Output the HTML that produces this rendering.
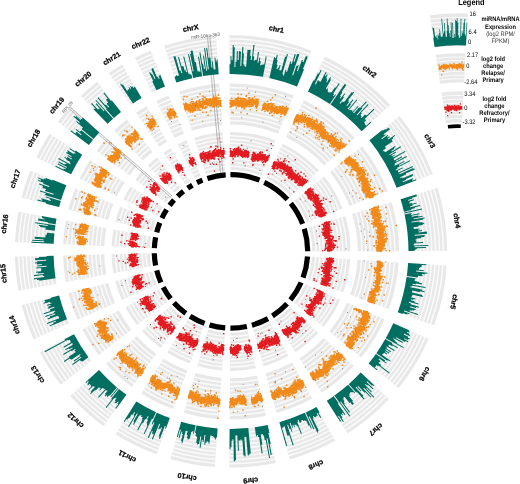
<!DOCTYPE html><html><head><meta charset="utf-8"><style>html,body{margin:0;padding:0;background:#fff;width:520px;height:484px;overflow:hidden}svg{display:block;font-family:"Liberation Sans",sans-serif;text-rendering:geometricPrecision}</style></head><body>
<svg width="520" height="484" viewBox="0 0 520 484">
<path fill="#e8e8e8" d="M230.07 131.9A119.5 119.5 0 0 1 275.46 140.48L261.25 175.94A81.3 81.3 0 0 0 230.37 170.1ZM229.69 83.41A168 168 0 0 1 293.5 95.46L278.17 133.7A126.8 126.8 0 0 0 230.01 124.6ZM229.32 35.21A216.2 216.2 0 0 1 311.43 50.72L297.04 86.64A177.5 177.5 0 0 0 229.62 73.91ZM282.84 143.73A119.5 119.5 0 0 1 318.95 170.5L290.84 196.36A81.3 81.3 0 0 0 266.27 178.15ZM303.88 100.03A168 168 0 0 1 354.65 137.67L324.32 165.56A126.8 126.8 0 0 0 286.01 137.15ZM324.79 56.6A216.2 216.2 0 0 1 390.12 105.04L361.64 131.23A177.5 177.5 0 0 0 308 91.47ZM324.21 176.62A119.5 119.5 0 0 1 342.57 208.6L306.91 222.28A81.3 81.3 0 0 0 294.41 200.52ZM362.04 146.27A168 168 0 0 1 387.85 191.23L349.39 205.98A126.8 126.8 0 0 0 329.9 172.05ZM399.64 116.11A216.2 216.2 0 0 1 432.86 173.96L396.72 187.83A177.5 177.5 0 0 0 369.45 140.32ZM345.21 216.23A119.5 119.5 0 0 1 350.5 251.21L312.3 251.27A81.3 81.3 0 0 0 308.7 227.47ZM391.56 201.95A168 168 0 0 1 399 251.13L357.8 251.2A126.8 126.8 0 0 0 352.18 214.08ZM437.62 187.76A216.2 216.2 0 0 1 447.2 251.06L408.5 251.12A177.5 177.5 0 0 0 400.64 199.15ZM350.24 259.28A119.5 119.5 0 0 1 343.27 292.33L307.38 279.25A81.3 81.3 0 0 0 312.12 256.76ZM398.63 262.47A168 168 0 0 1 388.84 308.94L350.13 294.83A126.8 126.8 0 0 0 357.52 259.76ZM446.73 265.65A216.2 216.2 0 0 1 434.12 325.45L397.76 312.2A177.5 177.5 0 0 0 408.11 263.1ZM340.25 299.81A119.5 119.5 0 0 1 323.62 326.91L294.01 302.77A81.3 81.3 0 0 0 305.33 284.34ZM384.6 319.46A168 168 0 0 1 361.21 357.56L329.28 331.52A126.8 126.8 0 0 0 346.93 302.77ZM428.66 338.99A216.2 216.2 0 0 1 398.57 388.02L368.57 363.56A177.5 177.5 0 0 0 393.28 323.31ZM318.31 332.99A119.5 119.5 0 0 1 295.52 351.99L274.89 319.83A81.3 81.3 0 0 0 290.4 306.91ZM353.75 366.1A168 168 0 0 1 321.7 392.81L299.46 358.13A126.8 126.8 0 0 0 323.65 337.97ZM388.97 399.01A216.2 216.2 0 0 1 347.72 433.38L326.83 400.81A177.5 177.5 0 0 0 360.69 372.59ZM288.58 356.11A119.5 119.5 0 0 1 263.56 366.38L253.15 329.62A81.3 81.3 0 0 0 270.17 322.64ZM311.95 398.61A168 168 0 0 1 276.78 413.04L265.55 373.4A126.8 126.8 0 0 0 292.1 362.51ZM335.18 440.85A216.2 216.2 0 0 1 289.92 459.42L279.37 422.18A177.5 177.5 0 0 0 316.53 406.94ZM255.73 368.31A119.5 119.5 0 0 1 230.07 370.9L230.37 332.7A81.3 81.3 0 0 0 247.83 330.94ZM265.77 415.76A168 168 0 0 1 229.7 419.39L230.02 378.2A126.8 126.8 0 0 0 257.24 375.45ZM275.74 462.92A216.2 216.2 0 0 1 229.32 467.59L229.62 428.89A177.5 177.5 0 0 0 267.73 425.06ZM222.01 370.56A119.5 119.5 0 0 1 197.48 366.1L208.19 329.44A81.3 81.3 0 0 0 224.88 332.47ZM218.36 418.92A168 168 0 0 1 183.87 412.65L195.43 373.11A126.8 126.8 0 0 0 221.46 377.84ZM214.74 466.99A216.2 216.2 0 0 1 170.35 458.92L181.21 421.77A177.5 177.5 0 0 0 217.65 428.4ZM189.81 363.58A119.5 119.5 0 0 1 167.23 352.46L187.61 320.15A81.3 81.3 0 0 0 202.98 327.72ZM173.1 409.11A168 168 0 0 1 141.34 393.48L163.33 358.63A126.8 126.8 0 0 0 187.3 370.43ZM156.48 454.35A216.2 216.2 0 0 1 115.62 434.24L136.27 401.51A177.5 177.5 0 0 0 169.82 418.02ZM160.55 347.93A119.5 119.5 0 0 1 142.12 331.28L170.53 305.74A81.3 81.3 0 0 0 183.07 317.07ZM131.96 387.1A168 168 0 0 1 106.04 363.7L136.69 336.16A126.8 126.8 0 0 0 156.25 353.82ZM103.54 426.04A216.2 216.2 0 0 1 70.19 395.91L98.98 370.05A177.5 177.5 0 0 0 126.36 394.78ZM136.93 325.1A119.5 119.5 0 0 1 125.33 307.2L159.11 289.37A81.3 81.3 0 0 0 167 301.54ZM98.75 355.01A168 168 0 0 1 82.44 329.85L118.88 310.61A126.8 126.8 0 0 0 131.18 329.6ZM60.81 384.73A216.2 216.2 0 0 1 39.82 352.36L74.04 334.29A177.5 177.5 0 0 0 91.27 360.87ZM121.81 299.95A119.5 119.5 0 0 1 115.25 281.09L152.25 271.6A81.3 81.3 0 0 0 156.71 284.43ZM77.49 319.65A168 168 0 0 1 68.27 293.14L108.18 282.91A126.8 126.8 0 0 0 115.13 302.91ZM33.44 339.23A216.2 216.2 0 0 1 21.58 305.12L59.07 295.5A177.5 177.5 0 0 0 68.81 323.51ZM113.51 273.21A119.5 119.5 0 0 1 111.54 254.29L149.72 253.37A81.3 81.3 0 0 0 151.07 266.24ZM65.82 282.07A168 168 0 0 1 63.05 255.47L104.24 254.47A126.8 126.8 0 0 0 106.33 274.55ZM18.43 290.86A216.2 216.2 0 0 1 14.86 256.64L53.55 255.7A177.5 177.5 0 0 0 56.48 283.8ZM111.61 246.23A119.5 119.5 0 0 1 113.53 229.48L151.08 236.49A81.3 81.3 0 0 0 149.78 247.88ZM63.16 244.12A168 168 0 0 1 65.85 220.59L106.35 228.14A126.8 126.8 0 0 0 104.32 245.91ZM15 242.04A216.2 216.2 0 0 1 18.47 211.74L56.51 218.84A177.5 177.5 0 0 0 53.67 243.71ZM115.27 221.6A119.5 119.5 0 0 1 120.12 206.84L155.56 221.09A81.3 81.3 0 0 0 152.27 231.13ZM68.31 209.51A168 168 0 0 1 75.11 188.76L113.34 204.12A126.8 126.8 0 0 0 108.2 219.78ZM21.63 197.49A216.2 216.2 0 0 1 30.39 170.79L66.3 185.22A177.5 177.5 0 0 0 59.11 207.14ZM123.38 199.46A119.5 119.5 0 0 1 130.73 186.39L162.78 207.17A81.3 81.3 0 0 0 157.78 216.07ZM79.7 178.38A168 168 0 0 1 90.03 160.01L124.6 182.42A126.8 126.8 0 0 0 116.8 196.29ZM36.29 157.43A216.2 216.2 0 0 1 49.59 133.79L82.06 154.84A177.5 177.5 0 0 0 71.14 174.25ZM135.34 179.77A119.5 119.5 0 0 1 142.3 171.33L170.65 196.92A81.3 81.3 0 0 0 165.92 202.67ZM96.52 150.7A168 168 0 0 1 106.3 138.83L136.88 166.43A126.8 126.8 0 0 0 129.5 175.4ZM57.94 121.81A216.2 216.2 0 0 1 70.52 106.53L99.24 132.46A177.5 177.5 0 0 0 88.92 145.01ZM147.9 165.52A119.5 119.5 0 0 1 156.95 157.6L180.62 187.59A81.3 81.3 0 0 0 174.47 192.97ZM114.18 130.67A168 168 0 0 1 126.9 119.54L152.43 151.88A126.8 126.8 0 0 0 142.83 160.28ZM80.66 96.03A216.2 216.2 0 0 1 97.04 81.71L121.02 112.08A177.5 177.5 0 0 0 107.57 123.84ZM163.45 152.82A119.5 119.5 0 0 1 170.82 148.16L190.06 181.16A81.3 81.3 0 0 0 185.05 184.33ZM136.04 112.81A168 168 0 0 1 146.4 106.26L167.14 141.85A126.8 126.8 0 0 0 159.33 146.8ZM108.79 73.05A216.2 216.2 0 0 1 122.12 64.62L141.61 98.05A177.5 177.5 0 0 0 130.67 104.98ZM177.92 144.33A119.5 119.5 0 0 1 186.58 140.46L200.78 175.92A81.3 81.3 0 0 0 194.89 178.56ZM156.38 100.88A168 168 0 0 1 168.56 95.44L183.87 133.68A126.8 126.8 0 0 0 174.68 137.79ZM134.98 57.69A216.2 216.2 0 0 1 150.64 50.69L165.03 86.62A177.5 177.5 0 0 0 152.16 92.37ZM194.17 137.72A119.5 119.5 0 0 1 222.7 132.19L225.36 170.3A81.3 81.3 0 0 0 205.94 174.06ZM179.23 91.58A168 168 0 0 1 219.34 83.81L222.2 124.91A126.8 126.8 0 0 0 191.92 130.77ZM164.37 45.72A216.2 216.2 0 0 1 215.99 35.72L218.68 74.33A177.5 177.5 0 0 0 176.3 82.54Z"/>
<path fill="none" stroke="#fbfbfb" stroke-width="1.5" d="M230.34 166.28A85.12 85.12 0 0 1 262.67 172.39M230.31 162.46A88.94 88.94 0 0 1 264.09 168.84M230.28 158.64A92.76 92.76 0 0 1 265.51 165.3M230.25 154.82A96.58 96.58 0 0 1 266.93 161.75M230.22 151A100.4 100.4 0 0 1 268.35 158.21M230.19 147.18A104.22 104.22 0 0 1 269.77 154.66M230.16 143.36A108.04 108.04 0 0 1 271.19 151.12M230.13 139.54A111.86 111.86 0 0 1 272.62 147.57M230.1 135.72A115.68 115.68 0 0 1 274.04 144.02M229.98 120.48A130.92 130.92 0 0 1 279.71 129.88M229.95 116.36A135.04 135.04 0 0 1 281.24 126.05M229.92 112.24A139.16 139.16 0 0 1 282.77 122.23M229.89 108.12A143.28 143.28 0 0 1 284.31 118.4M229.85 104A147.4 147.4 0 0 1 285.84 114.58M229.82 99.88A151.52 151.52 0 0 1 287.37 110.76M229.79 95.76A155.64 155.64 0 0 1 288.9 106.93M229.76 91.64A159.76 159.76 0 0 1 290.44 103.11M229.73 87.52A163.88 163.88 0 0 1 291.97 99.28M229.59 70.04A181.37 181.37 0 0 1 298.48 83.05M229.56 66.17A185.24 185.24 0 0 1 299.92 79.46M229.53 62.3A189.11 189.11 0 0 1 301.36 75.86M229.5 58.43A192.98 192.98 0 0 1 302.8 72.27M229.47 54.56A196.85 196.85 0 0 1 304.24 68.68M229.44 50.69A200.72 200.72 0 0 1 305.68 65.09M229.41 46.82A204.59 204.59 0 0 1 307.11 61.5M229.38 42.95A208.46 208.46 0 0 1 308.55 57.9M229.35 39.08A212.33 212.33 0 0 1 309.99 54.31M267.93 174.71A85.12 85.12 0 0 1 293.65 193.77M269.58 171.27A88.94 88.94 0 0 1 296.46 191.19M271.24 167.82A92.76 92.76 0 0 1 299.27 188.6M272.9 164.38A96.58 96.58 0 0 1 302.08 186.02M274.56 160.94A100.4 100.4 0 0 1 304.89 183.43M276.21 157.5A104.22 104.22 0 0 1 307.71 180.84M277.87 154.06A108.04 108.04 0 0 1 310.52 178.26M279.53 150.61A111.86 111.86 0 0 1 313.33 175.67M281.19 147.17A115.68 115.68 0 0 1 316.14 173.09M287.8 133.44A130.92 130.92 0 0 1 327.36 162.77M289.58 129.73A135.04 135.04 0 0 1 330.39 159.98M291.37 126.02A139.16 139.16 0 0 1 333.42 157.19M293.16 122.31A143.28 143.28 0 0 1 336.45 154.4M294.95 118.59A147.4 147.4 0 0 1 339.49 151.61M296.73 114.88A151.52 151.52 0 0 1 342.52 148.82M298.52 111.17A155.64 155.64 0 0 1 345.55 146.03M300.31 107.46A159.76 159.76 0 0 1 348.58 143.24M302.1 103.74A163.88 163.88 0 0 1 351.61 140.46M309.68 87.99A181.37 181.37 0 0 1 364.49 128.61M311.36 84.5A185.24 185.24 0 0 1 367.34 125.99M313.04 81.01A189.11 189.11 0 0 1 370.18 123.37M314.72 77.53A192.98 192.98 0 0 1 373.03 120.75M316.4 74.04A196.85 196.85 0 0 1 375.88 118.13M318.08 70.55A200.72 200.72 0 0 1 378.73 115.51M319.76 67.07A204.59 204.59 0 0 1 381.58 112.89M321.44 63.58A208.46 208.46 0 0 1 384.43 110.28M323.11 60.09A212.33 212.33 0 0 1 387.27 107.66M297.39 198.13A85.12 85.12 0 0 1 310.47 220.91M300.37 195.74A88.94 88.94 0 0 1 314.04 219.54M303.35 193.35A92.76 92.76 0 0 1 317.61 218.18M306.33 190.96A96.58 96.58 0 0 1 321.17 216.81M309.31 188.57A100.4 100.4 0 0 1 324.74 215.44M312.29 186.18A104.22 104.22 0 0 1 328.31 214.07M315.27 183.79A108.04 108.04 0 0 1 331.87 212.7M318.25 181.4A111.86 111.86 0 0 1 335.44 211.34M321.23 179.01A115.68 115.68 0 0 1 339.01 209.97M333.12 169.47A130.92 130.92 0 0 1 353.23 204.51M336.33 166.9A135.04 135.04 0 0 1 357.08 203.03M339.55 164.32A139.16 139.16 0 0 1 360.93 201.56M342.76 161.74A143.28 143.28 0 0 1 364.77 200.08M345.97 159.16A147.4 147.4 0 0 1 368.62 198.61M349.19 156.58A151.52 151.52 0 0 1 372.47 197.13M352.4 154A155.64 155.64 0 0 1 376.31 195.65M355.61 151.43A159.76 159.76 0 0 1 380.16 194.18M358.83 148.85A163.88 163.88 0 0 1 384.01 192.7M372.47 137.9A181.37 181.37 0 0 1 400.34 186.44M375.49 135.48A185.24 185.24 0 0 1 403.95 185.05M378.51 133.06A189.11 189.11 0 0 1 407.56 183.67M381.52 130.64A192.98 192.98 0 0 1 411.18 182.28M384.54 128.22A196.85 196.85 0 0 1 414.79 180.89M387.56 125.79A200.72 200.72 0 0 1 418.4 179.51M390.58 123.37A204.59 204.59 0 0 1 422.02 178.12M393.6 120.95A208.46 208.46 0 0 1 425.63 176.74M396.62 118.53A212.33 212.33 0 0 1 429.24 175.35M312.35 226.35A85.12 85.12 0 0 1 316.12 251.26M316 225.22A88.94 88.94 0 0 1 319.94 251.26M319.65 224.1A92.76 92.76 0 0 1 323.76 251.25M323.3 222.97A96.58 96.58 0 0 1 327.58 251.25M326.95 221.85A100.4 100.4 0 0 1 331.4 251.24M330.6 220.72A104.22 104.22 0 0 1 335.22 251.23M334.25 219.6A108.04 108.04 0 0 1 339.04 251.23M337.9 218.47A111.86 111.86 0 0 1 342.86 251.22M341.56 217.35A115.68 115.68 0 0 1 346.68 251.22M356.12 212.86A130.92 130.92 0 0 1 361.92 251.19M360.06 211.65A135.04 135.04 0 0 1 366.04 251.19M364 210.44A139.16 139.16 0 0 1 370.16 251.18M367.93 209.23A143.28 143.28 0 0 1 374.28 251.17M371.87 208.01A147.4 147.4 0 0 1 378.4 251.17M375.81 206.8A151.52 151.52 0 0 1 382.52 251.16M379.75 205.59A155.64 155.64 0 0 1 386.64 251.15M383.68 204.38A159.76 159.76 0 0 1 390.76 251.15M387.62 203.16A163.88 163.88 0 0 1 394.88 251.14M404.34 198.01A181.37 181.37 0 0 1 412.37 251.11M408.03 196.88A185.24 185.24 0 0 1 416.24 251.11M411.73 195.74A189.11 189.11 0 0 1 420.11 251.1M415.43 194.6A192.98 192.98 0 0 1 423.98 251.09M419.13 193.46A196.85 196.85 0 0 1 427.85 251.09M422.83 192.32A200.72 200.72 0 0 1 431.72 251.08M426.53 191.18A204.59 204.59 0 0 1 435.59 251.08M430.23 190.04A208.46 208.46 0 0 1 439.46 251.07M433.92 188.9A212.33 212.33 0 0 1 443.33 251.06M315.93 257.01A85.12 85.12 0 0 1 310.97 280.55M319.75 257.26A88.94 88.94 0 0 1 314.56 281.86M323.56 257.51A92.76 92.76 0 0 1 318.15 283.17M327.37 257.76A96.58 96.58 0 0 1 321.74 284.48M331.18 258.02A100.4 100.4 0 0 1 325.33 285.79M334.99 258.27A104.22 104.22 0 0 1 328.92 287.1M338.81 258.52A108.04 108.04 0 0 1 332.51 288.4M342.62 258.77A111.86 111.86 0 0 1 336.09 289.71M346.43 259.02A115.68 115.68 0 0 1 339.68 291.02M361.64 260.03A130.92 130.92 0 0 1 354 296.24M365.75 260.3A135.04 135.04 0 0 1 357.87 297.65M369.86 260.57A139.16 139.16 0 0 1 361.74 299.06M373.97 260.84A143.28 143.28 0 0 1 365.61 300.47M378.08 261.11A147.4 147.4 0 0 1 369.48 301.89M382.19 261.39A151.52 151.52 0 0 1 373.36 303.3M386.3 261.66A155.64 155.64 0 0 1 377.23 304.71M390.41 261.93A159.76 159.76 0 0 1 381.1 306.12M394.52 262.2A163.88 163.88 0 0 1 384.97 307.53M411.98 263.35A181.37 181.37 0 0 1 401.4 313.52M415.84 263.61A185.24 185.24 0 0 1 405.04 314.85M419.7 263.86A189.11 189.11 0 0 1 408.67 316.17M423.56 264.12A192.98 192.98 0 0 1 412.31 317.5M427.42 264.37A196.85 196.85 0 0 1 415.94 318.82M431.28 264.63A200.72 200.72 0 0 1 419.58 320.15M435.15 264.88A204.59 204.59 0 0 1 423.22 321.47M439.01 265.14A208.46 208.46 0 0 1 426.85 322.8M442.87 265.39A212.33 212.33 0 0 1 430.49 324.12M308.82 285.88A85.12 85.12 0 0 1 296.97 305.19M312.31 287.43A88.94 88.94 0 0 1 299.93 307.6M315.81 288.98A92.76 92.76 0 0 1 302.89 310.01M319.3 290.53A96.58 96.58 0 0 1 305.85 312.43M322.79 292.08A100.4 100.4 0 0 1 308.82 314.84M326.28 293.62A104.22 104.22 0 0 1 311.78 317.26M329.78 295.17A108.04 108.04 0 0 1 314.74 319.67M333.27 296.72A111.86 111.86 0 0 1 317.7 322.08M336.76 298.27A115.68 115.68 0 0 1 320.66 324.5M350.69 304.44A130.92 130.92 0 0 1 332.47 334.13M354.46 306.11A135.04 135.04 0 0 1 335.66 336.73M358.23 307.78A139.16 139.16 0 0 1 338.86 339.33M362 309.45A143.28 143.28 0 0 1 342.05 341.94M365.76 311.12A147.4 147.4 0 0 1 345.24 344.54M369.53 312.79A151.52 151.52 0 0 1 348.44 347.14M373.3 314.45A155.64 155.64 0 0 1 351.63 349.75M377.06 316.12A159.76 159.76 0 0 1 354.82 352.35M380.83 317.79A163.88 163.88 0 0 1 358.02 354.95M396.82 324.88A181.37 181.37 0 0 1 371.57 366.01M400.36 326.45A185.24 185.24 0 0 1 374.57 368.45M403.9 328.01A189.11 189.11 0 0 1 377.57 370.9M407.43 329.58A192.98 192.98 0 0 1 380.57 373.34M410.97 331.15A196.85 196.85 0 0 1 383.57 375.79M414.51 332.72A200.72 200.72 0 0 1 386.57 378.23M418.05 334.29A204.59 204.59 0 0 1 389.57 380.68M421.59 335.85A208.46 208.46 0 0 1 392.57 383.12M425.12 337.42A212.33 212.33 0 0 1 395.57 385.57M293.19 309.52A85.12 85.12 0 0 1 276.95 323.05M295.98 312.12A88.94 88.94 0 0 1 279.02 326.26M298.77 314.73A92.76 92.76 0 0 1 281.08 329.48M301.57 317.34A96.58 96.58 0 0 1 283.14 332.7M304.36 319.95A100.4 100.4 0 0 1 285.2 335.91M307.15 322.56A104.22 104.22 0 0 1 287.27 339.13M309.94 325.17A108.04 108.04 0 0 1 289.33 342.34M312.73 327.77A111.86 111.86 0 0 1 291.39 345.56M315.52 330.38A115.68 115.68 0 0 1 293.45 348.77M326.66 340.79A130.92 130.92 0 0 1 301.68 361.6M329.67 343.6A135.04 135.04 0 0 1 303.91 365.07M332.68 346.41A139.16 139.16 0 0 1 306.13 368.54M335.69 349.23A143.28 143.28 0 0 1 308.35 372M338.7 352.04A147.4 147.4 0 0 1 310.58 375.47M341.71 354.85A151.52 151.52 0 0 1 312.8 378.94M344.72 357.66A155.64 155.64 0 0 1 315.03 382.41M347.73 360.48A159.76 159.76 0 0 1 317.25 385.88M350.74 363.29A163.88 163.88 0 0 1 319.48 389.34M363.52 375.23A181.37 181.37 0 0 1 328.92 404.07M366.34 377.87A185.24 185.24 0 0 1 331.01 407.32M369.17 380.52A189.11 189.11 0 0 1 333.1 410.58M372 383.16A192.98 192.98 0 0 1 335.19 413.84M374.83 385.8A196.85 196.85 0 0 1 337.28 417.1M377.66 388.44A200.72 200.72 0 0 1 339.37 420.35M380.48 391.09A204.59 204.59 0 0 1 341.46 423.61M383.31 393.73A208.46 208.46 0 0 1 343.54 426.87M386.14 396.37A212.33 212.33 0 0 1 345.63 430.13M272.02 325.99A85.12 85.12 0 0 1 254.2 333.3M273.86 329.33A88.94 88.94 0 0 1 255.24 336.97M275.7 332.68A92.76 92.76 0 0 1 256.28 340.65M277.54 336.03A96.58 96.58 0 0 1 257.32 344.32M279.38 339.38A100.4 100.4 0 0 1 258.36 348M281.22 342.72A104.22 104.22 0 0 1 259.4 351.68M283.06 346.07A108.04 108.04 0 0 1 260.44 355.35M284.9 349.42A111.86 111.86 0 0 1 261.48 359.03M286.74 352.77A115.68 115.68 0 0 1 262.52 362.7M294.08 366.12A130.92 130.92 0 0 1 266.68 377.37M296.07 369.73A135.04 135.04 0 0 1 267.8 381.33M298.05 373.34A139.16 139.16 0 0 1 268.92 385.29M300.04 376.95A143.28 143.28 0 0 1 270.04 389.26M302.02 380.56A147.4 147.4 0 0 1 271.17 393.22M304.01 384.17A151.52 151.52 0 0 1 272.29 397.19M306 387.78A155.64 155.64 0 0 1 273.41 401.15M307.98 391.39A159.76 159.76 0 0 1 274.54 405.11M309.97 395A163.88 163.88 0 0 1 275.66 409.08M318.39 410.33A181.37 181.37 0 0 1 280.42 425.91M320.26 413.72A185.24 185.24 0 0 1 281.48 429.63M322.12 417.11A189.11 189.11 0 0 1 282.53 433.35M323.99 420.5A192.98 192.98 0 0 1 283.59 437.08M325.85 423.89A196.85 196.85 0 0 1 284.64 440.8M327.72 427.28A200.72 200.72 0 0 1 285.7 444.52M329.58 430.67A204.59 204.59 0 0 1 286.75 448.25M331.45 434.06A208.46 208.46 0 0 1 287.81 451.97M333.31 437.45A212.33 212.33 0 0 1 288.86 455.69M248.62 334.68A85.12 85.12 0 0 1 230.34 336.52M249.41 338.41A88.94 88.94 0 0 1 230.31 340.34M250.2 342.15A92.76 92.76 0 0 1 230.28 344.16M250.99 345.89A96.58 96.58 0 0 1 230.25 347.98M251.78 349.63A100.4 100.4 0 0 1 230.22 351.8M252.57 353.36A104.22 104.22 0 0 1 230.19 355.62M253.36 357.1A108.04 108.04 0 0 1 230.16 359.44M254.15 360.84A111.86 111.86 0 0 1 230.13 363.26M254.94 364.58A115.68 115.68 0 0 1 230.1 367.08M258.09 379.49A130.92 130.92 0 0 1 229.98 382.32M258.95 383.52A135.04 135.04 0 0 1 229.95 386.44M259.8 387.55A139.16 139.16 0 0 1 229.92 390.56M260.65 391.58A143.28 143.28 0 0 1 229.89 394.68M261.51 395.61A147.4 147.4 0 0 1 229.86 398.8M262.36 399.64A151.52 151.52 0 0 1 229.82 402.92M263.21 403.67A155.64 155.64 0 0 1 229.79 407.04M264.06 407.7A159.76 159.76 0 0 1 229.76 411.16M264.92 411.73A163.88 163.88 0 0 1 229.73 415.28M268.54 428.84A181.37 181.37 0 0 1 229.59 432.76M269.34 432.63A185.24 185.24 0 0 1 229.56 436.63M270.14 436.42A189.11 189.11 0 0 1 229.53 440.5M270.94 440.2A192.98 192.98 0 0 1 229.5 444.37M271.74 443.99A196.85 196.85 0 0 1 229.47 448.24M272.54 447.77A200.72 200.72 0 0 1 229.44 452.11M273.34 451.56A204.59 204.59 0 0 1 229.41 455.98M274.14 455.35A208.46 208.46 0 0 1 229.38 459.85M274.94 459.13A212.33 212.33 0 0 1 229.35 463.72M224.6 336.28A85.12 85.12 0 0 1 207.12 333.1M224.31 340.09A88.94 88.94 0 0 1 206.05 336.77M224.02 343.9A92.76 92.76 0 0 1 204.98 340.44M223.74 347.71A96.58 96.58 0 0 1 203.91 344.1M223.45 351.52A100.4 100.4 0 0 1 202.84 347.77M223.16 355.32A104.22 104.22 0 0 1 201.76 351.44M222.87 359.13A108.04 108.04 0 0 1 200.69 355.1M222.59 362.94A111.86 111.86 0 0 1 199.62 358.77M222.3 366.75A115.68 115.68 0 0 1 198.55 362.44M221.15 381.95A130.92 130.92 0 0 1 194.27 377.06M220.84 386.06A135.04 135.04 0 0 1 193.12 381.02M220.53 390.17A139.16 139.16 0 0 1 191.96 384.97M220.22 394.27A143.28 143.28 0 0 1 190.81 388.93M219.91 398.38A147.4 147.4 0 0 1 189.65 392.88M219.6 402.49A151.52 151.52 0 0 1 188.5 396.84M219.29 406.6A155.64 155.64 0 0 1 187.34 400.79M218.98 410.71A159.76 159.76 0 0 1 186.18 404.75M218.67 414.82A163.88 163.88 0 0 1 185.03 408.7M217.36 432.26A181.37 181.37 0 0 1 180.12 425.49M217.07 436.12A185.24 185.24 0 0 1 179.04 429.2M216.78 439.97A189.11 189.11 0 0 1 177.95 432.92M216.48 443.83A192.98 192.98 0 0 1 176.86 436.63M216.19 447.69A196.85 196.85 0 0 1 175.78 440.35M215.9 451.55A200.72 200.72 0 0 1 174.69 444.06M215.61 455.41A204.59 204.59 0 0 1 173.61 447.78M215.32 459.27A208.46 208.46 0 0 1 172.52 451.49M215.03 463.13A212.33 212.33 0 0 1 171.44 455.2M201.66 331.3A85.12 85.12 0 0 1 185.57 323.39M200.35 334.89A88.94 88.94 0 0 1 183.54 326.62M199.03 338.48A92.76 92.76 0 0 1 181.5 329.85M197.71 342.06A96.58 96.58 0 0 1 179.46 333.08M196.4 345.65A100.4 100.4 0 0 1 177.42 336.31M195.08 349.23A104.22 104.22 0 0 1 175.38 339.54M193.76 352.82A108.04 108.04 0 0 1 173.34 342.77M192.45 356.41A111.86 111.86 0 0 1 171.3 346M191.13 359.99A115.68 115.68 0 0 1 169.26 349.23M185.88 374.3A130.92 130.92 0 0 1 161.13 362.12M184.46 378.17A135.04 135.04 0 0 1 158.93 365.6M183.04 382.03A139.16 139.16 0 0 1 156.73 369.09M181.62 385.9A143.28 143.28 0 0 1 154.54 372.57M180.2 389.77A147.4 147.4 0 0 1 152.34 376.05M178.78 393.64A151.52 151.52 0 0 1 150.14 379.54M177.36 397.5A155.64 155.64 0 0 1 147.94 383.02M175.94 401.37A159.76 159.76 0 0 1 145.74 386.51M174.52 405.24A163.88 163.88 0 0 1 143.54 389.99M168.49 421.66A181.37 181.37 0 0 1 134.21 404.78M167.16 425.29A185.24 185.24 0 0 1 132.14 408.06M165.82 428.92A189.11 189.11 0 0 1 130.08 411.33M164.49 432.56A192.98 192.98 0 0 1 128.01 414.6M163.15 436.19A196.85 196.85 0 0 1 125.95 417.87M161.82 439.82A200.72 200.72 0 0 1 123.88 421.15M160.49 443.45A204.59 204.59 0 0 1 121.82 424.42M159.15 447.09A208.46 208.46 0 0 1 119.75 427.69M157.82 450.72A212.33 212.33 0 0 1 117.69 430.97M180.82 320.16A85.12 85.12 0 0 1 167.69 308.3M178.57 323.24A88.94 88.94 0 0 1 164.85 310.85M176.32 326.33A92.76 92.76 0 0 1 162.01 313.4M174.06 329.41A96.58 96.58 0 0 1 159.17 315.96M171.81 332.5A100.4 100.4 0 0 1 156.32 318.51M169.56 335.58A104.22 104.22 0 0 1 153.48 321.06M167.31 338.67A108.04 108.04 0 0 1 150.64 323.62M165.06 341.75A111.86 111.86 0 0 1 147.8 326.17M162.8 344.84A115.68 115.68 0 0 1 144.96 328.72M153.82 357.15A130.92 130.92 0 0 1 133.62 338.91M151.39 360.48A135.04 135.04 0 0 1 130.56 341.66M148.96 363.81A139.16 139.16 0 0 1 127.5 344.42M146.53 367.13A143.28 143.28 0 0 1 124.43 347.17M144.1 370.46A147.4 147.4 0 0 1 121.37 349.93M141.67 373.79A151.52 151.52 0 0 1 118.3 352.68M139.25 377.12A155.64 155.64 0 0 1 115.24 355.43M136.82 380.45A159.76 159.76 0 0 1 112.17 358.19M134.39 383.77A163.88 163.88 0 0 1 109.11 360.94M124.08 397.9A181.37 181.37 0 0 1 96.1 372.63M121.8 401.03A185.24 185.24 0 0 1 93.22 375.22M119.51 404.15A189.11 189.11 0 0 1 90.34 377.81M117.23 407.28A192.98 192.98 0 0 1 87.47 380.39M114.95 410.41A196.85 196.85 0 0 1 84.59 382.98M112.67 413.53A200.72 200.72 0 0 1 81.71 385.57M110.39 416.66A204.59 204.59 0 0 1 78.83 388.15M108.11 419.78A208.46 208.46 0 0 1 75.95 390.74M105.83 422.91A212.33 212.33 0 0 1 73.07 393.33M163.99 303.89A85.12 85.12 0 0 1 155.73 291.15M160.99 306.25A88.94 88.94 0 0 1 152.35 292.93M157.98 308.61A92.76 92.76 0 0 1 148.98 294.72M154.97 310.96A96.58 96.58 0 0 1 145.6 296.5M151.97 313.32A100.4 100.4 0 0 1 142.22 298.29M148.96 315.67A104.22 104.22 0 0 1 138.84 300.07M145.95 318.03A108.04 108.04 0 0 1 135.46 301.85M142.94 320.38A111.86 111.86 0 0 1 132.09 303.64M139.94 322.74A115.68 115.68 0 0 1 128.71 305.42M127.94 332.14A130.92 130.92 0 0 1 115.23 312.54M124.7 334.68A135.04 135.04 0 0 1 111.59 314.46M121.45 337.22A139.16 139.16 0 0 1 107.95 316.39M118.21 339.76A143.28 143.28 0 0 1 104.3 318.31M114.97 342.3A147.4 147.4 0 0 1 100.66 320.23M111.72 344.84A151.52 151.52 0 0 1 97.02 322.16M108.48 347.38A155.64 155.64 0 0 1 93.37 324.08M105.24 349.92A159.76 159.76 0 0 1 89.73 326.01M101.99 352.47A163.88 163.88 0 0 1 86.09 327.93M88.23 363.25A181.37 181.37 0 0 1 70.62 336.1M85.18 365.64A185.24 185.24 0 0 1 67.2 337.9M82.13 368.03A189.11 189.11 0 0 1 63.78 339.71M79.09 370.41A192.98 192.98 0 0 1 60.35 341.52M76.04 372.8A196.85 196.85 0 0 1 56.93 343.33M72.99 375.19A200.72 200.72 0 0 1 53.51 345.13M69.95 377.57A204.59 204.59 0 0 1 50.09 346.94M66.9 379.96A208.46 208.46 0 0 1 46.67 348.75M63.86 382.35A212.33 212.33 0 0 1 43.24 350.55M153.22 285.98A85.12 85.12 0 0 1 148.55 272.55M149.73 287.53A88.94 88.94 0 0 1 144.85 273.5M146.24 289.08A92.76 92.76 0 0 1 141.15 274.45M142.75 290.64A96.58 96.58 0 0 1 137.45 275.4M139.26 292.19A100.4 100.4 0 0 1 133.75 276.35M135.77 293.74A104.22 104.22 0 0 1 130.05 277.3M132.28 295.29A108.04 108.04 0 0 1 126.35 278.24M128.79 296.84A111.86 111.86 0 0 1 122.65 279.19M125.3 298.39A115.68 115.68 0 0 1 118.95 280.14M111.37 304.59A130.92 130.92 0 0 1 104.19 283.93M107.61 306.26A135.04 135.04 0 0 1 100.19 284.95M103.84 307.93A139.16 139.16 0 0 1 96.2 285.98M100.08 309.61A143.28 143.28 0 0 1 92.21 287M96.31 311.28A147.4 147.4 0 0 1 88.22 288.02M92.55 312.95A151.52 151.52 0 0 1 84.23 289.05M88.78 314.63A155.64 155.64 0 0 1 80.24 290.07M85.02 316.3A159.76 159.76 0 0 1 76.25 291.1M81.25 317.98A163.88 163.88 0 0 1 72.26 292.12M65.27 325.08A181.37 181.37 0 0 1 55.32 296.47M61.73 326.65A185.24 185.24 0 0 1 51.57 297.43M58.2 328.22A189.11 189.11 0 0 1 47.82 298.39M54.66 329.8A192.98 192.98 0 0 1 44.07 299.35M51.13 331.37A196.85 196.85 0 0 1 40.32 300.31M47.59 332.94A200.72 200.72 0 0 1 36.57 301.27M44.05 334.51A204.59 204.59 0 0 1 32.83 302.23M40.52 336.09A208.46 208.46 0 0 1 29.08 303.2M36.98 337.66A212.33 212.33 0 0 1 25.33 304.16M147.31 266.94A85.12 85.12 0 0 1 145.9 253.46M143.55 267.63A88.94 88.94 0 0 1 142.09 253.55M139.8 268.33A92.76 92.76 0 0 1 138.27 253.65M136.04 269.03A96.58 96.58 0 0 1 134.45 253.74M132.29 269.73A100.4 100.4 0 0 1 130.63 253.83M128.53 270.42A104.22 104.22 0 0 1 126.81 253.92M124.78 271.12A108.04 108.04 0 0 1 122.99 254.02M121.02 271.82A111.86 111.86 0 0 1 119.17 254.11M117.26 272.52A115.68 115.68 0 0 1 115.35 254.2M102.28 275.3A130.92 130.92 0 0 1 100.12 254.57M98.23 276.05A135.04 135.04 0 0 1 96 254.67M94.18 276.8A139.16 139.16 0 0 1 91.88 254.77M90.13 277.55A143.28 143.28 0 0 1 87.76 254.87M86.08 278.31A147.4 147.4 0 0 1 83.64 254.97M82.03 279.06A151.52 151.52 0 0 1 79.52 255.07M77.97 279.81A155.64 155.64 0 0 1 75.41 255.17M73.92 280.56A159.76 159.76 0 0 1 71.29 255.27M69.87 281.31A163.88 163.88 0 0 1 67.17 255.37M52.68 284.51A181.37 181.37 0 0 1 49.68 255.79M48.87 285.21A185.24 185.24 0 0 1 45.81 255.89M45.07 285.92A189.11 189.11 0 0 1 41.95 255.98M41.26 286.63A192.98 192.98 0 0 1 38.08 256.07M37.46 287.33A196.85 196.85 0 0 1 34.21 256.17M33.65 288.04A200.72 200.72 0 0 1 30.34 256.26M29.85 288.75A204.59 204.59 0 0 1 26.47 256.35M26.04 289.45A208.46 208.46 0 0 1 22.6 256.45M22.24 290.16A212.33 212.33 0 0 1 18.73 256.54M145.96 247.71A85.12 85.12 0 0 1 147.32 235.79M142.14 247.55A88.94 88.94 0 0 1 143.57 235.09M138.33 247.38A92.76 92.76 0 0 1 139.81 234.39M134.51 247.22A96.58 96.58 0 0 1 136.06 233.69M130.69 247.05A100.4 100.4 0 0 1 132.3 232.98M126.88 246.89A104.22 104.22 0 0 1 128.55 232.28M123.06 246.72A108.04 108.04 0 0 1 124.79 231.58M119.24 246.56A111.86 111.86 0 0 1 121.04 230.88M115.43 246.39A115.68 115.68 0 0 1 117.28 230.18M100.2 245.73A130.92 130.92 0 0 1 102.3 227.39M96.09 245.55A135.04 135.04 0 0 1 98.25 226.63M91.97 245.37A139.16 139.16 0 0 1 94.2 225.88M87.85 245.2A143.28 143.28 0 0 1 90.15 225.12M83.74 245.02A147.4 147.4 0 0 1 86.1 224.36M79.62 244.84A151.52 151.52 0 0 1 82.05 223.61M75.51 244.66A155.64 155.64 0 0 1 78 222.85M71.39 244.48A159.76 159.76 0 0 1 73.95 222.1M67.27 244.3A163.88 163.88 0 0 1 69.9 221.34M49.8 243.55A181.37 181.37 0 0 1 52.71 218.13M45.93 243.38A185.24 185.24 0 0 1 48.9 217.42M42.07 243.21A189.11 189.11 0 0 1 45.1 216.71M38.2 243.04A192.98 192.98 0 0 1 41.29 216M34.33 242.88A196.85 196.85 0 0 1 37.49 215.29M30.47 242.71A200.72 200.72 0 0 1 33.69 214.58M26.6 242.54A204.59 204.59 0 0 1 29.88 213.87M22.74 242.37A208.46 208.46 0 0 1 26.08 213.16M18.87 242.21A212.33 212.33 0 0 1 22.27 212.45M148.57 230.18A85.12 85.12 0 0 1 152.02 219.66M144.87 229.22A88.94 88.94 0 0 1 148.47 218.24M141.17 228.27A92.76 92.76 0 0 1 144.93 216.81M137.47 227.32A96.58 96.58 0 0 1 141.38 215.39M133.77 226.37A100.4 100.4 0 0 1 137.84 213.97M130.07 225.41A104.22 104.22 0 0 1 134.3 212.54M126.37 224.46A108.04 108.04 0 0 1 130.75 211.12M122.67 223.51A111.86 111.86 0 0 1 127.21 209.69M118.97 222.56A115.68 115.68 0 0 1 123.66 208.27M104.22 218.76A130.92 130.92 0 0 1 109.52 202.59M100.23 217.73A135.04 135.04 0 0 1 105.7 201.05M96.24 216.7A139.16 139.16 0 0 1 101.87 199.51M92.25 215.67A143.28 143.28 0 0 1 98.05 197.98M88.26 214.65A147.4 147.4 0 0 1 94.23 196.44M84.27 213.62A151.52 151.52 0 0 1 90.41 194.9M80.28 212.59A155.64 155.64 0 0 1 86.58 193.37M76.29 211.57A159.76 159.76 0 0 1 82.76 191.83M72.3 210.54A163.88 163.88 0 0 1 78.94 190.3M55.36 206.18A181.37 181.37 0 0 1 62.71 183.78M51.61 205.21A185.24 185.24 0 0 1 59.12 182.33M47.86 204.25A189.11 189.11 0 0 1 55.53 180.89M44.12 203.28A192.98 192.98 0 0 1 51.94 179.45M40.37 202.32A196.85 196.85 0 0 1 48.34 178M36.62 201.35A200.72 200.72 0 0 1 44.75 176.56M32.87 200.39A204.59 204.59 0 0 1 41.16 175.12M29.12 199.42A208.46 208.46 0 0 1 37.57 173.67M25.38 198.46A212.33 212.33 0 0 1 33.98 172.23M154.34 214.4A85.12 85.12 0 0 1 159.58 205.1M150.9 212.74A88.94 88.94 0 0 1 156.37 203.02M147.46 211.08A92.76 92.76 0 0 1 153.17 200.94M144.02 209.42A96.58 96.58 0 0 1 149.96 198.86M140.58 207.76A100.4 100.4 0 0 1 146.76 196.78M137.14 206.1A104.22 104.22 0 0 1 143.55 194.7M133.7 204.44A108.04 108.04 0 0 1 140.34 192.63M130.26 202.78A111.86 111.86 0 0 1 137.14 190.55M126.82 201.12A115.68 115.68 0 0 1 133.93 188.47M113.09 194.5A130.92 130.92 0 0 1 121.15 180.18M109.38 192.71A135.04 135.04 0 0 1 117.69 177.94M105.67 190.92A139.16 139.16 0 0 1 114.23 175.7M101.96 189.13A143.28 143.28 0 0 1 110.78 173.46M98.25 187.34A147.4 147.4 0 0 1 107.32 171.22M94.54 185.55A151.52 151.52 0 0 1 103.86 168.97M90.83 183.76A155.64 155.64 0 0 1 100.4 166.73M87.12 181.96A159.76 159.76 0 0 1 96.95 164.49M83.41 180.17A163.88 163.88 0 0 1 93.49 162.25M67.66 172.57A181.37 181.37 0 0 1 78.81 152.74M64.17 170.89A185.24 185.24 0 0 1 75.57 150.63M60.69 169.21A189.11 189.11 0 0 1 72.32 148.53M57.2 167.53A192.98 192.98 0 0 1 69.07 146.42M53.71 165.84A196.85 196.85 0 0 1 65.83 144.31M50.23 164.16A200.72 200.72 0 0 1 62.58 142.21M46.74 162.48A204.59 204.59 0 0 1 59.33 140.1M43.26 160.8A208.46 208.46 0 0 1 56.08 138M39.77 159.12A212.33 212.33 0 0 1 52.84 135.89M162.86 200.38A85.12 85.12 0 0 1 167.82 194.36M159.81 198.09A88.94 88.94 0 0 1 164.98 191.8M156.75 195.8A92.76 92.76 0 0 1 162.15 189.24M153.69 193.51A96.58 96.58 0 0 1 159.31 186.68M150.63 191.22A100.4 100.4 0 0 1 156.47 184.12M147.58 188.93A104.22 104.22 0 0 1 153.64 181.56M144.52 186.64A108.04 108.04 0 0 1 150.8 179M141.46 184.35A111.86 111.86 0 0 1 147.97 176.45M138.4 182.06A115.68 115.68 0 0 1 145.13 173.89M126.2 172.93A130.92 130.92 0 0 1 133.82 163.67M122.91 170.46A135.04 135.04 0 0 1 130.76 160.91M119.61 167.99A139.16 139.16 0 0 1 127.7 158.15M116.31 165.52A143.28 143.28 0 0 1 124.64 155.39M113.01 163.05A147.4 147.4 0 0 1 121.59 152.63M109.71 160.58A151.52 151.52 0 0 1 118.53 149.87M106.42 158.11A155.64 155.64 0 0 1 115.47 147.11M103.12 155.64A159.76 159.76 0 0 1 112.41 144.35M99.82 153.17A163.88 163.88 0 0 1 109.35 141.59M85.82 142.69A181.37 181.37 0 0 1 96.37 129.87M82.72 140.37A185.24 185.24 0 0 1 93.5 127.27M79.62 138.05A189.11 189.11 0 0 1 90.63 124.68M76.53 135.73A192.98 192.98 0 0 1 87.75 122.09M73.43 133.41A196.85 196.85 0 0 1 84.88 119.5M70.33 131.09A200.72 200.72 0 0 1 82.01 116.9M67.23 128.77A204.59 204.59 0 0 1 79.13 114.31M64.14 126.45A208.46 208.46 0 0 1 76.26 111.72M61.04 124.13A212.33 212.33 0 0 1 73.39 109.12M171.81 190.23A85.12 85.12 0 0 1 178.26 184.59M169.15 187.48A88.94 88.94 0 0 1 175.89 181.59M166.5 184.74A92.76 92.76 0 0 1 173.52 178.59M163.84 181.99A96.58 96.58 0 0 1 171.16 175.59M161.18 179.25A100.4 100.4 0 0 1 168.79 172.6M158.53 176.5A104.22 104.22 0 0 1 166.42 169.6M155.87 173.76A108.04 108.04 0 0 1 164.06 166.6M153.21 171.01A111.86 111.86 0 0 1 161.69 163.6M150.56 168.27A115.68 115.68 0 0 1 159.32 160.6M139.96 157.32A130.92 130.92 0 0 1 149.88 148.64M137.1 154.35A135.04 135.04 0 0 1 147.33 145.41M134.23 151.39A139.16 139.16 0 0 1 144.77 142.17M131.37 148.43A143.28 143.28 0 0 1 142.22 138.94M128.5 145.47A147.4 147.4 0 0 1 139.67 135.71M125.64 142.51A151.52 151.52 0 0 1 137.11 132.47M122.77 139.55A155.64 155.64 0 0 1 134.56 129.24M119.91 136.59A159.76 159.76 0 0 1 132.01 126M117.04 133.63A163.88 163.88 0 0 1 129.46 122.77M104.88 121.06A181.37 181.37 0 0 1 118.62 109.04M102.19 118.28A185.24 185.24 0 0 1 116.22 106.01M99.5 115.5A189.11 189.11 0 0 1 113.82 102.97M96.81 112.72A192.98 192.98 0 0 1 111.42 99.93M94.11 109.94A196.85 196.85 0 0 1 109.03 96.89M91.42 107.15A200.72 200.72 0 0 1 106.63 93.86M88.73 104.37A204.59 204.59 0 0 1 104.23 90.82M86.04 101.59A208.46 208.46 0 0 1 101.83 87.78M83.35 98.81A212.33 212.33 0 0 1 99.43 84.74M182.89 181.18A85.12 85.12 0 0 1 188.13 177.86M180.73 178.03A88.94 88.94 0 0 1 186.21 174.56M178.57 174.88A92.76 92.76 0 0 1 184.29 171.26M176.41 171.73A96.58 96.58 0 0 1 182.36 167.96M174.25 168.58A100.4 100.4 0 0 1 180.44 164.66M172.09 165.43A104.22 104.22 0 0 1 178.52 161.36M169.93 162.28A108.04 108.04 0 0 1 176.59 158.06M167.77 159.12A111.86 111.86 0 0 1 174.67 154.76M165.61 155.97A115.68 115.68 0 0 1 172.74 151.46M157 143.4A130.92 130.92 0 0 1 165.07 138.29M154.67 140A135.04 135.04 0 0 1 162.99 134.73M152.34 136.6A139.16 139.16 0 0 1 160.92 131.17M150.01 133.21A143.28 143.28 0 0 1 158.85 127.61M147.68 129.81A147.4 147.4 0 0 1 156.77 124.06M145.35 126.41A151.52 151.52 0 0 1 154.7 120.5M143.03 123.01A155.64 155.64 0 0 1 152.62 116.94M140.7 119.61A159.76 159.76 0 0 1 150.55 113.38M138.37 116.21A163.88 163.88 0 0 1 148.47 109.82M128.48 101.78A181.37 181.37 0 0 1 139.66 94.71M126.29 98.59A185.24 185.24 0 0 1 137.71 91.36M124.11 95.4A189.11 189.11 0 0 1 135.77 88.02M121.92 92.21A192.98 192.98 0 0 1 133.82 84.68M119.73 89.01A196.85 196.85 0 0 1 131.87 81.33M117.54 85.82A200.72 200.72 0 0 1 129.92 77.99M115.36 82.63A204.59 204.59 0 0 1 127.97 74.65M113.17 79.44A208.46 208.46 0 0 1 126.02 71.3M110.98 76.24A212.33 212.33 0 0 1 124.07 67.96M193.19 175.14A85.12 85.12 0 0 1 199.36 172.38M191.5 171.71A88.94 88.94 0 0 1 197.94 168.83M189.8 168.29A92.76 92.76 0 0 1 196.52 165.29M188.1 164.87A96.58 96.58 0 0 1 195.1 161.74M186.41 161.45A100.4 100.4 0 0 1 193.68 158.19M184.71 158.02A104.22 104.22 0 0 1 192.26 154.65M183.01 154.6A108.04 108.04 0 0 1 190.84 151.1M181.32 151.18A111.86 111.86 0 0 1 189.42 147.55M179.62 147.76A115.68 115.68 0 0 1 188 144.01M172.85 134.1A130.92 130.92 0 0 1 182.34 129.86M171.02 130.41A135.04 135.04 0 0 1 180.81 126.03M169.19 126.72A139.16 139.16 0 0 1 179.28 122.21M167.36 123.03A143.28 143.28 0 0 1 177.75 118.38M165.53 119.34A147.4 147.4 0 0 1 176.21 114.56M163.7 115.64A151.52 151.52 0 0 1 174.68 110.73M161.87 111.95A155.64 155.64 0 0 1 173.15 106.91M160.04 108.26A159.76 159.76 0 0 1 171.62 103.08M158.21 104.57A163.88 163.88 0 0 1 170.09 99.26M150.45 88.9A181.37 181.37 0 0 1 163.59 83.02M148.73 85.43A185.24 185.24 0 0 1 162.15 79.43M147.01 81.97A189.11 189.11 0 0 1 160.71 75.84M145.29 78.5A192.98 192.98 0 0 1 159.27 72.24M143.57 75.03A196.85 196.85 0 0 1 157.84 68.65M141.85 71.56A200.72 200.72 0 0 1 156.4 65.06M140.13 68.1A204.59 204.59 0 0 1 154.96 61.47M138.41 64.63A208.46 208.46 0 0 1 153.52 57.87M136.7 61.16A212.33 212.33 0 0 1 152.08 54.28M204.77 170.42A85.12 85.12 0 0 1 225.09 166.49M203.59 166.79A88.94 88.94 0 0 1 224.82 162.67M202.41 163.15A92.76 92.76 0 0 1 224.56 158.86M201.24 159.52A96.58 96.58 0 0 1 224.29 155.05M200.06 155.89A100.4 100.4 0 0 1 224.03 151.24M198.88 152.25A104.22 104.22 0 0 1 223.76 147.43M197.7 148.62A108.04 108.04 0 0 1 223.5 143.62M196.53 144.98A111.86 111.86 0 0 1 223.23 139.81M195.35 141.35A115.68 115.68 0 0 1 222.97 136M190.65 126.85A130.92 130.92 0 0 1 221.91 120.8M189.38 122.93A135.04 135.04 0 0 1 221.62 116.69M188.11 119.01A139.16 139.16 0 0 1 221.34 112.58M186.84 115.09A143.28 143.28 0 0 1 221.05 108.47M185.57 111.17A147.4 147.4 0 0 1 220.77 104.36M184.3 107.25A151.52 151.52 0 0 1 220.48 100.25M183.03 103.34A155.64 155.64 0 0 1 220.19 96.14M181.76 99.42A159.76 159.76 0 0 1 219.91 92.03M180.5 95.5A163.88 163.88 0 0 1 219.62 87.92M175.11 78.86A181.37 181.37 0 0 1 218.41 70.47M173.91 75.18A185.24 185.24 0 0 1 218.14 66.61M172.72 71.49A189.11 189.11 0 0 1 217.87 62.75M171.53 67.81A192.98 192.98 0 0 1 217.6 58.89M170.33 64.13A196.85 196.85 0 0 1 217.33 55.03M169.14 60.45A200.72 200.72 0 0 1 217.06 51.16M167.95 56.77A204.59 204.59 0 0 1 216.8 47.3M166.76 53.09A208.46 208.46 0 0 1 216.53 43.44M165.56 49.4A212.33 212.33 0 0 1 216.26 39.58"/>
<path fill="#000" d="M230.38 172.1A79.3 79.3 0 0 1 260.5 177.79L258.57 182.62A74.1 74.1 0 0 0 230.42 177.3ZM265.4 179.95A79.3 79.3 0 0 1 289.36 197.71L285.54 201.24A74.1 74.1 0 0 0 263.15 184.64ZM292.85 201.78A79.3 79.3 0 0 1 305.04 223L300.18 224.86A74.1 74.1 0 0 0 288.8 205.03ZM306.79 228.06A79.3 79.3 0 0 1 310.3 251.27L305.1 251.28A74.1 74.1 0 0 0 301.82 229.59ZM310.13 256.63A79.3 79.3 0 0 1 305.5 278.56L300.62 276.78A74.1 74.1 0 0 0 304.94 256.28ZM303.5 283.53A79.3 79.3 0 0 1 292.46 301.51L288.43 298.22A74.1 74.1 0 0 0 298.75 281.42ZM288.94 305.54A79.3 79.3 0 0 1 273.81 318.15L271.01 313.77A74.1 74.1 0 0 0 285.14 301.99ZM269.21 320.89A79.3 79.3 0 0 1 252.61 327.7L251.19 322.7A74.1 74.1 0 0 0 266.71 316.33ZM247.41 328.98A79.3 79.3 0 0 1 230.38 330.7L230.43 325.5A74.1 74.1 0 0 0 246.34 323.9ZM225.04 330.48A79.3 79.3 0 0 1 208.75 327.52L210.21 322.52A74.1 74.1 0 0 0 225.43 325.29ZM203.67 325.84A79.3 79.3 0 0 1 188.68 318.46L191.45 314.07A74.1 74.1 0 0 0 205.46 320.96ZM184.25 315.45A79.3 79.3 0 0 1 172.02 304.41L175.89 300.93A74.1 74.1 0 0 0 187.32 311.25ZM168.58 300.3A79.3 79.3 0 0 1 160.88 288.43L165.48 286A74.1 74.1 0 0 0 172.67 297.1ZM158.54 283.62A79.3 79.3 0 0 1 154.19 271.1L159.22 269.81A74.1 74.1 0 0 0 163.29 281.5ZM153.03 265.88A79.3 79.3 0 0 1 151.72 253.32L156.92 253.19A74.1 74.1 0 0 0 158.14 264.93ZM151.77 247.97A79.3 79.3 0 0 1 153.05 236.85L158.16 237.81A74.1 74.1 0 0 0 156.97 248.19ZM154.2 231.63A79.3 79.3 0 0 1 157.42 221.83L162.24 223.77A74.1 74.1 0 0 0 159.24 232.92ZM159.58 216.93A79.3 79.3 0 0 1 164.46 208.26L168.82 211.09A74.1 74.1 0 0 0 164.26 219.19ZM167.52 203.87A79.3 79.3 0 0 1 172.14 198.26L176 201.75A74.1 74.1 0 0 0 171.69 206.99ZM175.86 194.41A79.3 79.3 0 0 1 181.86 189.16L185.09 193.24A74.1 74.1 0 0 0 179.47 198.15ZM186.18 185.98A79.3 79.3 0 0 1 191.07 182.89L193.68 187.38A74.1 74.1 0 0 0 189.12 190.27ZM195.78 180.35A79.3 79.3 0 0 1 201.53 177.78L203.46 182.61A74.1 74.1 0 0 0 198.09 185.01ZM206.56 175.96A79.3 79.3 0 0 1 225.49 172.29L225.86 177.48A74.1 74.1 0 0 0 208.16 180.91Z"/>
<g opacity="0.99">
<text transform="translate(276.03 31.63) rotate(11.5)" text-anchor="middle" font-weight="bold" font-size="7.2" stroke="#000" stroke-width="0.25">chr1</text>
<text transform="translate(368.05 73.42) rotate(37.35)" text-anchor="middle" font-weight="bold" font-size="7.2" stroke="#000" stroke-width="0.25">chr2</text>
<text transform="translate(427.78 142.06) rotate(60.59)" text-anchor="middle" font-weight="bold" font-size="7.2" stroke="#000" stroke-width="0.25">chr3</text>
<text transform="translate(454.62 220.96) rotate(81.85)" text-anchor="middle" font-weight="bold" font-size="7.2" stroke="#000" stroke-width="0.25">chr4</text>
<text transform="translate(451.67 301.33) rotate(102.35)" text-anchor="middle" font-weight="bold" font-size="7.2" stroke="#000" stroke-width="0.25">chr5</text>
<text transform="translate(422.59 372.69) rotate(121.99)" text-anchor="middle" font-weight="bold" font-size="7.2" stroke="#000" stroke-width="0.25">chr6</text>
<text transform="translate(374.26 427.67) rotate(140.64)" text-anchor="middle" font-weight="bold" font-size="7.2" stroke="#000" stroke-width="0.25">chr7</text>
<text transform="translate(315.11 462.66) rotate(158.14)" text-anchor="middle" font-weight="bold" font-size="7.2" stroke="#000" stroke-width="0.25">chr8</text>
<text transform="translate(250.49 478.06) rotate(175.05)" text-anchor="middle" font-weight="bold" font-size="7.2" stroke="#000" stroke-width="0.25">chr9</text>
<text transform="translate(187.5 474.67) rotate(191.1)" text-anchor="middle" font-weight="bold" font-size="7.2" stroke="#000" stroke-width="0.25">chr10</text>
<text transform="translate(128.42 454.26) rotate(207.01)" text-anchor="middle" font-weight="bold" font-size="7.2" stroke="#000" stroke-width="0.25">chr11</text>
<text transform="translate(77.26 418.51) rotate(222.89)" text-anchor="middle" font-weight="bold" font-size="7.2" stroke="#000" stroke-width="0.25">chr12</text>
<text transform="translate(39.76 373.23) rotate(237.84)" text-anchor="middle" font-weight="bold" font-size="7.2" stroke="#000" stroke-width="0.25">chr13</text>
<text transform="translate(16.62 324.22) rotate(251.62)" text-anchor="middle" font-weight="bold" font-size="7.2" stroke="#000" stroke-width="0.25">chr14</text>
<text transform="translate(6.01 273.29) rotate(264.85)" text-anchor="middle" font-weight="bold" font-size="7.2" stroke="#000" stroke-width="0.25">chr15</text>
<text transform="translate(6.94 224.2) rotate(277.33)" text-anchor="middle" font-weight="bold" font-size="7.2" stroke="#000" stroke-width="0.25">chr16</text>
<text transform="translate(17.36 179.58) rotate(288.97)" text-anchor="middle" font-weight="bold" font-size="7.2" stroke="#000" stroke-width="0.25">chr17</text>
<text transform="translate(35.68 139.51) rotate(300.16)" text-anchor="middle" font-weight="bold" font-size="7.2" stroke="#000" stroke-width="0.25">chr18</text>
<text transform="translate(58.58 107.04) rotate(310.25)" text-anchor="middle" font-weight="bold" font-size="7.2" stroke="#000" stroke-width="0.25">chr19</text>
<text transform="translate(84.67 80.9) rotate(319.63)" text-anchor="middle" font-weight="bold" font-size="7.2" stroke="#000" stroke-width="0.25">chr20</text>
<text transform="translate(112.87 60.45) rotate(328.47)" text-anchor="middle" font-weight="bold" font-size="7.2" stroke="#000" stroke-width="0.25">chr21</text>
<text transform="translate(141.67 45.51) rotate(336.71)" text-anchor="middle" font-weight="bold" font-size="7.2" stroke="#000" stroke-width="0.25">chr22</text>
<text transform="translate(191.13 30.65) rotate(349.83)" text-anchor="middle" font-weight="bold" font-size="7.2" stroke="#000" stroke-width="0.25">chrX</text>
</g>
<path fill="none" stroke="#8a8a8a" stroke-width="0.6" d="M207.6 37.6L220.6 173.3M209.9 37.6L223 173.3"/>
<circle cx="218.7" cy="138.9" r="1.2" fill="none" stroke="#e88" stroke-width="0.5"/>
<path fill="none" stroke="#8a8a8a" stroke-width="0.6" d="M69.4 108.9L171 197.4M70.6 107.6L172.2 196.1"/>
<path fill="#006e60" d="M263 76.8A177.5 177.5 0 0 0 229.6 73.9L229.5 64.2 230.5 64.2L230.5 56.2 231.5 56.2L231.5 60.2 232.5 60.2L232.7 45 233.7 45L233.7 47.2 234.8 47.3L234.4 66.9 235.4 67L235.5 61.7 236.5 61.7L236.8 51.1 237.9 51.2L237.6 59.9 238.6 59.9L238.9 51.1 240 51.2L240 51.4 241 51.5L240.3 66.1 241.3 66.2L242.3 47.1 243.4 47.1L243 53.6 244 53.6L243.3 64.3 244.3 64.4L244.2 66.2 245.2 66.2L245.1 66.8 246.1 66.8L247.5 49.7 248.6 49.8L248.5 49.9 249.6 50L249.6 49.8 250.7 49.9L250.1 55.7 251.1 55.8L250.7 59.9 251.7 60L253.4 44.8 254.5 44.9L253.2 56.3 254.2 56.4L253.7 60.5 254.7 60.7L254.8 60 255.8 60.1L255.9 59.6 256.9 59.7L257.9 52 259 52.1L257.5 62.6 258.5 62.8L259.3 57.4 260.3 57.6L259.8 61 260.8 61.2L260.1 65.2 261.1 65.3L261.2 64.7 262.2 64.8L262.3 64.5 263.2 64.7L263.3 64.3 264.3 64.5L265.7 56.5 266.7 56.6ZM297 86.6A177.5 177.5 0 0 0 269.4 78.1L274.1 57.1 275.1 57.4L274.9 58.1 276 58.3L276.7 55 277.8 55.2L276.7 59.9 277.7 60.1L276.6 64.5 277.6 64.7L276.5 69 277.5 69.2L277.9 67.5 278.9 67.7L279.6 64.9 280.6 65.1L279.2 70.3 280.2 70.6L280.3 70.3 281.2 70.5L285 56.8 286.1 57.1L286.9 53.9 288 54.2L282.4 73.7 283.3 74L282.9 75.4 283.8 75.7L285.6 69.8 286.5 70.1L286 71.6 287 71.9L290.3 61.4 291.3 61.7L290.7 63.6 291.7 63.9L294.8 54.1 295.9 54.4L293.5 61.5 294.5 61.8L297.2 53.8 298.3 54.2L298.3 54 299.4 54.3L292.2 75.1 293.1 75.4L296.6 65.6 297.5 65.9L297.9 64.9 298.9 65.2L296.8 70.8 297.8 71.2L302 59.8 303 60.1L302.4 61.8 303.4 62.2L305.8 56 306.8 56.4L306.8 56.4 307.8 56.8L303 69 304 69.4ZM329.8 104A177.5 177.5 0 0 0 308 91.5L313.3 80.4 314.2 80.8L317.9 73.2 318.9 73.7L320.6 70.1 321.6 70.6L314.9 84 315.8 84.4L318 80.1 318.9 80.6L318.6 81 319.5 81.5L319.7 81.2 320.6 81.7L325.6 72.1 326.6 72.6L324.9 75.7 325.8 76.2L326.9 74.2 327.8 74.7L326.1 77.9 327 78.4L326.6 79.2 327.5 79.7L326.2 82 327 82.5L330.1 77.1 331 77.6L330.1 79.3 331 79.8L325.9 88.6 326.7 89.1L327.3 88.2 328.1 88.7L327.4 89.9 328.2 90.4L327.6 91.5 328.4 92L328.3 92.3 329.1 92.8L329.4 92.3 330.2 92.8L330.9 91.7 331.7 92.3L334.9 87.3 335.8 87.8L338.9 83 339.7 83.6L333.3 93.5 334.1 94.1L333.1 95.6 333.9 96.2L335.2 94.2 336 94.8ZM361.6 131.2A177.5 177.5 0 0 0 330.6 104.5L344.6 83.9 345.4 84.5L345.5 84.5 346.4 85.1L341.6 91.9 342.4 92.5L340.1 95.8 340.9 96.4L339.8 98 340.6 98.6L344.3 93.4 345.2 94L343.1 96.8 343.9 97.4L339.6 103.2 340.4 103.8L342.2 101.4 343 102L343.2 101.7 344 102.3L351.8 92 352.6 92.7L353.3 91.8 354.1 92.5L348.2 100 349 100.7L348.3 101.6 349.1 102.2L346.3 105.7 347.1 106.3L352.5 99.6 353.3 100.2L350.3 103.9 351.1 104.5L347.6 108.8 348.3 109.4L356.5 99.5 357.3 100.1L349.2 109.8 350 110.4L350.6 109.7 351.3 110.4L351.8 109.7 352.6 110.4L352 111.1 352.7 111.7L357.8 105.9 358.6 106.5L353.2 112.6 354 113.3L359.2 107.3 360 108L366.1 101.2 366.9 101.9L361.5 107.8 362.3 108.5L356.6 114.7 357.3 115.4L367.8 104.1 368.6 104.8L361 112.8 361.8 113.5L360.4 114.9 361.1 115.6L360.9 115.8 361.6 116.5L360.8 117.3 361.5 118L365 114.5 365.7 115.2L366.1 114.8 366.8 115.5L373.6 108.7 374.4 109.4L364.6 119.1 365.3 119.8L365.8 119.3 366.5 120L364.1 122.3 364.8 123L364.6 123.2 365.3 123.9L364.9 124.2 365.6 124.9L365.6 125 366.3 125.7L370.5 121.7 371.2 122.4ZM396.7 187.8A177.5 177.5 0 0 0 369.5 140.3L382.3 130 382.9 130.8L385.3 128.9 385.9 129.7L388.7 127.6 389.4 128.4L389.3 128.4 390 129.2L383.5 134.2 384.1 135L385.1 134.3 385.7 135.1L381.3 138.4 381.9 139.2L387.6 135 388.2 135.8L387 136.7 387.6 137.5L389.4 136.2 390 137L387.8 138.6 388.4 139.4L394.7 134.9 395.3 135.8L392.7 137.6 393.3 138.5L391.4 139.8 392 140.6L392.1 140.5 392.7 141.4L385 146.6 385.6 147.4L385.3 147.6 385.9 148.4L382.8 150.4 383.4 151.2L383.9 150.9 384.4 151.7L384.9 151.4 385.4 152.2L395 146 395.6 146.9L393.9 147.9 394.5 148.8L391.3 150.8 391.8 151.6L400.4 146.3 401 147.2L389.4 154.2 389.9 155.1L395.7 151.6 396.2 152.5L391.4 155.3 392 156.2L394.4 154.7 394.9 155.6L392.8 156.8 393.3 157.6L405 150.9 405.5 151.8L393.5 158.7 394 159.5L393.9 159.6 394.4 160.4L401.7 156.3 402.2 157.2L395.5 160.9 396 161.8L406.4 156.1 406.9 157L394.6 163.6 395.1 164.5L394.4 164.9 394.8 165.7L404.1 160.9 404.6 161.8L398.8 164.8 399.2 165.7L409.9 160.2 410.4 161.1L397.2 167.8 397.6 168.7L395.5 169.7 395.9 170.6L402.5 167.4 402.9 168.3L397.6 170.8 398 171.7L398.1 171.7 398.5 172.6L412.6 165.9 413.1 166.9L399.3 173.3 399.7 174.2L413.3 168 413.7 168.9L414.4 168.6 414.9 169.5L405.7 173.6 406.1 174.5L400 177.2 400.4 178.1L402.2 177.3 402.6 178.2L412.7 173.9 413.1 174.9L412.6 175.1 413 176L406 178.9 406.4 179.8L402.5 181.4 402.9 182.3L413 178.3 413.4 179.2L411.9 179.8 412.3 180.8L416 179.3 416.4 180.3ZM404 211.7A177.5 177.5 0 0 0 400.6 199.2L416.2 194.4 416.5 195.3L416.7 195.3 417 196.2L412.2 197.7 412.4 198.6L408 199.9 408.3 200.8L413.7 199.3 414 200.2L409.8 201.4 410 202.3L409.2 202.6 409.5 203.5L411.7 202.9 412 203.8L416.4 202.7 416.7 203.6L412.1 204.8 412.4 205.7L409.9 206.4 410.2 207.3L419.9 204.9 420.2 205.9L414.7 207.2 414.9 208.2L411.4 209 411.6 209.9ZM404.4 213.5A177.5 177.5 0 0 0 404.2 212.6L421.9 208.6 422.1 209.6ZM408.5 251.1A177.5 177.5 0 0 0 404.6 214.4L411.5 212.9 411.7 213.9L410.8 214 411 215L419.5 213.2 419.7 214.2L411.6 215.8 411.8 216.8L418.2 215.5 418.4 216.5L422.4 215.8 422.6 216.8L413.6 218.4 413.8 219.3L424.6 217.4 424.7 218.5L422.7 218.8 422.8 219.8L411.4 221.7 411.6 222.6L419.2 221.4 419.3 222.4L422.3 221.9 422.4 222.9L424.1 222.7 424.2 223.7L422.7 223.9 422.9 224.9L418.5 225.5 418.6 226.5L413.5 227.2 413.6 228.1L413.7 228.1 413.8 229.1L419.5 228.4 419.6 229.4L418.2 229.5 418.3 230.5L422 230.1 422.1 231.1L418.7 231.5 418.8 232.4L426.9 231.6 427 232.6L426.9 232.6 427 233.7L414.7 234.8 414.8 235.7L424.7 234.9 424.8 235.9L424.3 235.9 424.4 236.9L421 237.2 421.1 238.2L416.5 238.5 416.6 239.5L415.5 239.5 415.6 240.5L416.5 240.5 416.5 241.4L416.2 241.4 416.2 242.4L423 242.1 423 243.1L413.8 243.5 413.8 244.4L413.7 244.4 413.8 245.4L428.4 244.9 428.4 245.9L414.6 246.3 414.6 247.3L425.8 247 425.9 248L416.7 248.2 416.8 249.2L415.4 249.2 415.4 250.1L414.4 250.2 414.4 251.1ZM406.8 276.1A177.5 177.5 0 0 0 408.1 263.1L426.3 264.3 426.3 265.3L421.7 265 421.7 266L421.6 266 421.5 267L420.2 266.9 420.1 267.9L419.1 267.8 419 268.8L418.9 268.8 418.8 269.8L423.8 270.2 423.7 271.3L416.2 270.5 416.1 271.5L427.5 272.7 427.4 273.7L424.8 273.4 424.7 274.5L421.9 274.1 421.8 275.1L422.7 275.2 422.5 276.2L418.1 275.7 418 276.6L417.8 276.6 417.7 277.6ZM397.8 312.2A177.5 177.5 0 0 0 406.6 277L415.5 278.3 415.4 279.3L414.8 279.2 414.6 280.1L414.8 280.2 414.6 281.1L419.2 281.9 419 282.8L422 283.3 421.8 284.4L416 283.4 415.9 284.3L412.7 283.8 412.6 284.7L425.5 287.1 425.3 288.1L412.3 285.7 412.1 286.6L410.5 286.3 410.3 287.2L422.1 289.6 421.9 290.6L424.7 291.2 424.5 292.2L420.2 291.3 420 292.3L412.2 290.6 412 291.5L412.3 291.6 412.1 292.6L422.4 294.9 422.2 295.9L423 296.1 422.7 297.1L412.6 294.7 412.3 295.6L412.1 295.6 411.9 296.5L411.4 296.4 411.2 297.4L415.5 298.5 415.3 299.4L413.5 299 413.3 299.9L411 299.3 410.8 300.3L414.6 301.3 414.3 302.3L418.5 303.5 418.2 304.4L409 301.8 408.8 302.8L411 303.4 410.7 304.3L419 306.8 418.7 307.8L416.1 307 415.8 308L410.3 306.3 410 307.2L415.8 309 415.5 310L414.5 309.7 414.2 310.7L411.8 309.9 411.5 310.8L409.7 310.2 409.4 311.2L418.1 314.1 417.8 315.1L404.2 310.5 403.9 311.4L409.6 313.3 409.3 314.3L407.1 313.5 406.8 314.4L402.9 313 402.5 313.9ZM385.8 338.3A177.5 177.5 0 0 0 393.3 323.3L409.1 330.3 408.7 331.3L409.7 331.7 409.3 332.7L407.3 331.7 406.9 332.7L409.7 334 409.3 334.9L410 335.2 409.6 336.2L404 333.6 403.6 334.5L408.3 336.7 407.8 337.6L409.7 338.6 409.3 339.5L408.2 339 407.7 339.9L404.3 338.2 403.9 339.1L408.3 341.3 407.8 342.3L405.6 341.1 405.1 342L396 337.3 395.6 338.1L402.9 342 402.4 342.9L393.6 338.2 393.2 339.1L395 340.1 394.6 340.9L397.2 342.4 396.7 343.3L403.8 347.2 403.3 348.1ZM376.4 353.2A177.5 177.5 0 0 0 385.3 339.1L392.4 343.1 391.9 343.9L397.8 347.3 397.3 348.2L392.7 345.5 392.2 346.3L389 344.4 388.5 345.3L388.9 345.5 388.4 346.3L394.6 350.1 394.1 350.9L386.8 346.5 386.3 347.3L387 347.7 386.5 348.6L391.2 351.5 390.7 352.3L385.8 349.2 385.3 350.1L389.5 352.7 388.9 353.5L385.3 351.2 384.8 352L387.2 353.6 386.6 354.4L384.1 352.7 383.6 353.5L383.3 353.4 382.8 354.2L382.4 353.9 381.9 354.7L390.6 360.7 390.1 361.5L387.8 360 387.3 360.8ZM368.6 363.6A177.5 177.5 0 0 0 375.9 354L385.2 360.5 384.6 361.4L386.6 362.8 386.1 363.6L379.2 358.6 378.6 359.4L380.7 360.9 380.1 361.7L380 361.6 379.4 362.4L379.1 362.2 378.6 363L381.1 364.9 380.5 365.7L389.7 372.7 389.1 373.5L378.5 365.4 377.9 366.2L376.6 365.1 376 365.9L376.3 366.2 375.7 366.9L375.2 366.4 374.6 367.2L377.5 369.6 376.9 370.3ZM348.8 384.2A177.5 177.5 0 0 0 360.7 372.6L374.5 385.5 373.8 386.3L372.6 385.1 371.9 385.8L367.2 381.3 366.5 382L373.3 388.6 372.6 389.3L368 384.9 367.3 385.6L365.7 384 365 384.7L371.8 391.4 371.1 392.2L366.8 387.9 366.1 388.6L374.3 396.9 373.6 397.7L364 387.8 363.3 388.5L371.3 396.9 370.6 397.6L365.2 392 364.5 392.7L358.3 386.1 357.6 386.8L361.2 390.6 360.4 391.3L356.3 386.8 355.6 387.4L363.5 396.1 362.7 396.8L364.6 398.8 363.8 399.5L357 391.9 356.2 392.5ZM334.4 395.6A177.5 177.5 0 0 0 348.1 384.8L355 392.6 354.3 393.2L353 391.7 352.2 392.4L351.9 392 351.2 392.6L350.8 392.1 350 392.7L350.3 393.1 349.6 393.7L349.9 394.1 349.1 394.7L349.8 395.4 349 396L353 400.9 352.2 401.5L354 403.7 353.2 404.4L353.1 404.3 352.3 404.9L350.2 402.3 349.5 402.9L344.6 396.7 343.8 397.2L343.9 397.3 343.1 397.9L343.9 399 343.2 399.5L344.5 401.2 343.7 401.8L344.9 403.4 344.1 404L350 412 349.2 412.7L341 401.4 340.2 402L350.3 415.9 349.4 416.5ZM326.8 400.8A177.5 177.5 0 0 0 333.7 396.2L338.7 403.3 337.9 403.8L345.3 414.3 344.5 414.9L342.7 412.4 341.9 413L343 414.6 342.2 415.2L341.5 414.2 340.6 414.7L342.5 417.6 341.7 418.2L343.8 421.4 342.9 422L338.8 415.7 338 416.3L341.1 421.1 340.2 421.7ZM305.7 412.4A177.5 177.5 0 0 0 316.5 406.9L319.5 412.3 318.6 412.7L321.2 417.5 320.3 417.9L317.6 413 316.8 413.4L317.8 415.4 317 415.9L317 415.8 316.1 416.3L316.4 416.9 315.5 417.3L315.2 416.7 314.3 417.1L313.8 416.1 313 416.6L313.7 418.1 312.8 418.5L318.8 430.7 317.8 431.1L318.4 432.3 317.4 432.7L309.6 416.3 308.7 416.7L314.4 428.8 313.4 429.2ZM279.4 422.2A177.5 177.5 0 0 0 304.8 412.8L311.8 428.2 310.9 428.6L309.4 425.2 308.5 425.7L306.2 420.5 305.3 420.9L305 420.3 304.1 420.7L304.2 420.7 303.3 421.1L302.7 419.8 301.8 420.2L301.9 420.3 301 420.7L301.6 422.1 300.6 422.4L300.7 422.6 299.8 423L298.5 419.7 297.6 420L298.1 421.4 297.2 421.7L301.8 433.5 300.9 433.9L297.8 425.9 296.9 426.2L296.2 424.5 295.3 424.8L295.3 424.7 294.3 425L295 426.8 294.1 427.1L293.2 424.7 292.3 425L293.1 427.4 292.2 427.7L290.5 422.8 289.6 423.1L292.4 431.5 291.5 431.8L290.5 428.8 289.5 429.1L288.1 424.7 287.2 425L293.7 445.2 292.7 445.5L289.4 435.2 288.4 435.5L288.4 435.6 287.5 435.9L284.5 426.1 283.6 426.4L283.8 427.1 282.8 427.4L282.9 427.7 282 427.9L287.2 445.8 286.1 446.1ZM254.8 427.3A177.5 177.5 0 0 0 267.7 425.1L269.4 432.8 268.4 433L270.7 444 269.7 444.2L271.8 454.8 270.7 455.1L267.5 438.3 266.5 438.5L270.1 457.9 269.1 458.1L265.7 440 264.7 440.2L263.9 435.3 262.9 435.4L262.6 434 261.7 434.1L261.7 434.4 260.7 434.5L262.4 444.5 261.3 444.7L262.7 453.2 261.6 453.4L259.1 436.9 258.1 437L257.8 435 256.9 435.1L257 436.3 256.1 436.4ZM229.6 428.9A177.5 177.5 0 0 0 248.3 428.1L250.8 453.5 249.7 453.6L249.8 454.6 248.8 454.6L248.8 455.6 247.8 455.7L246.2 436.8 245.2 436.9L245.3 437.1 244.3 437.1L245.7 456.6 244.6 456.6L244.5 455.5 243.4 455.6L242.5 440.4 241.5 440.4L241.5 439.6 240.5 439.6L240.5 440.8 239.5 440.8L239.5 440.3 238.5 440.4L238.9 450.8 237.9 450.9L237.3 435.5 236.4 435.5L236.4 435.6 235.4 435.6L236 460.2 234.9 460.2L234.9 461.3 233.8 461.3L233.5 439.3 232.5 439.3L232.5 440.7 231.5 440.7L231.5 447.3 230.5 447.3L230.5 449.3 229.5 449.3ZM196.5 425.5A177.5 177.5 0 0 0 217.6 428.4L217 437.6 216 437.5L215.8 439.5 214.8 439.5L215 437.8 214 437.7L214.1 436.9 213.1 436.8L213.2 436.2 212.2 436.1L212.2 435.9 211.3 435.8L211.3 435.6 210.3 435.5L209.4 443.7 208.4 443.6L208.6 442.1 207.6 441.9L207.7 441.2 206.7 441.1L206.5 442.8 205.5 442.7L205.2 444.7 204.2 444.6L205.5 435 204.5 434.9L203.5 442 202.5 441.8L202.8 439.9 201.8 439.8L200.6 447.7 199.6 447.5L201.3 436.4 200.4 436.3L199.1 444.1 198.1 443.9L198 444.6 197 444.4L197.2 443 196.2 442.8L197.2 437.1 196.3 436.9L196.5 435.9 195.5 435.7L196 433.2 195 433ZM181.2 421.8A177.5 177.5 0 0 0 195.6 425.3L193.9 433.8 192.9 433.6L193.5 431.1 192.5 430.9L192.3 432 191.3 431.8L189.8 438.8 188.8 438.6L188.6 439.7 187.6 439.5L187.9 438.2 186.9 438L187.6 435.1 186.6 434.9L187.6 430.9 186.7 430.7L186.5 431.2 185.6 430.9L182.5 443 181.5 442.7L181.9 441.2 181 440.9L182.8 434.1 181.8 433.8L182.4 431.7 181.4 431.5L179.6 438 178.6 437.7L180.9 429.8 179.9 429.5L177.8 437.1 176.8 436.8ZM156.8 412.7A177.5 177.5 0 0 0 169.8 418L165.9 428.7 165 428.4L165.8 426.1 164.9 425.8L159.9 439 158.9 438.6L159.7 436.5 158.7 436.2L162 427.7 161.1 427.3L160.4 429 159.5 428.6L159.2 429.4 158.2 429L160.2 424.1 159.3 423.8L152.8 439.5 151.8 439.1L153.8 434.2 152.9 433.8L152.9 433.9 151.9 433.5L152.8 431.3 151.9 430.9L148.8 437.9 147.8 437.4L154.4 422.7 153.5 422.3L152.5 424.4 151.6 424ZM136.3 401.5A177.5 177.5 0 0 0 156 412.3L152.8 419.2 151.9 418.8L144.6 434.1 143.7 433.7L147.5 425.7 146.6 425.3L147.4 423.6 146.5 423.1L147.9 420.1 147.1 419.7L148.6 416.5 147.8 416.1L146 419.6 145.1 419.1L142.9 423.4 142 423L138.2 430.3 137.2 429.9L142.6 419.6 141.7 419.2L142.8 417.1 141.9 416.7L141.7 417.1 140.8 416.6L141.6 415.3 140.7 414.8L140.2 415.8 139.3 415.3L134 424.7 133.1 424.2L134.3 422 133.4 421.5L137.8 413.8 137 413.3L129 427 128.1 426.5L134.5 415.7 133.6 415.1L135.1 412.6 134.3 412.1L132.6 414.9 131.7 414.3L129.2 418.5 128.3 418L127.3 419.7 126.4 419.1L124.6 422 123.7 421.5ZM119 389.1A177.5 177.5 0 0 0 126.4 394.8L116.2 408.7 115.4 408.1L118.2 404.3 117.4 403.7L118.6 402.1 117.8 401.5L116.5 403.3 115.7 402.7L115.3 403.2 114.5 402.6L115.6 401.2 114.8 400.6L116.7 398.1 115.9 397.6L115.1 398.6 114.3 398L106.4 408 105.6 407.4L111.9 399.4 111.2 398.8ZM117.6 388A177.5 177.5 0 0 0 118.3 388.6L111.1 397.3 110.4 396.7ZM99 370A177.5 177.5 0 0 0 116.9 387.4L109.8 395.8 109 395.2L107.6 396.9 106.9 396.2L107.1 396 106.3 395.3L105.4 396.4 104.7 395.7L105.8 394.5 105 393.8L107.5 391 106.8 390.3L106.5 390.7 105.8 390.1L98.9 397.7 98.1 397L105.1 389.3 104.4 388.7L104.2 388.9 103.5 388.2L103.2 388.5 102.5 387.8L99.9 390.6 99.1 390L100.6 388.4 99.9 387.7L99.8 387.9 99 387.2L95.7 390.6 95 389.9L90.9 394.1 90.2 393.3L91.5 392 90.8 391.2L94.9 387.1 94.2 386.4L93.8 386.8 93.1 386.1L89 390.1 88.3 389.4L91.4 386.4 90.7 385.7L90.9 385.4 90.2 384.7L90.4 384.5 89.7 383.8L87.9 385.5 87.2 384.8L88.1 383.9 87.4 383.2L88.8 381.9 88.1 381.1L86.1 383 85.5 382.2ZM74 334.3A177.5 177.5 0 0 0 88.4 357.2L82.3 361.7 81.8 360.9L81.1 361.4 80.5 360.6L80.3 360.7 79.8 359.9L72.9 364.9 72.3 364.1L81.4 357.6 80.9 356.8L74.3 361.4 73.7 360.6L80.1 356.2 79.5 355.4L80.6 354.6 80 353.9L71.4 359.7 70.8 358.9L70.3 359.3 69.7 358.4L64.4 361.9 63.8 361.1L69.2 357.5 68.7 356.7L75.8 352 75.2 351.2L74.8 351.5 74.3 350.7L75.6 349.8 75.1 349L71.4 351.3 70.9 350.5L63.6 355 63.1 354.1L72.7 348.2 72.2 347.4L69.2 349.2 68.6 348.4L65.5 350.3 65 349.4L72.8 344.7 72.4 343.9L72.7 343.7 72.2 342.9L63.9 347.7 63.4 346.8L70.7 342.6 70.3 341.8L70.8 341.5 70.3 340.6L70.3 340.6 69.8 339.8L68.5 340.5 68 339.7L45 352.2 44.4 351.2L65 340.2 64.5 339.3ZM59.1 295.5A177.5 177.5 0 0 0 67 319.2L49.9 326.3 49.5 325.4L53.5 323.7 53.1 322.8L56.1 321.6 55.8 320.7L47.3 324 46.9 323.1L59.3 318.2 59 317.3L59.2 317.3 58.9 316.4L58 316.7 57.7 315.8L47.8 319.4 47.5 318.5L49.9 317.6 49.6 316.6L55.4 314.5 55.1 313.6L45.4 317 45.1 316.1L54.2 312.9 53.9 312L55.4 311.5 55 310.5L43.9 314.3 43.6 313.3L50.5 311 50.2 310.1L50.1 310.1 49.8 309.2L54.4 307.7 54.1 306.8L47.9 308.7 47.6 307.7L48.6 307.5 48.3 306.5L50.6 305.8 50.3 304.9L47.2 305.8 46.9 304.8L51.6 303.5 51.3 302.5L50.1 302.9 49.8 301.9L43.7 303.7 43.4 302.7L45.3 302.2 45 301.2L44.6 301.3 44.3 300.3L50.9 298.6 50.6 297.7ZM53.6 255.7A177.5 177.5 0 0 0 55.5 278.2L39.4 280.7 39.2 279.7L37 280 36.9 279L34.2 279.4 34 278.3L44.3 276.9 44.2 275.9L42.9 276.1 42.7 275.1L34.1 276.2 33.9 275.1L43.8 273.9 43.6 272.9L37.9 273.6 37.8 272.6L36 272.8 35.9 271.7L41.2 271.2 41.1 270.2L41.3 270.2 41.2 269.2L41.2 269.2 41.1 268.1L36.4 268.6 36.3 267.5L46.5 266.7 46.5 265.7L37.3 266.4 37.2 265.4L41.8 265.1 41.7 264L37.1 264.4 37 263.3L34.9 263.5 34.9 262.4L37.2 262.3 37.1 261.3L46.1 260.8 46.1 259.8L35.3 260.3 35.3 259.3L34.9 259.3 34.8 258.2L38.9 258.1 38.8 257.1L46.5 256.8 46.5 255.9ZM54.4 233.5A177.5 177.5 0 0 0 53.7 243.7L31.4 242.7 31.4 241.7L44.2 242.3 44.3 241.3L32.2 240.7 32.3 239.7L43.6 240.3 43.7 239.4L34.7 238.8 34.8 237.8L34.5 237.7 34.5 236.7L45.3 237.5 45.4 236.5L45.3 236.5 45.4 235.6L45.8 235.6 45.9 234.6L46.8 234.7 46.9 233.8L46.8 233.7 46.9 232.8ZM55.4 225.2A177.5 177.5 0 0 0 54.7 230.8L45.1 229.6 45.2 228.7L45.8 228.7 45.9 227.8L40 227 40.2 226L38.9 225.9 39 224.8L47.5 226 47.7 225.1L35.1 223.3 35.2 222.2ZM56.5 218.8A177.5 177.5 0 0 0 55.6 224.3L47.7 223.1 47.9 222.2L38.1 220.6 38.3 219.6L38 219.6 38.2 218.5L44.5 219.6 44.7 218.7L42.1 218.2 42.3 217.2L41.6 217.1 41.8 216.1ZM60.8 200.9A177.5 177.5 0 0 0 59.1 207.1L46 203.8 46.3 202.8L37.2 200.4 37.5 199.4L42.3 200.7 42.5 199.7L41 199.3 41.3 198.3L50.7 201 51 200L49.4 199.6 49.7 198.6L45.6 197.5 45.9 196.5ZM66.3 185.2A177.5 177.5 0 0 0 61.1 200L44.6 195.1 44.9 194.1L45.7 194.3 46 193.3L39.8 191.4 40.1 190.4L53.5 194.7 53.8 193.8L44.9 190.9 45.3 189.9L45.8 190.1 46.1 189.1L42.4 187.9 42.8 186.9L42.7 186.9 43.1 185.9L39.1 184.5 39.4 183.5L49 186.9 49.3 186L43.2 183.8 43.5 182.8L37.9 180.7 38.3 179.7L40.8 180.7 41.2 179.7L38.3 178.6 38.6 177.6L43.5 179.4 43.9 178.5L45.5 179.1 45.9 178.1L52.1 180.6 52.5 179.7ZM82.1 154.8A177.5 177.5 0 0 0 71.1 174.3L55.4 166.7 55.8 165.7L63.5 169.5 63.9 168.6L65.4 169.3 65.8 168.5L57.7 164.4 58.1 163.5L66.5 167.7 67 166.9L58.5 162.5 58.9 161.6L64.7 164.6 65.1 163.7L66.2 164.3 66.6 163.4L58.2 158.9 58.7 158L70.2 164.2 70.7 163.4L69.7 162.9 70.2 162L66.2 159.8 66.7 159L64.5 157.7 64.9 156.8L66.8 157.9 67.2 157L71.7 159.6 72.1 158.7L67.4 155.9 67.9 155.1L71.2 157 71.7 156.2L66.2 152.9 66.7 152.1L67.4 152.5 67.9 151.6L67.1 151.1 67.6 150.3L73.5 153.9 74 153.1L75.1 153.8 75.6 152.9L69.4 149 69.9 148.2L75 151.4 75.6 150.6ZM93 139.7A177.5 177.5 0 0 0 88.9 145L70.3 131.1 71 130.2L75.3 133.5 75.9 132.7L75.9 132.7 76.6 131.8L81 135.3 81.7 134.5L75.6 129.7 76.3 128.9L79.8 131.7 80.4 130.8L80.8 131.2 81.4 130.3ZM99.2 132.5A177.5 177.5 0 0 0 93.6 139L81.5 129 82.2 128.2L82.3 128.3 82.9 127.5L76.1 121.8 76.8 121L79.2 123.1 79.9 122.2L73.3 116.5 74 115.7L75.4 116.9 76.1 116L80.5 119.9 81.2 119.1L81.4 119.2 82.1 118.4L82.1 118.4 82.8 117.6ZM113.1 118.7A177.5 177.5 0 0 0 107.6 123.8L93.5 109.3 94.3 108.6L94.8 109.1 95.5 108.4L91.1 103.8 91.9 103L97.9 109.4 98.7 108.7L99.1 109.2 99.8 108.5L95.6 103.9 96.4 103.2L103.7 111.2 104.5 110.6L95.5 100.6 96.3 99.9ZM121 112.1A177.5 177.5 0 0 0 113.8 118.1L105.8 109 106.6 108.4L97.5 97.9 98.3 97.2L105.1 105.1 105.8 104.4L108.4 107.4 109.2 106.8L106.5 103.7 107.3 103L107.4 103.1 108.2 102.5L106 99.8 106.8 99.1L106.8 99.1 107.6 98.4L103.4 93.3 104.3 92.6L110.9 100.9 111.7 100.3ZM141.6 98.1A177.5 177.5 0 0 0 133 103.4L120.1 84.1 121 83.5L122.1 85.1 122.9 84.5L127.2 91.1 128 90.5L127.5 89.7 128.3 89.1L128.7 89.7 129.5 89.2L128.5 87.5 129.3 87L130.4 88.7 131.3 88.2L130.1 86.4 131 85.9L131.7 87 132.5 86.5L133.5 88 134.3 87.5L134 87 134.8 86.4ZM165 86.6A177.5 177.5 0 0 0 156.4 90.3L152.3 81.4 153.2 81L149.2 72.4 150.2 72L151.1 73.9 152 73.5L154.5 79.1 155.4 78.6L151.3 69.3 152.3 68.9L152 68.3 153 67.9L156.9 77.1 157.8 76.7L158.8 79.1 159.7 78.7L158.6 76.1 159.6 75.7L159.4 75.2 160.3 74.8ZM192.3 78.2A177.5 177.5 0 0 0 176.3 82.5L174.5 77 175.4 76.7L175.3 76.4 176.2 76.1L176 75.4 176.9 75.1L177.2 76.1 178.1 75.8L178.1 75.8 179 75.5L173.4 56.4 174.4 56.1L174.5 56.5 175.5 56.2L179.6 70.7 180.6 70.4L181.3 73.2 182.3 73L178 57.2 179 56.9L181.5 66.3 182.5 66.1L182.6 66.5 183.5 66.3L184.6 70.4 185.5 70.2L186.1 72.3 187 72L183.2 56.6 184.2 56.4L188.4 73.7 189.3 73.5L189.5 74.4 190.4 74.2L190.5 74.6 191.4 74.4ZM202.2 76.2A177.5 177.5 0 0 0 193.2 78L188 54.2 189 54L192.7 71.4 193.6 71.2L190.1 53.9 191.1 53.7L190.5 50.7 191.5 50.5L191.6 50.8 192.6 50.6L194.8 62.1 195.8 61.9L197.6 71.4 198.5 71.2L198.6 71.5 199.5 71.3L199.6 72 200.5 71.8L198 56.7 199 56.6ZM218.7 74.3A177.5 177.5 0 0 0 203.1 76.1L199.4 52.5 200.4 52.3L202.2 63.7 203.1 63.6L203.9 68.9 204.9 68.7L203 55.7 204 55.6L206.1 70.7 207 70.6L204.1 48.1 205.1 48L207.8 69.4 208.8 69.2L206.2 47.9 207.2 47.8L208.5 58.3 209.5 58.2L209.4 57.6 210.4 57.5L211.5 67.7 212.4 67.6L211.8 61.5 212.8 61.4L213.6 69.4 214.5 69.3L214.5 69.5 215.5 69.5L214.5 57.8 215.5 57.7L215.8 61.5 216.8 61.4L216.6 59.4 217.6 59.4Z"/>
<path fill="none" stroke="#f28a1a" stroke-width="1.45" stroke-linecap="square" d="M231.9 106.1h0M238 97.8h0M263.3 107.6h0M232.5 105.9h0M246.4 100.4h0M246.5 104.6h0M266.9 107.4h0M267.7 110.9h0M270.4 103.9h0M239.1 105.3h0M249.9 103.8h0M280.4 108.7h0M249 93.2h0M246.7 106.5h0M241 98.4h0M284.1 109.9h0M236.2 100.5h0M252.3 105.9h0M241.9 98.7h0M256.3 101.4h0M247.9 104.8h0M272.2 111.5h0M272.9 108.4h0M251.3 99.8h0M265.7 107.9h0M274.8 105.8h0M250.6 101h0M245.3 102.5h0M273 108.2h0M254 101.8h0M266.6 107.7h0M265.9 107.9h0M282.6 113.5h0M249.4 105h0M240.8 99.7h0M268.5 106.2h0M233.6 103.6h0M277.9 111.7h0M245.5 104.9h0M274.8 109.2h0M272.5 109.9h0M282.1 107.8h0M266.6 108.8h0M237.4 102.9h0M245.5 105.6h0M264.6 105.8h0M242.7 103.8h0M269.6 103.6h0M269.8 108.1h0M277.5 110.5h0M237.9 101.8h0M233.2 105.5h0M232.1 102.5h0M236.3 101.7h0M249.5 99.4h0M242.5 101.9h0M275.3 111.4h0M231.6 103.3h0M254.5 102.8h0M265.9 107.1h0M263 109h0M280.4 106.9h0M249 102.3h0M233.9 103.9h0M269 107.1h0M256.2 103.8h0M246.4 101.4h0M271.3 110.6h0M270.1 107.9h0M245 105.5h0M272.2 109.9h0M282.3 110.9h0M241 112.5h0M278.8 110.9h0M250.2 104.8h0M267.5 101.2h0M240 102h0M281.5 109.6h0M236 104.4h0M272.3 115.5h0M275.3 108.8h0M276.7 109.6h0M242.1 101.5h0M231.1 100.8h0M285.4 112.7h0M270.9 111.1h0M238 94h0M241.9 107.8h0M276.7 111.3h0M257.5 99.2h0M234 101.7h0M266.1 104.9h0M241.7 103.8h0M281.4 111h0M237.2 101.4h0M256 105.6h0M255.3 104.1h0M271.9 106h0M268.7 106.3h0M243.6 104.3h0M238 104.5h0M264.5 105.1h0M243.2 101.8h0M275 108.5h0M232 106h0M286 110.4h0M243.8 103h0M242.4 104.6h0M281 114.3h0M238.9 98.5h0M285.8 110.5h0M240.7 101.6h0M235.9 103.4h0M280.7 110.3h0M276.4 110.3h0M264.7 109.6h0M232.9 105.2h0M246.7 102.7h0M231.2 103.3h0M275.6 111.1h0M241.9 101.9h0M236.3 99.6h0M235.3 102.8h0M278.3 109.9h0M247.4 103.2h0M238.2 106.4h0M230.3 107.1h0M236.4 103.1h0M255.9 105.7h0M264.3 109.2h0M274 113.5h0M277.4 110.5h0M278 110.9h0M280.6 108.4h0M271.5 103.4h0M247.2 103.5h0M255.9 101.3h0M268.2 103.8h0M286.2 112.7h0M245.8 102.6h0M243.4 100.3h0M282 111.9h0M281.7 107.4h0M236 101.5h0M251.1 103.5h0M285.7 109.5h0M284.3 108.4h0M281.4 112.2h0M241.8 107.2h0M282.2 108.8h0M286.6 111.1h0M255.2 103.8h0M272 111.7h0M245.1 99.5h0M245 102h0M266.2 109.2h0M269.3 109h0M233.5 102.6h0M238.1 101.8h0M285.2 111.4h0M240.1 103.5h0M247.2 105.1h0M271.9 106.6h0M280.9 116.8h0M277.9 107.2h0M278.8 109.5h0M230.4 106.5h0M282.1 108.8h0M268.4 104.5h0M238.4 97.1h0M268.1 103.6h0M242.8 102h0M237.4 101.9h0M251.1 102.1h0M244.4 103.6h0M236.3 102.1h0M252.6 98.3h0M242.9 101.9h0M251.4 100.6h0M257.3 103.1h0M277.2 110.9h0M231.5 104.4h0M270.7 107.5h0M236.6 103.4h0M255.6 102.5h0M233.7 104.4h0M234 101.1h0M271.2 112.4h0M278.1 112h0M283.4 111.9h0M279 110.7h0M234.6 103.1h0M272.9 103.9h0M256.1 103.6h0M251.1 100.7h0M284.7 115h0M267.4 106.7h0M231.3 106.8h0M243.5 101.8h0M264.4 107.1h0M283.7 111.4h0M277.6 113.3h0M243.3 99.1h0M282.7 106.6h0M255.6 101.9h0M241 102.1h0M253 104.7h0M230.6 102.1h0M284 111h0M286.2 112.3h0M241.5 103.1h0M256.6 102.3h0M254.4 96.9h0M268.7 105.1h0M277.1 109.5h0M264.7 106.6h0M271.2 105.7h0M244.1 98.7h0M238 98.4h0M263.3 105.8h0M239.6 102.4h0M255.6 106.6h0M279.5 108.2h0M246.1 96.3h0M281.9 111h0M230.9 104h0M280 108.9h0M278.4 109.4h0M236.5 104.9h0M266.8 110h0M284.3 112.5h0M234.3 100.6h0M269.1 109h0M243.4 104.1h0M234.1 100.9h0M265 109.6h0M230.4 103h0M268.6 107.9h0M283.8 113.3h0M243 107.1h0M254.1 99.9h0M281.4 110h0M268.7 103.7h0M237.3 101.8h0M231.9 102h0M253.5 102.8h0M284 110.1h0M250.5 102.6h0M256.6 110.6h0M268.9 106.1h0M274 107.7h0M266.2 108.8h0M241.1 104.5h0M247.3 102.6h0M279.4 106.8h0M263.7 106.3h0M271.4 107.9h0M233.9 101.6h0M230.1 103.5h0M244.8 107.3h0M236.3 108h0M285.8 109.8h0M248.7 100.8h0M257.6 103.8h0M239.3 101.2h0M265.5 107.1h0M271.1 109.7h0M241.3 94.4h0M238.7 103h0M252.3 102.2h0M274.9 111.4h0M263.7 105.2h0M275.7 107h0M235.2 103.8h0M240.9 104.3h0M236.1 103.2h0M254.4 103.4h0M272.1 105h0M246.8 101.9h0M268.6 110.6h0M247.6 105.3h0M245.1 101.8h0M277.2 109.2h0M285 110.2h0M269.6 113.3h0M264.9 106h0M238.7 101.6h0M279.4 111.7h0M251.1 101.6h0M274.1 108.9h0M258 103.5h0M268.3 106.7h0M271.1 106.1h0M251 106.3h0M265.7 105.1h0M255.8 106.5h0M285.6 112.2h0M237.2 104.8h0M233.8 102.3h0M273.5 110.2h0M235.3 102.1h0M232.8 104h0M236.1 98.8h0M239.2 105.7h0M239.9 102.7h0M254.6 102.9h0M285.9 110h0M244.9 102.8h0M256.5 107.9h0M264.4 107h0M272.4 106.3h0M241.2 101.1h0M249.6 102.4h0M244.1 108.7h0M278.8 109.3h0M239.9 102h0M254 104.1h0M278.9 110.7h0M264.6 106.6h0M283.8 112.3h0M245.6 99.1h0M251.6 103.1h0M243.2 100.8h0M253.4 104.9h0M243.7 105.7h0M276.5 106.9h0M275.9 110.4h0M266.8 109.7h0M249.8 99.5h0M250.3 99.9h0M237.8 105.3h0M271.1 112.8h0M278.5 113h0M256.1 105h0M280.4 107.5h0M249.7 102.1h0M231.3 102.5h0M243.1 101.7h0M241.4 101.8h0M253.6 100.4h0M265 111.4h0M257.7 100.9h0M279 112.3h0M235.9 105.6h0M257.5 106h0M279.8 111.1h0M250.9 103.2h0M272.4 97.5h0M264.5 103.2h0M270.7 108.8h0M276.5 109.9h0M250.8 101.4h0M242.8 99h0M286 113.1h0M283.4 109.6h0M247.2 104h0M268.9 104.2h0M285.6 108.1h0M240.5 102h0M273.5 107.8h0M241.6 106.8h0M282.6 106.4h0M282.2 113.2h0M238.1 104.4h0M263.8 109.1h0M245.7 104.7h0M235.3 98.7h0M249.6 102.8h0M244.4 105.9h0M239.8 105.5h0M262.9 109h0M272.3 109.6h0M276.5 113.4h0M232.9 101.1h0M233.9 103.6h0M269.1 105.8h0M287.6 109.8h0M273.5 109.2h0M254 100.8h0M247.6 101.7h0M241.2 100.9h0M240.4 104.2h0M284.1 110.2h0M241.3 103.1h0M234.1 103.4h0M284.7 112.3h0M250.5 100.9h0M253.1 99.6h0M230.2 100.2h0M271 110h0M253.7 99.7h0M246.9 105.3h0M283.9 111.5h0M251.5 99.8h0M268 110h0M283.3 112.3h0M236.5 102.8h0M275.8 108.3h0M251.1 101.7h0M249.7 106.6h0M257.4 104.7h0M252.1 104.7h0M251.2 104.2h0M251.3 99.8h0M249.1 103.5h0M239.2 102.1h0M233.3 103.4h0M238.4 101.8h0M271.9 107.7h0M282.7 108h0M235 103.4h0M255.4 101.3h0M252.9 98.8h0M279.6 110.4h0M232 112.2h0M237.2 98.8h0M236.4 101.7h0M240.2 104.4h0M250.7 103.9h0M255 103.7h0M286.1 110h0M270.4 107.1h0M250.5 100.9h0M233.1 112.8h0M255.4 103.2h0M262 110.2h0M249.7 100.9h0M284.9 107.7h0M238 105.5h0M252.3 102h0M274.5 109.9h0M230.2 102.9h0M270.9 110.2h0M286.5 106.4h0M248.1 103.6h0M245.7 99.6h0M275.8 112.3h0M268.9 108.7h0M265.6 103.5h0M278.1 112h0M234.6 102.5h0M273.6 107h0M282.7 107.7h0M254.9 101.6h0M235.8 102.7h0M236.5 100.6h0M244.6 104.2h0M267.6 104.9h0M242.4 100.9h0M245.7 105.7h0M288.2 108.4h0M275.8 110h0M253 104.3h0M257.7 101.1h0M270.7 100h0M285.2 114.3h0M266.2 107.5h0M244.3 102.3h0M234.9 103h0M281.6 108.2h0M271.1 107.5h0M250 100.9h0M275.9 110.7h0M240.5 103.9h0M283.1 110.4h0M274.5 109.7h0M283.2 106.1h0M285.6 110.5h0M277.5 113.2h0M235.6 99.2h0M271.8 110.5h0M257.2 101h0M238.9 106.6h0M253.6 101.5h0M245.5 101.6h0M272.9 110.1h0M251.3 102.6h0M286.7 109.5h0M252.7 99.8h0M248.3 101h0M246.4 102.3h0M283.9 111.2h0M265.8 108.4h0M278.6 111.3h0M247.1 104.2h0M244.2 100.1h0M241.8 102.3h0M236.8 100.5h0M282 112.8h0M268.7 107.3h0M254.7 102.5h0M248 102.6h0M281.4 110.4h0M277.1 109h0M277.1 110.3h0M283.1 110.8h0M249.2 98.1h0M253.5 102.3h0M285.8 111.7h0M272.4 108.9h0M268.1 105.8h0M287.8 108.7h0M239.2 102h0M251 100.7h0M239 102.8h0M263.7 106h0M253.8 103.3h0M230.7 101.5h0M273.2 108.3h0M276.6 110.3h0M252.6 101h0M273.5 108.7h0M256.7 100h0M282.4 111.3h0M234.6 103.4h0M235 103.8h0M282.9 112h0M238.8 102.5h0M270.7 106.1h0M239.6 100.9h0M267.1 106.5h0M266.3 104.4h0M235.8 101.4h0M270.5 109.2h0M255.1 102.6h0M235.1 102.3h0M253.1 102.1h0M234.9 105.1h0M244.7 108.6h0M242.6 104.9h0M239 100.1h0M286.9 110.5h0M241.1 102.5h0M275.4 111.3h0M258.2 99.1h0M258.3 101.8h0M263.5 104.1h0M232.4 104.1h0M247.2 113.8h0M263.2 106.6h0M251 103.8h0M246.6 95.6h0M235.1 102.8h0M278.8 111.2h0M270.6 108.8h0M252.1 102.2h0M250.5 102.2h0M286.2 113.2h0M280.4 106.6h0M284.3 113.7h0M241 106h0M257.7 105h0M264 104.7h0M245.7 105h0M268 107h0M245.9 102.2h0M244 105.7h0M251.7 102.4h0M276.9 108.3h0M271.8 107.8h0M247.9 100.2h0M272.8 109.1h0M274 111h0M268.1 109.2h0M233.3 105.4h0M231.7 101h0M285 111.3h0M243.1 102.9h0M272.2 107.7h0M251.4 102.2h0M281.8 108.1h0M278.6 112.3h0M286 110.2h0M239 102.8h0M249.7 97.7h0M280.3 111.5h0M251.8 101.3h0M280.8 112.2h0M244.9 100.1h0M252.6 102.2h0M273.3 108.9h0M268.1 110.1h0M268.3 108h0M247.1 101.3h0M243.7 98.6h0M248.8 100.5h0M264.5 106.1h0M237 101.6h0M251.3 100.2h0M236.6 100.6h0M244 102.6h0M252.4 98.4h0M245.6 101.7h0M257.8 103.1h0M243.1 102.4h0M274.5 108.2h0M274.6 112.1h0M244.9 102.5h0M235.1 104.7h0M242.3 101.3h0M251.4 101.9h0M246.6 103.3h0M239.5 104.3h0M251.7 101h0M250.6 103.1h0M264.8 108.1h0M284.4 111.2h0M236.4 103.6h0M248.7 104.3h0M249 106.6h0M253.7 99.5h0M267.6 108.1h0M243.2 104.3h0M256.6 102.2h0M231.5 105.2h0M284.5 111.9h0M256.8 106.4h0M239.8 103.9h0M266.2 109.2h0M265.3 105.4h0M237.7 99.8h0M265.5 105.4h0M265.5 105.3h0M242.5 106h0M273.2 107.6h0M256.6 99.2h0M236 103h0M231.8 98.4h0M245.2 104.8h0M240.4 98.2h0M279.9 112.4h0M276.7 111.3h0M241.5 104.5h0M249.8 100.3h0M234 102.5h0M236.9 101.2h0M283 109h0M280.1 108.3h0M246.1 102.7h0M275.8 110.3h0M282.3 111.7h0M265.1 105.8h0M256.7 104.2h0M256.7 101.4h0M273.7 104h0M244.2 103.2h0M242.3 104.2h0M250.3 109.6h0M272.7 109.1h0M279.5 111.2h0M272 107.3h0M253.4 103.2h0M257.2 103.8h0M274.9 108.7h0M276.9 107.2h0M245.7 104.1h0M262.7 108h0M256 99h0M277 110.3h0M264.2 107.2h0M246.7 103.3h0M274 111.3h0M267.6 110.4h0M241 100.3h0M238.6 100.6h0M278.9 111.3h0M263.1 105.5h0M257 105.8h0M276.9 112h0M283.2 110.2h0M242.5 101.8h0M247.6 102.6h0M266.7 108.2h0M258.2 101.2h0M238.8 100.7h0M272.6 105.3h0M232.8 100.8h0M234.7 102.6h0M244.5 101.7h0M256.3 105.7h0M236.6 99.5h0M230.3 104h0M274.5 108.8h0M242.2 98.9h0M283.5 109.6h0M248.5 97.9h0M255.9 100.5h0M273.9 108.2h0M253.3 104.1h0M253.5 103.5h0M243.9 104.7h0M279.6 108.8h0M287 108.2h0M265.2 109.2h0M237.3 104.9h0M270.6 108h0M267.2 108.2h0M231.1 105.2h0M249.6 101.5h0M268.1 107.9h0M276.8 106.7h0M275.5 94.8h0M271.8 106.2h0M240.2 103.9h0M237 100.6h0M247.5 100.5h0M243.1 102.8h0M248.3 104.6h0M272 112h0M236.3 100h0M241.7 101.6h0M273.2 109.4h0M254.9 101.2h0M281.2 110.2h0M231.8 100.8h0M281.9 111.2h0M233.5 100.4h0M236.1 105.5h0M252.2 98.9h0M257.5 102.5h0M234.6 102.5h0M241.1 103.2h0M254.2 102.3h0M243.9 102.1h0M235.5 102.9h0M253.2 105.4h0M233.5 105.3h0M263.5 106.6h0M240.6 103.7h0M246 104h0M306.6 121.2h0M327 136h0M334.3 146h0M309 123.3h0M329.2 139.2h0M328.3 135.6h0M331.5 134.3h0M307.4 118.4h0M314.8 126.4h0M330.2 140.3h0M320 132.8h0M343.1 144.3h0M318.9 129.6h0M308.6 121.8h0M332.4 145.6h0M310.2 122.3h0M313.5 127.7h0M336.2 142.3h0M303.2 121.6h0M307.1 121.1h0M330.5 138h0M334 145.1h0M311.7 119.7h0M293.6 122.9h0M336.5 143.7h0M296.3 115.9h0M296.6 118.2h0M328.2 140h0M310.1 124.5h0M317.4 122.3h0M334.7 144.4h0M330.4 137.5h0M331.8 144.6h0M321.7 132.9h0M330.9 136.8h0M331.2 142.4h0M332.4 143.9h0M313.6 123.2h0M312.5 125.6h0M338.2 147.5h0M330.9 142.7h0M319.2 128.7h0M323.8 137.3h0M308.1 123.5h0M301.4 122.6h0M316.6 119.4h0M331.6 143.2h0M306.1 118.6h0M318.4 129h0M317.3 133.2h0M337.2 141.9h0M323.6 134.7h0M317.1 125h0M319.9 131.9h0M308.2 118.2h0M296.4 117h0M335 143.1h0M342.4 146.3h0M295.2 119.7h0M309.3 123h0M314.9 126.4h0M318.1 124.5h0M325.2 133.7h0M326.6 132h0M296 122.2h0M326.8 137.7h0M340.9 142h0M322.3 135.4h0M325.6 134.9h0M323.4 131h0M322 134.9h0M295.9 120.3h0M342 146.9h0M318.8 130.9h0M336 150.8h0M312.6 124.1h0M296.9 118.5h0M333.4 141.8h0M330.7 136.7h0M323.5 136.5h0M334.2 139.2h0M307.9 123.7h0M333.3 142.2h0M323.8 131.8h0M307.5 126.9h0M341.3 144.9h0M324.1 130.4h0M298.7 119.1h0M312.1 123.1h0M324.9 132.5h0M305 117h0M334.8 142h0M316 108.2h0M336.5 144.1h0M331.7 141.4h0M335.9 141.9h0M338.9 146h0M327.2 138.8h0M308.3 126.2h0M323.5 130.7h0M310.4 119.1h0M329.4 135.4h0M313 122h0M310.7 123h0M303.6 121.4h0M314.3 124.6h0M330.9 140.5h0M328.3 136.2h0M337 144.1h0M319.8 126.8h0M333.1 141.1h0M330.6 143.5h0M315.3 126.7h0M310.5 123.4h0M309.8 124.5h0M324.7 138h0M340.2 146.2h0M323.4 133.2h0M300.7 120h0M332.9 139.7h0M321 128.2h0M336 142.3h0M325 137.4h0M338.5 146.6h0M310 124.7h0M321.7 126h0M318.4 131.4h0M304.7 116.9h0M316.3 128.1h0M297.8 115.9h0M332.3 145.3h0M330.1 141.4h0M333.6 141.6h0M301.1 117.5h0M317 127.2h0M339.3 143.1h0M301.1 119.8h0M319.9 133.2h0M316.4 127.9h0M318.6 125.2h0M324.5 129.5h0M308.6 122.9h0M343.6 146.2h0M307.7 119.6h0M332.9 140.8h0M308.7 121.2h0M317.3 137.9h0M298.4 120h0M337 147.8h0M312.7 121.9h0M309.7 118.2h0M322 127.3h0M310.8 122.6h0M308.6 121h0M319.5 127.4h0M314.2 124.5h0M314.6 128.5h0M307.9 117.5h0M325.6 136.9h0M313.9 123.6h0M320.8 124.9h0M332.4 141.4h0M328.2 139.5h0M328.9 140.3h0M335.9 140.5h0M315.5 125.8h0M297.1 118h0M315.9 126.1h0M331.5 142.5h0M331.2 140.4h0M307.7 120.9h0M295.6 117.4h0M327.8 134.1h0M330.2 139.7h0M323.2 136.2h0M306.3 120.9h0M314.7 123.8h0M324.1 133.2h0M333.4 137.7h0M300.9 118.9h0M338.8 143.2h0M310.6 123.3h0M307.7 125h0M342.2 145.7h0M306.8 120.2h0M340.5 142.6h0M296.5 117.1h0M310.2 122.7h0M302.8 118.1h0M308.1 123.8h0M320.7 132.9h0M328.6 140.8h0M324.9 130.7h0M314.3 122.4h0M302.5 116h0M339.4 142.8h0M322.1 132h0M312.2 127.9h0M325.3 136.1h0M345 145.1h0M311.7 120.4h0M303.4 120.4h0M300.8 119.1h0M336.6 143.5h0M320.1 128.3h0M310.9 128.5h0M343.6 145.1h0M304.5 124.4h0M334.4 144.8h0M330.8 140.3h0M301 119.4h0M329.4 139.8h0M337.5 133h0M337.7 148.2h0M335.5 140.6h0M323.4 131.1h0M336.1 143.9h0M320.4 123.3h0M299.7 119.5h0M330.2 139.2h0M318.1 128h0M333.8 142.6h0M310.8 121.5h0M305 116.2h0M303.9 119.3h0M326.7 137.9h0M339.1 147.8h0M321.2 121.6h0M342.6 145.1h0M332.6 136.8h0M320.7 129.5h0M321.1 131h0M316.8 128h0M307.2 124.1h0M337.9 144.6h0M323.7 127.6h0M312.7 124.8h0M302.3 119.5h0M320.2 129.6h0M328.7 138.3h0M328.2 141.6h0M320.5 135.8h0M312.4 126.9h0M334.2 141.3h0M301.4 119h0M329.8 141.2h0M320.8 136.1h0M325.5 137.9h0M330.1 141.8h0M302 120.8h0M323.1 133h0M315 127.8h0M301.8 116.3h0M329 140.1h0M315.5 124.6h0M297.9 114.6h0M317.3 131.8h0M300 115.8h0M308.1 124.3h0M331.8 143.2h0M333.5 141.5h0M337.2 142.6h0M331 137.2h0M305.3 116.5h0M334.5 141.4h0M321.8 126.3h0M299.7 121.5h0M317.4 127.2h0M304.7 114.8h0M312.5 126.5h0M333.3 143h0M328.5 140.5h0M315 121.1h0M300.6 121.1h0M316.1 121h0M302 120.1h0M324.6 136.3h0M321 131.5h0M334.5 139.1h0M307.5 126.1h0M307.3 118.7h0M307 121.6h0M317.6 125.2h0M316.6 125.9h0M335.9 149h0M339.7 149.8h0M309.8 123.3h0M335.7 146.4h0M322.9 130.1h0M304.8 121.2h0M296.9 114.9h0M318.8 126.4h0M334.7 142.3h0M312.6 124.7h0M314.6 123.8h0M332 142.4h0M295.8 130.4h0M304.9 119.6h0M325 132.8h0M310.5 118.8h0M297.8 118.7h0M309.7 121.8h0M313.7 126.2h0M311.8 122.9h0M342.5 147.1h0M328 137.8h0M346 144.4h0M324.1 136.3h0M340.3 145.4h0M303.9 121.3h0M304.7 121.7h0M302.1 118.3h0M320.5 128.4h0M334.3 134.6h0M331.4 146.4h0M313.1 123h0M303.9 117.1h0M335.2 144.1h0M332.5 142.3h0M303.9 120.2h0M304.2 120.8h0M301.8 120.8h0M317.6 125.3h0M299.3 120.8h0M342 143h0M322 132h0M308 124.5h0M335.9 145.3h0M302 117.2h0M334 140.8h0M301.9 122.8h0M327.9 138.9h0M335.5 142.2h0M333.1 143.1h0M332.2 138.5h0M313.6 126h0M330.5 141.7h0M314.1 126.2h0M313.9 120.5h0M306.8 119.7h0M321.4 132.3h0M320.4 134.5h0M340 144.9h0M302.8 120.4h0M327 139.8h0M299 117.1h0M304.3 119.2h0M333.1 139.6h0M332.7 138.1h0M319.3 130.3h0M331.5 133.6h0M328.2 141.9h0M337.1 144.6h0M316.7 131.1h0M337.8 150.2h0M337.4 145.7h0M302.9 121.3h0M330.4 137.8h0M322.8 141.1h0M303.6 116.9h0M310.2 121.4h0M301.3 115.8h0M317.2 129.8h0M322.2 137.9h0M333.4 135.5h0M300.2 117.5h0M318.3 126.2h0M335.7 142.3h0M296.6 118.2h0M297.8 120h0M322.3 134h0M311.2 124.1h0M317.7 131.8h0M311.9 121.5h0M306.4 119.5h0M338.4 143.1h0M304.1 122.4h0M333 136.9h0M313.9 125.5h0M325.9 132.9h0M340.2 143.8h0M312.9 122h0M337.6 139.5h0M321.5 133.4h0M298.6 124.1h0M339.1 151.9h0M296.4 118.9h0M308.8 124.1h0M339.2 146.8h0M336.3 145.1h0M319.4 123.9h0M308.4 123.8h0M330.8 136.8h0M301.1 118.2h0M313.5 125.6h0M301.5 115.4h0M333.1 141.7h0M338.2 147.2h0M341.8 148h0M328.3 136.4h0M334.1 145.1h0M337.6 142.3h0M304.1 118.9h0M318.7 127.2h0M321.4 122.4h0M300.5 119.1h0M332.9 143h0M337 144.8h0M324.1 135.1h0M295.9 119h0M342.5 147.3h0M299.5 119h0M317.7 128.6h0M312 125.4h0M317.7 124.9h0M312.7 124.3h0M324.6 137.1h0M340.8 144h0M316 124.1h0M324.7 135.6h0M326.9 139.4h0M318.1 126.6h0M339.2 143.8h0M321.9 134.1h0M331.8 138.4h0M330 136.2h0M318.1 127.8h0M336.5 144h0M299.9 117h0M319.7 129.5h0M321.6 144.4h0M302.5 112.6h0M321.6 131.6h0M307.6 119.3h0M313.3 126.9h0M321.3 133.6h0M310.9 119h0M336.5 145.3h0M324.5 135.6h0M301.8 118.6h0M316.3 128.9h0M345.4 145.4h0M327.7 139.8h0M298 116.8h0M310.5 126.6h0M338.7 146.2h0M313.7 125.4h0M349.2 140.9h0M316 128.9h0M331.2 137.9h0M297.2 128.5h0M301.7 117h0M306.8 124.3h0M302.3 119.1h0M317.2 126.9h0M329.8 145.8h0M337.2 148.1h0M300 118.7h0M312.6 126.3h0M298.3 119.4h0M320.6 130.1h0M321.3 131.5h0M329.9 141h0M336.2 146h0M325.3 131.3h0M323.2 133.4h0M303.2 117.8h0M329.7 138.9h0M328.3 140.9h0M325.2 135.6h0M311.3 120.5h0M333.8 146.6h0M307.9 125.6h0M298.3 119.3h0M340.1 143.9h0M323.9 138.8h0M294.8 118.9h0M333.5 141.1h0M327.4 136.4h0M296.5 118h0M307.1 120.5h0M309.6 122.4h0M315.3 124h0M297.3 116.2h0M294.5 119.9h0M337 146.3h0M337.7 144.9h0M320 131.5h0M324.7 136.2h0M324.5 137.3h0M295.8 118.9h0M336.5 143.8h0M305.1 120h0M308 118.2h0M337.7 148.4h0M322.6 134.9h0M300.5 120.1h0M306.6 119h0M326.7 135.5h0M335.6 143.9h0M304.5 120.8h0M304.8 117.8h0M327.4 136.2h0M304.3 126.8h0M300.1 120.1h0M326.1 132.9h0M324.7 133.6h0M314.4 123.4h0M321.4 133.3h0M342.6 147.8h0M324.3 138.4h0M341.6 147.3h0M317.4 129h0M333 140.7h0M319.5 124.8h0M335.3 133.2h0M309.5 123h0M321.6 128.7h0M296.5 118.7h0M321.3 132.6h0M299.8 117.8h0M317.7 129.2h0M316.9 124.6h0M294.3 122.3h0M312.8 127h0M323.2 148.3h0M303.2 119h0M313.9 127.2h0M319 126.9h0M340 148.3h0M309.3 130.7h0M339 148.8h0M330.8 140h0M325.5 137.3h0M312.6 119.2h0M307.7 121.3h0M303.2 116.9h0M334.5 140.3h0M330.4 137.7h0M302.9 117.7h0M318.8 130.2h0M319.7 129.6h0M298.7 117.3h0M334 147.2h0M318.8 131.1h0M301.4 119.3h0M323.6 127.4h0M341.8 138.1h0M335.9 145.1h0M309.5 120.3h0M320.2 127.2h0M303.3 119.6h0M332.9 145.1h0M339.6 145.4h0M318.7 128.3h0M331.7 138.9h0M341 147.7h0M319.8 126.9h0M333.7 140.3h0M310.6 122.9h0M300.8 118.9h0M318.3 126.2h0M307 123.1h0M301.1 117.2h0M314.6 124.7h0M296.2 120.4h0M323.1 134.8h0M313.5 123.4h0M297.3 126.7h0M307.9 125.6h0M333.2 147.2h0M333.1 141.4h0M322.6 137.1h0M308.6 119.2h0M340.3 139.4h0M296.8 116.1h0M336 144.6h0M334.5 140h0M295.2 118.8h0M324.9 135.5h0M306.6 123.2h0M300.4 117.6h0M322.6 132.3h0M340.3 148.1h0M335.1 144.6h0M315 132.1h0M304.4 122.3h0M306.8 133.2h0M321.1 130.6h0M324.6 134.5h0M309.7 125.3h0M320 132.3h0M320.3 130.9h0M310.5 120.2h0M307.1 125.2h0M328.1 133.2h0M313.5 124.5h0M328.9 136.8h0M329.2 136.3h0M301.8 118h0M327 135.3h0M336.1 149h0M320.1 132.8h0M323.4 123.2h0M313.5 126.2h0M323.7 137.9h0M331.8 140.4h0M296.8 118.8h0M315.5 137.5h0M321.4 124.6h0M301.5 121.1h0M323 131.7h0M338 142.4h0M334.9 140.8h0M314 124.1h0M336.1 144.4h0M322.2 133.8h0M325.3 135.3h0M305.5 120.5h0M303.8 119.8h0M326.4 136.6h0M334.6 137.8h0M341.2 145h0M299.8 119.1h0M321 133.7h0M319.4 131.4h0M320.7 126.5h0M317.2 127.5h0M319.1 131h0M298.8 119.3h0M335.9 136.7h0M298.3 122.5h0M298.2 118h0M323.1 138.3h0M306.1 119.6h0M302.2 120.4h0M323.1 128.2h0M316.6 135.3h0M317 120.7h0M344.5 146.7h0M334.5 145.2h0M332.4 143.3h0M308.7 124.7h0M322 132.7h0M314.7 130.1h0M300.7 116.7h0M320.6 134.7h0M298.4 120.4h0M321.9 128.5h0M307.4 121.9h0M336.8 146.6h0M309.8 123.9h0M299.5 118.8h0M341 146.8h0M335.1 150.5h0M335.5 143.3h0M325.9 137.1h0M316.5 129h0M336.5 146.3h0M296.3 117h0M298.2 121.3h0M336.7 146.4h0M307.4 118.7h0M297.4 121.3h0M330.9 141.1h0M335.2 142h0M319.1 136.9h0M332.1 143.7h0M312 126.9h0M336 143.9h0M297.9 120h0M315.1 121h0M317.1 124.3h0M320.6 133.6h0M339.8 148.1h0M320.6 132.9h0M320.8 130.9h0M320.5 123.9h0M341 141h0M327.1 136h0M332.5 139.1h0M316.1 128.8h0M341.8 145.8h0M302.2 120.7h0M297.3 118.7h0M315.4 124.4h0M311.8 125.1h0M309.9 124.1h0M310 125.2h0M322 134h0M298.9 121.4h0M304.2 118.8h0M314 124.1h0M308.4 121.4h0M329.1 136.6h0M309.8 121.1h0M322.6 137.8h0M319.3 126.6h0M315.6 125h0M300.7 118.3h0M312.7 129.2h0M309.4 121.9h0M321.4 130.3h0M343.7 144.7h0M295.3 121h0M343.3 146.2h0M317 129.4h0M303.1 120.6h0M336 144.9h0M336.1 145.2h0M336.3 141.3h0M325.3 138h0M319.7 130.5h0M334.3 142.4h0M334.3 141.1h0M326.2 135.7h0M320.5 130.4h0M320.7 127.8h0M317 127.8h0M298.7 116.5h0M309.7 124.9h0M340.5 145.5h0M321.2 134.7h0M297.2 118.2h0M294.7 121.2h0M304.1 120.9h0M325.6 138.8h0M297.3 115.5h0M297.5 118.8h0M320 129.1h0M324.5 133h0M330.1 137h0M331.5 136.3h0M310.7 124.4h0M333 144.3h0M323.9 135.6h0M343.8 143.6h0M333 144h0M316.8 131.4h0M332.2 142.8h0M294.2 124.1h0M321.2 126.3h0M338.5 143.2h0M303.2 119.1h0M322 137.6h0M338.6 148.5h0M316.9 127h0M301 120.4h0M319.2 136.4h0M302 117h0M337.1 143.4h0M331.9 139.2h0M305 121.9h0M320.8 131.7h0M334.6 146h0M317.6 126.8h0M315.7 123.7h0M323.4 126.1h0M322.2 132.7h0M307.8 119.4h0M335.8 143.5h0M297.6 118.6h0M313 122h0M318.7 127.8h0M322.8 129.5h0M299.6 120.3h0M324.5 136.2h0M324.7 135.1h0M334.5 141.4h0M317 127.5h0M323.9 131.9h0M331.6 140.8h0M321.3 127.1h0M328.7 135.7h0M313.8 121.4h0M334.3 155.3h0M343.6 144.3h0M297.4 118h0M295.4 118.5h0M315.3 123.8h0M331.7 138.5h0M341.8 146.7h0M336.9 146h0M321.9 131.4h0M307.4 118.9h0M312.7 124.4h0M299.1 121.2h0M320.1 131.9h0M316.1 127.7h0M324.1 133.9h0M297 116.5h0M321.7 133.3h0M318.7 130.9h0M298.8 120.1h0M309.5 122.5h0M309.1 120.1h0M330 140.1h0M325.2 129.6h0M302 118.7h0M319.9 131.1h0M324.2 137.2h0M335 141.7h0M335 145h0M299.7 117.9h0M327.6 138.7h0M339.5 143.9h0M319.1 139.2h0M326.3 138.8h0M308.3 119.6h0M336.4 142.3h0M319.3 133.3h0M328.8 135.5h0M307.1 120.4h0M299.6 119.1h0M335.9 139h0M336.1 144.6h0M321.5 124.4h0M321.1 134h0M309.3 123.4h0M334.3 142.9h0M309 115.6h0M311.8 125.1h0M332.7 141.4h0M328.3 138.3h0M331.6 138.7h0M303.4 118.7h0M298.9 116.2h0M303.6 118.4h0M332.6 142.2h0M323.6 130.6h0M341.7 147.7h0M340.3 147.4h0M327.9 135.3h0M330.3 135.8h0M324.1 126.4h0M300.2 121.5h0M326.4 138.9h0M319.6 129.8h0M320.6 126.3h0M324.4 133.9h0M305.5 120.9h0M336 143.1h0M337.7 145.8h0M343.2 146.5h0M309.1 122.1h0M296.3 117.7h0M305.5 117.3h0M313.3 124.1h0M333.7 141.5h0M298.4 117.1h0M309.3 127h0M302.2 114.4h0M339.8 144.7h0M299.1 116.1h0M328.4 135.9h0M307.6 122.6h0M325.7 136.1h0M327.6 132.9h0M322 130.2h0M320.3 130.2h0M319.5 133.5h0M294.1 121.1h0M307 121.1h0M322.1 136.3h0M327.8 138.6h0M321.4 130.9h0M307.9 125h0M313.1 126.9h0M330.8 139.1h0M329.8 137.3h0M340.6 147.4h0M337.1 144.3h0M332.4 143.4h0M312 128h0M339.3 145.3h0M305.5 119.9h0M313.4 124.9h0M320.9 127.8h0M310.1 120.1h0M314.8 121.5h0M337.2 144.3h0M309.5 122.9h0M326 137.7h0M298.1 118.8h0M304.8 117.4h0M301.3 115.7h0M330.9 140.2h0M310 119.6h0M306.5 119.5h0M339.3 145.6h0M303.9 120.9h0M335.6 140h0M349 157.3h0M367.5 194h0M371.9 193.6h0M362.8 176.6h0M360.2 179.7h0M356.7 170.4h0M366.8 186.7h0M368.9 190.8h0M367.8 188h0M355.1 162.1h0M357.6 170.5h0M359.5 181.3h0M368.3 186.4h0M370.2 185.4h0M367.7 178.3h0M349.4 161.8h0M352.3 168.9h0M363.5 189.3h0M356.1 193.1h0M363.2 182.2h0M364.8 183.6h0M346.6 163.1h0M368.6 193.3h0M358.2 169.8h0M361.8 171.9h0M366.1 196.5h0M359.5 185.7h0M361.7 171.9h0M351.2 161.8h0M361.7 177.8h0M365.1 183.9h0M348.6 162.5h0M348.7 159.8h0M345.5 163.8h0M349.6 162.8h0M361.3 168.7h0M354.6 167.5h0M360.4 178.5h0M362.4 171.6h0M357.3 173.5h0M365.8 186.6h0M368.3 184.1h0M355.7 163h0M358.4 170.3h0M349.8 161.5h0M368.2 196.3h0M359.2 175h0M348.5 159.2h0M349.9 164.7h0M359.9 178.6h0M360.9 180.4h0M356.7 165.8h0M357.2 175.8h0M362.2 174.3h0M353.5 163.5h0M360.4 169.6h0M367.3 194.1h0M361.5 173.7h0M374.6 187.4h0M363.2 182.8h0M373.6 195.8h0M362.8 167.8h0M361.3 179.9h0M363.1 190.5h0M364.1 181.6h0M363.7 177.9h0M354.6 163.2h0M360.8 170.3h0M364.9 180.3h0M346 171.2h0M362.5 187.1h0M361.6 175.7h0M362.2 177.3h0M370.1 197.7h0M369.4 187.9h0M362.4 175.9h0M346.8 159.3h0M372.9 194.7h0M349.9 162.2h0M367.9 173.9h0M356.5 162.5h0M373.1 196.7h0M358.8 169.1h0M347.7 158.9h0M352 160.5h0M379.5 188.4h0M361.3 175.7h0M351.4 162h0M354.3 160.4h0M351.6 158.7h0M369.9 196.2h0M353.8 165.2h0M364.3 180h0M364.6 189.1h0M370 195.6h0M363.7 174.4h0M369.5 190.2h0M369 196.5h0M365.2 190.3h0M351.1 161.2h0M370.1 194.7h0M368.5 196.2h0M352.4 167h0M365.1 187.3h0M355.5 167.3h0M365.9 193.6h0M359.2 174.4h0M359.2 174.2h0M358.6 167.1h0M356.6 163.7h0M357.6 169.6h0M364.4 186.4h0M354.5 160.8h0M360.9 173.3h0M363.9 176.6h0M347.1 161.7h0M358.1 172.9h0M347.8 158.7h0M362.3 177.2h0M362.6 177.2h0M368.6 192.9h0M362.4 184.2h0M364.2 182.5h0M366 183.7h0M356.6 169.6h0M369.4 187.8h0M361.5 177.8h0M346.8 161.9h0M357.4 170.3h0M363.9 187.5h0M360.9 169.7h0M362.6 175h0M358.8 172.2h0M354.4 161.8h0M359.7 172.8h0M359 171.7h0M362.6 180.5h0M347.9 159.3h0M354.5 162.8h0M353 169.3h0M364.9 187.8h0M348.8 161.8h0M368.7 195.5h0M368.5 191.2h0M369.5 189.5h0M361 176.6h0M367 180.3h0M356.6 166.9h0M362.2 180.3h0M371.9 194.7h0M352.8 163.8h0M354.1 169.3h0M344.8 161.6h0M357.9 168.2h0M367.3 185.4h0M369.3 197.2h0M364.7 180.6h0M369.3 192.6h0M366.4 184.3h0M348.9 160.8h0M366.1 189.5h0M346.6 158.8h0M352.8 174.6h0M368.3 189.3h0M371.8 197.2h0M360.3 174.1h0M364.4 173.1h0M357.5 173.5h0M367.6 186.7h0M370.9 188.9h0M353.1 175.5h0M362.1 177.6h0M356.6 168.9h0M345.7 160.3h0M367.5 182.4h0M351.5 160.2h0M359.8 180.7h0M359.9 177.1h0M366.3 186.4h0M364.2 189.4h0M371.1 192.6h0M364.9 189.1h0M367 179.1h0M362.9 178.1h0M362.4 179.8h0M365.2 186.2h0M348.4 164h0M368 192.8h0M360.8 177.6h0M357.1 178.5h0M373.1 195.7h0M353.3 163.9h0M360.8 180.2h0M355.6 169.2h0M360.4 176.8h0M372.1 197.1h0M362.3 177.4h0M368.3 190.3h0M358.8 172.1h0M365.7 191.5h0M359.3 169.1h0M372.6 189.3h0M364.5 178h0M356.6 168.5h0M358.3 178.3h0M356.3 166h0M362.2 183.5h0M345.9 159.4h0M364.1 177.3h0M355 167.5h0M364.3 188h0M349.1 158.6h0M363.4 185.2h0M374.4 191.6h0M360.7 171.9h0M368.7 193.4h0M360.5 172.3h0M369.4 189.8h0M362.6 161.7h0M350.5 161.9h0M355 162.3h0M358.2 171.5h0M348.5 165.8h0M362.3 180.3h0M364 184h0M369.7 194.5h0M347.8 160.9h0M361.1 168.5h0M361.4 183.7h0M360.8 177.4h0M365.2 192h0M358.5 173.2h0M357 175.5h0M352.1 166.6h0M364.3 173.6h0M362.9 179.9h0M352.5 165h0M365.4 183.8h0M358.6 168.8h0M368.6 192.3h0M352.1 166.1h0M372.6 194.6h0M368.3 191h0M364.5 174.1h0M367.3 189.2h0M365.9 187h0M349.7 159.1h0M364 186.7h0M362.5 178.8h0M353.2 160.5h0M368 188.4h0M373 196h0M361.8 180.9h0M365.7 190.8h0M358.8 178.3h0M366.2 178.4h0M352.9 163.1h0M362.2 179.1h0M359.7 198.1h0M358.9 168.9h0M349.8 157.8h0M351.2 165.2h0M347 159.1h0M355.4 166.7h0M360.6 171.6h0M352.4 163.7h0M346 163.3h0M348.2 162.3h0M366.2 194.2h0M369.1 184.2h0M359.1 174.4h0M364 193.1h0M354.7 164.4h0M369.6 194.7h0M367 183.7h0M349.8 162.3h0M362 171.9h0M358.8 165.3h0M367.5 188.5h0M356.7 167.6h0M360.8 179.9h0M368.2 195.3h0M371 179.7h0M365.4 184.3h0M348.1 161.4h0M351.7 160.9h0M364.3 187.2h0M351.2 165.7h0M370 192.7h0M346.4 160.1h0M364 190.8h0M364.3 181.6h0M364.1 183.9h0M352 164.3h0M354.5 168.8h0M363.4 175.6h0M365.2 186.2h0M373.2 194.1h0M346.5 161.3h0M366.5 181.8h0M361.5 170.3h0M367.1 191.3h0M369.8 197.4h0M374.5 175.3h0M352.8 160.7h0M353.6 164.7h0M366.6 194.9h0M368 181.4h0M366.4 190.8h0M367 183.9h0M359.8 170.1h0M351.3 163.3h0M354.1 165.3h0M349.1 162.9h0M362 182.9h0M364.5 181h0M365.6 180.5h0M358.1 169.5h0M361.6 177.1h0M349.6 156.4h0M358.1 167.1h0M351.3 158.1h0M355.1 163.7h0M348.7 161.5h0M364 175.4h0M371.6 197.4h0M364.8 183.8h0M369.7 193.2h0M360.7 171.9h0M364.4 180h0M367.1 186.1h0M366.3 184.2h0M354.7 162.7h0M364 181.2h0M362.1 177.7h0M349.1 162.3h0M364.8 186h0M352.6 162.9h0M363.1 188.4h0M353.5 167.5h0M366 194.9h0M366.7 197.2h0M363.7 189.9h0M363.6 180h0M352.4 166.7h0M354.2 161.3h0M363.9 178.8h0M360.7 171.2h0M347.9 162.6h0M349.3 157.7h0M366.1 179.1h0M367.4 182.5h0M368.8 196.8h0M372.1 196.7h0M360.7 178.2h0M352.3 160h0M358.8 173h0M360 172.2h0M366.2 193.5h0M348.6 158.2h0M360 172.2h0M341.1 163.7h0M348.3 157.9h0M368.4 192.8h0M359.4 173.2h0M354.6 169.1h0M362.7 171.9h0M363.5 175.6h0M354.9 165.8h0M361.7 179.5h0M349.9 159.9h0M348.3 162.8h0M363.1 182.2h0M358.1 168.6h0M363.7 180.5h0M358.7 172.2h0M372.2 192.8h0M356.7 170.9h0M362.5 190.8h0M362.9 183.1h0M355.6 162.8h0M364.9 186.4h0M345.6 163.2h0M354.6 167.5h0M346.1 160.9h0M362.3 188.9h0M363.1 177.4h0M342 162.5h0M369.4 191.9h0M362.6 180.1h0M357.6 167.3h0M364.4 183.7h0M350.2 162h0M354.4 169h0M351.9 160.5h0M363.8 181.8h0M370.4 192.2h0M363.3 174.3h0M361.9 172.7h0M366.8 181h0M351.6 161.4h0M367.4 192h0M364.6 177.6h0M360.4 168.5h0M356.5 170.6h0M360.1 170h0M351.9 164.8h0M356.7 166.7h0M361.7 179.9h0M364.9 177.3h0M361.4 180.1h0M353.1 161.8h0M354.3 170.3h0M359.7 178.9h0M370.3 181.4h0M362 186.4h0M368.1 182.1h0M365.5 174.2h0M364.2 180h0M368.3 188.9h0M363.7 181h0M364.9 180.3h0M346.4 159.5h0M361.3 174.9h0M347.3 158.1h0M347.6 160.6h0M355.9 164.6h0M365 181.9h0M350.5 161.6h0M357 163.3h0M366.6 186.7h0M368.8 188.3h0M364.4 181.9h0M361.9 172.1h0M359.9 177.1h0M351.9 165.4h0M344.7 160.8h0M367.6 187.3h0M363.7 177h0M347.3 159.1h0M361.1 178h0M353.6 159.8h0M352.8 164.6h0M358.6 171.6h0M368.1 196.2h0M361.5 174.7h0M356.6 170.3h0M353.7 161.7h0M362.9 172.3h0M365.6 186.1h0M346 161.9h0M349.3 161.3h0M364.4 191.4h0M365.3 191.5h0M365.5 185.1h0M362.1 183.1h0M359.2 171.1h0M371.3 195.1h0M357.5 175.4h0M360.1 176.9h0M354.9 166.9h0M353.3 165.9h0M369.3 184.4h0M359.2 172.9h0M370.9 194.8h0M354.4 162h0M362.6 178.4h0M371.4 196.9h0M347.9 161.4h0M365.6 187.5h0M370.1 192.8h0M349.8 162.6h0M361.3 172.1h0M367.7 192.9h0M358.3 167.8h0M363.2 183.4h0M369.2 189.9h0M363.3 187.3h0M351.1 163.8h0M360.2 167.6h0M362.1 175.1h0M355 156.1h0M370.1 191.4h0M372.7 195.4h0M359.8 173.9h0M368.9 184.3h0M365.8 186.9h0M359.1 182h0M364.6 178.4h0M347.1 164.2h0M364.5 189.2h0M365.2 185.7h0M350.1 157.8h0M362.2 177.4h0M367.6 186h0M349.5 160.5h0M368.7 186.6h0M358.2 171.3h0M363.9 183h0M368.1 181.8h0M373.9 192.6h0M353.7 165.7h0M362.9 185.8h0M366.1 183.5h0M365.7 170.4h0M371.4 197.2h0M362.8 175.1h0M354.5 166.5h0M360.2 172.3h0M351.3 169.8h0M368 192.1h0M357.7 167.6h0M351.4 163.2h0M369.8 191.9h0M345.4 172.3h0M350.4 163.3h0M363.8 186.3h0M362.6 181.6h0M353.7 164h0M364.2 188.6h0M352.7 162.2h0M357.6 171.8h0M352.1 163.9h0M363.2 171.8h0M357.1 164.2h0M362.6 179.1h0M365.1 185.2h0M360.2 173h0M368.4 192.3h0M371.3 192.6h0M357.5 174.7h0M356.7 169.1h0M362.7 178.5h0M354.3 167.8h0M367.2 192.9h0M350.4 163.3h0M365 185.6h0M355.4 167.7h0M361.2 168.5h0M352 167.3h0M363.9 180.7h0M349.5 158.9h0M363.6 177.8h0M365.7 180.8h0M349.6 163.1h0M367.3 195.7h0M359.4 174.2h0M361.1 175.7h0M359 178.9h0M361 169.7h0M366.4 188.2h0M347.6 159.4h0M361.4 180h0M362.3 177.2h0M347.6 161.2h0M362 181.2h0M347.1 169.6h0M361.1 178.7h0M370 192.2h0M364 185.2h0M354.4 167.5h0M352.7 165.2h0M348.7 163.8h0M350.1 174.8h0M347.6 160.5h0M369.1 191.8h0M367.7 190.7h0M382.4 191h0M365.4 179.8h0M367.3 185.1h0M368.4 193.9h0M367.3 187.7h0M365.5 188.5h0M367.9 194.8h0M356.2 167.4h0M357.5 165.7h0M350.4 172.8h0M353.1 160.5h0M351.8 170.6h0M358.7 174.9h0M368.1 182.4h0M351.3 161.3h0M363.9 178.9h0M357.7 162.9h0M346.3 159.5h0M347.5 159.7h0M363.6 181.6h0M356.4 163.9h0M366 196.3h0M357.3 171.8h0M352.4 164h0M367.5 175.5h0M359.7 171.4h0M348.1 163.1h0M357.1 169.7h0M373.5 194.3h0M364.1 183h0M364.4 184.4h0M356.8 171.2h0M349.5 162.2h0M355.9 168.9h0M362.9 171.1h0M359.9 172h0M364.4 191.2h0M353 164.5h0M349.9 161.3h0M363.2 179.4h0M363.6 188.7h0M367.1 189h0M350 163h0M358.7 171.1h0M348.8 158.9h0M370 194.6h0M358.2 173.6h0M372.9 195.7h0M349.9 161h0M363.9 181.5h0M350 161.8h0M363.9 169.5h0M350.2 159.1h0M364.4 175h0M346.8 158.6h0M367.8 185.6h0M359.9 173.9h0M372.5 193.5h0M361.9 180.8h0M363 184.2h0M371.4 197.5h0M368.7 189.3h0M357.2 168.4h0M362.8 172h0M361.1 175.7h0M365.3 185.5h0M356.6 165.6h0M361.1 171.9h0M363.9 180.7h0M370.3 194.2h0M361.3 173.6h0M367.1 187.5h0M349.4 161.4h0M363 170.1h0M361.1 170.7h0M365.8 185h0M350.9 171.6h0M371.3 193.6h0M357.4 166h0M366.3 185.5h0M367.8 192.7h0M362.3 180.4h0M357.1 163.5h0M357.7 167.8h0M369.8 191.8h0M371.4 192.7h0M369.2 195.8h0M359.7 169.4h0M375.7 194.3h0M364.6 183.3h0M363.9 171.3h0M357.2 171.5h0M352.7 163.5h0M370.7 193.2h0M363.6 191.9h0M361.2 173.4h0M351.6 162.2h0M366.4 182.3h0M356.6 165h0M363.9 189.7h0M363.5 174.7h0M359 177h0M347.5 158.6h0M364.3 171.9h0M361.7 177.8h0M366.8 188h0M367.5 187.5h0M363.2 199.1h0M367.5 196.2h0M351.2 160.8h0M349.9 161.3h0M353.9 168.8h0M363.4 182.9h0M369.4 188.3h0M362.1 189.9h0M359.5 182.3h0M354.8 169h0M374.6 194.5h0M359.8 177.7h0M372.6 194.2h0M359.6 171.3h0M361.6 172.5h0M345.2 162.8h0M366.1 186.8h0M363.6 183.8h0M362.1 180.6h0M359.7 178.3h0M360.9 168.1h0M353.7 162.2h0M370 188h0M362 174.6h0M363.2 169.6h0M354.6 164.9h0M353.1 159.8h0M370.5 197.3h0M367 185.2h0M360.3 171.6h0M365.3 181.9h0M362.9 174.4h0M367.1 182.3h0M359.9 172.3h0M364.3 181.4h0M355.6 160h0M361.6 178.5h0M355.6 170.8h0M363.3 171.9h0M349.7 163h0M362.4 177.3h0M359.4 179h0M371.9 196.4h0M345.1 160.4h0M359.1 172.4h0M355.5 166.1h0M359.1 181.2h0M351.5 162.6h0M374.4 221.5h0M376.7 220.5h0M379.1 223.5h0M380.5 242.8h0M378.7 248.2h0M381.4 220.8h0M375.2 224.2h0M384.3 230.3h0M379.3 250.3h0M383.4 247h0M380.8 228.7h0M372.7 211h0M374.3 218.5h0M382.7 229.8h0M377.1 219.2h0M382.6 226.2h0M373.2 237h0M373.1 210.6h0M377.1 208.4h0M377.3 215.1h0M377.1 219.7h0M380.4 235.9h0M383.2 232.1h0M385.3 233.8h0M380.9 231.2h0M379.4 226.4h0M383.3 244.1h0M378.2 227.1h0M380.3 229.2h0M375 209.6h0M375.1 219.2h0M378.1 229h0M377.2 211h0M367.5 213h0M381.6 248.1h0M377.7 249.5h0M376.2 210.9h0M382.5 239.9h0M372.4 213.7h0M384.2 228.6h0M381.7 231.5h0M378.8 213.6h0M379.9 233.7h0M381.7 245.4h0M381.5 233h0M379.9 247.7h0M383.2 238.5h0M377.5 223.6h0M375.8 217.3h0M385.9 207.4h0M374.1 214.7h0M379.9 243.2h0M380.4 217.1h0M381.3 224.8h0M380 217.1h0M380.1 237.1h0M381.2 249h0M396.3 225.5h0M380.2 235.2h0M378.3 215.8h0M382.1 249.6h0M379.4 246.7h0M376.2 219.3h0M377.5 212.5h0M375.1 215.5h0M376.3 240.8h0M377.7 247h0M378.3 239.6h0M377.7 227.6h0M379.3 223.1h0M373 208.4h0M378.9 225.2h0M382.4 244h0M379.7 249.7h0M377.2 251h0M377.8 222.1h0M381.7 234h0M378.8 245.3h0M381.5 229.8h0M382.3 228.6h0M376.2 210.6h0M379.5 244.1h0M374.5 211h0M374.1 207.8h0M375.2 212.6h0M374.2 214h0M377.5 232.9h0M380.5 243.1h0M375 213.6h0M373.6 215.9h0M377.8 221.3h0M382 226.3h0M380.3 240.7h0M383.2 248.8h0M374.9 213.7h0M378 238.5h0M375 222.2h0M382.8 235.7h0M379.9 224.4h0M380.2 234.8h0M381 238h0M378.1 234.2h0M369.8 236h0M374.4 208.3h0M373 217.2h0M380.4 244.1h0M375.7 216.4h0M378.6 246.3h0M376.4 213.1h0M369.9 209.7h0M377.8 216.6h0M376.4 245.1h0M382.1 244.8h0M377.6 232.2h0M380.1 250h0M379.8 246.7h0M374.7 220.2h0M382.3 232h0M380.7 235.9h0M374.7 220.8h0M377.7 238h0M379.5 234.9h0M380 250.1h0M374.6 209.1h0M377.8 214.7h0M373.8 216.4h0M385.4 231.9h0M384.5 240h0M381.4 249.3h0M385.8 235.9h0M380.6 247.4h0M374.9 209.9h0M377.7 246.4h0M385.6 220.9h0M381 216.6h0M376.3 214.7h0M375.3 219.8h0M380 239.5h0M378.4 243.7h0M381.3 230.1h0M381.2 249.9h0M376.3 219.6h0M381.4 241.3h0M378.1 207.5h0M374.6 216.8h0M386.5 234.5h0M377.6 214.9h0M380.4 233.2h0M380.1 241.9h0M379 215h0M382.6 241.4h0M386.2 241.1h0M374.6 223.7h0M378.7 221.5h0M380.9 238.8h0M378.4 225.6h0M372.6 215.6h0M380.1 240.8h0M374.1 218h0M373.8 207.7h0M383.5 241.9h0M379 226.4h0M374.1 225.4h0M373.1 212.5h0M376.9 245.2h0M383 241.1h0M373.8 214.8h0M376.6 210.6h0M382.2 231.4h0M379.9 218.3h0M378.3 233.1h0M375.8 209.8h0M376.5 207.8h0M381.7 245.1h0M379.5 244.9h0M376.4 222.5h0M373.6 214.4h0M382 238.2h0M380.6 229.9h0M379.1 228.5h0M378.9 225.4h0M372.2 214.2h0M376.3 222.6h0M383.2 241.3h0M379.8 226.6h0M378.4 234.4h0M376.5 222.8h0M376.4 214.8h0M381.8 231.1h0M378.5 227h0M378.8 225.5h0M386.5 239.2h0M373.9 226.5h0M379.8 225.5h0M383.8 240.8h0M380.4 234.5h0M382.5 241h0M381.8 233.6h0M383.6 241.4h0M381.1 234.6h0M375.9 207.6h0M377.4 224.8h0M376.8 248.1h0M378.2 217.7h0M381.5 249.4h0M384.9 227.7h0M383.2 240.7h0M378.5 218.7h0M382.7 231.7h0M378.5 216.6h0M381.5 226.2h0M378.5 213.8h0M383.6 237h0M382.4 229.1h0M384.3 226.2h0M379.8 223.3h0M375.2 212.7h0M377.1 219h0M382.6 235h0M382.3 244.9h0M384.7 241.7h0M377.5 246.6h0M379.1 238.4h0M383.6 239.4h0M379.4 246h0M377.8 246.3h0M377.5 215.8h0M375.6 214.8h0M386.5 226h0M376.4 222.4h0M379.6 247h0M384.9 248.7h0M373.2 210.3h0M379.8 244.2h0M381.9 230.4h0M373.1 213.5h0M378.8 246.9h0M379.7 243.7h0M383 242.5h0M371.5 211.4h0M375.2 209.4h0M380.9 226.5h0M380.9 230.7h0M383.9 230.2h0M374.2 209.6h0M380.4 241.9h0M379.3 235.2h0M379.4 217.4h0M376.4 215.1h0M380.2 248h0M378.2 215.9h0M379.1 225.3h0M379.9 218.2h0M378.9 213.9h0M382 236.5h0M382.7 227.5h0M376.6 225h0M378 221.1h0M377.1 216.1h0M374.2 212h0M380.4 237.5h0M382.1 239.5h0M373 209.6h0M377.3 223.3h0M380.5 246.3h0M381.1 244.3h0M378.5 246.2h0M382.8 232.9h0M379.2 249.3h0M378.5 248h0M373.9 208.4h0M384.7 230.1h0M376.8 249.9h0M375.5 215.2h0M383.8 221.4h0M382.2 243.2h0M372.9 218.2h0M376.7 248.3h0M378.2 229.5h0M381.8 231.8h0M377.7 237.6h0M375.9 226.8h0M380.1 250.6h0M377.3 237h0M379 227.5h0M381.1 242.4h0M375.6 213.5h0M381.1 241.1h0M381.4 233.8h0M376.1 219.2h0M379 223.6h0M381.1 230.9h0M381.7 245h0M375.9 213.9h0M378.9 223.9h0M378.7 247.5h0M375.2 213.6h0M379.5 232.3h0M379.7 246.6h0M379.9 233.4h0M376.8 207.2h0M378.7 249.2h0M380.9 241.6h0M377.2 225.8h0M378.7 237.2h0M377.8 227.8h0M383.2 237h0M383 241.3h0M376.4 216.4h0M378.7 221.9h0M379.2 247.9h0M379.4 240.5h0M378.3 206.5h0M377.2 221.9h0M384.3 244.4h0M377.3 223.6h0M380.6 249h0M381.6 248.1h0M377.2 213.6h0M379.6 215.4h0M386.1 250.6h0M381.8 237.8h0M379.2 250.3h0M376.1 209.9h0M382.2 225.6h0M372.6 212h0M375.6 207h0M373.9 210.7h0M379.9 249.8h0M380 236.4h0M379.5 249.9h0M379.7 244h0M381.4 244.5h0M375.3 216.1h0M380.6 250.7h0M379.5 225.7h0M381.2 248.8h0M379.6 231.5h0M373.2 222.6h0M376.3 247.6h0M378.8 241.9h0M377 212.6h0M382.3 235.7h0M377.4 226.1h0M374.4 207.5h0M382.6 238.6h0M375.7 225.6h0M379.6 217.1h0M380.9 230.3h0M375 220.5h0M380.8 246.3h0M380.8 226.7h0M396.3 225.5h0M379.8 227.1h0M380.9 228.7h0M378.5 220.2h0M375.8 211.6h0M367 219.1h0M380.1 228.7h0M378.3 246.5h0M373.3 217.8h0M366.8 241.3h0M380.1 247.1h0M381.3 230.6h0M371.6 208.8h0M380.5 249.2h0M381.9 248.1h0M379.8 244.8h0M383 232.5h0M379.3 232.3h0M374.4 208.1h0M385 235.9h0M379.2 248.7h0M379.1 232.2h0M377.4 246.8h0M378.5 246.4h0M383.6 234.7h0M379.7 250.9h0M373.7 212.8h0M383.1 235.2h0M381 251.2h0M379.7 235h0M380.5 232.1h0M375.7 214h0M381.2 228.5h0M382.5 240.3h0M382.4 237h0M378.1 215.8h0M382.6 242h0M376.9 222.2h0M378.9 249.9h0M376.4 221.2h0M383.6 241.5h0M378.4 238.5h0M378.7 214.6h0M379.9 213.8h0M381.4 239.6h0M374.2 210.2h0M380.1 244.6h0M377.5 218.7h0M382.2 246.8h0M378.3 227.6h0M378.5 223.8h0M375.6 215.9h0M382.8 227.6h0M373.3 209.1h0M380.2 227.7h0M376.9 222.7h0M372.3 210.1h0M379.3 233.7h0M381.1 238.5h0M381.3 230h0M378.1 206.2h0M386 242.1h0M379.8 227.4h0M379.9 238h0M381.6 233.4h0M382.4 240.8h0M376.7 212.6h0M378.7 248h0M380.5 240.8h0M377.3 235.9h0M378.4 236.6h0M377.2 246.4h0M373.4 212.5h0M378.3 216.5h0M376.7 221.9h0M377.9 232.6h0M380.9 210.1h0M372.9 212.8h0M381.2 236.5h0M380.1 243.2h0M373.8 208.8h0M377.5 207.6h0M379.9 250.7h0M382.9 246.6h0M378.3 223.9h0M380 240.8h0M375.1 210.6h0M381.9 229.7h0M379.1 220h0M374.9 214.1h0M376.6 216.4h0M381.3 247.5h0M374.7 210.4h0M382.4 237.3h0M377.4 222.4h0M375.9 242.1h0M384.2 230.3h0M377.6 209.8h0M379.3 235.2h0M371.3 213.9h0M381.4 234.9h0M378.7 222.6h0M375.4 211.2h0M384.9 240h0M376.7 216.3h0M378.7 223.7h0M379.7 230.1h0M383.1 238.8h0M371.6 223.7h0M376.9 233.1h0M377.7 249.5h0M381.5 226.2h0M375.6 207.4h0M374.9 212.5h0M379.4 211.2h0M382.2 227.9h0M379.7 225.5h0M373 210.7h0M379 232h0M377.9 246.4h0M378.3 227h0M374.5 224.1h0M379.6 233.5h0M375.9 222.8h0M375.9 224.1h0M381.7 234.3h0M380 230.3h0M380.8 236.1h0M381.1 229.7h0M378.1 248h0M378.8 242.1h0M377.5 246.2h0M381.1 230.6h0M377.9 211.9h0M377.9 216.8h0M380.4 230.1h0M377.5 212.6h0M381.1 239.3h0M380.5 246.3h0M374.3 245.6h0M373.4 227h0M381.1 232.2h0M384 245.8h0M380 242.6h0M372.8 223.9h0M378.3 217.1h0M384.1 243.1h0M379.6 229h0M376.7 216.2h0M377.5 214.2h0M374.7 214.1h0M373.5 213.6h0M383.1 223.4h0M378.4 209.5h0M378.4 214.2h0M383.8 239.5h0M379.8 227.1h0M376.1 221.2h0M376.4 210.9h0M386.9 238.8h0M382 235.5h0M386.4 213.7h0M376.2 243.3h0M374.3 210.8h0M379.8 244.3h0M365.3 216.3h0M381.2 237.9h0M378.2 223.6h0M377.6 220.2h0M379.3 246.9h0M374.6 222.3h0M379 231.2h0M381.7 250.7h0M379.8 244.9h0M381.5 228.6h0M384.8 239h0M373.3 210.1h0M379.9 221.1h0M378.3 241.3h0M376.2 230.3h0M382.6 231.7h0M376.2 213.6h0M373 213.5h0M381.9 245.3h0M380.4 214.7h0M380.1 228.2h0M380.8 248.6h0M377.6 249h0M379.2 225.7h0M389.5 250.8h0M381.5 249.9h0M380.4 237.5h0M378 225.7h0M381.1 223.9h0M382.2 230.4h0M383 229.1h0M377.8 211.1h0M375.4 212.6h0M374.7 210.2h0M373.5 216.3h0M379.3 245.6h0M380.5 238.5h0M381.6 248.4h0M377.3 238h0M375.8 218.3h0M373.3 212.5h0M374.7 214.9h0M377 213.8h0M374.5 209.6h0M377.1 230.8h0M378 250.9h0M381 242.6h0M387.3 226.4h0M374 246h0M379.4 240.1h0M377.8 214.1h0M372.3 211.1h0M377.2 216.6h0M374.1 224h0M376.2 213.7h0M383.9 239.1h0M380.5 239.7h0M383.3 230.6h0M378 213.3h0M372.1 212.1h0M382.7 239.8h0M376.5 226.1h0M379.8 227.7h0M378.8 221h0M383.1 232.7h0M381.2 235.4h0M381.4 235h0M376.6 215.8h0M372 221.1h0M378.1 234.2h0M379.9 235.4h0M371.8 211.5h0M384.2 246h0M379.5 239.7h0M376.2 230.7h0M378.4 226.2h0M377.6 230.9h0M382.4 234h0M382.7 230h0M383 236.3h0M379.7 213.1h0M373.4 210h0M376.8 224.9h0M376.9 213h0M377.8 230h0M377.5 213.9h0M379.4 231.6h0M374.8 223.4h0M380.7 232.5h0M381.3 244.3h0M382.1 242.9h0M374.4 220.7h0M368.8 220.9h0M375.6 212.1h0M381.5 242h0M379.7 250.6h0M377.6 242.4h0M373.1 212.1h0M386.3 238h0M381.4 227h0M380.2 231.3h0M380.6 229.8h0M381.6 228.7h0M383.7 240h0M379.6 219.2h0M380.1 233.8h0M374.5 210.6h0M380.3 236.8h0M375 210.3h0M371.8 208.8h0M382 239.1h0M374.9 209.3h0M378.2 221.1h0M384.3 234.3h0M381.8 235.6h0M377.9 218.6h0M383.6 235.7h0M381 236.3h0M377.9 232.9h0M383.4 230.5h0M380 247.5h0M379.2 233.3h0M377.2 209.3h0M375.6 213.9h0M381.4 247.2h0M383.7 240.6h0M375.2 220h0M373.7 217.9h0M382.8 232.9h0M379.9 239h0M377.9 211.2h0M380.3 227.2h0M377.2 215.2h0M383.4 228.3h0M380.2 227.3h0M374.3 209.8h0M375.7 215.6h0M377.6 220.2h0M372.7 211h0M382.3 246.4h0M377.3 235.6h0M377.4 212.9h0M382.5 242h0M381.7 236.9h0M373.2 236.4h0M380 224.9h0M379.2 232.3h0M382.6 226.9h0M381.7 243.2h0M375.7 220.6h0M378.2 242.5h0M383.4 245.1h0M382.4 224.1h0M381.5 228h0M379 249.9h0M380.9 247.6h0M380.4 230h0M371.5 213h0M377.7 245.6h0M376.9 215.4h0M382.2 236.7h0M380.7 228.9h0M375.1 214.5h0M380.5 223h0M385.6 239.9h0M380.8 231.4h0M379.2 231.3h0M379.9 236.4h0M378.4 237.2h0M376.5 232.7h0M383.3 235.4h0M376.7 216h0M378 250.4h0M381 244.5h0M379.1 246.7h0M378.2 261.8h0M380.8 264.4h0M370.6 297.8h0M377.6 281.8h0M377.7 263.1h0M374.9 301.4h0M376.4 287.9h0M374.4 298.8h0M372 293h0M379 277.4h0M378.3 280.1h0M370.9 293h0M379.3 287.8h0M377.6 270.5h0M379.3 288.4h0M377.7 288.3h0M374.7 292.7h0M375.2 290.2h0M380 279h0M379.7 265.9h0M378.7 275.9h0M380.1 273.5h0M372.9 295h0M377.5 279.7h0M376.3 269.1h0M378.1 285.4h0M379.9 265.1h0M378.4 277.9h0M382 264.3h0M368 301h0M375.2 270h0M378.3 271h0M373.5 294.9h0M379.9 262.9h0M377.6 261.4h0M379.2 266.9h0M373.1 300.7h0M375.2 297.1h0M376.3 270.8h0M382.1 266.4h0M378.9 273.7h0M368.7 270h0M374.6 291.5h0M381.6 262.6h0M370.2 300.4h0M377.1 288.1h0M375.5 291.1h0M378.6 262.6h0M371.8 296.8h0M378.7 266.1h0M369.8 299.9h0M378 289h0M379.2 279.6h0M379.3 266.1h0M375.9 285.6h0M379.4 275.2h0M376.5 268h0M373.6 297.5h0M376.5 290.5h0M370.6 294.4h0M374.5 289.5h0M377.8 273.6h0M378.6 286.7h0M368.5 297.3h0M374 291.7h0M369.1 301.4h0M377.7 283.3h0M377 276.5h0M379.3 269.6h0M378.3 281.3h0M372.2 295.4h0M374.3 275.4h0M379.6 264.7h0M372.8 297.3h0M376.8 290.8h0M378.1 274.2h0M379.2 277.3h0M377.1 269.7h0M379.6 265.7h0M377.1 283.4h0M380.3 263.8h0M379.1 273.6h0M376.4 290.3h0M380.7 277.6h0M376.7 269.9h0M372.3 299.8h0M386.8 283.3h0M377.7 271.3h0M372.8 300.9h0M372.1 294.1h0M374 299.4h0M377.8 286.3h0M373.6 290.5h0M377 285.5h0M372.3 301.6h0M380.4 262h0M372.8 302.6h0M381.1 264.4h0M368.2 299.4h0M376.1 287.6h0M370.3 294.3h0M369.9 293.1h0M375.2 286.9h0M373.4 292.6h0M377.6 274.5h0M379.3 262.6h0M377.2 272.7h0M376 291.5h0M372 296.5h0M372.1 299.2h0M377 270.2h0M379.8 273.4h0M368.8 301.6h0M381.5 278h0M376.5 276.2h0M372.6 292.7h0M380.2 267.9h0M377.8 274.1h0M376.4 272.9h0M376.5 289.4h0M378.7 282.4h0M374.3 290.1h0M379.9 266.8h0M379 287.2h0M370.9 300.9h0M377.5 270.4h0M378.1 270.3h0M375.3 291.3h0M377.8 262.6h0M377.2 261.6h0M378.4 279.7h0M379.5 267.6h0M380.8 267.8h0M372.6 300.2h0M377.6 278.5h0M377.5 271.6h0M377.7 273.1h0M372.4 300.6h0M378.9 274.5h0M381.7 286.9h0M378.6 277h0M379.7 279.8h0M379.2 276.1h0M376.3 289.5h0M372.1 294.9h0M373.9 294h0M378.2 290.2h0M373.2 296h0M370.7 299.9h0M375.9 288.3h0M378.2 267h0M381.5 265h0M379.1 270h0M376.3 273.1h0M370.7 302h0M371.4 297.8h0M374.8 301.2h0M379.4 267.8h0M380 263.4h0M378.8 276.3h0M371.3 300.7h0M378.9 278.4h0M369.9 301.9h0M379.2 281.3h0M372.9 301.9h0M372.1 302.5h0M374.1 288.6h0M382.3 276.5h0M375.9 281.7h0M376.3 287.2h0M377.8 280.2h0M376.5 291.8h0M373.1 293h0M380.5 263.2h0M370.8 293.6h0M370.3 296.8h0M364.2 294.3h0M376.7 267.9h0M379 264.2h0M380.5 264.3h0M376.6 286.1h0M378.6 275.1h0M379.1 284.5h0M379.1 266.3h0M378 278.3h0M376.1 291.5h0M377.8 275.1h0M378.2 273.8h0M377.2 287.7h0M377.8 278.6h0M378.1 284.3h0M380.5 262.4h0M377 270.2h0M377.7 278.3h0M379 264.8h0M377.5 279.1h0M375.2 294.5h0M378.4 266h0M370.7 301.9h0M378.8 281.3h0M377.3 266.5h0M378.3 269.2h0M371.4 292.7h0M382.8 282.5h0M378 280.7h0M368.8 298h0M377.4 277.2h0M379.6 263.4h0M378.3 279.6h0M379.9 271.3h0M379.2 267.1h0M374.7 297.7h0M374.6 290.3h0M376.2 288.2h0M380.7 264.8h0M378.8 294.4h0M377.4 284.2h0M371 300.7h0M377.1 300.2h0M378.5 274h0M374.6 297.5h0M378.8 266.5h0M377.6 283.3h0M378.6 270.2h0M379.5 281.9h0M379.6 267.2h0M375.6 290.7h0M377.4 275h0M378.1 291.9h0M380 263h0M374.3 297.8h0M380.1 290.2h0M379.6 265h0M377.7 267.2h0M378.6 264.5h0M375.8 287.3h0M376.5 290.7h0M383.3 279.7h0M380.5 270.1h0M376.8 286.2h0M376.8 285.4h0M379.5 264.3h0M378.2 266.4h0M377.8 287.5h0M377.5 278h0M379.6 265.4h0M379.7 263h0M372.4 302.5h0M377.9 271.7h0M372.4 302.4h0M372.2 293.7h0M378.1 261.2h0M380.1 280.3h0M378.8 277.4h0M371.2 300.5h0M379.3 261.5h0M373.1 297.3h0M372.1 300.3h0M379.4 280.5h0M372.2 299.3h0M376.7 272.9h0M377.3 289h0M374.7 268.9h0M369.8 299.9h0M378.9 280.9h0M370.5 292.4h0M368.5 299.5h0M371.2 296.7h0M378.3 264.5h0M378.2 281.9h0M378.8 264.9h0M377.9 280.8h0M374.2 289.9h0M375.3 282.7h0M380.2 269h0M378.4 271.7h0M376.9 278.7h0M373.5 301.6h0M374.2 303.5h0M373.9 301.4h0M372.9 295.1h0M379.1 267.8h0M381.2 270.8h0M376.9 287.1h0M380.5 266h0M376.2 278h0M374.9 293.7h0M372.6 294.6h0M374.5 291.6h0M377.8 284.1h0M372.1 294.8h0M376.4 270.3h0M378.4 278.1h0M373.2 292.6h0M376.4 282.1h0M378.2 275.7h0M379.2 276.2h0M379.8 283.1h0M377.6 266.7h0M372.5 297.8h0M376.7 277.9h0M377.7 264.9h0M380.1 280.1h0M375.9 269.9h0M377.7 274.6h0M380.2 263.9h0M379.8 266.1h0M379.7 280.8h0M378.1 267.3h0M371.4 301.7h0M377.6 279.6h0M378 273h0M371.7 301.6h0M378.7 277.3h0M378.8 261.3h0M371.8 293.8h0M377.2 284h0M379.9 280.5h0M374.2 291.2h0M371.7 299h0M375.3 288.7h0M379.1 280.9h0M378.5 286.8h0M376.1 287.1h0M376.3 269.8h0M373.2 300h0M373.5 285.2h0M378.5 282.4h0M374.4 269.1h0M377.9 287.1h0M377.7 281.7h0M378 262.3h0M379.9 268.9h0M371.9 292.2h0M373.5 292.7h0M379.5 276.8h0M378 280.7h0M378.8 271.8h0M379.3 263.7h0M373.2 295.6h0M379.9 262.4h0M372.1 296.1h0M376.5 273.7h0M376.6 286.5h0M371.8 301.2h0M378.2 287.9h0M374.5 290.1h0M376.1 286h0M378.4 268.6h0M379 266h0M379.8 265.3h0M380.1 262h0M377.4 274.9h0M376.6 289.5h0M379.9 286.8h0M379.8 264.7h0M379.9 279.1h0M375.3 285.9h0M377.4 281h0M379.1 267.2h0M372.6 297.6h0M369.4 295h0M377.3 275h0M380.5 279.2h0M379.2 262.2h0M370 298.8h0M373.2 300.4h0M376.7 282h0M384.2 294.9h0M376.6 288.6h0M377.7 280.4h0M382.5 266h0M374.1 294.3h0M377.8 272.8h0M376.3 291.4h0M372.8 290.5h0M369.9 291.8h0M380.9 276.4h0M373.9 300h0M378.6 267.6h0M377.8 279.7h0M376.2 282.8h0M375.1 287h0M376.2 281.8h0M377.9 291h0M376.9 290.7h0M371.4 297.4h0M372.4 294.9h0M378.1 284.7h0M377.2 286.5h0M378.4 271.8h0M376.2 283.2h0M371.3 292.9h0M379.9 275.2h0M378.9 265h0M372.9 292.3h0M377.6 262.2h0M379.7 263h0M380.9 265.4h0M378.5 267h0M376.2 295.3h0M379.2 269.7h0M377.3 274h0M373.9 282.7h0M375.1 294.7h0M384.7 277h0M374.7 285.9h0M375.7 282.2h0M379.3 281.6h0M372.7 297h0M376 283.8h0M377.9 271.2h0M377 278h0M377.9 272h0M372 290.8h0M379.2 276.2h0M374.2 289.4h0M379.2 269.5h0M371.1 296.3h0M378.1 281h0M377.1 284h0M378 282.6h0M377.2 272.9h0M379.3 281h0M379.7 280.3h0M371.4 302.4h0M377.8 290h0M372 296h0M377.6 287.7h0M373.7 291.3h0M374.9 295.5h0M377.5 278.8h0M377 286h0M374.4 267.7h0M373.9 301.9h0M378.5 289h0M377.1 281h0M382.6 300.7h0M377 288.3h0M373.1 292.3h0M378 271.5h0M377.6 277.3h0M378.3 276.2h0M377.3 270.7h0M378.4 272.9h0M381.2 267.6h0M382.9 265.1h0M370.9 291.8h0M371.7 266.3h0M377.9 264.9h0M380.1 264.2h0M377.4 265.1h0M382.2 263.3h0M378.6 268.8h0M379.3 273.8h0M377.2 275.5h0M374.6 272.4h0M376.9 285.3h0M372.8 300.7h0M376.7 291.6h0M372.8 297h0M379.9 263.4h0M378.1 281.1h0M371.9 300.4h0M378.9 266.1h0M379.1 266.7h0M380.1 265.2h0M372.7 293.1h0M378.8 288.6h0M372.1 299.8h0M373.1 299.5h0M373 299.8h0M380.1 265.7h0M377.8 270.5h0M376.6 285.3h0M374.5 297.5h0M377.9 283.3h0M371.8 293.7h0M374 292.9h0M378.1 282.1h0M379.7 262.8h0M379.3 266.8h0M377.5 270.4h0M375.3 280.7h0M371.2 301.2h0M379.4 262.8h0M381.1 264.2h0M372.8 293.2h0M371.9 289h0M377.6 268.6h0M378.6 281.3h0M375.7 271.4h0M378.3 264.7h0M379.4 278.7h0M380.6 266.6h0M379.2 267.7h0M376.6 291.2h0M373.5 296.3h0M376.6 287.7h0M371.4 298.3h0M376.6 280.2h0M347.9 338.3h0M352.6 336.7h0M357.6 332.7h0M365.5 311.5h0M365.1 315.8h0M350.4 343h0M349.1 345.5h0M353.4 333.4h0M363.6 318.4h0M364.1 319.9h0M348.8 344h0M363.7 323.7h0M348.2 341.1h0M365 318.5h0M362.9 329.5h0M357.1 333.6h0M363.3 313.1h0M348.8 345.5h0M348.5 343.9h0M364.6 339.9h0M362.1 321.4h0M366.6 319.7h0M365.9 312.1h0M367.2 312.6h0M356.5 316.4h0M357.6 331.3h0M362 319.7h0M356.8 329.2h0M361.4 328.4h0M358.8 326.8h0M363.2 317.5h0M365.4 324.8h0M359 331.7h0M355.8 339.8h0M366.1 329.1h0M361.9 323.8h0M357 337.8h0M366.1 319.5h0M363.7 327.6h0M363.1 327.2h0M357.8 334.8h0M363.9 321h0M347.2 346.1h0M350.7 348.4h0M364.8 312.1h0M363.9 315.1h0M360.1 329.5h0M367.4 313.8h0M366.9 317.5h0M355.9 334.9h0M352.7 340.5h0M367 314h0M359.7 329.4h0M351.9 339.2h0M360.2 326.8h0M362.4 323.7h0M358.8 330.8h0M361.7 331.5h0M357.4 331.1h0M361.3 327.1h0M358.7 330.7h0M356.3 327.8h0M362.5 329h0M350.8 343.7h0M358.9 319.9h0M359.9 327.7h0M351.3 339.6h0M362.8 326.6h0M348.9 338.4h0M351 342.4h0M359.7 331.7h0M352.9 339h0M362.7 315.6h0M361.1 325.5h0M354.1 328.4h0M352.2 344.6h0M367.9 316.8h0M356 332.8h0M365.8 320.4h0M362.5 327h0M349.5 338.1h0M351.7 339.4h0M362.5 319.1h0M360.8 318.8h0M356 333.9h0M354.3 336.7h0M360.2 329.8h0M353.5 334.7h0M357.8 334.4h0M360.2 328.4h0M363.3 324.5h0M354.6 338.7h0M352.3 340.8h0M354.5 336.2h0M367.8 322.5h0M350.7 340h0M350 341.1h0M347 343h0M348.5 341.1h0M368.9 320.8h0M359.2 332.3h0M365.4 317.5h0M344 334.3h0M350.7 345.7h0M362.8 318.4h0M353.9 337.1h0M350.5 338.5h0M354.6 338.6h0M350 338h0M351.1 341.5h0M350.3 333.8h0M350.4 344.7h0M360.8 329.2h0M365.8 320.6h0M356.9 331.9h0M355.4 329h0M356.7 329.9h0M363.4 324.7h0M358.8 327.3h0M356.1 332.1h0M361.3 322.9h0M359.4 328.3h0M351.4 348.6h0M364.6 326h0M348.4 344.4h0M357.3 336.7h0M358.5 331.2h0M367.2 311.8h0M363.1 322.2h0M364.1 317.2h0M354.8 334.2h0M347.4 325.3h0M353.9 334.5h0M364.5 328.4h0M356.5 336.9h0M355.4 334.1h0M362.7 321.4h0M354.8 333.4h0M348.3 345.7h0M350.9 343.9h0M367 314.3h0M355.7 337h0M353.5 340.3h0M348.5 338.1h0M350.7 345.5h0M352 340.8h0M356.8 330.1h0M366.1 313.3h0M347.6 344.2h0M363.4 326.9h0M361.7 318.5h0M363.5 323.6h0M361.8 341.1h0M352.3 344h0M361.4 331.8h0M361.6 320.5h0M368.5 317.5h0M350.9 346.3h0M354 344.3h0M345 342.1h0M351.8 339.5h0M355.8 338.5h0M366.9 315.5h0M356.9 331.8h0M365.1 320.6h0M347.1 342.5h0M350.4 341.6h0M368.3 313.8h0M363.7 316.8h0M349.7 343.9h0M358.4 330.4h0M363.8 329.3h0M347.3 342.3h0M356.1 338.1h0M366.7 323.8h0M353.1 340.2h0M362.3 314.3h0M366.4 311.5h0M349.2 345.1h0M355.5 333.6h0M362 329.2h0M352.3 338.2h0M365.5 317.9h0M364.8 322.8h0M367 312.4h0M368.9 316.2h0M363.8 322.6h0M353.9 335h0M365.6 313h0M349.6 344.2h0M350 346.2h0M350.8 340.8h0M362.6 321.5h0M364.6 324.1h0M355.4 334.9h0M358.5 337h0M363.1 329.3h0M347.1 344.9h0M364.9 328.5h0M353 344.2h0M362.8 324.7h0M354.7 333.3h0M363.9 321.1h0M364 314.4h0M364.1 314.3h0M359.4 327.1h0M360.7 333.9h0M361.7 324.5h0M355.5 336.1h0M358.4 347.6h0M359.1 329.2h0M351.8 341.3h0M359.3 332.5h0M367.7 317.5h0M362.9 321.4h0M362.5 326.9h0M366.5 313h0M359.1 324.2h0M363.3 323.5h0M363.2 332.5h0M351.2 338.9h0M357.7 325.1h0M364.1 329.2h0M364.9 325.3h0M364.3 321.5h0M361.3 333.6h0M348.6 344.9h0M366.3 311.4h0M353.4 337.8h0M353.7 339.6h0M357.7 333h0M373.9 321.7h0M359.7 331.6h0M365.5 315.5h0M349.3 342.1h0M364.5 330h0M366.2 313.4h0M353.9 338.1h0M353.2 333.8h0M357.1 331.9h0M362.5 323.6h0M351.5 340.4h0M355.9 332.2h0M367.3 313.4h0M365.6 316.9h0M358.9 333.8h0M363.2 319.7h0M360.8 323.5h0M355.7 333.7h0M361.2 328h0M366.7 315.9h0M363.2 320.4h0M362.5 327h0M351.3 346.6h0M366.1 316.8h0M350.9 337.7h0M358.6 330.6h0M353.4 331.4h0M351.7 336.8h0M350.8 345.3h0M350.5 344.8h0M360.8 320.7h0M353.6 335.3h0M351.2 339.7h0M364.9 318.2h0M364.6 319.5h0M351.3 327.6h0M350.5 340.8h0M363.8 310.6h0M348.2 344.8h0M353.3 345h0M360.2 337.7h0M362.8 321.2h0M348.8 347h0M360.4 328.9h0M364.5 323.3h0M355.2 330.9h0M360.7 330.9h0M352.2 342h0M361.8 322.5h0M365.2 324.9h0M358 336.2h0M366.4 317.1h0M346.4 345.1h0M352 348.1h0M349.3 344.9h0M360.6 323.8h0M362.9 321.7h0M345.4 343h0M350.6 343.7h0M361.1 325.8h0M363.3 315.2h0M366.4 312.5h0M366.7 317.1h0M363 328h0M364.7 315.8h0M348.5 323.5h0M365.2 318.8h0M362.8 329.2h0M360.4 325.6h0M361.6 334.3h0M362 329.7h0M361.3 322.2h0M369.5 316.8h0M358.1 326.1h0M365.2 322.8h0M358.3 331.8h0M348.3 344.9h0M366.2 319h0M356.4 329.2h0M354 326h0M351.6 337.5h0M352.1 344.9h0M354.9 336.2h0M354.9 339.2h0M359.3 317.9h0M348.9 343.8h0M364 324.3h0M348 337.1h0M364.1 325.4h0M343.6 335.7h0M362.3 329.1h0M354.7 336.9h0M363.8 333.6h0M363.6 325.3h0M349 346.5h0M367.9 318h0M364.6 325.8h0M364.4 325h0M361.3 322.4h0M351.9 337.8h0M347.9 337.4h0M352.9 336.5h0M358.5 328h0M357.6 328h0M355.3 330.4h0M365.4 318.5h0M366.2 313.5h0M351.6 336.7h0M350.3 345.1h0M349.5 345.3h0M351.9 339.8h0M362.1 327h0M348.6 344.3h0M347.1 343.3h0M361.7 326.8h0M353.8 338.3h0M349.5 343.8h0M351.8 340.5h0M365.3 315.5h0M365.6 311.6h0M355.6 336h0M351.4 343.4h0M361.5 327.7h0M351.1 341.2h0M360.7 321.5h0M356.7 341.1h0M367.8 321.3h0M352.1 345.4h0M369.8 318.5h0M362.6 319.7h0M348 342.7h0M354.6 335.5h0M355.9 327.9h0M349.6 346.1h0M358.9 332.1h0M359.8 330.4h0M354.3 339h0M366.8 316.1h0M365.5 323.3h0M363 319.8h0M353.5 342.9h0M364.3 311.6h0M363.3 326.6h0M361.9 330.5h0M362.5 322.4h0M363.1 316.6h0M364.9 312.9h0M367.3 318.6h0M365.3 318.1h0M358.7 331.6h0M357.3 339.7h0M361.8 319.3h0M351.5 335.1h0M360.2 328.9h0M363.1 337.5h0M362.8 323.3h0M366.9 320.2h0M360.5 330.5h0M354.5 334.9h0M350.2 342.6h0M352.2 331.8h0M365.1 318.1h0M368.9 317.2h0M354.3 342.2h0M358.4 331.1h0M364 316.9h0M355.9 332.2h0M369.5 317.5h0M366.3 311.8h0M349 336.4h0M367.6 335.9h0M358.5 329h0M351.6 341.9h0M366.3 315.6h0M353.3 344.5h0M363.2 328.6h0M351.3 342.9h0M361.1 323h0M362.5 317.1h0M353.7 333.5h0M363.1 328.2h0M362.1 326.9h0M367.6 318.8h0M364.3 320.7h0M349.1 345.8h0M363.9 320.6h0M359.3 312.6h0M359.3 320.4h0M360.1 333.1h0M356.8 334.3h0M362.8 319.2h0M362.3 321.2h0M367.4 313.6h0M357.3 333.9h0M346.8 327.9h0M348.4 343.2h0M359.5 326.3h0M350.5 340.7h0M363.6 319.1h0M344.6 323.7h0M351.5 344.8h0M368.4 326.8h0M365.6 324.1h0M366.6 327.3h0M355.6 334.7h0M353.7 340.2h0M359.1 322.8h0M370.2 324.6h0M351.7 343.3h0M350.8 339h0M363.5 330.1h0M365.9 319.8h0M364.6 325.4h0M365 313.8h0M361.5 323.4h0M350.4 337.3h0M361.1 328.2h0M359.1 333.3h0M350.5 344.6h0M366.8 317h0M365 329.1h0M363.8 320.1h0M365.1 321.2h0M364.6 321.1h0M349.9 347.9h0M348.2 337.9h0M365.7 311.4h0M365.4 316.7h0M364.1 317.1h0M364.6 322.8h0M366.5 319.8h0M366.1 330.9h0M350.5 342h0M357.8 331.4h0M351.2 338.8h0M366.1 316.5h0M356.5 335.1h0M355.9 331.1h0M366.8 311.9h0M350.2 346.4h0M356.4 337.1h0M363.2 324.5h0M357.4 329.3h0M350.9 343.6h0M368.4 315h0M365.4 319.6h0M355 337.2h0M355.7 327.4h0M365 323.5h0M362.4 323.6h0M353.9 332.4h0M357.3 332.5h0M359.4 328.3h0M361.3 331.3h0M365.6 318.4h0M360.4 320.9h0M364.6 318.1h0M350.1 347.6h0M360.6 329.7h0M356.3 331.2h0M352.1 337.3h0M368.9 313.3h0M356 333.3h0M368.2 320.1h0M365.4 311.7h0M363.7 329.1h0M365.9 320.2h0M351.5 347.1h0M361.7 319.3h0M349.9 344.8h0M367.5 312.4h0M348.5 346.4h0M352.6 337.7h0M364.3 314.1h0M366.6 317.2h0M364.1 328.3h0M366.2 312.2h0M367.3 318.4h0M356.9 333.8h0M352.5 336.6h0M362.8 313.6h0M351.1 346.9h0M348.5 340.5h0M356.8 339.6h0M349.2 344.5h0M362.8 313.4h0M359.4 331.3h0M365.8 312.4h0M357.6 333.1h0M351.8 343h0M363.4 319.4h0M348.8 347.1h0M352.8 343.6h0M364.4 327.7h0M364.7 323.8h0M360.9 320.4h0M350 345.4h0M362.9 327.2h0M360.3 320.1h0M351 337.2h0M365.5 314h0M362.3 328.1h0M360.8 322.6h0M365.9 317.1h0M352.2 345.9h0M363.8 324.4h0M367.4 317.8h0M352.5 348.5h0M352.9 335.6h0M355 334h0M349.7 346.3h0M346.7 344.4h0M354.6 337.7h0M347.1 339.5h0M349.5 339.2h0M366 320.8h0M357.7 327.8h0M349.2 339.8h0M364.2 311.6h0M350.7 341.4h0M364.1 321.9h0M351.9 346.2h0M352 343.4h0M361.9 328.7h0M350.1 338.8h0M365.7 312.5h0M362.1 331.5h0M359.7 328.3h0M349.5 341.4h0M362.7 323.9h0M367.3 318.8h0M362.4 326.7h0M363.7 323.5h0M348.4 344.3h0M350.6 345.9h0M356.9 335.6h0M356.5 335.7h0M353.8 338h0M365.1 315.2h0M357.5 332.7h0M354.4 334.7h0M365.4 313.8h0M354.9 335.8h0M349.8 347.7h0M350.9 337.7h0M349.7 341.1h0M360.1 334.9h0M357.7 334.9h0M357.3 333.2h0M360.5 330.6h0M362.3 327.1h0M361.7 323.9h0M352.8 339.9h0M363.5 327.9h0M348.4 338.5h0M352.1 332.1h0M356.4 332.2h0M359.3 330.9h0M366.3 321.2h0M358.6 329.5h0M346.5 345.5h0M360.9 323.5h0M350.3 345.5h0M347.7 344.8h0M367.7 316.5h0M356.1 335.6h0M358.7 330.2h0M366 323h0M364.8 323.1h0M349 341.4h0M353.4 334.8h0M351.2 341h0M347.8 345.7h0M367.2 313.5h0M357.2 340.2h0M352.4 335.4h0M352.2 339.6h0M356.3 334.9h0M349.1 343.1h0M360.9 329.2h0M352 345.1h0M352.3 341.2h0M355.8 333.5h0M359.6 331.3h0M366.4 319.4h0M360.2 331.2h0M358.3 329h0M350 347.1h0M359.3 330.5h0M363.2 315.2h0M360.8 323.5h0M328.1 366.9h0M344.1 362.3h0M326.7 366h0M331.8 358.6h0M315.8 369.9h0M340.5 354.2h0M319.6 373.2h0M320.7 365h0M326.8 367.6h0M326.4 365.6h0M333.1 368.9h0M334.1 356.4h0M334.6 361.9h0M338.3 356.1h0M312.7 377.2h0M318.1 376.2h0M337.5 359.7h0M332 357.9h0M331.2 362.5h0M310.8 374.1h0M333.2 360h0M314.5 376.8h0M330.5 361.9h0M334.4 364.3h0M333.6 360.7h0M321.5 370.3h0M328 370.3h0M317 375.4h0M321.5 370.9h0M312.6 373.1h0M333.2 359.8h0M324.7 367.1h0M339.5 357.6h0M316.9 376.2h0M329.5 361h0M340 357.7h0M342.6 357.3h0M325.5 373.1h0M324.9 362.9h0M319.2 372.7h0M318.3 379.3h0M341.6 356.3h0M328.3 365.6h0M316.3 376.7h0M327.9 362.9h0M339.1 356.2h0M325 369.1h0M337 353.5h0M336.5 358.7h0M326.5 371.5h0M329.3 369.3h0M321.8 370.4h0M316.6 372.5h0M332.4 359.9h0M340.2 357.1h0M320.1 370.4h0M314.9 376.3h0M314 377.6h0M335.1 359h0M327.7 365.1h0M325.5 370.4h0M330.7 366.4h0M316.6 377.4h0M332 363.9h0M333.4 362.6h0M315.3 377.6h0M330.5 362.4h0M317.7 374h0M330.8 363.4h0M335.1 360h0M333 358.8h0M314.8 374.8h0M313.2 375.8h0M336.5 354h0M318.4 376.4h0M314.8 375.6h0M320 373.3h0M338.2 354.2h0M331.6 358.9h0M331.8 361.6h0M332.1 360h0M315.5 374.2h0M330.7 359.4h0M332 356.2h0M341.6 357.3h0M319 372.5h0M325 377.8h0M317.9 374.4h0M317.9 374h0M317.9 372.7h0M329.6 365.1h0M327.6 366.9h0M315.8 374.6h0M320 364.5h0M339 354.6h0M333.4 358.8h0M331.8 358.2h0M320.8 369.6h0M320.3 374.4h0M317.4 378.1h0M318.6 376.7h0M330.3 361.7h0M316.5 376.5h0M327.5 369h0M340.9 355.7h0M324.4 372.2h0M327.3 381.2h0M338.9 362.5h0M322.5 369.6h0M333.4 363.2h0M330.5 366.5h0M326.8 371.1h0M318.3 374.5h0M340.3 354.2h0M331 358.6h0M323.5 362.3h0M323.6 376.1h0M335.9 358.5h0M321.4 373.3h0M326.1 361.5h0M327 366.3h0M321.2 375.2h0M319.9 375.5h0M341.3 356.9h0M341 354.5h0M315.7 374.2h0M321.6 370.9h0M332.5 357.1h0M331.9 360.9h0M319.2 373.1h0M330.8 360.5h0M324.9 361.9h0M324.5 366.1h0M329.3 363.1h0M317.7 372h0M339.1 356.5h0M332.8 364.6h0M317.5 374h0M319.7 375.7h0M325.8 371.4h0M334.8 359.2h0M327.8 363.5h0M320.3 372h0M328.6 361.1h0M315.8 377.6h0M325.3 372h0M326.4 355.9h0M332.1 362.2h0M332 359.8h0M323.3 373.1h0M314.1 377.7h0M324.2 372.3h0M332.3 360.4h0M314 374.4h0M323.1 372.2h0M325.9 373.4h0M331.1 362.2h0M328 369.2h0M334 358.2h0M338.8 356.8h0M336.1 357.7h0M330.2 368.5h0M326.7 367.2h0M334.1 357h0M328.2 366.8h0M332.2 360.2h0M332.1 362.3h0M341.1 358.7h0M329.3 363.5h0M336 359h0M324.5 366.3h0M316.3 371.2h0M340.6 356.8h0M320.9 373.8h0M334.6 360.6h0M315 378.4h0M332.3 360.6h0M319.9 375.5h0M315.4 373.9h0M330.5 362h0M315.4 380.3h0M317 370.2h0M329.3 358h0M333.1 362.5h0M336.8 356.2h0M342.4 356.1h0M324.4 370.2h0M339.8 355.3h0M341.2 356.3h0M323.9 374h0M325.8 366h0M314.5 376.8h0M335.5 362h0M331.6 363.2h0M316.6 371.7h0M325.9 366.5h0M325.9 368.5h0M315 375.8h0M319.4 368.4h0M332 360h0M317.1 376.5h0M333.3 359.5h0M321.5 372.2h0M329.4 369.3h0M328.3 365.6h0M332.6 361h0M312 376.3h0M330.3 364.7h0M333 362h0M326.8 368.7h0M319.1 370.3h0M334.5 357.4h0M317.5 375.2h0M322.6 375.4h0M339 359h0M324.6 368.6h0M317.3 373.8h0M312.8 374h0M329.4 366.7h0M327.6 368.3h0M340.2 355.8h0M324.4 370.5h0M323.5 371.9h0M324.4 368.4h0M316.1 373.3h0M317.6 371.8h0M336.1 359.7h0M320.3 372.3h0M330.8 362h0M331.2 365.9h0M342.5 356.2h0M324 370.4h0M335 357.6h0M320 373.8h0M334.6 355.9h0M328.4 364.5h0M339.1 354.4h0M330.4 356.5h0M326 367.1h0M334.3 357.4h0M325.4 369.1h0M342.4 356.7h0M318.9 372.4h0M334.2 361.4h0M314.1 375.2h0M314 379.4h0M335.4 357.8h0M315.7 373.6h0M333.2 358.3h0M333.5 358.2h0M325.8 374.4h0M333 362.1h0M334.9 364.6h0M327.4 362h0M337.9 360.9h0M312.9 373.5h0M334.1 351.8h0M317.8 375.4h0M328.4 363.1h0M313.1 376.6h0M324.5 370.3h0M314.3 374.5h0M312.9 377.3h0M330 364.6h0M335.8 361.9h0M318.2 372.3h0M323.5 375.2h0M323.1 373h0M326.3 365.7h0M313.8 378.6h0M311.8 374.8h0M327.4 372h0M310.7 373.6h0M332.7 363h0M339.6 360.2h0M313.9 373.1h0M323.2 375.2h0M321.5 371.6h0M316.1 377.5h0M338.2 356.9h0M329.4 365.4h0M325 370.2h0M321.5 372.3h0M326.5 368.2h0M319.6 374.5h0M317.3 376h0M325.6 362.8h0M333 356h0M337.6 358h0M342.5 365.2h0M313.4 377.9h0M325.8 363.9h0M313.3 379h0M313.8 375.5h0M325.9 364.9h0M325 369h0M323.3 360h0M344.2 358.7h0M317.4 377.5h0M323.2 368.7h0M324.2 365.5h0M314.1 375.9h0M312.9 379h0M312.6 378.2h0M333.4 364h0M323.8 368.9h0M319.8 375.8h0M338 359.6h0M327.7 386.8h0M314.9 374.2h0M340.3 355.5h0M324.6 365.7h0M314.7 378h0M333.8 356.4h0M314.5 378.5h0M325.9 364.9h0M326 367.5h0M334.4 360.6h0M337.2 359.3h0M344.9 359.6h0M324.4 366.8h0M338.6 352.7h0M332.1 356.8h0M324.5 366.1h0M328 362.6h0M336.7 355.6h0M342.5 356.8h0M336.5 357.2h0M328.1 364.4h0M325.6 367.4h0M326.3 375.6h0M324.7 372h0M316.7 373.8h0M327.6 367.3h0M325.3 371.1h0M325.5 367h0M318 377h0M317.2 378.1h0M321.1 371h0M331 358.4h0M325 369.6h0M323.3 369.4h0M324.5 365.9h0M341.6 357.7h0M332.3 362.4h0M327 366.7h0M335.3 352.1h0M325.6 367.4h0M325.6 369.6h0M341.5 354.7h0M315.8 374.4h0M317.6 374h0M324.6 369.3h0M325.6 372h0M329.8 360.6h0M321.4 375.4h0M319.1 370.2h0M337.4 350.9h0M320.3 370.5h0M327.1 375.4h0M310.6 374.5h0M328.2 368.1h0M318.7 372.6h0M326.9 366.1h0M313.6 374.6h0M326.1 365.5h0M341.7 354.9h0M323.3 364h0M331.2 361.8h0M328.1 371.4h0M323.8 369.4h0M326.2 370.9h0M330.5 362.2h0M333.6 356h0M325.3 370.6h0M334.9 358.3h0M335.4 356.9h0M328.6 364.3h0M328.3 370h0M319.7 370.3h0M320 370.3h0M324.2 367.3h0M327.8 367.5h0M318.4 374.7h0M310.9 374.3h0M336.3 355.9h0M322.3 371.3h0M322.2 371.8h0M325.5 361.6h0M322.7 371.6h0M317.6 373.8h0M323.1 372.5h0M312.6 374.5h0M337.3 358.4h0M320.3 370.5h0M318 372.6h0M339.1 356.9h0M320.9 376.2h0M329.2 363.9h0M336.3 358.2h0M321.8 376.3h0M332.6 365.2h0M318.7 367.1h0M326.6 372.9h0M336.1 357.1h0M333.9 360.2h0M315.3 373.2h0M319 371.6h0M313.5 378.3h0M333.4 363.1h0M336.7 363.8h0M318.5 375.7h0M313.1 372.8h0M333.9 359.5h0M328.1 362.8h0M341.9 356h0M335.7 359.8h0M337.9 355h0M315.3 379.3h0M322.1 369.4h0M318.8 364.7h0M333.4 358.8h0M326 366.5h0M326.9 370.3h0M329.6 360.8h0M323.6 370.1h0M329.7 361.5h0M319.2 370.5h0M324.7 370.3h0M333.4 364.4h0M314.1 377.9h0M339.7 356.5h0M333.5 360.9h0M321.6 371.2h0M315 375.9h0M328.3 362.2h0M318.6 375.7h0M338.8 357.8h0M331.9 363.8h0M316.1 374.3h0M326.2 369.5h0M312.8 371.8h0M312.9 377.1h0M326.2 372.3h0M327 371.1h0M331.3 360.7h0M330.1 365.5h0M336.9 358.8h0M326.7 365.2h0M326.8 364.3h0M323.8 366.2h0M327.9 369.4h0M338.6 359.1h0M325.9 372.4h0M343.2 360.2h0M335.4 357.6h0M338.7 356.3h0M336.6 356.9h0M339.5 359.4h0M338.3 359.8h0M336.6 357.7h0M328.2 373.9h0M319.3 375.5h0M334.3 354.5h0M339.5 359.6h0M318.7 372.1h0M313.1 377.2h0M326 372h0M332.5 358.8h0M319.2 376.7h0M329.5 365.2h0M333.9 358.1h0M325.9 372h0M330.9 361.2h0M317.2 376.6h0M331.8 366.2h0M315.2 375.5h0M330.8 365.7h0M325.7 370.2h0M332.4 357.6h0M341.9 355.6h0M334.9 356.5h0M318.4 371.9h0M325.7 370.9h0M325.2 369h0M324.9 369.9h0M314.4 374.4h0M329.9 366.1h0M327.6 365.4h0M314.1 378.2h0M337.5 358.4h0M311.4 372.8h0M315.2 376.6h0M319.1 370h0M337.7 360.4h0M315.7 376.3h0M312.3 377.9h0M322.8 373.6h0M338.8 357.8h0M315.2 377.2h0M321.2 371.2h0M340 357.5h0M332.1 360.2h0M326.7 366.2h0M337.3 354.7h0M322.9 374.2h0M336.1 358.3h0M330.4 362.5h0M339.8 355.6h0M319.4 376.1h0M313 376.7h0M338.4 359.2h0M326 365.4h0M321.4 373.4h0M324.5 366.2h0M330.8 361.2h0M327 367h0M323 367.2h0M333.6 355.5h0M340.1 360.3h0M327 365h0M327.7 364.5h0M323.7 361.2h0M338.9 354.9h0M340.6 360.1h0M341.8 355.3h0M331.2 355.5h0M329.1 370.7h0M330.9 361.9h0M320.2 369.9h0M339.6 360h0M322 372.5h0M330.9 365.9h0M332.8 361.6h0M327.4 372.2h0M312.6 374.2h0M319.3 371.3h0M325.6 364.9h0M323.3 375h0M328.7 362.9h0M319.7 370.6h0M330.8 363.5h0M326.9 364.8h0M324 370.7h0M325.8 364.6h0M332.1 361.1h0M331.3 360.2h0M339.7 355.5h0M322.6 358.7h0M330.2 360.3h0M330.4 368.3h0M312.6 374.1h0M326.1 372.5h0M327.5 370.4h0M324.5 364.2h0M320.9 375.1h0M325.6 365.2h0M340.8 355.1h0M330.9 361.5h0M337.5 355.5h0M314.8 377h0M328.4 366h0M315.6 373.5h0M311.3 375.7h0M327.4 366.1h0M316.2 371.5h0M321.3 374.4h0M343.9 357.8h0M322.6 372.6h0M338.9 354.1h0M318.4 371.3h0M329.8 367.4h0M322 371.6h0M318.4 372.5h0M323.6 370.1h0M312 375.8h0M323.6 371.7h0M275.8 392.3h0M295.6 383.8h0M292.5 392h0M274.7 398h0M300.6 383.1h0M276 392.2h0M278.2 397h0M286.3 391.1h0M293 389h0M285.3 396.6h0M280.6 390.6h0M302.9 386.9h0M288.6 393.5h0M284.8 394h0M302.9 384.5h0M300.4 382.7h0M301.2 383.5h0M273.2 396.9h0M293.5 391.4h0M292.1 391h0M278.2 392.7h0M275.1 373.8h0M278.7 390.1h0M283.3 392.7h0M279.6 391.8h0M287.6 392.6h0M276.8 390.8h0M296.2 386.2h0M292 393.6h0M272.2 394h0M302.2 381.8h0M290.9 391.2h0M279.9 392.6h0M301.8 387.7h0M281.3 390.1h0M295.3 387.5h0M297.3 384.9h0M279.8 390.1h0M283.8 392.8h0M275.4 396h0M280.7 393.7h0M302.1 382.8h0M285.1 392.9h0M282.6 395.3h0M301.7 381.5h0M295.3 386.9h0M294.4 386.3h0M274.2 394.9h0M276.5 394.3h0M280.8 393.1h0M298.6 385.4h0M271 391h0M299.1 384.2h0M277.4 392.6h0M285.4 393.8h0M276.4 395.6h0M288.8 391.6h0M277.6 392.9h0M295.6 385.3h0M294 386.8h0M284.4 393.7h0M271.2 392.1h0M285.1 392.7h0M302.7 388h0M299.4 381.4h0M297.6 384.8h0M276.4 395.6h0M277.7 395.6h0M294.9 385.2h0M285.6 397.8h0M287.7 391.2h0M290.5 394.5h0M290.1 394.7h0M301.9 380.7h0M300.9 389.2h0M293 369.6h0M288.2 391h0M298.5 381h0M287.6 392.5h0M286 389.1h0M294.1 381.5h0M287.8 388.9h0M295.8 382.2h0M279.3 392.4h0M278 393.2h0M295.2 386.9h0M297.4 385.9h0M280.5 390.6h0M272 392.3h0M296.2 389h0M278.8 390.7h0M272.5 396.7h0M284.8 390.7h0M296.1 390.2h0M294 387h0M273.3 393h0M300.7 382.5h0M279.9 396.5h0M303.8 385h0M294.6 397.8h0M293.1 383.1h0M294.5 388.1h0M290.4 388.3h0M285.8 388.6h0M272.9 398.4h0M298.2 380h0M291.9 385.8h0M279.5 388.9h0M285.4 391.1h0M295.9 383.8h0M294.2 392.8h0M273.2 397.5h0M282.1 393.8h0M282.5 393.1h0M279.2 392.5h0M283.5 393.2h0M301 384.1h0M286.3 393.1h0M301.4 381.4h0M284 393.3h0M278.6 390.5h0M274.5 393.8h0M285.6 393.2h0M277 392.7h0M278.4 391.3h0M298.6 381.2h0M301.4 391.3h0M281.7 393.5h0M297.9 385h0M280.6 393.3h0M284.7 393h0M293.8 385.4h0M296.6 391.6h0M297.5 380.3h0M302 380.8h0M297.7 386.7h0M303.2 382.9h0M292.6 392.9h0M302.6 383.2h0M297.6 380.4h0M273.6 397h0M294.4 386.6h0M295.3 385h0M279.5 390h0M301.6 381.4h0M288.8 391.1h0M279.1 394.3h0M292.4 390.6h0M273.4 395.4h0M287.3 390.4h0M293.7 389.7h0M273.5 397.5h0M287.4 392.7h0M279.9 391.9h0M273.9 398.6h0M297.1 387.5h0M297.8 383.2h0M302.3 383.7h0M275.7 397.1h0M274.2 399.3h0M301.3 382.2h0M292.9 390.3h0M295.1 388h0M279.1 388.4h0M299.5 384.6h0M272.7 396.9h0M299 381.9h0M295 388.9h0M299.1 389.5h0M287.5 392.3h0M290.5 389.2h0M284.3 391.3h0M287.2 393.2h0M275.1 395.1h0M289.6 392.1h0M300.1 382.5h0M276.7 396.7h0M282.2 391h0M295.9 384h0M273.1 395.1h0M290.8 389.2h0M278.1 391.8h0M283.5 394.7h0M299.4 384.3h0M273.2 392.7h0M272.7 397.3h0M299.4 387.9h0M288.6 389.3h0M303.3 385.5h0M298.8 382.4h0M299.3 387.4h0M272.7 396.8h0M300.5 383.7h0M284.6 394h0M301 382.6h0M282.2 391.6h0M294.9 387.1h0M300 384.7h0M286.2 396h0M294.3 390.1h0M273.5 394.8h0M273.3 395.2h0M276.8 395.4h0M284 390.2h0M273.9 395h0M299 382.6h0M273.5 394.5h0M289.8 391.3h0M272.6 395h0M279.7 391.6h0M280.9 392.6h0M296.4 384.9h0M300.5 380.4h0M286.4 390.5h0M298 388.8h0M298.1 383.1h0M295.1 380h0M296.7 388.3h0M282.6 393.3h0M297.3 387.9h0M278 391.3h0M296.1 385.4h0M300.4 386.4h0M303.4 384.2h0M283.9 387.9h0M294 389.2h0M288.9 390.5h0M284.9 393.4h0M297.2 387.4h0M305.6 387.3h0M271.8 394.8h0M288.3 391.3h0M297.2 383.6h0M278.5 390.9h0M276.9 390.1h0M283.5 391.6h0M280.3 390.4h0M286.8 391.9h0M277.6 393.8h0M299.4 385.9h0M291 389.8h0M285.9 391.5h0M274.5 393.4h0M285.6 394.9h0M280.7 390.8h0M295.5 389.5h0M297 386.8h0M288.6 388.8h0M288 393.7h0M297.5 389.1h0M301.5 380.7h0M296.3 387.9h0M288.5 390.7h0M290 395h0M291.3 393.6h0M282 391.1h0M302.3 383.8h0M280 391.2h0M302.6 383.6h0M273.4 392.9h0M284.9 387.6h0M302.1 382.3h0M275.9 397.2h0M294.9 392h0M287.5 390.9h0M290.4 387.2h0M272.9 393h0M298 381h0M272.2 393.5h0M284.8 392.6h0M288.3 393.8h0M275.1 397.4h0M286.3 390.6h0M274.6 395.9h0M283.2 391.3h0M299.5 384.5h0M299 384.8h0M296.7 391.2h0M287.4 391.9h0M274.2 394.3h0M302.7 382.2h0M278.3 392.2h0M278.2 391.7h0M289.3 387.4h0M283.4 394.7h0M295.3 382.4h0M295.2 385.5h0M289.5 390.3h0M279.9 391.9h0M298.4 383.6h0M301.5 384.3h0M299.4 379.5h0M299.3 384.2h0M285.1 399h0M300.8 385.4h0M291.4 389.7h0M286.8 392.3h0M298.2 380.3h0M290.8 391.2h0M288.1 390.4h0M296.5 382.9h0M295 383.8h0M296.8 387.2h0M299.8 386.2h0M295.8 381.6h0M301 381.2h0M297.1 384.9h0M299.9 382h0M288.6 390.3h0M281.1 391.6h0M294.7 388.4h0M277.6 394.6h0M281.6 378.7h0M282 394.8h0M297.9 381.5h0M298.1 384.2h0M273.4 396.8h0M286.7 395.3h0M291.1 387.1h0M297.5 385.8h0M276 392.9h0M301.7 382.8h0M295.6 386.1h0M285 388.9h0M291.4 391h0M298.7 385.2h0M291.9 389.7h0M298.7 383.4h0M272.3 396.5h0M274.7 391h0M286.3 392.3h0M281.9 391.3h0M275.4 396.7h0M279.7 394.6h0M302.6 383.4h0M291.2 392.4h0M293.2 391.2h0M289.2 396.1h0M289.7 392.3h0M293 390.9h0M294.7 388.5h0M283.6 396.3h0M288.3 395.7h0M273.1 394.4h0M289.2 391.4h0M301.3 386.5h0M281.1 389.4h0M275.3 397.2h0M287.4 392.4h0M277.3 388.1h0M284.2 407.3h0M300.1 385.3h0M291.1 390.3h0M275.1 394.8h0M272.8 396.3h0M274.7 394.3h0M273.4 395.2h0M298.4 386.6h0M293.7 390.2h0M277.8 392h0M288.9 391.1h0M289 389.9h0M272.3 397.4h0M274.4 391.6h0M275.8 397h0M275.5 399.6h0M281.6 391.1h0M293.8 389.5h0M300 387.4h0M295.2 388h0M278.2 392.4h0M292.6 395.1h0M278.3 391.6h0M294.2 396.8h0M300.6 384.4h0M274.8 393.2h0M285.1 393.6h0M272.8 397.1h0M289.2 390.9h0M280.2 390.7h0M287.9 390.1h0M302.4 381.3h0M288.4 392h0M287.6 391.8h0M302.9 385.5h0M285.6 390.1h0M299.4 381.8h0M294.1 385h0M275.3 382.8h0M293.9 383.1h0M275.2 394h0M295.9 388.6h0M296.6 385h0M281.1 391.3h0M272.7 394.5h0M278.7 396.5h0M277.5 393.6h0M277.7 392.6h0M277.9 391h0M287.1 391.7h0M278.5 393.6h0M278.3 394.7h0M274.3 393.6h0M285.4 391.9h0M285.8 390.5h0M291.6 385.4h0M295.6 383.9h0M279.8 388.4h0M296.8 385.6h0M293.8 392.2h0M298.7 388.4h0M289.7 392.3h0M289.3 391.3h0M296.2 387.2h0M277.5 393.4h0M298.2 383.6h0M275.4 397.7h0M300 386.7h0M295.9 387.6h0M280 393.2h0M296.3 386.1h0M283.7 393.7h0M303.3 385.3h0M298.4 380.9h0M287.1 392.1h0M302.3 386.7h0M299.7 382.2h0M299.3 385.4h0M287.6 390.5h0M289.9 389.8h0M275.2 392.3h0M288.7 394.3h0M286.8 393.3h0M301.7 385.8h0M297.6 386.3h0M273.6 394.7h0M294.1 384.5h0M303.7 384.2h0M278.5 387h0M304.1 396.5h0M295.6 385.6h0M292.1 390.3h0M274 395.8h0M278.8 388.9h0M286.6 385.2h0M274.9 398.4h0M292.9 387.8h0M280.4 393.4h0M289.4 389.9h0M274.8 391.7h0M275.2 395.4h0M296.3 392.3h0M281.9 391.8h0M299.5 385.7h0M276.4 395.9h0M279.9 388.3h0M301.6 380.6h0M295.2 388.9h0M302 383.1h0M302.9 385.6h0M303.5 383.9h0M275.9 390.2h0M276.1 394.8h0M301.7 382.7h0M279.3 390.4h0M295.6 390.2h0M286.9 389.2h0M286.6 390.7h0M289.5 389.4h0M293.9 393.6h0M274 397.8h0M291.8 386.3h0M298.8 384.3h0M299.5 382.6h0M282.9 391.9h0M295.9 383.5h0M293.8 389h0M295.8 390.2h0M302.1 381.9h0M275.1 397.3h0M299.7 385.9h0M276 394.4h0M272.1 395.7h0M286.6 388.8h0M296.9 387.6h0M294.1 392.6h0M293.2 384.6h0M299.7 384.9h0M277.2 396.2h0M292.5 388.2h0M291.5 388.5h0M291.1 386.2h0M276.6 395.4h0M274.5 399.1h0M303.1 384.4h0M293.7 388.8h0M282.7 391.6h0M295.5 393.1h0M292.9 384.6h0M292.4 386h0M291.4 388.5h0M272.9 396.4h0M300.7 385h0M272.2 396.4h0M271.7 394.6h0M278.8 392.3h0M283.6 394h0M274.2 399.3h0M297.9 381.6h0M297.3 384.7h0M279.9 395.9h0M278 394.1h0M296.7 377.5h0M300.5 386.1h0M300.6 386.7h0M280.3 390.3h0M272.4 395h0M300.4 381.5h0M287.6 392.4h0M281 389h0M275 395.1h0M258.7 397.2h0M232.3 401.7h0M237.9 400h0M259.3 398.7h0M236.3 403.3h0M239.8 403h0M237.7 400.3h0M257.5 397.3h0M258.2 405.3h0M261.2 398.1h0M242.8 400.3h0M242.3 401.8h0M242.3 397.6h0M237.3 398.2h0M260.8 400.3h0M258.8 396.2h0M232.8 399.7h0M251.8 401.7h0M242.3 400h0M239.1 399.6h0M258.3 400h0M232.4 401.5h0M252.8 398.8h0M243.4 400.5h0M243.1 398.8h0M234.7 400.6h0M242.3 401.3h0M241.2 399.4h0M252.4 404h0M233.6 412.1h0M234.5 403.1h0M234.2 403.3h0M255.5 403.4h0M260.7 398.6h0M242.1 404h0M242.2 401.3h0M242.7 397.8h0M260.7 400h0M260 398.6h0M238.4 400.1h0M261.4 398.6h0M235.5 404h0M231.4 401.3h0M243.2 399.3h0M233 403.7h0M235.1 404.3h0M257.3 397.2h0M252 400.7h0M245.2 403.1h0M262.5 400.3h0M255 403.4h0M245.6 404.5h0M240.7 399.3h0M231.1 405h0M231.1 401h0M236.1 399.8h0M255.9 399.2h0M243 410h0M237 401.9h0M238.2 403.1h0M240.2 395.1h0M242.5 404.1h0M245.9 400h0M241.8 398.4h0M255.3 399h0M232.4 399.6h0M252.8 400.9h0M232.5 400.1h0M257.2 395.9h0M245.8 402.6h0M261.1 397.5h0M254.3 398.6h0M229.8 407.6h0M237.6 400h0M242.1 399.2h0M237.9 399h0M245.2 400h0M235.5 404.1h0M244.5 403.1h0M258.3 395.2h0M253.8 401.4h0M259.9 396.7h0M236.9 401.2h0M255.2 398h0M244.1 400.2h0M245.3 415.7h0M252 401h0M243.9 398.6h0M234.5 404.2h0M235.4 401.2h0M231.6 403.7h0M233.7 403.1h0M259.9 396.3h0M256.7 402.6h0M246 401.5h0M260.7 399.6h0M255.1 397.6h0M231.6 401.9h0M258.9 400.1h0M237.7 403.1h0M255 406.5h0M257.1 397.5h0M253.1 401.9h0M235.7 400.9h0M258.5 400.4h0M238.5 400.8h0M245.2 401.6h0M239.9 400h0M231.6 402.8h0M255.6 401h0M256.9 401.2h0M233.1 401.5h0M237.1 401.4h0M242.4 397.3h0M241.4 396.5h0M242.1 397.5h0M255 402.6h0M255.5 403.1h0M233.3 405.8h0M240.4 404h0M234.9 403.5h0M261.3 395.7h0M260.3 399.3h0M259.9 397h0M256.3 401.7h0M243.1 401.1h0M261.8 398.4h0M256.2 400.9h0M241.4 402.9h0M237.6 402.9h0M259.3 395.1h0M260.5 393.8h0M258.7 398.7h0M254.3 403.4h0M258.8 396.1h0M245.7 404.8h0M241 399.8h0M232.1 404.1h0M245.9 401.1h0M255.2 400.5h0M262 398.5h0M231 404.2h0M259.2 400.2h0M258.2 399.8h0M232.1 399.5h0M242 400.3h0M243 398.8h0M242.7 402.8h0M258.9 398.2h0M255.1 398.9h0M261.5 399.3h0M238.3 398.3h0M242.9 400.1h0M243.2 401.7h0M240.4 396.3h0M260.5 397.9h0M257.5 399.7h0M257.3 400.6h0M237.8 391h0M235.6 398.7h0M230.3 406.4h0M237.9 396h0M261.2 399.8h0M244.3 397.3h0M258.8 397.2h0M259 396.5h0M253.6 399.7h0M257.2 398.6h0M260.9 395.5h0M261.7 399.1h0M232.9 400.6h0M235 403.1h0M255.7 402.8h0M240.9 401.7h0M241.1 398.7h0M233.2 400.3h0M261.4 401.7h0M240.3 400.5h0M260.9 400.1h0M256 399.6h0M231.9 401.2h0M251.7 399.7h0M253.5 403.2h0M251.6 399.7h0M233.1 404.9h0M262.2 399.3h0M232.9 398.4h0M253.9 397.8h0M258.2 397.9h0M261.4 398.2h0M257.3 401.9h0M245.2 402.7h0M232.7 397.7h0M257.4 397.4h0M240.6 401.7h0M253.4 401.8h0M244.1 401h0M257.5 397.2h0M255.4 395.7h0M255.9 401.7h0M243.2 401.1h0M258.1 396.7h0M259.8 398.6h0M236.9 401.2h0M230.5 400h0M262.5 400.2h0M240.5 399.2h0M261.3 399.5h0M260.6 399.6h0M239.2 400.5h0M232.3 403h0M243.5 395h0M257.6 397h0M242.3 398.9h0M234.7 399.8h0M258.6 398.1h0M258.8 398.5h0M233.7 398.9h0M255.5 398.6h0M230 405.7h0M236.8 401h0M231.3 398.6h0M245.5 399.6h0M240.4 398.2h0M241.1 401.7h0M230.3 403.1h0M253.2 402h0M244.2 401.7h0M231.5 402.6h0M238.7 399.3h0M255 401.3h0M236.4 404.3h0M261.5 399.6h0M253.2 402.6h0M252.2 398.1h0M239.8 402h0M235.8 403.5h0M240.1 398.2h0M230.5 403h0M231.6 400.5h0M240.3 400.8h0M231.2 402.4h0M243.5 398.9h0M233.5 400.4h0M230.2 398.7h0M254.7 399h0M260.2 396.3h0M252.1 402.3h0M243 397.7h0M257.3 396.5h0M260.6 397.4h0M233 401.4h0M253.7 402.1h0M234.3 399.5h0M262 400.8h0M236.1 399.6h0M259.1 399.1h0M243 403.4h0M232.2 401.9h0M244.5 399.3h0M260.6 396.9h0M238 401h0M258.4 396.7h0M233.3 403.8h0M257.1 399.4h0M245.5 398.4h0M257 399h0M245.6 401.5h0M245.6 403.2h0M240 398.4h0M258.5 400.4h0M255.5 396.1h0M253.3 402.2h0M252.2 398.6h0M235.3 399.6h0M234.6 400h0M242.6 399.8h0M231.7 404.5h0M255.9 398.8h0M255.6 401.4h0M243.6 403.4h0M251.9 400.9h0M241.7 400.5h0M258.2 397.8h0M235.2 404.2h0M245.2 404.4h0M231.9 407.2h0M231.2 399.9h0M243.5 399.3h0M253.7 398.2h0M232 403.1h0M254.8 406.5h0M257.9 392.7h0M255.1 400.2h0M232.6 402.4h0M246.1 405.2h0M242.4 400.3h0M243 396.4h0M245.6 402.4h0M261.6 397.1h0M244.1 396.6h0M233.9 405.6h0M254.4 401.1h0M252.1 401.2h0M245.7 402.2h0M230.5 401.1h0M243.7 403.4h0M237 401.6h0M239.4 400.5h0M242.3 400.1h0M252.1 401.9h0M239.3 396.3h0M240.6 400.1h0M260.1 397.4h0M245.3 402.3h0M237.8 399.6h0M243.8 396.8h0M235.5 390.2h0M237 400.7h0M240 400.9h0M238 400.9h0M258.6 391.7h0M241.1 398.8h0M254.8 402.8h0M230.8 400.9h0M236.1 399.3h0M231.2 400.6h0M232.7 403.2h0M242.6 401.4h0M238.8 400.7h0M261.7 398.7h0M232.8 400.1h0M242.9 400.2h0M242.7 399.6h0M239.3 396.7h0M251.6 399.3h0M252.6 400.1h0M242.5 401.4h0M239.8 401.3h0M239.7 399.9h0M238.1 400.4h0M235.5 402.6h0M240.1 391.3h0M243 403.9h0M238.5 398.4h0M241.1 399.3h0M251.6 397.1h0M241.8 397.4h0M258.4 397.8h0M236.1 404.5h0M235.4 403.6h0M260.4 397.2h0M245.6 402.1h0M235 401.3h0M245.1 403.8h0M259 395.5h0M244.5 403.1h0M256.7 396.8h0M237.4 401.4h0M260.6 396.7h0M232.9 404.1h0M260.6 399.5h0M235 402.5h0M258.6 395.8h0M242.4 402.2h0M242.4 401.1h0M260.9 397.2h0M241.8 396.5h0M258.5 393.6h0M242.5 401.5h0M258.5 400h0M252.3 400.8h0M240.9 398.9h0M259.3 397.6h0M232 400.6h0M255.5 384.4h0M255.7 400.9h0M260.6 396.8h0M231.3 402.2h0M256.8 394.5h0M237.5 401.1h0M261.2 401.1h0M256.7 398.1h0M236.5 400.4h0M253.2 399.9h0M234.7 402.7h0M241.4 396.9h0M239.4 399.4h0M232.2 402.1h0M242.6 397h0M240.9 401.9h0M233.8 403h0M234.3 406.8h0M252.4 399.8h0M236.5 401.4h0M254.1 399.9h0M260.3 399.5h0M245.4 400h0M237.3 401.3h0M257.5 398.2h0M244.1 397.3h0M244.5 398.8h0M231.2 404.2h0M258.3 396.9h0M255.4 397.5h0M245.5 402h0M233.7 404.3h0M259 395h0M262 400.2h0M254.8 398.3h0M243.4 401.3h0M235.7 404.4h0M230.4 404.7h0M238.6 401.1h0M229.9 402h0M256.7 400h0M233.5 404.9h0M241.1 399.1h0M261.6 397.8h0M238.4 397.8h0M219.4 401.2h0M193.7 398.1h0M200.3 399.5h0M213.2 398.3h0M215.9 402h0M202.4 402.8h0M216.2 398.2h0M193.7 398.3h0M197.6 396.4h0M213.1 397.7h0M208.1 397.3h0M216.3 392.9h0M211.1 398.2h0M196.6 396.7h0M213.9 398.1h0M200.5 400.3h0M211.2 397.6h0M207 399.4h0M190.6 394h0M211.4 400.1h0M189.1 395.3h0M191.4 394.7h0M211.3 398.3h0M212.9 399.1h0M191.5 398.3h0M209.6 395.8h0M217.5 400h0M214.8 399.2h0M213.7 398.6h0M202.2 398h0M192 398h0M214.4 401h0M195.4 397.3h0M214 402.9h0M190.2 397.5h0M192.9 394h0M215 401.3h0M219.5 400.9h0M211.2 405.4h0M207.6 397.9h0M191.6 395.2h0M189.7 393.6h0M205.8 399.2h0M206.5 404.3h0M200.4 402h0M195.6 394.1h0M216.2 403.3h0M202.8 398.7h0M209.4 402.6h0M217.2 403.6h0M209.1 403.2h0M190.7 393.8h0M211 401h0M204.6 397.7h0M219.4 404.2h0M194.9 396.3h0M219.1 401.2h0M196.1 395.2h0M215.3 401h0M200.8 406.4h0M190.5 396.5h0M189.4 394.3h0M219.6 400.6h0M204.1 398.6h0M217.3 397h0M191.4 394.4h0M216.7 400.9h0M203.4 403.1h0M217.2 398.1h0M203.7 402.8h0M215 402.4h0M206.7 400.7h0M189.5 394h0M212.3 401.8h0M196.6 392.2h0M208.1 399.7h0M196.6 392.1h0M205.8 396.2h0M193.4 385.4h0M203 399.6h0M192.8 396.3h0M195.2 399.6h0M204.1 400.2h0M219.5 403.3h0M194.3 397.4h0M189.5 397.5h0M191.1 395.1h0M192.4 396.8h0M190.8 396.2h0M200.6 402h0M207.5 401.4h0M195.1 399.5h0M188.7 397.2h0M204.9 398.4h0M207.1 398.4h0M217.3 402.8h0M208.8 398.6h0M191.8 398.8h0M195.1 400.7h0M212.6 396.6h0M200.1 398.8h0M202 397.1h0M211.4 398.8h0M202.2 399.2h0M219 403.6h0M208 400.2h0M192.6 400.3h0M202.7 399.7h0M206.5 405.4h0M204.7 400.8h0M219.3 400.1h0M192.8 395.5h0M208.8 395.3h0M211.6 397.5h0M214.5 401.7h0M193 395.8h0M211.1 398.3h0M191.2 394.2h0M211.6 401h0M196.3 397.3h0M193.2 394.8h0M193.6 398.6h0M205.9 396h0M218.4 405.6h0M189.7 394.2h0M216.2 398.2h0M209.1 400.3h0M200.6 402.7h0M193.8 395.9h0M204 400.8h0M197.8 401.6h0M201.3 401.8h0M199 401h0M196.3 396.4h0M199.8 401.3h0M205.2 401.6h0M212 402.3h0M214.5 398.7h0M192.9 393.6h0M192.6 391.9h0M211.1 400.6h0M207.3 400.5h0M211.9 397.8h0M202.8 401.9h0M196.5 394.6h0M202.7 399.4h0M219.6 401.4h0M204.7 400.1h0M192.1 393.9h0M216.4 401h0M202.1 401h0M193 397.4h0M193.5 394.3h0M209.7 398.6h0M214.4 401.4h0M193.5 395.9h0M213.7 402.3h0M210.7 390.8h0M200 394.8h0M193 395.3h0M197.7 399.8h0M201.3 399.7h0M193.9 396.8h0M214.7 397.7h0M197.1 396.6h0M202.7 398.9h0M211.6 402.1h0M198.3 396.2h0M195.7 398.7h0M207.4 401.8h0M189.9 393.5h0M195.1 395.8h0M208.1 398h0M209.8 400h0M208.7 403.7h0M215 400.3h0M197.8 398.1h0M209.6 396.4h0M197.5 395.1h0M215.5 400.4h0M201.7 397.6h0M197 390.9h0M219 403.3h0M191.9 398.9h0M192.1 396.5h0M198.4 401.1h0M191.3 396.6h0M211.5 396.5h0M201 402.1h0M218.5 399h0M199.6 400.2h0M190.2 397.2h0M218.5 405.9h0M199.1 398.7h0M193.8 395.4h0M193.6 397.5h0M217 399.7h0M192.3 394.2h0M200.1 400.6h0M190.6 392.9h0M195.9 396.3h0M197.4 397h0M189.7 393.5h0M215.4 396h0M194.8 398.1h0M216 398.8h0M195.8 396.5h0M199.2 397.6h0M189.3 395.9h0M208 397.5h0M188.9 397.1h0M204.4 399.1h0M214.9 398.9h0M203.4 399.6h0M194 395.4h0M211.6 399.4h0M219.4 400.4h0M200.7 400.9h0M219.1 403.7h0M205.7 399.1h0M210.7 403.3h0M206.8 402.9h0M218.3 400.1h0M198.9 394.8h0M199.1 396.6h0M198.7 399.4h0M213.7 401.1h0M206.4 398h0M211.4 396.8h0M202.9 401h0M208.4 406.2h0M198.7 397h0M208.8 399.3h0M198 403.3h0M189.7 393h0M211.5 399.6h0M201.5 403.7h0M195.7 395.9h0M215.4 400.7h0M214 400.8h0M193 392.8h0M208 398.9h0M215.1 398.8h0M192 392.3h0M198.1 395h0M189.2 395.1h0M211.5 401.3h0M200.9 397.8h0M208.1 395.9h0M191.3 394.4h0M219.2 402.2h0M207.3 399.4h0M207.8 400.3h0M190.3 390.7h0M202.6 399.3h0M213.9 397.1h0M200.2 403.1h0M197.1 398.7h0M193.1 399h0M192.8 394.2h0M210.1 398.8h0M212.6 401.1h0M216 401.5h0M192.4 402.4h0M218 401.9h0M211.8 399.8h0M208.8 402h0M203 401.6h0M194.5 398.1h0M197.3 398.3h0M206.6 401.8h0M214.9 400.5h0M212.3 399.4h0M203 401.9h0M207.9 393.6h0M191.7 396.8h0M196 397.2h0M193.8 392.5h0M197.4 402.2h0M205.4 406.3h0M212.4 397.3h0M217.6 399.3h0M218.9 398.8h0M195.5 398h0M216.4 398.6h0M192.9 395.9h0M195.2 396.3h0M213.9 404.2h0M212.4 400.1h0M217.9 405.6h0M204.9 399.3h0M216.4 400.4h0M206.9 399.9h0M194.4 401.5h0M201.9 402h0M200.9 402.3h0M209.8 398.2h0M198.8 398.2h0M204.6 399.8h0M198.2 396.1h0M214.2 397h0M217.2 399.7h0M189 395.6h0M195.1 396.6h0M191.7 397.3h0M206.9 401h0M208.3 397.1h0M208 403.7h0M208.9 397.5h0M210.4 397.4h0M218.6 401.2h0M206.8 400.9h0M213.9 397.7h0M193.6 388.8h0M214.1 398.1h0M218.1 401.1h0M217.9 399h0M202.4 398.9h0M190.2 394.1h0M217.9 401.4h0M205.3 400.6h0M211 397.5h0M207.9 400.6h0M216.9 399.3h0M198.7 397.1h0M196.5 395.3h0M218.1 399.9h0M188.9 398.2h0M216.6 398.2h0M191.3 395.1h0M209.4 398h0M203.6 398h0M214.8 398.3h0M204.8 404.8h0M211.4 402.3h0M215.6 398.3h0M219.1 400h0M209.7 398.9h0M197.8 398.7h0M194 397.7h0M216.5 400.9h0M212.1 401.5h0M207 398h0M207.1 397.9h0M205.5 401.8h0M189.1 395.8h0M205.4 390.9h0M219 400.4h0M202.6 397.4h0M213.4 398.7h0M209.2 404.1h0M199.8 399h0M195.3 396.4h0M188.8 396.2h0M190.6 394.1h0M191.2 391.8h0M206.8 399.7h0M197.6 399.8h0M190.2 391.4h0M198.8 395.8h0M198.4 398.4h0M201.6 402.1h0M215.1 397.7h0M214.5 394.8h0M214.3 402.8h0M192.9 402.6h0M219.8 400.2h0M215.7 399.3h0M211.4 401h0M212.9 402.3h0M204.6 397.8h0M218.8 411.1h0M209.7 401.5h0M191.3 391.3h0M199.9 398.3h0M215.5 395.5h0M209.3 396h0M211.4 404.3h0M212.4 399.1h0M193.9 396.5h0M193.6 393.9h0M218.8 404.1h0M212.5 400.8h0M205.8 400.8h0M209.6 399.9h0M190.4 395.5h0M192.5 399.1h0M213 400.5h0M201.5 398.9h0M204.2 401.2h0M200 396.1h0M213.3 398.9h0M207.4 400.3h0M218 400.1h0M204.7 400.1h0M197 396.4h0M196.7 395.6h0M194.2 394.4h0M202.2 401.6h0M191.6 395.6h0M195 397.8h0M196 399.4h0M217.6 400.1h0M197.7 400.5h0M205.2 400.1h0M215.8 397.9h0M214.5 395.1h0M191.8 393.5h0M196.5 400.4h0M218.8 401.3h0M191.7 394.8h0M208.9 400.6h0M198.4 395.7h0M213.7 397.3h0M199.5 398.8h0M218 418.2h0M200.9 402.4h0M197.5 397.4h0M193.8 399.1h0M212.5 400.1h0M192.9 394h0M202.8 397.3h0M217.7 403.1h0M203.7 398.7h0M199.5 398.9h0M196.1 393.8h0M215.4 400.1h0M214.8 400.2h0M216.2 400.6h0M211.7 395.8h0M208.7 399.3h0M206 400.2h0M210.9 400.5h0M188.6 396.7h0M214.9 400.7h0M199.2 394.8h0M201.1 403.8h0M203.1 402.7h0M211.3 398.6h0M196.6 396.1h0M198.1 393.9h0M190.6 395h0M210.8 402.4h0M210 398.6h0M218.5 406.4h0M215.5 400.8h0M193.6 397.5h0M206.5 401h0M208.2 399.2h0M192.7 395.6h0M219.4 402h0M205 394.7h0M208.6 394.4h0M207.6 396.3h0M193 401.6h0M216.6 403.1h0M217.6 401.1h0M207.2 400.1h0M193 392.5h0M214.7 397.8h0M197.6 386.7h0M193.2 397.9h0M205.2 402.9h0M217.3 403.4h0M213.3 396.7h0M205.3 400.3h0M206.1 399.3h0M195.9 396.8h0M211.2 398.4h0M213.1 400.4h0M193.2 396.8h0M198.2 404h0M204.7 400.9h0M190.4 396.4h0M198.8 400.4h0M217.1 402.4h0M208.9 399.5h0M195.3 399.2h0M205.1 397.2h0M195 397.2h0M217.2 399.8h0M213.4 405.2h0M201.5 402.7h0M172.1 391h0M162.9 386.3h0M153.7 378.7h0M153.2 379.9h0M154.2 381.4h0M154.8 381.7h0M175.4 391h0M155.4 382.4h0M178.5 393.9h0M160.9 383.2h0M163.9 386.9h0M171.3 391.4h0M155.4 377.2h0M153.1 382.6h0M152.3 380.6h0M161.7 383.8h0M164.1 386.1h0M160 381.2h0M178.4 392.4h0M152.4 376.4h0M177.9 392.9h0M175.3 393.7h0M157.4 387.8h0M176.9 391.5h0M177.3 391.7h0M158.1 382.4h0M151.8 379.1h0M167.4 387.2h0M153.5 375.9h0M169.9 393h0M152.8 377.9h0M155.4 383.3h0M169.9 389.8h0M154.6 381.9h0M174.5 390.2h0M170.7 392.1h0M171.4 388.5h0M176.1 393.8h0M178.7 391.6h0M166.2 384.8h0M166.2 386.6h0M172.4 389.9h0M173.8 390.5h0M168.2 387.8h0M169.5 389h0M175.6 394.4h0M173 389.1h0M173.1 388.1h0M177.3 388h0M158.1 379.6h0M171.5 386.4h0M172.2 390h0M174.5 389.3h0M153.5 381.7h0M170.4 388.9h0M174.7 389.7h0M161.4 383.1h0M166.8 386.1h0M177.8 394.1h0M151.4 380.2h0M162.1 386.5h0M166.8 386.9h0M152.2 376.6h0M160.3 387.6h0M179.1 390.5h0M153.3 378.1h0M153.9 383.1h0M168.3 387.2h0M163 390.1h0M164.7 383.5h0M157.9 381.4h0M154.5 382.7h0M175.2 393.5h0M155.5 382.4h0M174.3 388.4h0M160.5 385.1h0M152.3 383.1h0M170.1 387.4h0M178.2 387.8h0M165.1 387.2h0M165.8 385.8h0M155.5 379.7h0M159.9 384.8h0M164.9 383.2h0M152.9 379.8h0M153.8 383.3h0M165.2 391.1h0M161.6 386h0M172.4 390h0M168 386.1h0M169.8 384.2h0M168.7 389.1h0M163.4 384.8h0M161.5 386.1h0M171.8 387h0M172.9 388.8h0M158.2 388.9h0M162.4 385.5h0M173.6 395.2h0M160.4 383.3h0M153 382.3h0M175.3 391.5h0M176.8 389.4h0M176.7 391.8h0M168.5 389.6h0M154 377.4h0M161.5 384.3h0M172.9 386.8h0M162.3 384.7h0M163 384.5h0M155.2 375.2h0M174.8 389.9h0M168 382.8h0M169.2 385.7h0M161.5 386.4h0M162.1 390.4h0M164.3 384.9h0M154.8 377.2h0M168.4 388.9h0M161.7 385.3h0M173.9 391.5h0M154.7 381.2h0M161.6 387.8h0M179.2 388.9h0M161.9 383.6h0M170.3 380.4h0M158.3 383.7h0M156.2 385.4h0M157.1 388.7h0M153.4 383.1h0M154.9 382.6h0M157.5 386.4h0M156.6 381.1h0M166.3 385.8h0M149.3 383.4h0M160.6 385.6h0M166.9 386.9h0M171.6 389.2h0M170.2 387.8h0M164.3 385.1h0M155.7 384.2h0M159.9 382.9h0M161 380.7h0M169.2 388.6h0M176 391.7h0M152.1 383.2h0M172.8 388.5h0M171.2 384.2h0M164.9 384.7h0M177.2 387.3h0M151.4 387.8h0M156.8 382.6h0M177 395.4h0M174.7 390.5h0M157.3 380h0M174.3 391.6h0M170.2 390.9h0M163.1 386.7h0M175.4 389.8h0M158.4 381.5h0M169.1 387.2h0M158.8 384.6h0M151.3 377.8h0M168.3 384.1h0M157.3 384.4h0M172 392.6h0M169.9 387.6h0M177.7 395h0M163.4 384.6h0M171.5 389h0M166.4 384.5h0M177.4 394.3h0M176.2 392.5h0M174.3 393.1h0M156.1 388.6h0M162.8 387.1h0M154.8 381.7h0M161.7 385h0M176.5 393.7h0M159.4 380.2h0M156 389.9h0M152.9 378.6h0M165.2 387.4h0M172.1 387.5h0M155.8 381.6h0M162.1 385.5h0M158.4 387.6h0M162.3 383.6h0M156.5 381h0M178 389.6h0M158.7 383.4h0M164.2 385.2h0M177.9 393.4h0M168.6 382.1h0M161.3 385.8h0M159.9 383.2h0M174.9 389.2h0M168.7 382.2h0M170.2 380.8h0M166.7 384.1h0M162.5 387.7h0M153.9 381.1h0M168.1 384.6h0M163.3 383.4h0M170.4 387.7h0M175.2 395.7h0M161.6 386.3h0M169.9 386.3h0M159.5 386.6h0M168.7 396.2h0M152.5 378.2h0M162.1 386.3h0M155.1 376.4h0M152.9 376.3h0M160.5 384h0M159.9 386.3h0M156.8 383.8h0M157 386h0M171.3 388.2h0M154.2 380.8h0M162.7 384.4h0M165.5 387h0M155.4 379.8h0M152.7 381.4h0M159.7 383.6h0M173.6 391.7h0M178.2 392.5h0M153.3 377.5h0M155.8 387.5h0M158.3 386.6h0M170.6 389h0M174.7 390.5h0M175.4 392.4h0M150.6 380h0M157.3 387.9h0M156.2 382h0M157.1 382.3h0M169.2 385.6h0M154.6 385.6h0M167.8 384h0M165.5 386.4h0M174 383h0M165.9 385.1h0M168.9 390h0M172 392.1h0M174.6 387.7h0M155.9 384h0M151.5 384.6h0M173.9 389.7h0M151.7 380.6h0M166.6 383.2h0M160.7 381.8h0M166.7 384h0M175.6 393.1h0M165.4 388.1h0M155 378.6h0M152.6 377h0M161.7 394.1h0M169.9 390.6h0M157.1 376.5h0M173 387.8h0M175.7 389.9h0M175 392.3h0M166.5 385h0M158.5 387.8h0M178.5 393.7h0M167.6 386.6h0M156.7 382.9h0M153.4 385.8h0M155.8 384.3h0M176.6 398.3h0M154.2 378.1h0M176.6 391.4h0M167.1 385.9h0M167.7 386h0M163.7 386h0M162.7 384.7h0M165.2 384h0M168.3 384.9h0M157.9 383.7h0M160.1 388.4h0M176.6 391.4h0M158.4 384.9h0M166.4 386.3h0M152.9 382.9h0M160.7 374.2h0M154.6 380.6h0M158 384.7h0M172.8 387.3h0M161.9 385.6h0M165 385.9h0M162.4 383.2h0M153.3 376.5h0M152.4 384.2h0M153.3 382.2h0M169.1 386.4h0M153.3 379.8h0M172.5 390h0M177.3 395.1h0M156.3 382.3h0M157.7 386.3h0M175.2 392.7h0M150.6 380.9h0M154.6 384.7h0M170.4 392.7h0M156.8 381.4h0M152.2 379.5h0M161.3 386h0M170.3 387.4h0M173.4 390.1h0M177.6 393.7h0M161.1 385.7h0M174.4 392.9h0M167.4 382.2h0M163.4 385.2h0M164.8 386.6h0M157.4 383.7h0M178.6 391.4h0M178.4 390.6h0M178.1 393.3h0M170.4 385.7h0M158.3 382h0M176.8 398.8h0M170.7 388.9h0M176.8 389.7h0M163.8 387.6h0M166.1 385.9h0M151.3 379.1h0M177.2 393.7h0M168.7 387h0M162.8 384h0M164 388.4h0M174.5 391.9h0M167.2 385.2h0M162.6 385.3h0M154.9 380.6h0M176.8 395.9h0M157.7 387.5h0M168.5 387.2h0M154.8 381.9h0M168.8 390h0M152.5 382.5h0M169.6 382.2h0M152.2 384h0M157.4 385h0M176.3 390.1h0M153.6 380.3h0M173.8 390.7h0M156.5 387.8h0M162 383.4h0M178.6 391.8h0M171.5 385.7h0M162 385.4h0M153 377.7h0M176.9 389.2h0M161.1 384.3h0M171.2 391h0M175.8 390.8h0M152.1 381.1h0M160 388.3h0M170.9 388.5h0M156.1 382.8h0M164.1 387h0M166.4 386.3h0M151.8 382.2h0M155.8 383.3h0M159.7 383.4h0M176.7 397.5h0M152.8 375.6h0M159 382.6h0M162.6 386.2h0M177.6 393.7h0M158 387h0M155.6 381.3h0M174.4 388.8h0M169.6 389h0M175.4 389.6h0M160 386.8h0M176.6 392h0M159.7 382.5h0M165.6 386h0M168.5 384.4h0M168.7 389.7h0M158.2 381.5h0M171.1 390.8h0M154.4 379h0M155.9 382.4h0M175.1 399.5h0M163 386.7h0M177.3 395.3h0M171.1 391.2h0M160.1 387.1h0M170.1 385.8h0M154.5 381.1h0M176.5 391.5h0M158.5 385.1h0M155.4 375.1h0M164.9 385.6h0M151.1 378.3h0M153.7 377.7h0M176.9 396.3h0M175.3 392.7h0M170.1 389h0M169.9 385.8h0M155.6 383.5h0M150.9 382h0M153.6 383.7h0M176.9 393.1h0M162.4 372.6h0M160.9 386.4h0M153.5 380.4h0M155.5 387.3h0M159.5 385.9h0M170.4 384.7h0M152.3 381.5h0M172.3 385.3h0M177.3 392.6h0M174.5 390.8h0M171.1 387.9h0M152.4 378h0M161 382.8h0M165.2 384.8h0M174.1 390.2h0M155 376.4h0M168.8 384.1h0M154.9 383.2h0M171.5 386.6h0M163 387h0M160.7 386.7h0M174.5 392.9h0M166.4 385.9h0M166.3 386.6h0M160.4 389.4h0M160.2 385.3h0M170.6 389.2h0M161.8 386.9h0M155.3 385.2h0M159.4 383.7h0M170.6 390.6h0M167.1 387.2h0M162 388.4h0M173 390.2h0M170.2 387h0M163.5 386.2h0M152.1 379h0M157.6 379.5h0M177.2 392.5h0M163.4 386.2h0M155.2 379.5h0M169.9 389.3h0M168.3 389.9h0M155 381.2h0M168.7 386.2h0M175.1 390.9h0M167.8 386.3h0M157.5 383.4h0M161.1 384.5h0M165.8 385h0M152.9 377.7h0M165.5 384.9h0M171.7 389.7h0M162.6 384.4h0M165.1 386.3h0M157.6 381.9h0M154.4 385.9h0M166.8 385.6h0M155.6 386h0M178 392.3h0M153.8 380.1h0M158.8 379.4h0M162.6 386.1h0M154.9 378.4h0M171.5 375.6h0M152.2 378.5h0M164.3 384.9h0M175.6 393.8h0M168.1 390.5h0M169.7 386h0M164.6 386.1h0M161.4 385.9h0M155.9 382.3h0M170.8 392.6h0M156.6 385.2h0M172 402.2h0M175.5 390.4h0M170.2 387.7h0M169 388.1h0M158.6 381.8h0M172.9 390.9h0M158.2 380.7h0M166.3 384.2h0M167.1 385.6h0M120.4 369.4h0M123.8 358.1h0M121.9 353.2h0M131.7 354.5h0M123.2 355.2h0M127 359.2h0M142.6 372.4h0M141.8 370.6h0M128.4 361.2h0M140.5 375.4h0M127.8 361h0M140.7 373.4h0M132.2 364h0M125.9 359.6h0M140.1 369.5h0M138.4 366.2h0M137 368.9h0M119.3 367.1h0M121 353.1h0M129.7 360.3h0M128.5 361.9h0M123.8 361.4h0M129.8 364.8h0M120.8 354.9h0M129.7 367.1h0M135 365.1h0M138.3 375.7h0M130.2 355.2h0M140.9 371.1h0M123.5 355.8h0M121.7 350.9h0M123.4 357.1h0M129.6 362h0M129.2 367.5h0M121.3 355.1h0M124.9 357.9h0M140 372.2h0M136.4 366.3h0M122.9 361.6h0M127.1 356.7h0M121.4 351.4h0M142.7 368.2h0M130.6 363.3h0M139.3 373.1h0M137.1 365.7h0M145.2 367.1h0M138.8 370.8h0M141.4 371.7h0M126.1 358.5h0M123.8 359.4h0M132 366.5h0M123.9 356.4h0M132.9 364.2h0M125.9 362.8h0M132.8 366.8h0M137.3 368.8h0M120 352.2h0M121.7 358.3h0M140.6 371.6h0M121.2 357.1h0M128 358.2h0M122.3 353.4h0M138.8 370.7h0M142 371.9h0M134.2 364.8h0M117.9 354.2h0M121.9 361.2h0M134.4 362.5h0M137.4 364.6h0M118.2 354h0M131.6 363.9h0M119.8 354.3h0M131.2 363.2h0M137 364.4h0M133.3 361.7h0M139.1 368.7h0M118.9 352.5h0M127.8 360.8h0M128.9 361.2h0M123.6 359.1h0M133.5 365.1h0M138.1 367h0M137.4 365.3h0M136.6 369.5h0M124.8 358.2h0M120.9 359h0M138 367.9h0M130.2 361.2h0M137.1 371.3h0M121.3 355.5h0M122.8 357.6h0M127.9 359.7h0M139.5 372.9h0M141.7 371.8h0M125.4 358.7h0M136.5 357.9h0M122.2 353.2h0M132.6 362.2h0M135 363.4h0M130.6 362.7h0M130.4 358.6h0M123.5 353.7h0M135.1 364h0M138 370.9h0M130.9 362h0M126.2 355.2h0M134.9 367h0M123.7 361.7h0M122.3 352.9h0M138.4 366.8h0M130.9 366.2h0M131.9 367.4h0M135.6 369.2h0M133.8 362.9h0M130.8 361.8h0M133.1 366h0M125.1 358.8h0M125.2 363.2h0M120.3 352.8h0M126.8 363.1h0M120.6 354.4h0M121.6 357.9h0M129.1 372.7h0M142.2 371.7h0M119.8 351.9h0M120.9 353.9h0M120.7 351.3h0M136.9 361.9h0M134.9 362.9h0M120.2 356.1h0M132.5 365.5h0M132.2 363.2h0M131.1 362.7h0M135.8 364.6h0M133.9 361.1h0M140 373.1h0M128.1 361.7h0M134 364.8h0M138.1 370.3h0M143.2 366.3h0M137.8 373.9h0M138.8 367.6h0M133.7 364.9h0M141.6 373.6h0M129.8 365.7h0M139.6 370.9h0M128.1 363.9h0M129.5 357h0M136.9 371.6h0M138.6 371.6h0M141.7 370.7h0M126.2 361.9h0M120.1 352.1h0M136.6 371.2h0M128.1 361.2h0M125.8 357.5h0M133.5 363.6h0M141.8 370.2h0M123 358.5h0M142.9 369.2h0M135.6 365.4h0M134.2 366.5h0M129.2 357.8h0M123.3 360.2h0M142.4 371.5h0M129 362.2h0M128.6 363.1h0M137.5 372.9h0M122.6 351.7h0M127.7 365.9h0M125.4 361.6h0M134 363.8h0M135.5 363.3h0M114 359h0M122.7 351.1h0M144 368.8h0M128.8 361.7h0M120.3 352h0M127.3 361.7h0M128.2 359h0M127.7 364.4h0M132 367.5h0M133.2 364.7h0M136.8 372.5h0M128.8 363.3h0M133.7 363.1h0M141.6 372.9h0M125.3 354.7h0M136.8 364.9h0M138.9 368.3h0M124.6 355.7h0M138.2 370.8h0M120.7 367.6h0M132.1 364.1h0M131.3 362.6h0M134.3 364.1h0M139.9 371.1h0M120 354.5h0M123.3 356.9h0M122.2 352.1h0M136 366.3h0M138.7 371.1h0M119 352.2h0M134.9 365.1h0M126.7 359.2h0M134.8 373.1h0M130.7 364.3h0M142 371.5h0M139.6 371.5h0M124.3 359.1h0M132.4 361.2h0M123.2 359.5h0M126.2 360.1h0M142.8 371h0M137.1 363.6h0M130.2 362.5h0M132 366.8h0M136.8 367.9h0M117.6 353.5h0M125.3 359.1h0M127.4 359.1h0M137.5 371.3h0M127.9 359.6h0M127.7 361.6h0M131.2 361.3h0M135.9 370.6h0M129.1 363.3h0M128.2 363.5h0M138.6 367.4h0M123.9 354.3h0M124.9 357h0M130.2 362.8h0M126.1 353.5h0M124.5 354.7h0M124.7 349.5h0M127.8 361.1h0M134.6 362.9h0M123.3 361h0M136 371h0M129.9 363.4h0M125.7 361h0M136.3 364.2h0M136.5 365h0M119 354.5h0M119.8 354.1h0M120.7 352.9h0M120.9 357h0M133.7 363.2h0M122.2 352.9h0M139.2 365.2h0M130.2 363.3h0M136.6 372.5h0M136 361.3h0M119.9 358h0M132.8 370h0M130.7 364.6h0M121.3 352.2h0M122.7 356.3h0M122.6 349.7h0M123.2 358h0M136.5 369.8h0M143.9 365.3h0M125 357h0M122.9 353.3h0M126.5 362.7h0M142.3 369.4h0M128.8 357.9h0M126.7 356.9h0M131 362.5h0M127.8 362.2h0M123 357.5h0M130.8 364.9h0M137.1 370h0M124.5 358.4h0M117.9 354.5h0M137.4 362.9h0M131.6 363.8h0M136.6 370.6h0M131 363.7h0M141.7 371.7h0M137 368.4h0M129.2 363.1h0M125.2 359.2h0M123.5 357.6h0M140.8 373.8h0M139.4 368.3h0M121.8 354.4h0M122.1 354h0M142 369.8h0M137.8 375.9h0M141.4 373.4h0M132 364.1h0M131.9 366h0M143 370.7h0M124.8 358.2h0M131.6 359.7h0M123.2 354.9h0M141.1 371.2h0M137.9 371.3h0M130.3 358.4h0M142.6 370.8h0M132.8 361.5h0M138.2 374.8h0M119.9 353.1h0M127.9 360.4h0M128.7 358.8h0M131.2 359.6h0M132.4 360.6h0M140.9 373.3h0M129.3 364.1h0M124.8 352.4h0M132.2 361.5h0M136.8 368.6h0M131.4 363.5h0M123 358.9h0M132.6 360.6h0M121 353.1h0M136.8 372.9h0M124.8 359.8h0M128.5 366.2h0M139.7 372.5h0M122.7 359.9h0M132.8 368.2h0M122.2 360.2h0M131.8 359.3h0M123.1 358.5h0M141.2 373.7h0M141.6 372.2h0M121.2 353.2h0M135.7 359.4h0M125.9 371.4h0M117.2 355.2h0M121.9 352h0M139 368.5h0M126.6 361.5h0M141.8 369.5h0M124.4 354.7h0M140.1 370.3h0M139 367.7h0M140.5 370.5h0M136.7 363.8h0M129.2 346h0M121.3 355.2h0M130.2 362.5h0M135.7 371.9h0M119.9 352.4h0M131.7 363.5h0M129.7 361.1h0M139.3 367.8h0M142.3 368.9h0M137.7 362.9h0M137 370.8h0M139.6 370.4h0M134.6 363.1h0M135.9 366.7h0M127.9 362.4h0M132.1 365.6h0M142.4 372.7h0M121 352.7h0M124.8 356.3h0M138.2 371.8h0M133.7 362.8h0M135.9 365.9h0M130.1 362h0M131.3 364.3h0M135.6 373h0M125.9 354.5h0M136.4 370.8h0M129.5 358.6h0M135.4 363.4h0M140 367.5h0M124.9 360.5h0M135.6 366.8h0M125.1 361.2h0M125.9 359.8h0M134.4 368.1h0M130.5 363.5h0M131 359.4h0M131.6 362.1h0M139.7 369.5h0M140.2 364.3h0M132.1 359h0M129.9 360.9h0M121.1 351.4h0M128.6 363.2h0M139.3 370.5h0M134.3 362.3h0M122.8 357.3h0M140.3 368.5h0M124.4 360.6h0M133.6 364.4h0M124 358.4h0M130.7 362.4h0M132.5 370.6h0M122.4 357.2h0M131.7 361.1h0M137.3 364.8h0M138 369.5h0M138.4 364.3h0M130.8 362.1h0M123.2 357.7h0M138.9 368.5h0M127.5 362.9h0M117.6 353.9h0M130.8 363h0M122.3 355h0M122.5 359.3h0M124.1 356.3h0M120 356.4h0M129.8 361h0M129.9 361.8h0M129.7 357.9h0M128.8 361.8h0M135.9 368.9h0M136 370.1h0M121.4 360.3h0M141.8 370.4h0M122.5 362.8h0M123.3 354.4h0M126.2 361.2h0M124.2 356.9h0M123.5 356h0M124.8 357.8h0M142.6 369.5h0M120.4 354.2h0M131.4 362.3h0M134.6 367.8h0M119.5 356.3h0M123.9 355.7h0M128.2 357.3h0M124.2 356.5h0M132.2 365.1h0M124.4 359.8h0M130.2 360.9h0M135.5 369.1h0M132.1 364.9h0M120.1 356.7h0M132.5 360h0M134.7 366.8h0M124.8 359.1h0M133.7 364.1h0M133.6 365.7h0M136.9 370.6h0M122.9 357.2h0M129.3 367.7h0M134.8 366.8h0M122.2 351.8h0M137.3 367.1h0M124.5 355.6h0M136.3 368.3h0M122.1 356.1h0M137.8 373.4h0M129 363.5h0M137.2 367.5h0M123.5 357.8h0M116.2 358h0M130.2 360.1h0M125.5 354.7h0M137.8 366.8h0M133.3 358.1h0M126.1 361.6h0M121.8 360.7h0M138.8 371.8h0M135.9 364h0M130.6 364.8h0M138.8 373.7h0M137.5 367.6h0M127.2 363.7h0M141.9 369.9h0M130.3 362.4h0M127.5 357h0M134.4 360.6h0M122.7 359.6h0M122.2 354.2h0M141.4 371.5h0M122.9 358.8h0M124 358.4h0M126 360.1h0M141.7 369.6h0M105.2 332.7h0M101.4 327.2h0M102.2 330.9h0M106.9 336.2h0M99.1 322.1h0M100.9 328.2h0M101.4 330.7h0M101.2 326.6h0M96.1 324h0M105.5 328.9h0M101.4 330.3h0M111.4 338.4h0M101.1 323.9h0M104.1 336.8h0M98.4 324.5h0M101.5 332.3h0M101.1 331.9h0M101 327.1h0M101.7 322.8h0M101.3 322.1h0M112.2 336.6h0M104.2 335.8h0M109.9 336.9h0M99.7 333.6h0M103.8 338.6h0M101.3 324.4h0M101.7 330h0M104.4 324.7h0M101.3 329.7h0M102.2 323.5h0M111.5 337.1h0M109.9 339.3h0M101 324.5h0M96 325.4h0M102 335.9h0M103.7 331.3h0M108.6 341.4h0M103.1 329.4h0M108.4 337.7h0M103.4 330.7h0M101.4 327.1h0M103.8 336.2h0M99.5 328h0M109.5 338.8h0M99.4 323.2h0M103.5 325.7h0M110.9 339.4h0M109.2 335.5h0M103 328.1h0M108.4 339.2h0M110.6 336.9h0M103.7 328.4h0M103.7 332.2h0M111.8 337.1h0M102.5 332.6h0M104.9 323.2h0M104.7 330.6h0M104.5 327h0M101.4 324.2h0M108.6 334.1h0M104.1 323.1h0M106.4 336.4h0M105.1 333.4h0M101.8 332.7h0M111.5 338.3h0M104.7 322.9h0M104.9 336.1h0M101 325.1h0M103.6 335.9h0M103.2 327.6h0M103.6 324.2h0M110.3 340.1h0M97.9 324.1h0M102.6 328.7h0M106.2 332.8h0M100.6 324.7h0M101.5 328.1h0M102.8 328.3h0M105.5 331.1h0M103.9 331.4h0M101.4 327.5h0M104.2 330.7h0M108.2 337.4h0M105.9 342h0M102 337.2h0M105.5 339h0M110.2 340.2h0M102.8 333.2h0M100.3 323.6h0M101.6 327.4h0M98.7 324.3h0M99.8 329.7h0M105 328.4h0M99.7 323.2h0M105.4 336.4h0M104.7 327.4h0M112.2 338.7h0M102.7 324.5h0M98.3 324.7h0M101.7 337.6h0M108.3 338h0M98.2 322h0M105.9 332.3h0M102.4 327.5h0M98.1 334.1h0M107.2 338.9h0M103.9 332.3h0M105.5 333.7h0M100.5 331.3h0M104.1 335.8h0M109.7 339.6h0M105.3 331h0M101 326.1h0M102.4 329.8h0M101.3 323.2h0M101.8 321.3h0M105.6 336.8h0M103.3 328h0M101 323.8h0M106.2 333.1h0M104.1 327.7h0M102.1 329.4h0M104 334.9h0M106 331.9h0M104.2 338.8h0M98 323.6h0M109.1 340.9h0M107.2 337.5h0M103.6 327.8h0M100.5 325.2h0M108.1 330.5h0M102.6 329.6h0M106.3 323h0M99.5 322.7h0M107.4 335.7h0M105 329.3h0M103.3 327.9h0M105.1 333.7h0M104.9 331.9h0M105 330.3h0M103.9 338h0M99.1 331.8h0M103.7 336.1h0M100.2 323h0M97.7 322.2h0M109.3 337h0M101.6 338.3h0M106.7 331.3h0M103.9 321.9h0M104.8 331.8h0M100 328.4h0M105.8 335.6h0M102.8 324h0M97.5 324.5h0M103.9 326.7h0M93.1 344.5h0M103.5 328.1h0M106.4 333.8h0M102.2 334.1h0M100.3 326.5h0M107.9 335.5h0M98.4 325.2h0M99.2 323.9h0M98.6 330.5h0M111.7 334h0M100.7 330h0M97.8 322.2h0M100.4 332.4h0M101.6 327.7h0M100.6 326.8h0M102 324.7h0M105 337.3h0M103.6 324h0M103.1 327.9h0M104.8 323.5h0M99.9 332.9h0M100.4 320.5h0M104 339.2h0M98.6 323.5h0M103.5 328.4h0M108.4 318.6h0M100.3 324.7h0M100.2 329.1h0M104.1 334.1h0M94.7 323.8h0M111.3 338.3h0M104.8 326.5h0M104.8 334h0M108.1 336.4h0M102.4 330.1h0M100.6 326.8h0M108.1 335.3h0M98.2 323.7h0M109.7 340.1h0M99.2 322.1h0M107.6 335.1h0M102.5 327.9h0M102.8 332.4h0M111.8 338.6h0M103 325.9h0M110 336.4h0M108.6 336.4h0M108.3 338.8h0M102 332.7h0M106.3 327.9h0M102.9 336.6h0M102.1 324.7h0M106.4 324h0M98.4 324.6h0M110.5 338.8h0M106.4 336.4h0M112.7 337.9h0M112.1 336.5h0M109 338h0M110.6 320.5h0M97.1 323.5h0M100.9 335.9h0M97.9 323.7h0M103.9 338.2h0M105.2 324.4h0M101 323.9h0M104.8 330.8h0M97.6 325.7h0M100.5 328.2h0M105 333.6h0M109.7 336.2h0M100.1 320.8h0M102.3 326.5h0M105 336.2h0M101.5 323.4h0M96.2 324.1h0M107.9 327.7h0M101.2 325.9h0M105.7 322.1h0M102.8 332.5h0M103.2 335.9h0M97.9 331h0M103.3 336.9h0M99.4 321.9h0M109.8 337.4h0M103.5 329.5h0M101 330h0M99.5 327.9h0M99 330.2h0M98.6 323.1h0M105.4 332.2h0M102.2 337.1h0M95.6 325.9h0M107 338.1h0M102.4 323h0M106.2 331h0M109.9 338.4h0M97.2 336.2h0M103.7 325.3h0M102.6 338.1h0M110.2 337.6h0M104 326h0M105.9 327.8h0M104.7 337.2h0M104.1 330.8h0M104.2 337.3h0M103.8 329h0M104.5 335.5h0M99.6 327.8h0M104.4 325.9h0M104.7 336.3h0M99.9 332.8h0M103.8 321.8h0M102.2 332h0M108.6 339.2h0M104.5 337.5h0M102 330.8h0M105 329.5h0M102.8 335.2h0M98.8 323.3h0M112.3 338.9h0M103.1 322.6h0M107.8 340.2h0M108.3 340.9h0M109.4 337.2h0M98.6 321.5h0M102 326.5h0M111.1 338.2h0M108.1 342h0M110.2 336.5h0M107.9 337.9h0M107 333.1h0M104.8 334.9h0M107.3 336.3h0M101.4 330h0M105.8 337.8h0M105.7 340.5h0M105.2 325.5h0M100.2 321.4h0M108.2 335.8h0M103.1 331.6h0M109.7 336.6h0M99.8 325.4h0M102.9 325.3h0M103.4 322.9h0M102.4 331.2h0M109.9 340.2h0M106.7 334.2h0M106.5 336.3h0M99.6 325.1h0M98.9 325.7h0M111.3 339h0M103.2 327.4h0M102.4 324.4h0M106.1 331.8h0M97.8 323.2h0M100 324.1h0M103.9 324.6h0M100.9 323.5h0M103.7 331.4h0M103.2 336.1h0M104.2 329.9h0M98.6 322.9h0M100.1 324.3h0M106.5 336.6h0M104.3 330.3h0M105.9 330.1h0M100.2 328h0M107.7 328.4h0M98 327.3h0M112.8 338.2h0M99.7 325.1h0M104.4 325.6h0M100 323h0M105 330h0M106.7 339.3h0M98.7 343.3h0M104.7 328.6h0M105 329.3h0M103.5 322.6h0M110.3 338h0M97.8 322.8h0M104.5 318.9h0M103.6 327.1h0M108.4 339.3h0M100.2 326.7h0M107.8 340.1h0M105.4 326.8h0M103.4 329.2h0M111.1 338.7h0M108.7 338.9h0M107.1 340.1h0M106.1 338.5h0M105.4 335.4h0M99.7 324.3h0M99.8 324.4h0M112.1 335h0M101.5 335.7h0M100.8 327.7h0M103.9 331.7h0M100.2 335.3h0M101.3 328h0M107.9 337.1h0M95.7 305.7h0M86.2 301.8h0M89.1 295.2h0M89.3 300.6h0M88.2 301h0M91.7 307.7h0M86.7 294.9h0M89.6 295h0M88.5 300.4h0M90.1 299h0M89.7 297h0M89.9 298.3h0M89.1 308.5h0M90 301.4h0M94.3 306.7h0M89.1 290.6h0M91.6 301.9h0M88.8 292.5h0M85 291.2h0M88.8 295.6h0M86.3 290.9h0M90.2 304.6h0M91.2 303.3h0M88.2 300h0M85.9 297.1h0M84.8 294.6h0M89.3 292.8h0M82.2 291h0M91.7 299.8h0M99.3 304h0M92.2 303.1h0M89.7 300.7h0M89.6 299.7h0M84.9 294.7h0M91 303.2h0M93.4 305h0M87.5 301.5h0M89.2 302.1h0M91.5 303.4h0M84.2 293.5h0M90.9 304.4h0M84.9 292.4h0M88.3 302.3h0M87 309.1h0M79.1 299.6h0M86.6 297.7h0M92.1 307.4h0M85.2 302h0M95.2 306.5h0M86.9 288.8h0M86.1 294.2h0M88.5 300.3h0M78.9 291.3h0M87.4 298.8h0M91.5 303.7h0M85.3 292.7h0M93.2 307.8h0M89.8 304.1h0M93.7 303.8h0M73.6 307.1h0M87.6 299.6h0M84 293h0M91 308.7h0M89.1 305.4h0M92.6 307.8h0M87.5 294.5h0M84.4 297h0M86.9 298.1h0M82.8 300.5h0M89.9 302.5h0M88.9 301.6h0M88.2 295.8h0M90.6 290.1h0M87.9 294.2h0M88.6 300.6h0M87 293.8h0M82.7 290.7h0M88.8 306.1h0M90.9 299.5h0M84.5 295.2h0M85.8 292.1h0M87.9 301.7h0M85.9 294.8h0M90 292.3h0M89.9 291.7h0M86.7 297.1h0M87.7 302.1h0M86.7 292.9h0M88.1 290.8h0M89.9 291.2h0M89.6 308.5h0M87.5 294.3h0M89.8 303.2h0M89.3 304.1h0M91.5 304.8h0M85.6 289.3h0M86.5 297.5h0M88.2 298.6h0M79.5 298.9h0M83.9 299h0M85.9 289.8h0M86.8 289.5h0M90.7 292.9h0M87.1 292.9h0M92.3 300.4h0M99.8 304h0M92 308.5h0M86.5 290.2h0M88.9 291.2h0M93.7 306.7h0M86.3 296.7h0M87.6 298.5h0M85.3 299.4h0M82.9 296.2h0M86.6 303.4h0M85.9 295.1h0M88.1 300.4h0M90 304.6h0M89.6 302.1h0M86.4 288.9h0M87.2 288.7h0M89.5 303.6h0M87.1 300.9h0M89.3 299.8h0M92 304.8h0M90.2 297.1h0M91 299.9h0M87.4 296.3h0M85.7 289.5h0M85.1 297.7h0M88.9 299.7h0M87.3 296.2h0M85.8 299.5h0M89.9 308.9h0M85.6 296.4h0M91.6 303h0M87.7 300.9h0M85.3 290.4h0M85 297.5h0M93.9 306.1h0M91.1 297.4h0M90.6 303.1h0M81.6 298.3h0M84.8 302.4h0M89.4 289.9h0M92.1 302h0M92.9 302.1h0M93 303.5h0M86.3 292.9h0M88.6 298.6h0M94.1 305.4h0M84.4 298h0M93.6 307.2h0M87.5 291h0M85.1 290.9h0M88.9 298.9h0M92.7 308.1h0M91.7 305.1h0M84.3 296.8h0M86.5 291.4h0M87.8 296.8h0M86.8 290h0M88.8 288.6h0M96.5 305.4h0M88.6 296.7h0M87 292.4h0M89.4 291.6h0M87.2 293.9h0M89.6 303.2h0M87.7 304.1h0M91.6 299.5h0M90.5 304h0M87.8 293.7h0M91.9 306.4h0M85.1 298.5h0M87.6 294.9h0M86.8 294.5h0M87.6 293.1h0M91.5 306.3h0M89.9 300.3h0M88.3 300.6h0M88.4 304h0M94.5 303.7h0M86.5 297.4h0M85 296.2h0M91.3 305.1h0M87.3 293.4h0M81.8 293h0M84.7 297.6h0M91.7 304h0M88.8 305.5h0M85.6 292.5h0M90.5 290h0M83.7 289.3h0M85.6 295.6h0M87.6 295.5h0M96.9 305.9h0M96.2 303.2h0M95.1 305.6h0M90.5 305.6h0M87.5 302.1h0M87.6 297.3h0M86.8 294.1h0M93.4 306.3h0M88.4 292.2h0M84.3 295.4h0M90.3 305.9h0M90.8 302h0M84.9 293.7h0M90.2 299.6h0M93.7 307.1h0M82.8 290h0M84.8 296.7h0M94 304.9h0M88.9 302.1h0M91.1 291.8h0M90.1 289.9h0M89 304.1h0M86.2 292.9h0M88.8 300.7h0M87.8 297.4h0M86.8 291.7h0M87.2 290.8h0M85.7 305.2h0M92.4 306.9h0M86.9 295.8h0M84.9 292.1h0M87.9 295.8h0M88.7 304.5h0M87.2 299.6h0M96.1 301.8h0M90.2 293.5h0M82.8 289.6h0M92.8 297.6h0M88.5 299h0M86 295.7h0M89.3 290.8h0M87.6 301.6h0M86.6 294.3h0M87.7 291.5h0M92.9 300.1h0M92.2 300.8h0M92.4 308.2h0M85.1 294.9h0M87 291.5h0M85.1 290h0M90 299.2h0M87.9 298h0M87.2 295.4h0M88.3 302.2h0M90.4 298.9h0M91.6 299.7h0M86.9 296.5h0M84 296.7h0M90.9 308.2h0M85.1 299h0M89 292h0M86.1 290.1h0M89.4 290.7h0M89.6 303.1h0M90.6 303.8h0M85.8 294.4h0M86 296.8h0M89.5 295.8h0M87.5 292.8h0M89.7 305h0M95.2 306.7h0M93 305.8h0M87.4 301.2h0M86.1 294.4h0M92 308.2h0M96 304.4h0M88.2 309.2h0M84.2 296.7h0M87.5 298h0M86.8 294.5h0M85.8 299.4h0M89 305.8h0M87.1 292.5h0M86.2 307.7h0M87.7 299.1h0M88.5 292h0M91.7 308.1h0M87.5 301.5h0M86 299.6h0M86.3 293.1h0M90.2 292.2h0M91.4 304.8h0M92.3 306.3h0M93.7 305h0M87.2 299.4h0M86.7 293.8h0M88.7 309.1h0M93.7 303.9h0M88.4 294.9h0M90.3 292h0M84 305.2h0M89.1 300.9h0M90.5 299h0M87.9 298h0M88.3 300.7h0M91.7 304.4h0M85 301.3h0M94.5 306.4h0M93.4 305.7h0M93.6 304.9h0M85.4 297.8h0M87.7 289.6h0M87.2 300.7h0M92 303h0M87.4 305.4h0M93 307.8h0M87.1 299.4h0M88.9 304.9h0M87.9 292.8h0M87.8 296.3h0M90.9 304h0M90.1 306.9h0M85.9 298.5h0M85.9 295.3h0M87.2 290.4h0M84.8 295.8h0M86.6 301.4h0M83.6 290.7h0M91.5 304.6h0M88.3 288.5h0M87 295.9h0M84.5 297.5h0M84.7 295.7h0M87.1 297.5h0M85.2 291.1h0M87.6 293.2h0M82 258.5h0M80.8 264.6h0M85.8 268h0M84.8 270h0M81.2 271.7h0M74.6 273.1h0M80.1 255.9h0M79.3 261.3h0M76.8 260.1h0M80.3 255.8h0M83.5 261h0M80.9 263.5h0M77.7 260.4h0M80.5 260.7h0M78.3 270h0M80.6 255.3h0M82.7 267.7h0M81 255.3h0M81.7 261.5h0M77.8 255.8h0M81.6 272.3h0M80.3 262.6h0M79.9 264.7h0M81.9 264.5h0M81.7 273.1h0M80.1 256.9h0M82.8 256.7h0M84.4 266.6h0M83.8 262.4h0M83 266.7h0M76.7 258.2h0M82.7 272.5h0M81.4 266.1h0M82.2 270.4h0M80.3 260.3h0M82.7 264.8h0M81.5 256.5h0M79.1 266.6h0M80.1 268.4h0M81.1 256.3h0M80 259.7h0M81.3 255.2h0M79.8 266.8h0M80.6 264.8h0M84.5 255.4h0M81.4 256.9h0M76.8 259.1h0M78.1 271.4h0M87.6 263.1h0M83.7 271.1h0M77.6 259.1h0M80.7 273.6h0M83.1 265.6h0M78.1 260.1h0M77.7 258.8h0M79.2 256.7h0M82.9 271.9h0M82.7 261.8h0M83.8 271.9h0M78.9 258.5h0M81.8 270.2h0M80.6 271.8h0M85.9 273.5h0M86.6 268.5h0M81.5 271.1h0M81.3 256.3h0M83.3 266.9h0M82.6 269.1h0M77.1 257.3h0M78.5 266.6h0M83.3 267.7h0M81.4 264.4h0M80.1 267.9h0M81.5 258.4h0M81.8 269.1h0M79.4 266h0M83.5 262.1h0M82.6 258.2h0M83.1 269.2h0M78.8 256.4h0M82.8 273.8h0M79.8 262.6h0M80.2 269.3h0M78.5 261.9h0M82.7 272.1h0M80.3 272.5h0M81 268.4h0M79.6 264h0M83.9 266h0M77.2 262.1h0M82.2 268.4h0M81 270.2h0M84.2 268.1h0M86.5 272.5h0M83.5 272.1h0M75.8 258.6h0M81.4 266.1h0M79.4 265.6h0M81.6 257.6h0M79.6 262.8h0M81 256.8h0M81.2 255.4h0M86.3 264.8h0M79.6 266.7h0M82.9 274.1h0M75.4 260.7h0M85.1 262.9h0M81 263.2h0M77.4 259.3h0M82.6 267.6h0M80.2 272.8h0M84.7 271.8h0M82.5 268.2h0M85.6 273.7h0M76 260.6h0M79.5 274.5h0M81.4 255.9h0M76.9 263.5h0M82.1 256.5h0M81.6 257.5h0M75.2 259.5h0M79.1 256.3h0M81.6 270h0M78.8 260.1h0M86.3 267h0M82.6 263h0M79.8 259.5h0M82.8 265.7h0M80.6 259.4h0M80 262.2h0M78 263.2h0M79.1 260.6h0M81.1 267.1h0M78.7 274.6h0M84.6 272.6h0M70.1 257.3h0M81.7 264.6h0M85.8 270h0M81.3 261.5h0M82.7 270.4h0M83.6 267.7h0M82.7 273.5h0M85.5 262.8h0M82.5 262.7h0M77.6 258.5h0M81.5 258.6h0M86.7 273.2h0M82.9 263.4h0M83.9 269.8h0M80.6 261.8h0M85.5 268.8h0M83.8 266.5h0M83.4 258.7h0M77.9 259.3h0M84.6 263.3h0M81.7 266.5h0M82.5 266.9h0M82.4 261.2h0M80.4 255.9h0M79.8 256.8h0M82.4 271.2h0M81.1 270.3h0M81.4 258h0M85.5 269.2h0M82.5 270h0M83.2 267.8h0M79.8 256.5h0M79 264.7h0M81.7 272.6h0M84.4 268.2h0M80 261.9h0M85.4 262.6h0M84.1 267.9h0M82.3 274.2h0M79 266.7h0M78.1 258.4h0M78.4 264.6h0M82.1 259.7h0M79.2 261.1h0M80.1 265h0M86.4 272.2h0M79.4 273.4h0M81 262.5h0M84.7 266.5h0M74.9 258h0M77 256.2h0M83.1 259.2h0M85.2 264.2h0M81.8 263.6h0M82 266.8h0M83.1 274.1h0M80.4 258.9h0M85.3 267h0M79.2 262.4h0M79.2 266.3h0M87.3 269.6h0M72.7 274.1h0M80.9 267.4h0M83.6 255.3h0M81.9 260.6h0M80 273h0M84.2 273.8h0M80.5 258.2h0M77.5 259.4h0M81 273.9h0M78.7 258.4h0M88 266h0M81.9 272.5h0M84 267.2h0M85.3 264.5h0M77.2 264.7h0M84.3 268.8h0M69.5 272.6h0M79.6 258h0M82.3 263.2h0M75.4 259.1h0M80.4 266.5h0M84.9 256.5h0M82.2 265.9h0M79.8 257.9h0M79.8 263.3h0M85.6 268.5h0M80.3 264.8h0M85 260.5h0M79.6 272.4h0M79.5 266.3h0M83.6 272.6h0M79.2 263.3h0M83 272h0M82.7 266.2h0M86.9 268.6h0M80 270.4h0M83.2 265.3h0M85.7 268.5h0M80.4 257.5h0M81.7 260.1h0M84.8 270.5h0M84.2 272.7h0M81.7 263.7h0M83.4 267.9h0M85.6 271.6h0M82.7 266.7h0M82.4 270.1h0M79.7 263.5h0M81.4 264h0M80.4 268.9h0M78.9 261.9h0M80.5 255.5h0M83.2 272.8h0M81.3 262.9h0M78.8 258.1h0M80.5 258.1h0M78.3 272.3h0M78 259.3h0M84 256.1h0M80.4 256.2h0M83.9 256h0M77.4 262h0M83.2 259.7h0M83.7 268.1h0M81.6 273.9h0M81.6 272.3h0M84.2 274.1h0M79 259.6h0M80.1 274.1h0M78.4 259.7h0M83.5 266.5h0M78.6 274.4h0M80 256.4h0M82.5 267h0M80.1 266.3h0M77.8 257h0M83.2 264.7h0M79.5 262h0M81.2 269.8h0M80.4 261.4h0M84.3 268.8h0M79.8 256.8h0M79.8 256.2h0M81.2 258.3h0M82 272.8h0M79.3 259.9h0M82.3 272.4h0M80.5 258.4h0M68.7 257.9h0M85.2 267.4h0M80.3 255.8h0M84.9 271.5h0M81.2 271.8h0M79.6 260.7h0M85.7 269.1h0M80.4 270.5h0M83.7 270.9h0M81.2 261.7h0M77.1 271.6h0M85.1 270.7h0M83.2 264.3h0M80.9 270.5h0M74.6 260.1h0M77.7 265.4h0M79.1 259.3h0M81.3 273.9h0M85.3 224.7h0M83.2 237h0M83.3 239.6h0M83 230.8h0M85.9 228.1h0M82.8 236.7h0M86.8 229.1h0M80.6 241h0M81.7 227.2h0M77.5 230.3h0M84.6 241.1h0M79.7 229.5h0M80.7 237.7h0M79.8 231.3h0M83.8 224.7h0M78.1 237.3h0M85.1 230.7h0M73.6 229h0M84.5 234.3h0M84.9 226.4h0M82.1 226.4h0M83.9 228.3h0M81 239.5h0M85.3 228.8h0M84.8 240.7h0M84.8 232.1h0M86 225.8h0M83.1 240.3h0M85.5 228.1h0M83.7 229.2h0M83.2 226.1h0M84.3 241h0M82.7 240.5h0M78.6 243.8h0M84.6 229.4h0M81.7 240.5h0M86.2 227.6h0M79.1 240.2h0M79 242.4h0M83.2 229.1h0M85.4 242.6h0M80.8 231.9h0M81.6 227.3h0M80.4 230.9h0M77.5 233h0M81.4 239.7h0M85.1 227.3h0M80 239.1h0M79.4 233h0M85.3 228.2h0M81.1 230.3h0M78.4 238.4h0M79.9 242.4h0M82.3 230.1h0M82.2 238.6h0M79.4 236.8h0M78.1 233.7h0M79.9 238.5h0M78.2 237.7h0M85.6 226.2h0M80.7 238.8h0M86.8 229.2h0M82.3 231.8h0M80.1 230.1h0M86.5 228.3h0M78.9 231.7h0M81.1 244.1h0M86.1 227h0M80.4 237.5h0M83.2 230.6h0M82.1 231.2h0M78.2 237.1h0M81.6 232.8h0M86 231.1h0M87.1 227.4h0M79.9 242.4h0M79.4 240.9h0M84.9 229.2h0M80.3 226.7h0M81.1 226.5h0M80.2 239.8h0M84.9 228.1h0M78.5 237h0M80.7 230.1h0M80.5 244.5h0M84.1 228.1h0M75.5 233.3h0M83.6 230.5h0M82.1 226.1h0M81.1 239h0M77.4 231.2h0M84.3 240.9h0M84.2 229h0M80 231.8h0M81.6 233.4h0M80 228.3h0M78.1 230.1h0M80.9 232.5h0M83.6 241.4h0M80.7 232.2h0M82.9 233.3h0M86.8 228.6h0M82.8 230.1h0M80.4 240h0M85.2 226.8h0M82.5 228.7h0M81.1 237.9h0M86.2 225.2h0M78.5 231.9h0M83.2 233h0M85.8 226h0M80.5 238.1h0M78.8 233.7h0M85.1 228.9h0M80.7 226.2h0M83.5 227.5h0M85.7 227.1h0M81 230.7h0M84.9 227.2h0M83.6 226h0M81.8 242h0M81.1 242.4h0M82 243.6h0M82 231.8h0M84.6 224.8h0M77.3 242h0M83.8 226.2h0M82.7 226h0M83.4 225.6h0M83.5 241.3h0M81.5 244.2h0M83.4 226.9h0M80.8 239.2h0M80.5 225.7h0M82.6 237.1h0M78.5 243.7h0M79.1 236.1h0M76.2 229.6h0M80.6 224.7h0M80.7 232h0M82.1 226.3h0M85.3 241.3h0M80.4 236.9h0M80.3 224.9h0M75.7 224.6h0M85.3 227.2h0M84.4 232h0M83.4 233.7h0M83.1 233.9h0M83.6 227.7h0M82.2 224.3h0M77.9 231.1h0M78.8 243.5h0M82.6 236.9h0M82.9 240.8h0M85.9 234.1h0M85.5 226.1h0M88.3 226.1h0M82.7 229.6h0M80 243.1h0M85.5 228.6h0M79.8 236.3h0M79.4 232.4h0M76.9 231.6h0M81.6 233.8h0M81.7 244h0M78.4 232h0M79.6 238.5h0M79.5 244.1h0M79.4 233.6h0M77.7 237.6h0M81.8 231.1h0M83.2 242.4h0M82.7 229.6h0M80.7 232.3h0M84.4 226.1h0M85 229.6h0M81 234h0M81.1 230.9h0M84 239.4h0M82.4 228.3h0M80.9 224.9h0M79.1 238.1h0M81.4 226.9h0M84.8 226.4h0M80.6 227.3h0M81.1 225.3h0M79.8 233.1h0M84.2 227.3h0M81.7 226h0M81.5 227.1h0M83.4 239.3h0M87.5 228.7h0M79.5 243.5h0M80.1 237h0M82.9 229.9h0M84.1 226.8h0M66.5 236.6h0M84.3 241.2h0M81.8 241.6h0M84.6 227.8h0M87.8 227.1h0M80.3 230.4h0M79.9 239.1h0M82.2 229.8h0M81.6 239.9h0M80.9 232.7h0M85.8 232.1h0M80.4 238.3h0M82 243.1h0M79.7 227h0M87 229h0M83.9 229h0M84.7 229.3h0M82.5 227.6h0M79.9 244.4h0M81.5 243.1h0M84.7 229.1h0M80.9 230.5h0M79.4 232.2h0M80.8 232.6h0M84.1 240.4h0M81.6 238.3h0M80.9 244.5h0M79.9 238.1h0M80.9 229.7h0M83.7 234.2h0M83.5 229.4h0M78.9 229.2h0M87.5 231.4h0M86.3 239.2h0M83 226.2h0M80.8 230.6h0M85.7 230.1h0M81.9 230.9h0M83.7 225.5h0M82.7 226.3h0M81.4 242.8h0M87.9 225.7h0M79 238.3h0M82.9 241.2h0M81.3 243.2h0M79.1 236.6h0M85.1 230.9h0M85.2 229.8h0M79.2 244.6h0M79.2 240.5h0M79 242.2h0M79.7 233.1h0M84.7 228.7h0M79.1 242.2h0M81.1 242.4h0M78.8 231.9h0M86.3 225.5h0M85.3 240.4h0M82.6 227.4h0M84.9 243.4h0M75.8 229.9h0M79.3 231.3h0M84.1 227.4h0M80.4 226.4h0M79.4 239h0M82.5 230.9h0M82.1 240.1h0M85.3 225.7h0M76.6 238.1h0M81.6 232.6h0M84.7 227.3h0M79.6 231.3h0M80.8 233.7h0M81.1 240.5h0M83.4 226.7h0M87.2 241.2h0M85.7 229.2h0M84.6 232.3h0M86.3 226.1h0M83.4 225.8h0M85.4 226.5h0M83.4 229.3h0M79.1 243.8h0M84.7 224.2h0M77.8 243.2h0M83.8 243.5h0M75.8 235.7h0M84.4 231.5h0M80.5 231.7h0M80.9 243h0M84.4 228.5h0M83.9 244.7h0M79.7 230.6h0M82.5 238.3h0M85.5 229.9h0M82.8 234.1h0M82.6 224.4h0M84.1 242.8h0M82.4 231.4h0M82.4 230.5h0M76.2 231.7h0M80.5 233.7h0M83.1 244.2h0M84.9 243.8h0M83.3 228h0M85 229.2h0M82 234h0M80.5 238.8h0M82.9 239.1h0M81.8 241.7h0M77.9 243.7h0M84.6 238.5h0M85.5 230.3h0M85.1 229.6h0M82 223.9h0M81.9 232.7h0M83.4 227.8h0M85.6 213.2h0M85.2 204.8h0M89.5 196.5h0M85.2 212.5h0M91.3 197.3h0M92.2 200.4h0M91.9 197.4h0M86.2 209.2h0M91.8 201.9h0M86.2 212.4h0M88.2 211.9h0M90.3 199.5h0M86.5 204.3h0M87.1 201.2h0M95 214.8h0M91.3 196.5h0M89.4 207.3h0M90.5 203.4h0M91.3 206.9h0M90.3 204.1h0M88.7 196.4h0M89.6 201.8h0M86.7 203.6h0M86.9 199.3h0M85.4 212.4h0M95.9 215.5h0M93.7 200.8h0M92.5 196.2h0M87.9 203.3h0M92.9 204.7h0M91.7 203h0M96.1 197.3h0M87 205.6h0M86.3 212.8h0M85.7 209.1h0M90.5 200.4h0M92.6 198.6h0M89.1 214.6h0M90.8 203.2h0M90.1 199.5h0M89.7 197.8h0M84.7 204.6h0M93.1 199.5h0M88.3 202.5h0M87.4 200.7h0M90.2 198.4h0M89.4 203.4h0M86.2 211.1h0M85.6 213.5h0M89 211.5h0M88.4 194.1h0M75.9 198.8h0M87.1 204.6h0M84.2 203.4h0M92.3 197.4h0M93 199.4h0M86 209.5h0M84.3 204.9h0M87.3 210.9h0M93 207.4h0M89.2 207.9h0M91.5 204.3h0M87 203.6h0M90.1 204.7h0M90.3 196.8h0M83.6 203.9h0M88.2 207.8h0M84.4 210.1h0M85.8 204.5h0M98.1 202.1h0M90.2 196.4h0M86 204.7h0M88.8 199.7h0M89 213.4h0M91.3 200.6h0M86.6 210.8h0M89.3 198.2h0M84.3 211.5h0M93.3 200.5h0M84 208.6h0M88.9 194.6h0M89.2 200.7h0M91.4 197.7h0M81.6 204.7h0M89.2 213.9h0M90.1 205.5h0M88.6 210.2h0M87.2 206.5h0M90.3 213h0M91.4 200.9h0M91.4 197.5h0M87.1 204.9h0M96.9 201.3h0M90.9 196.4h0M86.6 206.9h0M85.9 205.8h0M91.3 198.8h0M89.5 214.1h0M87.7 205h0M90.7 201.1h0M88.4 207.3h0M86.3 210.7h0M88.2 210.9h0M90.3 196.9h0M94.2 199.1h0M83.8 204h0M86.9 206h0M90.1 204.3h0M87.2 205.1h0M92.2 203.6h0M86.5 211.1h0M85.6 201.6h0M91.1 198.7h0M89 202.2h0M88.9 195.9h0M88.6 212.7h0M92 199.2h0M94.2 201.3h0M91.3 204.4h0M89.3 198.2h0M86.4 209.6h0M85.6 211.6h0M92.1 204.6h0M89.3 213.6h0M87.6 213h0M84.7 193.3h0M88.6 201.8h0M90.1 202.3h0M91.5 199.4h0M90 199.9h0M90.2 195.4h0M88.8 207.9h0M87.8 195.8h0M88.9 211.6h0M85 213.6h0M93.2 203.3h0M87.7 201.7h0M87.4 209.7h0M89.6 203.9h0M87.5 206h0M86.6 211.8h0M92.8 196.5h0M87 214h0M90.2 196.7h0M90.2 195.5h0M90.5 198.2h0M87.1 204.2h0M87.8 209.2h0M91.8 198.5h0M87.6 201.2h0M90.1 203.5h0M87.5 209.3h0M88.5 212.6h0M95.9 200.8h0M92.8 200.4h0M79.4 209.4h0M88.3 203.9h0M93 199h0M87.4 199.4h0M87.8 214.4h0M89.7 195.4h0M85.7 210.8h0M89.7 195.5h0M84.1 208.9h0M86 198.7h0M92.4 202.1h0M87.5 210.5h0M89 214.3h0M90 195.2h0M86.3 202.9h0M92.1 199h0M91.3 197.5h0M87.9 212.1h0M88.3 214.5h0M84 205.3h0M80.8 209.1h0M87.6 203.1h0M86.6 204.1h0M86.8 200.8h0M93.6 199.4h0M87.8 204.7h0M87.6 199.5h0M87.1 212.6h0M92.4 200h0M89.5 202.8h0M88.2 194.8h0M87 210.2h0M89.8 213.6h0M86.3 213.9h0M96.3 201.2h0M93.5 199.2h0M85.7 211h0M87.2 199.5h0M88.8 204.7h0M86 212.7h0M83.8 202.9h0M81.7 204.1h0M80.9 209.9h0M86.3 211.6h0M89.3 199.2h0M85 206.4h0M90.5 195.3h0M87.5 206.7h0M88.3 201.5h0M90.2 204.2h0M94.8 210.3h0M94.2 197.6h0M92.8 205.2h0M88.6 200.3h0M88.5 203.6h0M94.9 200.1h0M82 191.6h0M81.6 197.7h0M86.6 197.7h0M85.1 212.5h0M85.8 205.1h0M85.1 211.3h0M88.2 209.9h0M91.8 197.2h0M90.9 200h0M91.8 200h0M89.5 196h0M89.8 200.4h0M92.5 198.9h0M87.1 204.6h0M87.8 210.1h0M83.3 205.4h0M90.4 206h0M91.9 196.7h0M85.4 213.9h0M94.2 198.7h0M91.5 198.4h0M88.7 214.4h0M87.8 199.8h0M88.3 196.3h0M87.3 200.6h0M85.6 203.8h0M82.4 196.6h0M89.1 203.3h0M87.4 210.6h0M92.7 199.1h0M89.1 198h0M86.9 212h0M90.3 200.9h0M89.1 201.2h0M87.2 213.9h0M90.1 196.5h0M90.6 197.1h0M88.7 204.1h0M88.4 201.9h0M87.8 195.5h0M92.7 199.3h0M89 208.6h0M87.6 209.4h0M89.5 201.9h0M86.3 204.2h0M90.1 204.2h0M88.5 212.8h0M90.3 214h0M91 201.9h0M91.9 203.3h0M86.8 210.2h0M87.5 213.3h0M87.6 212.1h0M89.8 201.7h0M90.7 197.2h0M90.2 195h0M86.5 211.7h0M88.7 210.3h0M86.4 210.8h0M85 211.6h0M88 208.3h0M87.1 200.2h0M92.2 201.2h0M85.2 206.1h0M84.7 208.2h0M91.8 205.8h0M88 204.8h0M89.6 199.5h0M92.6 207.5h0M89.7 211.5h0M90.8 204h0M89.3 202.1h0M88.7 204.4h0M92.3 199.2h0M84.1 209.7h0M89.8 203h0M88 204.5h0M86.7 207.4h0M89.5 197.3h0M88.7 196.3h0M86.1 209.6h0M88.4 211h0M89 208.5h0M84.5 203h0M91 202.4h0M94 196.6h0M88.4 213.7h0M92.7 200.8h0M85.5 205.7h0M91.9 201.5h0M101.5 175.2h0M103.1 169.3h0M97.9 175.3h0M98 177.1h0M95.6 183.8h0M98.4 184.8h0M101.9 175.6h0M104.4 171.1h0M99.1 175.2h0M97 177.3h0M101.6 183.4h0M97 173.6h0M92.3 182.2h0M100.5 187.1h0M95.5 174.3h0M100.1 185.7h0M104.3 171.3h0M105.8 171h0M97.5 183.2h0M100.5 179.1h0M101.9 170.8h0M97.2 175h0M97.5 185.4h0M108.6 189.8h0M96.3 184.8h0M102.9 172.9h0M95.9 174.9h0M98.1 181.1h0M101.7 168.1h0M94.5 183.3h0M103.3 180.8h0M97.7 180.6h0M99.8 176.5h0M99.4 186.5h0M104.2 174h0M95.7 179.1h0M102.9 176.1h0M99 175.8h0M104.9 169.7h0M104.8 171.7h0M103.9 171.4h0M98.5 179h0M98.4 176.6h0M106.2 171.6h0M103.1 173.6h0M95.6 178.8h0M103.2 172.3h0M100.2 179h0M105.8 175.9h0M95.5 183.7h0M98.9 184.3h0M105.9 176.2h0M101.7 171.5h0M99.3 180.9h0M97.2 184.2h0M100 177.9h0M96.4 185.9h0M96.4 181.8h0M101 186.3h0M97 177.9h0M102.3 180.4h0M102.8 176.2h0M98.7 178.8h0M99.8 180.8h0M99.8 175.6h0M104.3 169.9h0M96.9 183.9h0M95 166.9h0M95 179.2h0M97.9 177.3h0M98.6 184.5h0M100.3 183.2h0M100.7 186.8h0M105.9 175.2h0M98.9 176.8h0M93.8 183.9h0M98 183.3h0M99.4 177.2h0M100.4 170.2h0M104.1 171.9h0M99.5 179.1h0M105.7 174.6h0M100.6 173.9h0M90.7 172.1h0M99.9 181.8h0M94.3 184.4h0M96.1 181h0M96.1 185.6h0M98 175.1h0M99.7 183.2h0M98.8 180.9h0M98.6 185.1h0M99 178.6h0M99.5 187.2h0M104.9 172.6h0M100 178.6h0M102.2 180.1h0M97.8 185.9h0M97.3 184.9h0M98.7 180h0M95.5 185.4h0M104.7 174.8h0M105.7 175.6h0M102.7 180.5h0M101.3 180.9h0M97.4 184.9h0M96.5 185.3h0M96.7 180h0M97.1 181.6h0M104.1 175.2h0M106 173.8h0M104.9 175.2h0M94.7 179.4h0M96.5 181h0M102.7 169h0M101.4 174h0M104.9 174h0M99 176.6h0M103.7 182h0M103.4 175.6h0M104.8 174.9h0M104.8 170.1h0M101.9 173.2h0M97.7 175.1h0M104.1 175h0M101.7 179.2h0M108.3 172.7h0M100.5 181.4h0M96.3 185.7h0M96.5 180.7h0M97.7 183.9h0M107 171.9h0M96.1 179.1h0M100.6 170h0M105.9 172.4h0M97.4 179.7h0M106 172.3h0M103.3 171.6h0M106.3 173h0M104.7 173.7h0M103.9 176.6h0M93.5 168.6h0M96.3 182.9h0M108.9 174.6h0M99.9 177.2h0M101.4 176.7h0M103.2 173.3h0M103.2 172.3h0M101.8 179.2h0M111.7 179.1h0M104.3 169.8h0M100.1 179.6h0M104.3 172.3h0M103.5 172.7h0M96.3 179h0M102.5 169.9h0M101.2 178.2h0M106.5 173.3h0M104.3 182.1h0M100.6 178.4h0M97.7 179.9h0M100.3 186.6h0M103.3 169.8h0M95.7 185.3h0M96.3 179.9h0M93.3 182.9h0M100.5 176.5h0M99 182.4h0M98.6 179.9h0M100.8 176.5h0M110.2 178.4h0M100.9 177h0M97 180.3h0M100.2 183.6h0M101.3 167.8h0M98.9 177.7h0M95.2 185.8h0M104.2 173.5h0M97.8 178.1h0M100.6 176.2h0M99.7 184.9h0M103.3 175h0M105.8 172.9h0M97.2 176.4h0M101.4 179.3h0M92.4 183.7h0M99.8 184.4h0M101.4 173.7h0M101.2 172.3h0M98.3 184.2h0M99 178.9h0M96.3 185.3h0M102.8 168.7h0M98.9 185.9h0M96.7 179.8h0M100.5 173.6h0M99.3 175.6h0M96.9 180h0M103.3 175.3h0M105.8 173.7h0M99.3 183h0M100.2 175.4h0M109 173.1h0M101 174h0M101.3 171.4h0M95.8 180h0M95.3 181.2h0M95.7 178.3h0M92.1 165.8h0M104.6 174.4h0M98.9 184.6h0M99.9 173.1h0M105 172.7h0M104.7 175.1h0M97 185.4h0M97.1 185.6h0M94.7 185h0M99.7 187h0M98.1 175h0M100.9 171.5h0M102.6 170.2h0M99.5 183.1h0M102 173.8h0M94.4 179.7h0M104.3 172.8h0M98.7 174.7h0M97.5 183.4h0M108.5 175.1h0M105.3 177.4h0M99 178.1h0M98.3 185.9h0M100.2 174.3h0M101.9 170.7h0M98.6 184.7h0M104.5 175.5h0M102.9 175.1h0M97.9 186.5h0M105.2 187.9h0M101.8 170.9h0M105.7 172.6h0M98.3 184.1h0M103.3 175.2h0M99.6 166.8h0M99.7 175.7h0M101.5 173.9h0M98.9 175.4h0M104.3 180.2h0M100.5 180.4h0M105 171.1h0M95.9 185.5h0M97.1 182.1h0M96 173.5h0M95.6 185.4h0M106.2 170.9h0M101.4 177.6h0M97.3 181.6h0M97.5 179.7h0M105.2 173.7h0M105.8 170.7h0M96.6 184.8h0M97.4 185.9h0M105.3 174.4h0M101 180.5h0M104.1 174.7h0M101 177.9h0M101.8 169.9h0M100.1 177.2h0M97.4 183.3h0M102.7 172.4h0M102.4 176.9h0M97.8 184.6h0M97.5 186.9h0M96.8 178.2h0M99.6 175.3h0M94.9 185.4h0M97.3 184.4h0M99.3 180h0M95.8 177h0M96 180.9h0M102.2 174.5h0M100.5 169.9h0M95.1 183.9h0M106.2 177h0M98.2 184.1h0M100.7 181.1h0M98.9 182.5h0M99.9 176.3h0M117.1 153.9h0M115.1 161.8h0M112 158.9h0M120.2 151.7h0M113.1 155.7h0M115.4 155.7h0M115.2 157.8h0M115.4 149.1h0M114.2 154.9h0M111.3 143.5h0M111.2 160.2h0M108.9 159.8h0M114.3 162.7h0M110.1 159.7h0M116.8 153.5h0M107.7 159h0M116.3 154.2h0M114.1 149.1h0M118.1 155.7h0M117.1 151.3h0M111.7 159.6h0M118.4 155h0M115.7 153.9h0M115.4 156.4h0M110.6 158.1h0M119.8 153.1h0M116.1 153.7h0M118.4 150.5h0M116.9 157.9h0M104.1 143.3h0M112.6 159.9h0M115.1 156.3h0M111.1 160.3h0M108.7 159.7h0M116.3 152.9h0M116.8 157.5h0M113.2 160.7h0M112.2 157.4h0M117.1 153.4h0M114.1 152.4h0M112.9 158.6h0M115.6 154.1h0M118.4 153.8h0M113.8 154.8h0M115.6 150.2h0M118.7 154.7h0M110.6 157.1h0M118 155.9h0M116.2 157.2h0M115.2 155.5h0M112 162.2h0M113.7 147.7h0M117.5 159.9h0M115.6 155.7h0M114.2 155.7h0M118.7 155.1h0M114 158.4h0M113.8 159.4h0M114.2 158.7h0M118.9 156h0M116.6 152.2h0M118 155.4h0M118.3 149.7h0M111 160.8h0M115 149.4h0M108.1 155.7h0M119.4 151.8h0M119.4 162.8h0M115.4 148.6h0M119.7 155.1h0M110.3 161h0M110.9 155.9h0M117.1 150.8h0M112.7 151.9h0M116.4 158.9h0M108.9 157.3h0M119 151.2h0M117.3 149.4h0M117.9 149.6h0M115.7 159.8h0M116.4 155.9h0M109.7 142.4h0M115.2 150h0M117.7 157.6h0M113.7 159.9h0M113.2 157.9h0M116.1 149.1h0M117.6 152.1h0M117.8 156.4h0M111.4 161h0M109.9 160.3h0M117.7 152h0M116 154.7h0M112.3 158.1h0M118 152h0M116 155.2h0M117.7 152.9h0M111.3 158.4h0M112.1 151.9h0M116.3 150.9h0M112.6 157.9h0M110 158.6h0M118.6 154.2h0M117 156.4h0M113 158.1h0M117.5 150.7h0M111.6 156.3h0M111.9 159.8h0M116 154.9h0M119.3 151.8h0M115.8 152.3h0M115.2 157.4h0M118.4 152.2h0M116.2 150.7h0M111.9 155.8h0M116.8 156.6h0M121.2 158h0M115.5 154.5h0M119.8 151h0M118.4 151h0M117.8 153.6h0M109.1 158.4h0M116.8 150.7h0M114.6 149.1h0M116.2 153h0M110.4 158.1h0M117.5 149.9h0M117 153.5h0M108.8 156.7h0M110.7 158.1h0M117.2 152.5h0M116.3 154.3h0M112.3 161.9h0M112.4 156.6h0M119.7 151.2h0M112.5 161.4h0M118.7 156h0M117.3 154.3h0M119 153.5h0M114.4 153.9h0M114.8 153.2h0M115.6 157.8h0M111.6 159.2h0M118.4 158.2h0M111.9 159.9h0M113.3 159.2h0M115.1 154.6h0M115.6 156.6h0M123.9 154.9h0M119.6 156.4h0M112.9 157.1h0M117.3 156.2h0M117.3 152.3h0M114.1 156.8h0M113.7 157.9h0M117.4 152.8h0M116.7 152.9h0M114.1 160.9h0M119.8 152.7h0M116.6 157.7h0M116.6 151.3h0M116.5 152.6h0M111.3 156.2h0M121.1 152.9h0M117.5 155.3h0M115.2 148.5h0M115 161.5h0M116.6 149.4h0M118.8 151h0M111.4 159.8h0M114.4 155.8h0M117.5 150h0M114 155h0M116.5 156.4h0M111.6 159.3h0M110.9 160.2h0M108.5 158.5h0M111 159.3h0M116.3 153.1h0M111.9 159.1h0M110 158.8h0M109.6 157.9h0M110.9 156.5h0M114.5 161h0M111.8 157.1h0M116.2 154.9h0M115.6 156.3h0M114.9 153.7h0M117.5 149.6h0M110.2 156.5h0M118.5 150.8h0M114.3 159.4h0M115.8 156.9h0M111.6 159.9h0M114.8 158.4h0M119.7 151.2h0M115.7 158.1h0M114.7 147.9h0M110.7 155.8h0M119.1 155.9h0M111.1 159.3h0M118.2 159.9h0M105.9 154.6h0M112.7 158.7h0M114.4 157.9h0M116.3 149.7h0M114.4 154h0M136.3 136.7h0M128.9 137.3h0M134.5 135.6h0M136.5 139.7h0M136.6 135.9h0M132.9 137.1h0M134.9 139.1h0M136.5 132.3h0M132.6 134.3h0M130.9 136.8h0M136.3 139.5h0M136.1 133h0M128.4 143.6h0M135.1 140.5h0M127.8 142h0M128.1 143.7h0M127.6 141.8h0M134.8 130h0M134 134.5h0M136.5 134.3h0M127.4 139.3h0M127.6 137.4h0M131.8 127.1h0M137.9 136.8h0M136 136.8h0M126 142.2h0M128.4 137.1h0M130.6 140h0M128.9 136.9h0M128.2 140h0M134.7 136.2h0M137.9 139.1h0M127.3 140.1h0M128.9 142.7h0M127.5 142.5h0M129.3 137.8h0M128.2 144.3h0M135.4 133.9h0M128.1 137.2h0M130.1 142.2h0M127.2 138.7h0M135.6 140.5h0M129.5 137.4h0M133.6 137.4h0M128.8 143.8h0M129 139.8h0M137.1 135.3h0M131.7 141.7h0M133.2 133.1h0M129.1 139.5h0M134.3 131.6h0M131 136.9h0M128.4 143.6h0M130.6 140h0M134.7 134.3h0M129.3 140.6h0M136.9 136.3h0M125.7 139h0M127.3 139.1h0M132.6 137.4h0M130.4 136.2h0M130.1 142.8h0M126.8 143.7h0M128.9 137.2h0M130.1 136.7h0M127.1 138.9h0M133.5 138.8h0M131.3 137.9h0M132.5 138.7h0M130.8 137.5h0M128.7 139h0M134.9 141.9h0M136.6 135.1h0M131.4 146.8h0M123.9 134.9h0M133 136.4h0M129.5 144.6h0M135.5 136.7h0M129.1 137.9h0M128.8 137.2h0M133.9 137.9h0M137.7 136.6h0M128.9 141.1h0M126.7 143.4h0M132.5 138.5h0M131.2 139.6h0M137.8 136.2h0M135.7 135h0M137.3 134.7h0M126.7 143h0M134.8 137.8h0M129.4 142.2h0M134.9 139.6h0M128.5 143.5h0M134.5 135.7h0M127 139.4h0M136 132.5h0M128.7 142.8h0M130.4 141.1h0M127.1 143.4h0M137.5 137.3h0M133.8 138.7h0M136.5 134.5h0M134.6 132.9h0M127.2 136.1h0M131.4 133.7h0M129.7 142h0M127.6 141.3h0M137 133.5h0M129.3 145h0M135.8 136.2h0M134.6 135.9h0M133.8 140.4h0M129.7 141h0M132.4 141.2h0M129.8 137.8h0M133.8 135.7h0M131.6 143.6h0M129 135.1h0M136 131.9h0M133.3 138.2h0M137.7 134h0M131.8 137.7h0M127.1 144h0M128.8 139.7h0M130.7 138.9h0M135.2 132.8h0M135.5 140.3h0M131.3 137.1h0M135.9 131.6h0M138 136.4h0M137.8 136.6h0M139.3 144.3h0M136.3 132.5h0M135.1 141h0M131.6 139.6h0M142.1 139h0M128.6 137.3h0M130.9 136.3h0M133.6 134.6h0M129.8 142.3h0M127.3 131.8h0M133.4 137h0M132.1 137.6h0M127.4 143.2h0M128.4 138.7h0M127.4 140.6h0M126.4 139.2h0M128.4 141.4h0M136.1 132.6h0M136.6 134.8h0M129 140.8h0M129.4 146h0M134.2 140.3h0M136.9 133.2h0M128.6 144.9h0M127.5 142.3h0M129.6 137.6h0M127 138.3h0M127.6 140.4h0M128 142.7h0M135.6 132.5h0M136.3 134.5h0M128.6 142.8h0M130.6 145.6h0M128.8 140.4h0M127.9 138.2h0M125.7 141.3h0M132.8 133.9h0M127.1 139.5h0M127.9 139.2h0M137.3 137.8h0M136.5 133.8h0M135.1 133h0M132.1 148.9h0M127.5 141.1h0M125.6 141.5h0M130.7 136h0M136.6 135.9h0M131.9 140.6h0M137.7 134.9h0M131.7 142.3h0M131.3 142h0M126.8 140.8h0M132.1 139.1h0M131.4 141.2h0M128.3 138.9h0M136.1 132.5h0M129.4 139.1h0M136.3 140.1h0M133.5 136.1h0M133.9 138.9h0M122.8 135.8h0M131.6 137.2h0M137 136.1h0M134.1 135.4h0M138.4 135h0M136.5 132.2h0M140.7 139h0M137.4 138.3h0M135 134.8h0M127.4 143.8h0M127.9 139.7h0M133.4 139.1h0M128.2 136.7h0M134 137.8h0M126.4 130.9h0M128.8 145h0M134.1 139h0M128.2 144.2h0M134.2 135.3h0M131.6 139.9h0M135.3 134.6h0M130 142.4h0M137.3 135.5h0M133.6 139.9h0M123.3 134.9h0M131.3 134h0M133.5 133.4h0M136.9 136.9h0M138.6 137.8h0M137.6 139.2h0M129.5 137.8h0M128.2 140.7h0M130.4 142.6h0M130.8 146.4h0M129.6 144.7h0M128.4 143h0M132.3 138.7h0M153.2 119.2h0M150.9 124h0M154.8 125.9h0M150.7 123.1h0M153.5 122.7h0M148.7 124.3h0M150.4 129.1h0M153.3 120.5h0M149.2 127.2h0M146.4 123.6h0M154 122h0M149.6 125.8h0M150 126.4h0M148.7 126.6h0M152.2 127.1h0M148.8 124.7h0M151.9 124.2h0M154.4 122.6h0M151.1 128.8h0M152.3 123.9h0M152.5 124.9h0M155 122.4h0M147.1 118.6h0M148.8 119.3h0M152.2 124.4h0M148.2 125.7h0M150.3 127.4h0M149.6 127.8h0M150.6 123.2h0M154.8 126.2h0M150.7 123.8h0M152.3 124.8h0M151.8 127.4h0M149.4 125.5h0M152.5 127.6h0M154 119.9h0M150.5 122h0M148.8 123.4h0M155 122.7h0M148 123.5h0M153 126.5h0M151.1 123.9h0M153.2 118.5h0M149.5 123.7h0M154.7 120.6h0M149.2 125.6h0M153.1 124.3h0M152.2 116.4h0M151.1 123.2h0M149.8 125.4h0M150.6 125.4h0M150.4 125.8h0M149.2 126h0M149.4 121.8h0M155 122.9h0M154.9 121.7h0M151 125.3h0M155 122.7h0M148.7 124.6h0M149 125.1h0M151 119.7h0M153 119.6h0M152 121.5h0M150.7 122.7h0M155.5 122.3h0M150.2 121.4h0M151.1 122.1h0M150.3 120.4h0M151.6 127.1h0M151.9 122.7h0M150 128h0M150.3 125.7h0M148.4 123.5h0M149.3 124.9h0M153.1 125.5h0M153 121.4h0M148.3 125.8h0M151.3 126.6h0M154.7 124.8h0M153.2 123.5h0M153.6 121.8h0M152.3 123.3h0M151 125.3h0M150.3 121.9h0M151.8 123.3h0M150 120.4h0M151.2 123.9h0M152.1 125.4h0M151.3 125.8h0M148.5 124.1h0M150.4 119.4h0M151.9 121.6h0M151.7 126.7h0M153.5 121.6h0M146.7 115.4h0M152.7 122.9h0M148 126.3h0M151.9 124.9h0M150.3 125h0M152.1 130.6h0M149.1 124h0M150.2 122.9h0M149 124.5h0M147.8 123.7h0M151.7 119h0M151.6 125.8h0M154 120.2h0M151.4 125.4h0M151.7 125.2h0M154.2 123.9h0M153.3 120.4h0M154.1 119.8h0M152.8 124.8h0M148.2 123.8h0M153.3 121.4h0M154.5 122.7h0M152.5 120.8h0M147.6 125.7h0M151 123.1h0M153 122h0M149 123h0M149.3 126.6h0M154.3 121.5h0M150.6 120.5h0M149.4 126.2h0M153.4 120.9h0M154.9 124h0M152.5 125h0M151.4 123.1h0M154.6 124.6h0M153.5 129.3h0M158.1 126.4h0M156 124.1h0M149.7 124.9h0M174.2 111.6h0M169 115.6h0M173.6 111.5h0M174.7 113.5h0M169.8 115.1h0M169.9 115h0M171.3 109.9h0M171.6 113h0M170.1 113.2h0M171.8 109.5h0M174 110.9h0M170.1 115.4h0M173.4 113.7h0M174 111.4h0M174.4 112.7h0M173.8 112.9h0M173.2 115h0M169.1 112.1h0M167.1 114h0M170.7 114.1h0M174.2 111.9h0M172.4 112.3h0M168.6 116.4h0M174.1 113.2h0M172.3 113.1h0M168.4 114.4h0M171 118h0M170.5 110.4h0M169.4 114.8h0M170.4 114.7h0M168 113.7h0M170.2 113.7h0M170.1 114.5h0M168.7 116.4h0M169.6 116h0M170.2 108.8h0M172.4 112.1h0M172.3 113h0M174.7 112.2h0M171.7 113.7h0M174.3 112.4h0M170.9 115.6h0M171.5 114.8h0M175.5 113.4h0M173.6 114.8h0M174.4 111.9h0M169.4 113.1h0M170.5 110.2h0M175.7 114.3h0M169.9 113h0M171.3 114.9h0M170.3 117.8h0M170.5 117.9h0M168.7 114.1h0M168.7 116.1h0M167.8 112.6h0M174.6 117.4h0M169 113.1h0M170.1 114h0M169.1 117.7h0M171.3 112.4h0M169.7 116h0M169.2 115.9h0M175.2 112.8h0M170.2 111.5h0M172.9 113.6h0M170.1 111.6h0M171.9 109.6h0M168.6 116.6h0M173.9 112.8h0M172.6 113.4h0M174.3 115.3h0M172.9 113.4h0M167.9 114.7h0M169.8 112.7h0M169.1 110.1h0M171.6 117.9h0M169.5 116.6h0M169 112.9h0M168.9 112.2h0M169.6 117.7h0M169.5 116.2h0M172 115.1h0M174.6 112.7h0M172.9 108.9h0M175.4 112.7h0M175.5 116.1h0M168.7 114.9h0M170.5 117.1h0M169.2 112.8h0M171.3 115h0M168.1 115.6h0M172 110.8h0M171.9 113.5h0M170 113.8h0M171.8 113h0M170.8 114.9h0M170.1 119.1h0M174 113.5h0M167.6 109.1h0M170 112.4h0M170.2 117.6h0M177 116.7h0M168.9 112h0M173.9 115.8h0M172.1 115.7h0M171.9 113.9h0M167.9 113.4h0M175.7 114.2h0M169.8 114.9h0M168.1 115.1h0M173.3 112.1h0M170.3 114.5h0M170.6 113h0M174.7 114.9h0M170.7 114.2h0M169.4 114.9h0M172.1 111.8h0M169.6 110.5h0M174 114.4h0M171.1 110.4h0M168 115.7h0M171.8 113.2h0M175.6 115.5h0M211.9 100.6h0M202.7 105.6h0M216.7 100.2h0M207.9 102.9h0M206.4 99.8h0M208.6 102.9h0M212.8 104.2h0M214.2 100.7h0M193.1 108.5h0M194.5 108.1h0M203.2 106.8h0M190.6 106.5h0M209.5 100.5h0M218.3 102.8h0M204 103.2h0M213.5 100.5h0M213.6 96.1h0M197.1 110h0M215.7 101.5h0M209.2 100.9h0M213.9 100.8h0M195 107.9h0M193.1 108.8h0M205.4 103.3h0M188.9 108h0M196.8 103.9h0M216.9 103.8h0M202.3 105.6h0M202.4 101.5h0M205 104.4h0M183.6 103.9h0M209.2 99.3h0M209.4 103.1h0M185.4 108.5h0M202.1 104.9h0M185.6 105.8h0M214.8 104.8h0M193.3 106.8h0M197.6 96.8h0M188.2 105.4h0M211.9 100.3h0M209.5 100.6h0M205.7 103.8h0M194.2 103.4h0M218.1 101.2h0M201.4 106.3h0M212.8 104.2h0M193.7 104.7h0M217.4 98h0M215.2 103h0M193 105.2h0M207 100.5h0M216.8 97.3h0M205.1 102.6h0M184.7 106.4h0M216.3 101.7h0M213.8 99.4h0M196.4 102h0M189.1 104.7h0M196.2 104.9h0M212.9 101.9h0M217.6 103.3h0M218.7 104.2h0M193.7 104.4h0M195 105.1h0M186 104.6h0M212.9 107h0M197.6 106.6h0M205.4 101.3h0M206.5 103.4h0M210.9 102h0M218.4 104.4h0M195.2 106.7h0M211.3 105.2h0M205.9 103.2h0M211.6 101.1h0M208.3 102.6h0M188.8 106.8h0M189.9 105.8h0M203.8 104.9h0M212.3 103.7h0M198 105.4h0M189.9 110.4h0M204.3 97.5h0M208.8 104.2h0M198.7 109h0M200.6 103.4h0M211.3 102.6h0M217.8 104.4h0M217.7 101.5h0M214.6 104h0M204.7 101.7h0M185.8 107.3h0M218.8 103.7h0M194.7 108.2h0M196 103.9h0M214.1 102.8h0M209.4 102.9h0M205 102.3h0M199.4 104.5h0M184.6 107.3h0M204.4 102.8h0M190.1 106.5h0M191.9 109.4h0M203.1 101.7h0M218.6 101.8h0M190.3 105.9h0M202.9 103.4h0M214.4 104.5h0M195.2 106.6h0M208.1 104h0M212.2 106.1h0M185.1 109.3h0M189.8 106.1h0M207.9 104.7h0M199.5 107.1h0M213.8 106.2h0M212.2 98.3h0M197.3 108.1h0M185.7 108.5h0M220 102h0M197.1 104.3h0M192.3 111h0M208.6 104.3h0M215.9 99.7h0M210.9 102.6h0M195.4 107.7h0M185.9 107.6h0M188.2 110.2h0M214.9 97.8h0M187 96.7h0M215.8 103.6h0M218.1 106.7h0M192.3 109.5h0M220.5 100.5h0M218.5 106.6h0M218.4 98.1h0M215.5 101.9h0M193.6 109.3h0M212.2 103.2h0M210.6 101.1h0M215.7 101.6h0M206.3 102.4h0M199.3 104.5h0M216.2 104.1h0M185.3 105.9h0M213.9 99.5h0M217.1 102.9h0M185.2 104h0M205.7 108h0M218.6 103.6h0M200.7 107.2h0M196.9 101.1h0M201 105.1h0M184.8 107.3h0M212.7 102h0M192 99.5h0M197.5 105.3h0M210.5 101.8h0M220.3 104.7h0M218.1 101.9h0M186 109.1h0M206 102.6h0M206.8 101h0M193.3 106.8h0M213.7 104.1h0M202.5 107.5h0M196 102.3h0M193.9 110.8h0M200.9 110.1h0M216 99h0M188.7 105.9h0M191 109.7h0M200.7 103.9h0M205.2 101.9h0M194.4 109.4h0M205.6 104.3h0M195.4 105.3h0M208.5 102.2h0M215.7 100.7h0M192.2 103.9h0M195.9 105.1h0M214.2 105.3h0M187.4 103.9h0M202.7 103.3h0M209.1 101.4h0M217.2 98.9h0M186.7 106.4h0M215 100.6h0M219.2 100.7h0M190.6 112.2h0M211 110.5h0M184.6 107.8h0M208.1 115.2h0M186.6 105.4h0M185.3 107.7h0M215.2 101.3h0M198.9 108.4h0M193.2 107.9h0M204.5 102.7h0M206.4 104.8h0M218.8 101.4h0M212.5 102.6h0M207.4 99.2h0M189.1 105.9h0M185.2 107.6h0M194 106.8h0M191.7 108.2h0M202.7 112.2h0M192.5 110.7h0M211.9 104.4h0M209.7 101.3h0M220.1 105.7h0M189.7 106.8h0M211.4 101.7h0M201.1 104.1h0M206.3 101.1h0M210.2 99.8h0M196.6 104.2h0M220.6 105.2h0M187.7 105.1h0M206.7 99h0M209.2 102.5h0M212.9 99.6h0M202.7 104.5h0M199.3 100.4h0M215.6 104.2h0M214.8 105.6h0M201.6 104.7h0M191.7 107.3h0M191.9 109.1h0M188.3 106.3h0M190.7 102.4h0M209.9 101.9h0M187.2 106.5h0M205.7 102.8h0M203.2 107.9h0M214.8 99.5h0M210.8 102.9h0M200.6 106.5h0M212.2 102.6h0M207.3 101.5h0M197.6 105.4h0M190.2 104.3h0M202.8 99.5h0M192.2 120.1h0M189.9 107.6h0M189.1 109.9h0M215.8 99.5h0M190.6 108.5h0M204.1 102h0M207.2 99.2h0M186.8 104.5h0M217.6 101.7h0M206.9 99.1h0M207.6 99.2h0M219.5 105h0M203.8 101.2h0M189.5 107.3h0M208 102.7h0M186.1 106.2h0M215.9 99.8h0M188.1 106.1h0M215.6 98.9h0M217.3 102.6h0M206.5 101.3h0M205 101.9h0M210 98.8h0M213.8 104.1h0M187 106.3h0M203.7 101.8h0M203.9 101.2h0M190.1 105.7h0M187.1 109.3h0M187.8 105.4h0M194.1 108.4h0M211.1 101.4h0M205.5 100.1h0M202.9 107h0M192.7 105h0M205.8 102h0M210.6 105.5h0M190.7 109.2h0M208.1 100.4h0M195.7 108.3h0M192.2 107.5h0M195.4 109.5h0M218.6 103.3h0M198.4 106.9h0M219.7 98.3h0M210.6 99.8h0M191.3 105.8h0M190.8 106.2h0M188 106.9h0M220.7 106.1h0M220.4 105h0M194.2 103.6h0M214 97.2h0M199.2 110.2h0M190 106h0M184.8 105.2h0M202.3 98.8h0M194.3 104.5h0M196.7 106.7h0M210.9 100.1h0M205.8 104.1h0M197.6 107.8h0M191.2 107.5h0M214.5 106.8h0M202.8 108.2h0M191.6 109.6h0M219.1 104h0M219.2 104.7h0M183.4 99.2h0M216.7 101h0M206.6 102.7h0M203 101.8h0M186.4 107.8h0M214 102.4h0M203 105.5h0M202.5 104.5h0M189.4 106.8h0M217.9 104.3h0M194.6 108.8h0M212.9 100.9h0M210 100.8h0M198.8 108.8h0M186.9 107.1h0M218.9 101.9h0M212.6 103.5h0M207.2 102h0M210.2 102.8h0M190.3 105h0M207.4 105.2h0M201.6 101.5h0M198.8 104.4h0M216.7 105.2h0M198 107.9h0M204.7 104.3h0M191.7 107.7h0M213 102.6h0M202.6 107h0M215.2 101.3h0M194.8 106.3h0M214.8 101.1h0M187.3 107.8h0M196.1 105.9h0M199.9 106h0M192.7 112.1h0M193.1 108.8h0M192.4 109.1h0M185 108.5h0M199.2 104.6h0M212.7 100.8h0M204.1 101.6h0M200.9 105.2h0M186.6 106.7h0M216 102.9h0M194.9 116.2h0M210.8 102.5h0M188 107.7h0M204.6 103.2h0M206.3 112.3h0M200 104.1h0M195.2 110.3h0M196.9 105.6h0M200.2 106.3h0M206.2 98.8h0M186.6 108.1h0M209.2 103.2h0M185.3 105.8h0M190.9 109.9h0M206.8 104.8h0M209.5 101.2h0M200 94h0M186.2 107.8h0M216.4 105.1h0M188.5 109.5h0M193.6 110.2h0M199.4 106h0M215.2 105h0M209.2 101.1h0M193.3 101.6h0M209.5 103.4h0M218.4 95.3h0M214.9 103.1h0M211.2 102.1h0M200.7 101.9h0M212.4 103.6h0M214.2 98.1h0M197.3 105.2h0M206.9 107h0M206.5 102.1h0M216.1 103.1h0M220.5 101h0M215.5 104.5h0M185.9 103.7h0M191.9 108.2h0M215.8 102.2h0M200.2 107h0M204.6 108.3h0M213 104.5h0M193.1 110.6h0M193.5 103.2h0M195.1 104.7h0M184.1 96.5h0M204 102.5h0M187.6 105.8h0M206.7 102h0M196.5 102.8h0M186 105.3h0M217.8 103.9h0M216.6 100.3h0M204.6 102.3h0M205.4 102.7h0M190.8 110.7h0M196.8 106.5h0M204.4 101.4h0M206.5 103.1h0M200.4 104.1h0M191.7 101.7h0M199.9 104.3h0M210.7 103.1h0M185.8 105.3h0M209.2 105.2h0M216.5 98.1h0M218 102.5h0M196.8 104.8h0M208.8 99.3h0M213.9 101.2h0M193.9 105.8h0M202.6 103.5h0M188.7 110.9h0M220.1 104.3h0M190.2 109.2h0M219.6 105.4h0M210 102.7h0M205.8 99.8h0M190.2 107.5h0M212.6 99.2h0M214.2 106.3h0M185.8 103h0M219.6 103h0M215.3 101.6h0M197.2 103.5h0M194.5 108.1h0M215 98.4h0M188.6 105.2h0M219.8 105.6h0M200.8 105.6h0M198.9 100.7h0M214.4 103.4h0M196.1 104.4h0M211.8 102.4h0M210.8 100.4h0M208.8 104.6h0M208.2 104.1h0M216 100.5h0M209 102.7h0M216 104.6h0M201.5 104.9h0M204.7 103.6h0M202.7 102.2h0M201.6 106.7h0M190.8 108.6h0M197.3 107.2h0M192.7 108.3h0M200.3 110.1h0M207.7 100.3h0M185.7 110.1h0M217.1 101.1h0M184.3 104.6h0M195.7 104.3h0M210.3 101.1h0M195.5 105.5h0M211 104.4h0M220.6 102.3h0M188.2 107.9h0M218 102.8h0M190 108.4h0M210.4 101.4h0M214.5 104.3h0M191.7 108.5h0M220.8 105.4h0M212.9 102.1h0M213.2 102.9h0M213.2 104.6h0M188.9 108.9h0M217.4 100.8h0M189.3 107.2h0M193.3 108.9h0M204.8 103.6h0M213.8 97.9h0M203 96.3h0M197.7 107.1h0M199.3 105.8h0M194.2 108h0M220.3 104.3h0M195.1 107h0M185.6 110.7h0M206.8 101.5h0M220.9 106.2h0M204.4 104.6h0M203.1 99h0M213.2 102.7h0M199.1 105.3h0M187.6 105.4h0M196.6 106.7h0M211.1 100.2h0M218.4 100.2h0M215.2 101.4h0M211.5 102.1h0M199.2 102.2h0M208.9 101.4h0M188.5 105.9h0M187.9 107.2h0M200.5 101.5h0M216.4 104.6h0M205.5 106.8h0M213.2 102.7h0M220.6 103.5h0M210.6 105.7h0M191.7 110.2h0M194.2 110.5h0M191.1 106.2h0M203.4 101h0M195.1 104.7h0M195.9 106.9h0M211.4 101.5h0M192.2 106.4h0M197.9 107.4h0M192.6 111.4h0M191.2 107h0M206.4 104.1h0M216.7 98h0M209.9 103.6h0M198 104.4h0M194.1 106h0M214.4 98.7h0M212.8 101.2h0M195.6 102.8h0M218.8 101.6h0M215.1 101.8h0M199.8 104.2h0M205.1 97.2h0M193.6 105.6h0M218.8 100.9h0M199.6 103.4h0M206.1 104.5h0M210.1 101.9h0M197.9 106.1h0M220.1 101h0M213.4 99.1h0M211.7 102.1h0M194.2 109.5h0M202.6 105.1h0M209.8 105.6h0M210.1 105.9h0M215.7 103.7h0M188.1 106.5h0M200.6 101.5h0M198.8 103.3h0M204.2 102.9h0M202.5 104.3h0M211 102.1h0M359.4 310.8h0M361.5 312.5h0M364.6 312.7h0M358.4 310.8h0M358.2 309.9h0M364.6 313.9h0M358.1 309.6h0M360.9 311.8h0M358 309.9h0M357.8 309.4h0M359.2 310h0M361.4 312.7h0M354.8 308.9h0M361.2 311.4h0M360.3 311.7h0M361.2 310.8h0M361 310.7h0M358.9 310.6h0M356.4 309.4h0M360.1 310.3h0M360.9 310.7h0M357.7 309.5h0M361.1 311.6h0M354 309.3h0M359 309.8h0M363.7 313.3h0M358.9 311h0M356.6 310.6h0M361 311.1h0M364.8 314h0M364.6 313.4h0M364.5 313.6h0M356 308.6h0M358.7 311.1h0M358.7 310.2h0M354.4 308.8h0M359.4 311.6h0M363.5 312.1h0M355.8 309.1h0M360.8 311.3h0"/><path fill="none" stroke="#8a6a50" stroke-width="1" stroke-linecap="round" d="M262.9 122.2h0M275.1 110.9h0M241.9 117.8h0M269.4 113.6h0M255.5 92.3h0M247.2 88.2h0M285.7 96.4h0M279.9 121.3h0M327.7 147.8h0M290.8 132h0M328.6 140.6h0M323.1 150h0M303.3 134.6h0M338.6 140.6h0M306.4 115.7h0M296.4 120.6h0M312.3 117.6h0M332.5 135.9h0M296.8 137.4h0M380 189.4h0M341.9 176.4h0M352.9 196.2h0M352.8 190.6h0M349.4 193.1h0M358.6 154.6h0M357.7 179.5h0M377.3 193.8h0M358 163.4h0M360 224h0M361.1 231.1h0M386.8 218.2h0M367.9 250h0M368.9 216.3h0M364.2 229.2h0M366.3 243.4h0M369.2 232.1h0M364.4 237.1h0M385.8 262h0M388.2 283.1h0M361.9 298h0M379.8 269.7h0M364.2 261h0M370.9 263.6h0M365.4 277.4h0M347.5 312.5h0M356.9 319.9h0M348 335.7h0M337.8 332.7h0M350.5 316.8h0M341 331.2h0M355.5 330.7h0M352.3 336.7h0M321.5 352.2h0M316.9 371.9h0M305.2 367.1h0M313.9 379.4h0M315.4 355.2h0M337 353.7h0M338.9 358.5h0M342.7 368.7h0M275.5 381.4h0M285.4 371.8h0M274.9 382h0M277.7 394.9h0M278.9 397.8h0M300.3 390.7h0M276.5 389.3h0M243.1 384.3h0M262.4 406.7h0M253.9 405.1h0M237.8 411.4h0M257.1 384.2h0M198.5 392h0M210.9 404.2h0M210.5 393.1h0M198.9 381.4h0M195.7 392.6h0M195.5 384.3h0M167.2 378h0M174.9 392.7h0M152.5 381.7h0M169.6 378.7h0M177.2 376.3h0M155.4 383.5h0M125 376.6h0M127.6 346.7h0M138.5 369h0M127.7 378.5h0M121 363.5h0M135 364.9h0M106.3 336h0M106.7 340.6h0M116.7 333.3h0M104.8 335.1h0M117.9 320h0M99.1 304.2h0M98 294.9h0M100 266h0M79.3 262.5h0M88.7 268.5h0M68.2 271.3h0M76.3 232.3h0M80.7 226.2h0M67.9 228.4h0M68.9 224.7h0M93.9 205.6h0M84.7 212.6h0M82.3 192.4h0M97.2 208.9h0M114.3 192.3h0M105.1 189h0M102.9 178.3h0M93.8 170.5h0M125 158.2h0M117.6 157.9h0M119.6 157.4h0M135.6 138h0M135.5 131h0M124.8 130.8h0M151.5 126.9h0M148.8 119.1h0M180 124.5h0M171.4 121.5h0M192.2 103.6h0M202.8 121.3h0M220.6 120.5h0M200 99.6h0M195.4 105.5h0M216.2 106h0M209.3 91.6h0"/>
<path fill="none" stroke="#e31a1f" stroke-width="1.4" stroke-linecap="square" d="M244.3 153.1h0M239.7 154.3h0M238.6 154h0M232.7 152.6h0M256.2 154.9h0M262.2 152.3h0M245.7 152.9h0M238.8 147.8h0M255.1 157.8h0M264.8 158.7h0M236.2 152.8h0M238.7 151.4h0M255.4 156.3h0M257.1 158.8h0M245 154.1h0M241.8 154h0M253.8 157.6h0M245.1 156.9h0M244.1 154.1h0M234.9 149.2h0M265.2 155.1h0M243.8 162.9h0M263.7 155.2h0M264.1 159.2h0M243.7 152.6h0M257.5 158.5h0M254.9 158.3h0M243.4 154.7h0M242.9 153.3h0M265.9 160.6h0M243.6 154.4h0M233.5 155.7h0M241.6 145.3h0M251.9 158.8h0M259 159.5h0M244.6 151.8h0M254.4 159.5h0M252.7 157.5h0M262.2 158.3h0M243.6 156.4h0M266.5 161h0M232.1 156.1h0M245.9 154.3h0M258.9 159.1h0M246.6 155.8h0M235.7 154h0M232.9 151.6h0M262.1 158.5h0M239.4 150.4h0M234.2 153h0M258.5 157.4h0M240.4 153.1h0M264.4 157.5h0M261.6 159.5h0M247.3 151.7h0M247.8 152.8h0M252.2 159.9h0M230.8 155.1h0M238.2 152.9h0M241.5 156.2h0M252 159.1h0M259 156.2h0M232.9 155.9h0M259 157.4h0M237.6 150.8h0M258.1 154.3h0M231 154.3h0M238.9 150.4h0M252.7 158.4h0M262.7 162.6h0M262.1 156.2h0M235.8 153.1h0M265.6 159.6h0M255.1 158.6h0M239.8 152.1h0M256.7 159.4h0M237.9 147.9h0M241.9 152.4h0M264.1 158.8h0M246.4 150.8h0M253.4 152.4h0M257.1 155.7h0M232.8 153.3h0M243.6 156h0M246.1 156.7h0M252.1 156.2h0M238.1 149h0M266.6 161.1h0M244.8 154.5h0M245.1 155h0M247.8 153.7h0M245.5 151.8h0M240.7 151.8h0M244.9 151.1h0M260 157.2h0M231.6 155h0M255.1 160.7h0M246.1 155.7h0M245.4 154.4h0M265.2 157.1h0M238.1 148.7h0M237.4 151.1h0M242.5 154.9h0M235 156.8h0M245 156h0M230.3 156.2h0M241.1 152.8h0M247.9 157.2h0M264.4 158.8h0M259.9 154h0M230.5 151.6h0M262.2 158.6h0M262.4 157.6h0M261.9 154.1h0M238.1 154.4h0M265.4 162.3h0M245 156.8h0M262.8 159.6h0M234 154.2h0M234.9 152h0M237.7 151h0M254.6 154.1h0M261.3 159.5h0M267.4 157h0M242.5 152.7h0M260.2 154.8h0M261.7 158.4h0M242.4 152.9h0M264.8 158.4h0M254 152.5h0M261.2 154.5h0M264.7 158.3h0M253.7 158.8h0M231.2 153.4h0M257 155.2h0M235.6 153.3h0M255.5 154.3h0M239.1 153.3h0M262.2 154.2h0M259 155.5h0M236.8 152.8h0M263.7 155.5h0M236.7 150.4h0M244.6 152.4h0M241.1 150.7h0M246.5 154.6h0M247.9 153.9h0M268.6 157h0M260.3 155.5h0M262.5 158h0M253 157h0M238.5 148.1h0M243.4 152h0M262 158.4h0M266.2 158.4h0M252.3 160.4h0M243.9 154.9h0M268 159h0M236.5 154.6h0M269.3 155.2h0M239.5 151.1h0M267.8 156.3h0M242.2 152h0M265.3 161.3h0M238.2 152.9h0M261 155.3h0M238.6 151.3h0M233.9 152.3h0M247.8 157.4h0M254.6 158.1h0M260.2 158.6h0M253.1 164.6h0M260.2 156.1h0M237.6 150.1h0M241.2 152h0M242.3 152.9h0M245.9 152.8h0M258.4 155.6h0M240.2 152.6h0M242.3 154.3h0M265.1 154.8h0M252.5 161.1h0M254.7 157.3h0M234.2 156.1h0M266.3 161.1h0M263 157.5h0M248.4 154h0M258.4 157h0M248.3 156.4h0M268.3 156h0M238.8 152.4h0M254.7 153.3h0M254.6 155.9h0M266 159.7h0M236.2 151.1h0M267.5 160.2h0M231.2 155.2h0M233.5 152.4h0M241.8 153.8h0M253.4 156.7h0M259.3 155.9h0M260.7 156.1h0M264.1 156h0M263.9 158.6h0M267.5 159.5h0M246.9 155h0M252.6 159.1h0M262.3 159.2h0M247.9 153.7h0M249.1 152.6h0M257.6 154.9h0M237.9 156.2h0M255.3 155.9h0M251.9 157.7h0M262.4 158.2h0M259.6 156.5h0M266.6 161.1h0M232.6 154.6h0M243.1 155.3h0M238.1 151.3h0M256.1 157.7h0M246.6 154.9h0M265 160.2h0M234.6 154.8h0M248.2 151.5h0M265.5 157.6h0M263.9 157.4h0M245.4 155.3h0M266.7 157.1h0M241 154.6h0M263.5 154.9h0M243.9 153.8h0M245 156.3h0M240.4 149.9h0M233.9 152.5h0M255.4 155.7h0M255.1 157h0M240.7 154h0M238.6 149.6h0M263.8 164.7h0M236.7 148.5h0M233.2 151.5h0M263.2 158.4h0M262.7 157.2h0M231.9 152.4h0M254.6 154.7h0M253.8 154.9h0M234.8 148.7h0M233.2 159h0M248 152h0M260.9 154.4h0M234.2 151.1h0M257.9 157.3h0M240 153.5h0M252.4 156.5h0M263.7 156.6h0M258.3 157.9h0M233.3 152.8h0M236.6 151.9h0M237 149.2h0M253.2 152.7h0M259.6 158.7h0M231.4 155.1h0M259.9 156.7h0M239.7 151.6h0M255.1 155.8h0M264.6 161.1h0M234.9 151.6h0M261.5 157.5h0M244.6 155.5h0M234.7 152.3h0M232.7 162.8h0M265 157.9h0M232.3 156.7h0M238 155.1h0M239.2 151.4h0M257.1 159.9h0M257.5 155.9h0M248.1 152.7h0M262.3 156h0M231.7 153.7h0M261.5 156.4h0M236.4 150.3h0M239.6 151.5h0M245.1 152.1h0M243.3 155.6h0M230.5 152.7h0M245.1 154.5h0M264.3 158.8h0M236.9 153.7h0M259.8 155.7h0M245.9 155.5h0M254.8 156.2h0M231.2 152.6h0M266.1 157.6h0M241.9 153.1h0M244.9 154.7h0M240.9 153.3h0M264 157.8h0M245.7 152.1h0M232.9 155.1h0M232.9 152.6h0M240.4 148.9h0M248.2 155.5h0M260.2 157h0M238.8 151.9h0M243.5 153.6h0M261 157.7h0M257.6 153.9h0M259.3 155.5h0M258.5 155.4h0M248.4 153h0M255.1 158.6h0M236.5 151h0M255.2 155.7h0M259.1 157.7h0M242.4 151.1h0M261.9 159h0M248 151.5h0M266.5 156.7h0M253.5 157.4h0M231 154.9h0M261.5 159.5h0M246.8 156.1h0M271.2 143.8h0M241.3 151.7h0M242 156.2h0M262.1 158.4h0M238.7 154.7h0M262.9 155.9h0M242.7 154.7h0M233 153.1h0M263.5 156.6h0M260.4 156.4h0M246.9 151.7h0M264.9 160.1h0M264.2 157.6h0M254.9 158h0M257.6 155.6h0M247.6 151.6h0M235.5 154.7h0M259.3 157.1h0M236.4 153h0M230.3 148.7h0M252.1 156.7h0M255.3 155.2h0M241.4 153.2h0M244.3 153.8h0M266 158h0M257.5 160.7h0M230.8 151.2h0M254.2 157.2h0M234.7 154.4h0M263.4 159.7h0M254.8 154.9h0M252.3 154.6h0M239.8 154.3h0M248.6 154.7h0M263.2 156.2h0M254.9 156.1h0M246.9 154.2h0M231.4 151.5h0M262.4 156.8h0M238.8 147.1h0M266.1 159.3h0M258.5 160.6h0M244 154h0M253.7 161.1h0M264.6 157.9h0M232.3 153.3h0M258 160.1h0M239.6 153.9h0M259.6 157.2h0M256.3 158.2h0M237.2 151.8h0M256.3 158.7h0M255.2 154.3h0M260.4 152.8h0M240.6 151.3h0M260.2 155.4h0M245.4 153.1h0M231.4 155.1h0M235.3 151.5h0M255.5 159.9h0M244.7 155.3h0M241.7 151.7h0M257.3 158h0M242.7 152.3h0M257.6 156.9h0M260.1 155.5h0M255.5 158h0M231.6 155.9h0M260.6 151.9h0M266.5 156.7h0M236 149.7h0M260.5 156h0M241.2 152.7h0M241.5 153.9h0M245.7 153.8h0M241.2 154h0M230.5 155h0M230.9 155.1h0M252.2 160.1h0M253.3 156.2h0M260 159.9h0M255.6 154.8h0M235.2 155.2h0M241.5 155.5h0M267.8 158.1h0M242 153.1h0M241.9 153.5h0M248.5 152.8h0M244.8 152.8h0M233 152.8h0M253.3 155.6h0M231.8 154.5h0M262 160.7h0M264.9 160h0M239.2 149.9h0M265 157.9h0M234.2 151h0M247.3 151.9h0M236.8 151.8h0M256.6 156h0M264.2 158.9h0M258.4 157.2h0M259.7 158.8h0M245 153.4h0M247.1 155.1h0M265.2 158.4h0M262.8 157.2h0M261.7 159h0M263.3 158.3h0M240.8 154.9h0M243.6 149.4h0M246.5 156h0M247 153h0M253.5 161.2h0M241.2 154.7h0M267 150.3h0M245.3 154.7h0M251.4 159.2h0M257.9 155.5h0M235.6 150.2h0M259.5 154.8h0M262.2 157.6h0M237.8 149.9h0M243.6 155.8h0M254.2 157.5h0M237 149.9h0M239.3 150.3h0M239.1 150.7h0M234.9 152.5h0M233.8 152.3h0M242.8 157.2h0M237.5 149.2h0M259.7 152.7h0M245.6 150.5h0M262 157.1h0M264.6 158.2h0M253.8 159.1h0M262.2 154.8h0M265.4 160.6h0M231.2 152.2h0M246.6 154.6h0M262.8 154.7h0M233.8 153.5h0M262.4 159.7h0M261.4 155.9h0M231.5 153.9h0M262 156.6h0M230.9 154.6h0M240 154.6h0M244.5 154.4h0M232 152.5h0M267.3 158.7h0M260.8 154.7h0M253.5 154h0M264.8 159.1h0M231.9 155.5h0M235.3 153.6h0M261.6 156h0M263.4 157.2h0M240.5 152.1h0M255.3 157.6h0M263.5 161.8h0M235.3 150.7h0M232.3 152h0M248 152.4h0M255.3 157.7h0M258.6 156.1h0M242.7 155.2h0M244.1 155h0M242.9 154.2h0M252.7 165.3h0M247.4 155.2h0M261 156h0M230.6 150.6h0M255.1 156.9h0M266.7 159.3h0M262.8 158.8h0M260.8 158.1h0M256.5 156.4h0M261.6 154.3h0M233.1 151.9h0M261.5 154.4h0M265.1 156.1h0M233.4 149.7h0M244.3 154.2h0M236.4 153.7h0M230.3 151.7h0M255.2 159.8h0M263.9 159.8h0M230.8 155.3h0M253.4 156.3h0M242.7 154.3h0M263.8 156.7h0M240.7 155.4h0M243.8 152.2h0M255.3 155.1h0M255.9 154.9h0M245.2 152.9h0M233.7 153h0M266.4 160.1h0M246.1 153.3h0M234.7 156.1h0M246.7 151.8h0M232.3 152.1h0M240.7 151.9h0M242.8 152.9h0M265.5 157.6h0M242.8 152.6h0M235 153.9h0M265.2 161.2h0M238.1 149.6h0M244.6 155.8h0M247 153.5h0M254.6 157.3h0M231.1 153.4h0M236 151h0M264.4 157.2h0M233.8 153.8h0M231.2 155.1h0M246.9 155.9h0M259.6 156.2h0M296.7 178.4h0M280.2 168h0M278.3 161.1h0M290.8 174.9h0M299.3 175.5h0M305.7 181.9h0M297.3 181.4h0M274.6 167.2h0M299.7 176.1h0M284.1 170.6h0M288.1 168.6h0M294.4 176.3h0M274.5 161.6h0M304.8 181h0M293.6 178.1h0M283.9 165.1h0M282.3 165.4h0M273.2 165.4h0M300.4 178.6h0M274.3 166h0M292 179.5h0M282.6 164.3h0M276.4 164.3h0M296.1 175.5h0M282.2 164.1h0M299.4 178h0M277.7 168.1h0M301.4 182.2h0M280.5 162.6h0M293.3 175.3h0M291.5 179.8h0M295.2 175.9h0M291.3 179.7h0M284.9 165.5h0M280 164.3h0M273.7 165.1h0M279.9 166.2h0M295.1 178h0M293.5 178.1h0M274.8 171.1h0M301.3 179.2h0M289.8 174.1h0M287 171.8h0M305.8 181h0M292.4 171.1h0M288.1 170.2h0M298.9 182.5h0M291.2 172.2h0M277.7 163.5h0M291.5 172.9h0M295 182.4h0M289.8 170.3h0M300.9 180.3h0M295.1 178.2h0M277.8 165.7h0M282.4 173h0M301.6 183.2h0M290 169h0M287.6 165.1h0M302.1 181.9h0M281.5 166.1h0M303 181.9h0M292.8 175.6h0M301.6 182.3h0M280.7 166.5h0M295.3 177.9h0M291.9 178h0M293.7 178.4h0M291.8 172.1h0M288.6 173.4h0M288.3 177.3h0M304.8 181.6h0M288 171h0M302.1 177.3h0M298.2 176.9h0M274.4 164.5h0M288.7 167.6h0M290.3 176.7h0M287.5 169.5h0M287.9 171.1h0M277.4 163.7h0M293.1 176.1h0M277.6 165.1h0M295.2 180.9h0M302.4 181.2h0M303.7 182.2h0M301 181.4h0M289.2 173.1h0M286.9 169.1h0M273 165.8h0M291.4 177h0M283 163.4h0M279.3 162.4h0M303.4 181.2h0M287.5 169.5h0M301.4 183.6h0M272.1 166.4h0M287.1 173.6h0M297.8 177.9h0M287.7 166.5h0M301.2 180.5h0M287.9 168.8h0M282.8 166.9h0M273.5 166.1h0M295.5 176.8h0M288.4 167.4h0M289.5 174.6h0M289.1 170.8h0M291.5 170.3h0M294.7 177.9h0M284 167.3h0M274 166.8h0M284.2 167.5h0M280.8 167.3h0M297.2 178.3h0M284.3 168.6h0M277.6 163.7h0M291 172.8h0M283.5 168.9h0M283.6 168.7h0M290.3 173.6h0M281.8 168.9h0M305.8 179.6h0M281.5 166.7h0M286.7 174.2h0M279.8 162.1h0M281.5 167.4h0M276 163.7h0M285.3 164h0M280 170.5h0M295.9 181.3h0M281.5 165.9h0M276.6 162.9h0M291.7 177.8h0M297.9 184.9h0M286.8 168.9h0M281.4 164.2h0M287.8 166.6h0M293.1 174.9h0M295.9 178h0M281.1 163.9h0M280.4 165.6h0M303.9 182.1h0M296.3 180.9h0M289.7 167.2h0M301.3 182.3h0M304.1 183h0M274.1 164.7h0M301 172.2h0M281.5 168.1h0M283.7 169.4h0M302 183h0M294 175.4h0M287.8 170.7h0M297.8 179.5h0M294.3 177.8h0M282.6 174.1h0M287.3 170.4h0M302.8 181.3h0M293 176.2h0M281 164.4h0M298.4 173.3h0M294.1 175.9h0M292.1 169.4h0M288.4 172.8h0M288.9 176.6h0M305.5 182.2h0M283.3 161.5h0M295.3 177.2h0M304.4 182h0M282.1 162.9h0M278.3 164.9h0M274.9 168.7h0M277.4 168.1h0M276.2 164.1h0M275.6 164.6h0M293 177.2h0M283.5 168.1h0M287.7 168.5h0M300.8 181.5h0M299.9 178h0M300.5 180.1h0M301.2 181.7h0M299.5 179.7h0M283.2 164.9h0M305.4 182.4h0M284.2 166.7h0M296.1 181.6h0M292.9 174.4h0M301.7 184.4h0M284.3 166.5h0M279.7 165.7h0M273.6 167.4h0M300.5 184.6h0M285 158.7h0M274 166.3h0M276.5 165.1h0M301.5 182.8h0M290.3 177.6h0M289.7 171.1h0M287.8 172.3h0M293.1 175.6h0M288.8 172.5h0M294.3 176.9h0M295.5 178.1h0M302.9 183.3h0M296.1 177.6h0M288 167.7h0M275.9 163.4h0M285.5 165.8h0M295.6 179.7h0M287.7 171.9h0M296.4 182.6h0M278.2 164.5h0M290.3 171h0M280.6 163.5h0M288.9 174.5h0M298.1 182.4h0M285.7 167.5h0M292.6 173.4h0M279.3 167h0M291.6 173.4h0M305.6 176.1h0M299.1 185.3h0M301.8 184h0M277.5 168.2h0M293.3 177.1h0M298.2 176.7h0M286.3 166.2h0M301.8 183.2h0M274.6 164h0M275.8 162.6h0M293.6 178.3h0M281.9 162.9h0M281.3 171.3h0M282.4 164.7h0M273.5 163.9h0M291.6 175.6h0M299.7 181.2h0M301.6 182.8h0M274.3 164.5h0M294.3 175.8h0M274.4 166.1h0M291.2 170.8h0M293.9 172.7h0M304.7 181.1h0M288.3 171.8h0M294.4 176.9h0M303.9 183.8h0M299.8 178.4h0M278.2 165.2h0M285.4 166.4h0M304.1 181.3h0M292.2 174.3h0M276.8 165h0M279.1 165.7h0M281.9 164.8h0M280.5 168.6h0M288.1 168.7h0M286.8 170.1h0M290.9 172.4h0M299.1 182.6h0M284.4 166.7h0M297.8 180.1h0M291.1 177.9h0M296.4 175.4h0M280.3 164.1h0M284.9 180.3h0M286 171.4h0M290.5 177.6h0M293.2 175.4h0M281.2 163.6h0M277.9 163.7h0M279.1 164.5h0M293.4 176.4h0M289.6 168.5h0M276.8 162.2h0M304.5 182.9h0M297.1 180.9h0M290 172.2h0M276.6 168.5h0M293.4 178h0M281.8 168.7h0M277.6 168.8h0M286.5 175.3h0M274.6 163.8h0M280.1 165.8h0M277.5 164.7h0M278.2 165.4h0M282.7 166.1h0M282.2 165h0M297.1 178.5h0M297 179h0M277.8 166.3h0M297.6 178.7h0M298 182.3h0M274.3 166.4h0M273.9 167.8h0M273.8 162.6h0M302.6 184.9h0M295.8 175.1h0M280.4 167.4h0M282.4 166.4h0M274.6 165.5h0M272.3 168.4h0M289.2 170.1h0M283.8 172.3h0M304.7 183.3h0M273 167.7h0M295.3 176.2h0M292.7 173.1h0M287.7 168.9h0M298.5 179.8h0M285.2 168.7h0M286.9 170.8h0M284.6 167.7h0M281 166.1h0M290.2 174.9h0M304.8 179.3h0M302.9 183.4h0M301 180.5h0M289.5 176.3h0M288.5 171.2h0M278.7 166.4h0M287.6 166.8h0M289.2 173h0M290.6 172.9h0M300.1 184.2h0M298.4 183.3h0M302.4 181.8h0M285 170.6h0M295.7 170.8h0M289.2 177.7h0M279.7 165.1h0M294.6 178.2h0M284.6 167.7h0M280.5 163.2h0M287.4 174.4h0M293.8 191.9h0M296.7 178.3h0M280.7 167.3h0M292.5 175h0M284.8 168.8h0M279.4 164.9h0M275.2 162.6h0M286.4 167.9h0M299.9 177.5h0M300.1 179h0M283.3 168.6h0M297.7 181.5h0M303.1 181.9h0M292.7 174.9h0M295.5 174.5h0M299.5 176.3h0M296.1 181.1h0M298.4 177.6h0M304.1 181.4h0M289.3 168.9h0M291.5 173.2h0M295.5 181.5h0M296.3 178.3h0M294.9 179.5h0M293.1 175.7h0M277.9 159.5h0M286.9 171.8h0M290.2 167.2h0M299.3 178.8h0M295.3 159.7h0M279.1 165.5h0M295 177h0M297.8 179.7h0M279 167.6h0M296.4 177.1h0M300.9 184.3h0M285.4 168.3h0M292 175.7h0M284 164.1h0M296 178.1h0M299.4 175.4h0M296.2 179.8h0M296.9 180.3h0M282.8 169.1h0M287.8 170.1h0M293.4 176.7h0M288.2 174.7h0M293.4 175.3h0M290 173h0M277.6 166.6h0M290.7 175.4h0M297.3 175.5h0M282.3 167.2h0M281 164.7h0M283.1 167.5h0M290.7 168.6h0M306.2 182.2h0M304 183.6h0M284.8 168.6h0M288.3 169.1h0M294.8 176.9h0M296.6 177.3h0M282 164.5h0M283 165.2h0M297.5 181.5h0M292.4 179.5h0M296.6 175h0M292.2 177.9h0M297 175.3h0M275.4 163h0M281.5 165.7h0M295.1 178.8h0M290.4 172.4h0M284.2 164.9h0M284.7 170.3h0M305.9 181.5h0M299.9 183.7h0M280 164.3h0M292.1 175.8h0M295.4 179.4h0M284.5 161.9h0M275.9 166.3h0M294.2 173.9h0M278.7 164.2h0M303.6 179.8h0M292.1 172.1h0M302 182.1h0M292.4 170.9h0M285.7 168.6h0M284.4 169h0M302.8 180.8h0M300.6 182.2h0M278 163.5h0M281.3 164h0M299.9 183.6h0M287.8 167.7h0M304.9 183.1h0M294.2 174h0M297.8 177.2h0M277.2 163h0M284 168.9h0M296.7 179.6h0M298 179.3h0M285.6 168.9h0M279.5 163.9h0M275.4 162.2h0M302.3 185.7h0M301.7 181.5h0M295.5 175.7h0M296.3 179.5h0M290.4 167.8h0M295.9 181.9h0M299.9 184.8h0M301.9 182.5h0M288.8 161.8h0M284.7 165.9h0M304.4 183.6h0M302.8 183.9h0M290.4 176.7h0M282.7 165.6h0M301.4 179.2h0M294.2 179.2h0M280.2 166.4h0M290.7 171.8h0M302.3 178.5h0M274.8 164.6h0M281.3 162.6h0M278.9 163.3h0M281.8 164.6h0M286.2 167.8h0M284.2 160.4h0M291.5 178h0M291.3 167.5h0M290.4 170.1h0M306.3 181.7h0M304.7 181.8h0M273.1 165.5h0M295.1 173.9h0M281.3 162.3h0M274.5 163.2h0M290 172.4h0M277 165.3h0M273.6 163.4h0M300.5 181.1h0M288 170.6h0M304.2 181.6h0M303.5 179.3h0M280.1 164.7h0M287.9 171.2h0M273.5 164.6h0M276.8 163.7h0M288.2 168.5h0M290.8 175.8h0M298.8 178.9h0M286.5 170.2h0M300.2 185.3h0M288.9 178.5h0M290.9 172.3h0M288.7 168h0M275.9 166.9h0M281.9 163.9h0M275.5 163.2h0M274.4 163.5h0M302.9 183.8h0M279.4 166h0M273.6 169h0M299.4 179.8h0M299.5 182.3h0M288.5 171.5h0M281.3 171.4h0M291.9 175.8h0M299.3 175.9h0M278.8 164.7h0M301.6 182.7h0M289.5 174h0M285.7 169.8h0M287.7 168.8h0M293.7 177.3h0M280 165h0M279.9 162.8h0M293.3 172.1h0M302 182.4h0M291.6 177.3h0M268.4 174.2h0M295.7 178.1h0M298.3 179.3h0M290.4 170.9h0M283.1 167h0M296.3 179.6h0M296 182.7h0M305.6 182.4h0M293.3 177.3h0M290.5 171.4h0M297.8 174.2h0M295.7 175.3h0M286.6 170h0M277.8 167.7h0M301.7 185.4h0M279.8 170.5h0M276 165.9h0M283.1 165.7h0M285.4 173.4h0M284.4 164.5h0M292.7 175.6h0M304 173.9h0M282.3 166.5h0M274.9 164.8h0M285.2 165h0M282.2 165.1h0M291.3 178h0M302.9 179.2h0M305.2 182.8h0M302.2 185.4h0M283.6 168.8h0M296.5 179.2h0M299.6 182h0M283.8 167h0M281.4 165.4h0M289.1 167.3h0M296.8 176.3h0M293 174.3h0M293.1 176h0M299.2 180.1h0M274.1 163h0M307.6 180.7h0M290.1 175.9h0M276.3 164.8h0M301.5 181.8h0M288.3 172.6h0M289.6 170.2h0M292.9 175.2h0M292.5 176.2h0M300.4 176.2h0M296.4 180.1h0M284.7 167.9h0M297.3 178.2h0M284.7 170.7h0M284.3 165.9h0M303.3 184.3h0M289 175.7h0M287.7 171.6h0M290.5 175.9h0M292.5 174.5h0M302.3 185.8h0M295.5 176.1h0M290.8 171.6h0M321.6 210.1h0M321.6 211.6h0M316.9 203.4h0M323.1 214.2h0M321.1 206.9h0M309 192.8h0M311.1 191.1h0M309.4 194.2h0M319 210.2h0M316.8 205.3h0M310.7 193.6h0M317.7 212.1h0M313.4 205.2h0M317.7 208.8h0M319.9 213.2h0M323 214.4h0M310 190.6h0M321.4 206.5h0M324.4 213.7h0M321.6 214.4h0M308.3 189.7h0M319.3 208.4h0M317.6 204.2h0M305.3 192.5h0M320.6 201h0M321.7 213.5h0M324.4 212.2h0M316.1 200.2h0M310.6 195.9h0M310.4 189.4h0M323.1 215h0M309 189.2h0M316.9 202.5h0M315.7 200.9h0M315.9 195.1h0M309.6 194h0M324.6 210.1h0M309 193.2h0M309.5 194.4h0M322.8 212.6h0M312.4 198.9h0M318.5 206.1h0M309.1 190.3h0M309.3 192.7h0M315.2 200.3h0M325.2 213.3h0M317.4 213.8h0M308.1 193.5h0M318.8 210.2h0M313.9 197.6h0M323.6 213.6h0M315.8 203.2h0M318.5 215h0M317 197.4h0M326.1 212.5h0M320.5 210.6h0M317.2 206.7h0M319.3 206.7h0M321.1 214.2h0M309.7 192.2h0M310.2 190.7h0M322.2 203.8h0M308.9 190.9h0M313.7 195.7h0M313.5 193.1h0M314.4 195.7h0M318.1 211.7h0M322.9 211.6h0M310.3 193.2h0M322.8 210.8h0M319.1 209.7h0M314.8 199h0M317.1 199.5h0M317.7 201.7h0M316.4 204.5h0M319.9 216.5h0M320.4 204.1h0M310.9 194.7h0M316 196.8h0M308.4 196.3h0M309.1 189.5h0M312.4 194.6h0M310.6 189.1h0M317.5 201.7h0M320.9 211.6h0M319.9 205h0M323 212.9h0M319.1 203.3h0M322.5 216.3h0M318.4 206.8h0M320.3 207.9h0M310.6 194.7h0M313.6 196.3h0M319.7 206.2h0M321.6 211.3h0M316.3 194.6h0M318.6 200h0M307.7 193.7h0M311.9 199.1h0M318.2 205.8h0M322.8 216h0M306 191.8h0M319.1 207.5h0M322.8 213.3h0M316.1 201.9h0M315.7 204.8h0M320.9 215h0M319.5 210.5h0M323 214.9h0M318.2 204.1h0M319.4 207.6h0M313.2 195.8h0M314.1 200.2h0M308.4 192.5h0M318.5 206.2h0M320.1 211.5h0M316.9 199.4h0M321.3 215.2h0M310.6 195.2h0M315.4 197.3h0M315.7 202.5h0M318.6 200.5h0M323.3 215.3h0M316.9 206.7h0M316.6 206.5h0M319.7 204.6h0M325.1 215h0M320.5 213.5h0M310.9 195.2h0M308.6 190.5h0M320 204.4h0M317 211.8h0M309.5 195h0M324.6 212.6h0M320.4 208.2h0M318.9 214.9h0M324.4 214.2h0M319 214.1h0M322.9 214.9h0M307 191.4h0M315.8 197.4h0M312.8 201h0M318.5 200h0M310 197.7h0M315.5 194.3h0M318.6 215.7h0M315.8 211h0M323.3 213.4h0M314.5 200h0M322.9 215h0M319.8 211.1h0M321.6 215h0M316.8 205h0M319.5 205.2h0M308.5 190.7h0M330.2 201.7h0M317.8 202.4h0M320.2 210.7h0M309.6 188.9h0M314.3 197.8h0M321.5 208h0M316.6 202h0M311 196.3h0M322.3 214h0M320.4 207.3h0M318.5 200.6h0M317 209.5h0M314.2 197.4h0M318.2 208h0M317.5 212.4h0M309.6 196.9h0M319.4 211.9h0M324.7 215.3h0M320.5 215.9h0M325.2 212.1h0M318.2 212.9h0M322.6 215.9h0M316.8 203.1h0M320.2 209.8h0M316 212.8h0M312.2 190.1h0M317.7 209.3h0M317.2 208.8h0M307.3 192.4h0M310.5 194.9h0M312.5 215.1h0M319.5 214.6h0M316.4 205.4h0M309.5 196h0M319.3 209.1h0M322 204.2h0M306.3 191.6h0M322.7 215.4h0M320.4 203.5h0M314.9 198.6h0M321.1 215.7h0M316.1 200.6h0M317.1 202.6h0M315.9 213.7h0M314.5 199.8h0M311.8 199.8h0M307.8 190h0M319.7 205.1h0M318.9 204.7h0M325.6 212.8h0M314.7 200.1h0M320.7 209.9h0M309.9 196.7h0M311.7 195.7h0M312.8 193.4h0M315.6 198.5h0M320.4 208.5h0M316.1 207.5h0M317.7 199.6h0M318 197.5h0M316.7 207.3h0M314.2 195.4h0M333.6 211.5h0M310.2 191.1h0M322.6 214.7h0M309.4 196.3h0M317.2 207.2h0M313.4 197.5h0M316.3 196.7h0M309.7 197h0M317.5 205.5h0M320.5 209.2h0M318.2 209.6h0M316.8 208.2h0M320.2 212.4h0M313.6 196.6h0M309.7 195h0M319.9 215.5h0M317.2 202.4h0M316.9 199.9h0M316.1 214h0M313.7 197.8h0M308.3 193.5h0M310.3 191.1h0M322.7 213h0M310 197.6h0M322.8 215.8h0M318.1 211.1h0M322.3 215.7h0M321.3 215.8h0M317.1 208.4h0M319 198.4h0M315.2 211.2h0M322.8 215.7h0M321.6 215.8h0M306.1 192.1h0M311.9 195.4h0M311 200.1h0M320.5 205.5h0M322.8 212.6h0M318.6 209h0M316.9 205.8h0M313.8 204.6h0M315.1 197.3h0M319.9 212.7h0M316.7 205.5h0M318.1 210.7h0M321.9 209.6h0M321.2 200.4h0M316.5 200.3h0M310.4 197.6h0M319.7 203.1h0M308.1 194.9h0M311.3 197.6h0M326 213.2h0M315.5 200.9h0M309.6 191h0M322.8 212.1h0M311.2 192.3h0M312.6 198.8h0M311.7 198.9h0M310.2 195.3h0M320.3 213.9h0M315.3 199h0M319.1 206.3h0M318.7 210h0M319.2 207.1h0M320.4 205.5h0M320.2 213.2h0M320.5 209.5h0M311.9 191.7h0M319.9 210.8h0M316.8 204.6h0M310.8 196.7h0M313.5 194.5h0M315.3 206.6h0M313.1 197.2h0M315 203.3h0M313.9 205h0M323.6 198h0M308.5 190.3h0M318.5 205.5h0M318 207h0M317.8 202h0M319.8 209.6h0M317.4 205.6h0M315.1 201.9h0M309.7 190h0M313 189.3h0M306.3 193.8h0M317.5 205h0M307 193.1h0M305.3 193.3h0M310.2 193.9h0M318 199.4h0M310 192.7h0M315.1 197.7h0M316 203.5h0M319.6 205.1h0M313.3 196.2h0M312.9 191.7h0M310.7 198.2h0M308.9 196.5h0M314.1 202.7h0M308.7 194.9h0M322.4 213.1h0M310.5 192.9h0M315 197.3h0M310.3 192.6h0M319.5 212h0M309.2 190h0M316.6 206.9h0M319.3 210.8h0M308 189.7h0M314.9 206.6h0M318.2 195.3h0M309.5 190.1h0M308.3 195h0M310.6 189.5h0M320.5 207.5h0M308.8 190.9h0M321.2 216.8h0M322.2 211.3h0M320.4 205.1h0M318.7 204.9h0M307.8 190.1h0M320.7 209.9h0M314.8 196.5h0M322.7 215.6h0M313.8 198.9h0M321 204.4h0M309.1 194.7h0M308.3 191.1h0M316 207.3h0M320.7 205.3h0M326 199.3h0M318.7 202.7h0M310.9 190.4h0M308.9 190.3h0M322.3 214.1h0M305.8 191.7h0M309.1 190h0M318.3 212.5h0M313.7 201h0M318.8 205.8h0M321.2 207.4h0M311.5 195.5h0M320.1 201.4h0M308.6 192.9h0M307.4 192.3h0M307.6 192.5h0M314.5 202.8h0M323.7 214.2h0M310.2 195.6h0M319.2 212.2h0M310.7 199.6h0M310.5 192.3h0M312.8 193.1h0M321.8 212.1h0M319.8 209h0M315 199h0M311.3 192.7h0M324.3 215.5h0M318.5 200.6h0M320.5 212.8h0M317.3 203.7h0M307.9 192.2h0M320.5 206.1h0M307.4 195.2h0M309.4 196.4h0M308.2 197.7h0M318.3 200.6h0M306.3 192.8h0M313.8 197.3h0M321.2 214.5h0M317.1 208.7h0M308.1 190.2h0M320 212h0M322.2 211.4h0M318.1 198.4h0M310.3 191.6h0M311.2 198.2h0M317.2 198.7h0M308.9 191.4h0M314.4 196.5h0M319.8 211.4h0M317.2 209h0M318.4 203.5h0M309.6 190.9h0M308.4 193.9h0M318 210.2h0M315.9 198.3h0M315.6 213.1h0M323.2 200.3h0M315.7 199.7h0M318.7 204.7h0M313.9 201.6h0M323.7 208.5h0M317.6 196.8h0M314.1 200.4h0M310.4 188.2h0M320.1 215.3h0M317.1 199.1h0M318 201h0M312.2 196h0M320.2 206.3h0M308.9 198.2h0M322.1 212.6h0M317.3 202h0M324.6 213.6h0M317.7 211.5h0M313.3 194.3h0M320 201.3h0M320 206.4h0M320.8 211.2h0M310.4 194.5h0M316.3 211.3h0M308.7 189.1h0M308.3 189.8h0M315 199.9h0M317.2 207.8h0M317.5 195.7h0M318.8 205.1h0M308.6 190.9h0M316.7 198.5h0M321 213.5h0M322.9 209.4h0M321.5 215.8h0M316.4 195.7h0M321.2 203.7h0M321.3 216.3h0M314.9 196.3h0M317.6 196.2h0M309.2 190.6h0M322.6 212.4h0M319.4 202.3h0M315.1 212.4h0M316.6 215.2h0M310.1 193.7h0M310.5 198.4h0M320.2 216.4h0M322.3 211.9h0M321.1 205.2h0M317.5 212.3h0M315.4 199.5h0M316.1 199.4h0M319.4 212.1h0M308.1 195.5h0M318.5 205.5h0M317.7 207.1h0M320.9 207.5h0M308.2 197.4h0M322.4 207.5h0M316 199.3h0M317 204.8h0M318 206h0M322.3 212.4h0M309.2 198.8h0M315.2 195.8h0M318.2 207.1h0M308.1 196.7h0M322.8 213.1h0M327.8 237.3h0M329.3 225.1h0M331.9 245.2h0M329.5 243.9h0M328.7 233h0M327.8 225.5h0M326.7 226.3h0M329 245.7h0M328.5 237h0M328.8 247.3h0M328.4 236.2h0M327 224.3h0M327.4 232.7h0M327.8 250.8h0M328.2 232.2h0M328.5 240.7h0M328.9 238.4h0M326.1 226.8h0M330.3 235.8h0M330.6 244.5h0M327.8 227.4h0M328.9 234.8h0M329.2 239.5h0M329.6 243.2h0M328.9 243.4h0M331.2 242.4h0M328.1 234.3h0M326.9 226.8h0M325.7 237.1h0M330.4 242.9h0M330.1 245.8h0M326.9 226.6h0M328 251h0M328.4 234.8h0M324.9 231.2h0M329.4 251h0M328.4 248.1h0M328.6 233.1h0M332.7 238.3h0M329.8 242.9h0M324.9 226.1h0M325 231.3h0M330.1 236.9h0M325.9 236.5h0M319.4 236.1h0M322.6 250.9h0M330.9 250.2h0M326.3 226.6h0M326.7 236.8h0M328.8 236.4h0M328.4 247.4h0M332.2 245.2h0M326.9 234.2h0M329.9 242h0M333.8 240.6h0M327.1 233.8h0M333.5 244.7h0M326.8 241.7h0M328.4 230.5h0M330.1 236.7h0M330.3 230.4h0M328 222.5h0M326.4 223.3h0M330 247.1h0M326 235.1h0M329.9 250.9h0M326 223.3h0M328.9 238.4h0M328.2 240.6h0M327.3 248.9h0M329.1 243.3h0M333.7 246.2h0M329.3 242h0M330.2 244.6h0M322.8 233.1h0M326.5 228.8h0M327.1 233.1h0M329.1 240.2h0M328.7 223.7h0M324.2 233h0M324.4 226.9h0M329.2 232h0M330.3 248.9h0M327.4 226.1h0M328.8 235.7h0M325.6 227.7h0M327.3 223.8h0M330.4 243.2h0M331.4 244.8h0M325.8 246.4h0M327.8 226.3h0M327.7 233.3h0M325.6 225.4h0M328.5 229.6h0M332 249.8h0M327 229.4h0M324.8 234.8h0M323.7 228.9h0M324.9 233.5h0M331.5 239.2h0M329.9 240.3h0M327.8 239.9h0M328.6 231.4h0M327.7 235.2h0M327.8 230.2h0M327.8 249.1h0M329.8 227h0M328 243.1h0M331.2 239.9h0M327 234.2h0M330.2 236.7h0M329.9 241.5h0M328.5 236.4h0M329.7 240.3h0M326.7 223.5h0M329.5 238h0M325.8 234.6h0M327.3 227.4h0M328.6 238.7h0M329.2 250h0M328.2 245.2h0M326.2 225.5h0M327 232h0M325.9 234.1h0M327 224.9h0M339.1 236.6h0M327.4 236h0M337.6 247.1h0M328.1 246.1h0M331.9 245.1h0M330.2 247.2h0M330.1 235.2h0M327.9 237.4h0M330.5 241.9h0M328.4 246.5h0M327.9 225.6h0M325 236.2h0M326.2 233.2h0M327.6 247.6h0M325.9 222.5h0M322.1 224.4h0M325.6 235.1h0M327.7 249.6h0M326.1 230.6h0M322.6 229.8h0M323.6 232.5h0M329.4 235.6h0M332.5 245.5h0M330.6 235.5h0M323.5 224.9h0M324.6 234.1h0M331.9 240.4h0M331.1 242.9h0M329.9 238.6h0M326.7 241.3h0M329.3 248.5h0M333 247.7h0M326.4 232.8h0M325.1 232.9h0M331.3 246.3h0M328.6 250.3h0M325.5 232.9h0M335.4 245.3h0M328.2 228.1h0M324 224.5h0M327.2 225h0M334.1 224.2h0M326.8 224.8h0M329.7 244.4h0M327 234.8h0M329.5 247h0M324.8 250.2h0M325.2 233.2h0M327.7 223.9h0M326.9 230.7h0M325.6 229.7h0M329.5 246.3h0M329.4 233.4h0M325.2 230.7h0M326 225.2h0M329.3 237.4h0M327.7 249.2h0M329 225.6h0M328.9 247.2h0M325.8 244.2h0M326.9 231.6h0M330.9 243.8h0M330 247.4h0M332.4 245.6h0M328.4 237.9h0M323.8 228.5h0M330.1 241.5h0M328.8 241.6h0M323.8 233.8h0M332.2 246.4h0M326.2 248.2h0M327.7 234.4h0M326.6 232h0M329 231.4h0M327.8 238.3h0M325.9 238.4h0M331 248.9h0M328.2 249.5h0M327.9 249.1h0M327.5 223.5h0M326 225h0M330.7 242.7h0M329.9 240.5h0M327.3 233.5h0M324.9 232.8h0M326.4 228.8h0M327.6 236.3h0M325.8 228.2h0M333.1 245.5h0M325 232.1h0M328.2 230.7h0M326.9 234.4h0M331.3 242.7h0M328.9 236.6h0M327.2 234.7h0M330.1 248.1h0M329 240.7h0M326.5 231.9h0M327.7 230.6h0M325.9 229.5h0M325.6 231.7h0M324.3 223.1h0M329.1 243.2h0M327.6 230.7h0M325.5 247.9h0M328.1 249h0M326.2 231.3h0M323.7 226.3h0M326.9 236.7h0M328 236.9h0M325.7 231.8h0M326.1 243.5h0M327.5 223.2h0M332.3 241.9h0M328.6 247.5h0M328.3 239.4h0M326.5 232.6h0M332.4 245.5h0M327.8 229.8h0M328 248.2h0M324.6 234.6h0M328 230.8h0M330 221.9h0M329.4 238.5h0M331.3 223.9h0M330.8 245.1h0M327 236.4h0M326.8 225.8h0M327.4 243.1h0M327.7 224.1h0M328.8 240.4h0M333.3 248.8h0M330.5 247.5h0M331.9 240.4h0M329.8 229.9h0M328.3 233.5h0M329 238.4h0M325 235.4h0M327.6 250.5h0M328.4 233.5h0M327.4 235.8h0M324.3 231.4h0M328.6 239.6h0M334.4 247.5h0M319.5 226.3h0M325.3 222.4h0M326.7 240.8h0M326.4 240.6h0M330.8 244.5h0M326.9 230.5h0M326 230.4h0M327.1 230h0M324.6 236h0M330 229.8h0M331.5 250.6h0M327.9 230.1h0M327.2 224.1h0M322 232.1h0M336.1 240.7h0M334.8 240.8h0M325 231.2h0M327 227.7h0M328.6 227.6h0M328.1 235.1h0M328.4 225.9h0M330.2 249.5h0M327.7 223.1h0M325.2 228.5h0M324.9 233.5h0M326.6 222.1h0M332.3 236.6h0M328.7 248.6h0M326.3 238.1h0M328.6 238.8h0M328.2 250.8h0M327 226.9h0M323.6 234.1h0M325.2 237.9h0M326.8 227.2h0M334.3 245.5h0M329 247.2h0M325.4 226.5h0M327.7 235.4h0M327.2 230.8h0M322.2 228.9h0M325.5 234.1h0M325.1 232.5h0M328.2 232.3h0M330.8 246.2h0M329.7 227.7h0M330.1 247.9h0M328.4 238.8h0M329.6 249.1h0M329.7 246.3h0M329.8 248.9h0M327.5 248.7h0M331.4 242.2h0M323 234.6h0M326.3 230.5h0M324.1 228.3h0M325.9 230.6h0M326.3 229.3h0M325.5 238.2h0M327.8 247.4h0M329.1 222.8h0M330.5 246.8h0M329.5 228h0M331 232.2h0M324 228.4h0M328.4 230.6h0M325.4 225.2h0M328.6 237.5h0M327.7 237h0M324.7 226.5h0M331.5 236.3h0M326.4 225.2h0M328.7 243.3h0M327.8 240.8h0M328.4 238.2h0M327.1 241.2h0M332 245.6h0M326.4 237.8h0M324.3 228.8h0M327.9 224.9h0M326.7 228.8h0M327.7 243h0M327.7 240.2h0M327 231.5h0M331.5 247.8h0M329.3 224.8h0M333.9 244.3h0M323.8 229.2h0M326.9 234.1h0M328.3 237.7h0M329.9 239.2h0M329.6 244.2h0M326.6 234.5h0M328.8 250.8h0M328.5 251.1h0M329.1 221.6h0M326.9 234.5h0M326.1 223.1h0M330.2 245.1h0M331.7 244.3h0M328 222.8h0M327.9 244.1h0M324.8 231.2h0M327.6 226h0M323.2 235.4h0M327.3 248.7h0M323.7 224.8h0M333.4 244.1h0M332.3 236.2h0M328.8 240.2h0M326.5 230.1h0M326.8 224h0M333.3 236.9h0M330.5 247.4h0M324.7 222.9h0M326.6 222.6h0M328.8 243h0M327.2 236.4h0M328.6 248.1h0M329.6 236.3h0M327.5 248.8h0M327.1 234.5h0M327.7 231.7h0M329.5 227h0M327.3 230.9h0M328.7 231.3h0M327.9 224.8h0M328.3 227.9h0M327.1 230.2h0M329.9 228.4h0M335.8 241.4h0M330.9 243h0M329.7 250.8h0M326.6 231.6h0M330.9 243.8h0M331.5 247.3h0M325.8 223h0M324.1 228.4h0M328.9 237.7h0M333.4 237.4h0M327.9 227.7h0M327 228.2h0M332.4 239.3h0M327.5 230.8h0M331.7 230.4h0M330.2 238.6h0M331.5 244.3h0M325.7 233.2h0M329.4 224.8h0M324.6 232.2h0M329.1 221.8h0M331.9 241.9h0M326.9 241.3h0M326.8 233.2h0M325.7 245h0M325.1 238.5h0M327.6 231.3h0M330.5 236.7h0M327.4 235.1h0M327.2 237.1h0M329.3 237.4h0M328.4 235h0M325.7 228.5h0M329.6 246h0M325.9 230.8h0M323.7 229.9h0M330.7 240.5h0M339 238.9h0M329.6 242.5h0M328.2 233.4h0M327.2 233.5h0M325.4 249.2h0M325.2 223.2h0M328.3 228.9h0M327.7 235.1h0M327.3 229h0M326.6 222h0M327.9 232.9h0M327 236.9h0M326.9 234.5h0M328.8 241.8h0M327.8 223.7h0M330.4 245.3h0M327.1 222.7h0M329.3 246.7h0M333.2 243.3h0M331.5 247h0M329.9 271.5h0M325.6 269.3h0M327.3 269.2h0M333.2 260.1h0M322.6 279.7h0M324.7 282h0M329.6 260.1h0M326.4 284.9h0M329.5 258.7h0M328.4 276.4h0M336.2 281.4h0M329 261h0M324.3 281.8h0M327.5 282.8h0M325.4 279.8h0M329.8 266.4h0M324.5 283.6h0M327 270.9h0M324.5 282.8h0M322.1 278.3h0M324.4 276h0M325.5 272.8h0M326.6 269.3h0M325 281.6h0M327.2 284.7h0M326.5 264.5h0M326.5 269.4h0M325.4 283.6h0M329.1 268.2h0M328 276.1h0M325 265.2h0M330.8 278.8h0M325 281.7h0M321.6 282.9h0M329.5 275.3h0M323 284.5h0M326.2 265.2h0M322.8 267.8h0M328.3 277.9h0M328.2 268.3h0M322.8 271.3h0M332.4 260.3h0M330.1 275.4h0M330.4 277.8h0M330.5 259.9h0M326.8 280.6h0M331.6 261.6h0M331.2 270.9h0M327.8 282.1h0M328.5 266.2h0M330.1 261.3h0M328.9 285.7h0M324.7 280h0M328.8 271.3h0M325.2 281.3h0M328.2 260.5h0M330.1 278h0M324.7 281.2h0M329.9 262.2h0M329.2 277.2h0M324.3 276.5h0M323.5 282.3h0M329.3 273h0M326.1 266.1h0M326.6 270.2h0M327.7 265.8h0M321.8 281.3h0M327.1 277.5h0M332.1 266.6h0M326.6 279.7h0M326.5 263.5h0M325.5 266h0M324.3 271.1h0M330.5 263.6h0M335.5 267.8h0M328.3 264.2h0M331.4 260.7h0M325 271.6h0M325.8 269.7h0M326.4 279.9h0M330 260.7h0M324 280.8h0M324 268.5h0M325.6 281h0M328.4 278.4h0M328.6 280h0M325.8 270.9h0M327.3 266.2h0M329.2 271h0M326.9 280.5h0M330.6 260.1h0M330 268.2h0M326.3 273.8h0M321.3 284.2h0M314.2 278.7h0M328.6 281.2h0M321.6 284.3h0M326.8 271.7h0M329.9 269h0M329 277.5h0M328.5 262.7h0M329.6 258.5h0M325.5 282.5h0M326.8 263.8h0M325.6 273.3h0M327.6 262.3h0M327.8 266.2h0M330.2 264.7h0M323.7 283.9h0M326.4 283.7h0M329.4 269.6h0M325.4 282.5h0M329.1 264.8h0M325 279.3h0M330.5 262.7h0M318.2 272.6h0M327.8 258.6h0M326.6 273.3h0M327 266.9h0M323.9 284.7h0M330.8 261.6h0M316.2 281.1h0M325.3 271.3h0M327.9 271.5h0M325.4 279.7h0M324.8 282.3h0M327.4 271.8h0M325.4 282.8h0M322.4 283.2h0M323.5 268.8h0M329.4 265.2h0M327.8 273.8h0M326.4 272.4h0M328.2 261.8h0M324.6 282.1h0M322.4 279.9h0M330.9 261.7h0M328.9 271.6h0M325.9 280h0M327.5 279.3h0M326.3 277.7h0M323.7 283h0M327.2 268.6h0M323.9 273.1h0M327.9 258.6h0M331.7 269.4h0M326.1 263.1h0M327.4 265.4h0M327.6 259.8h0M325 280.3h0M331.1 261.7h0M329.9 263.9h0M321.7 268.4h0M327.2 277.9h0M323.8 282.7h0M325.1 278h0M327.6 265.7h0M327.8 270.1h0M328.7 268.8h0M328 277.7h0M327.4 269.7h0M328.1 275.4h0M327.8 270.5h0M327.7 282.1h0M327.8 269.8h0M324.8 263.2h0M326.2 285.8h0M327.1 266.5h0M325.6 268.7h0M326.2 285.9h0M323.5 283.6h0M329.1 270.1h0M327.3 270.3h0M325.6 279.1h0M323.9 272.1h0M324.7 282.4h0M325.5 280.3h0M326.1 282.1h0M328.7 264.5h0M328.2 265.7h0M325 267.5h0M329.3 264.7h0M326.7 264.2h0M326.6 279h0M327.4 278.5h0M326.6 270.5h0M324.9 275.6h0M330 260.3h0M323.6 281.5h0M329.3 274.4h0M321.4 283.2h0M327.4 264.7h0M327.6 266.1h0M330.9 264.8h0M327.1 278.6h0M325.7 281h0M326.2 263.7h0M327.4 270.5h0M330.3 265.3h0M331 261.6h0M328.5 267.1h0M326.3 267.5h0M332.2 259.4h0M326.5 263.1h0M327.7 269.4h0M328.9 270.6h0M330.5 259.9h0M326.4 278.7h0M328.4 271.1h0M325.1 281.7h0M327.7 263h0M325.1 267.6h0M333.2 258.4h0M330.2 283.9h0M325.8 274.7h0M332.7 261.7h0M324.5 285.1h0M326.1 266h0M328.1 261.8h0M327.1 281.2h0M325.5 273.6h0M326.1 281.8h0M335.9 267.8h0M324.6 267.5h0M325.8 276.3h0M329.1 258.6h0M332.1 260.8h0M327.8 274.9h0M327.1 266.4h0M328.7 270.7h0M336.4 273.2h0M326.8 279.8h0M319.2 269h0M328.9 276.8h0M323.3 283.1h0M329 263.1h0M331.3 260.1h0M328 269h0M322.2 282.9h0M331.8 259.2h0M332.7 276.3h0M344.7 279.8h0M323.6 284.3h0M330.7 262.3h0M329.4 257.9h0M326.5 281.3h0M322 280.9h0M324.7 279.5h0M321.2 282.9h0M325.3 276.5h0M322.4 281.2h0M331.2 267.8h0M329.8 269.3h0M322.8 282.4h0M328.5 268.1h0M323.3 279.3h0M314.1 280.4h0M326.7 278.1h0M326.6 274.5h0M333.6 261.3h0M331.3 261.1h0M325.5 272.5h0M327.9 284.5h0M328.6 269h0M327.5 272.7h0M332.8 262.8h0M323.8 282h0M327.1 278.9h0M328.4 275.6h0M329.8 263.4h0M327.8 260.6h0M329 260.6h0M326.4 277h0M331.4 275.5h0M325.2 273.2h0M331.3 262h0M328.3 276h0M330.6 259.9h0M327.9 269.5h0M323 283.7h0M326.8 277h0M326.2 264.6h0M326.8 272.8h0M326.4 280h0M326.7 268.2h0M327.9 259.3h0M326.7 270.6h0M325.7 283.9h0M325.7 273.3h0M331 258.6h0M328 272.5h0M330 280.6h0M330.9 262.2h0M327 283.5h0M334.1 267.7h0M327 273.7h0M331 275.4h0M323.2 278.1h0M326.3 275.9h0M332.9 288h0M322.6 263.6h0M327.5 273.8h0M328.3 268.7h0M326.6 279.3h0M329 267h0M326.7 278.8h0M325.1 277.8h0M324.1 285.1h0M328.3 269.3h0M323.8 284.4h0M327.3 263.4h0M328.3 275.1h0M324 265.3h0M325.3 265.2h0M328.8 268h0M328.8 277.4h0M325.8 265.2h0M331.4 264.9h0M329.8 261.9h0M329.8 279.5h0M321.4 267.1h0M326 270.8h0M328.7 270.4h0M324.4 283.9h0M326.8 282.2h0M324.2 283.9h0M328.2 267h0M330.5 259.7h0M326.9 277.9h0M328.1 266.4h0M321.9 283.9h0M327.2 282.2h0M324.1 279.6h0M326.9 280.1h0M327.9 262.3h0M329.3 275.3h0M326.5 263.4h0M329.8 262.5h0M328.3 265h0M325.6 266.1h0M330.1 260h0M325 279h0M324.4 265.2h0M324.7 269.8h0M326.2 283.6h0M326.3 282.2h0M325.6 278.4h0M326.8 258.5h0M325.3 270.5h0M328.5 274.3h0M326.3 269.9h0M323.9 276.3h0M326.3 274.2h0M329.8 285.8h0M324.1 269.6h0M327.5 263.8h0M325.8 273.1h0M330.1 263.7h0M325.9 283.2h0M326.7 274.3h0M331.3 258.1h0M329.9 266.9h0M326.1 265.4h0M327.2 260h0M328.7 283.6h0M324.6 270h0M326 264.4h0M329.4 264.4h0M323.9 285h0M327.6 279.1h0M325.4 284.9h0M327.4 268.3h0M327.6 280.9h0M330.6 264.1h0M322.8 270.5h0M329.4 260.9h0M326.1 266.2h0M324.6 279.9h0M326 272.8h0M326.7 265.6h0M331.3 260.6h0M328.6 274.2h0M324.3 283.6h0M324.6 282h0M325.6 273h0M326.1 276.7h0M326.8 266.3h0M322.9 284.3h0M324.5 276.5h0M330.3 260h0M326.3 265.9h0M326.7 272.4h0M327.1 278.7h0M330.8 266h0M326 261.9h0M321.4 274.6h0M324 281.7h0M323.8 284.8h0M325.2 275h0M325.9 285.2h0M327.7 275.6h0M326.2 274.8h0M326.7 281h0M327.3 274.3h0M324.6 273.3h0M330.5 278.4h0M330.9 278.3h0M326.2 274.1h0M328.3 275.1h0M329.3 278.7h0M325.4 281.7h0M327.1 270.4h0M332.2 262.5h0M327.9 283.1h0M325.6 277.9h0M322.1 271.1h0M330.6 258.2h0M324.6 280.1h0M332 259h0M326.8 259.4h0M327.3 271.5h0M323 284.3h0M322.9 278.1h0M325.1 267.2h0M322 283.7h0M327.1 277.9h0M328.7 268h0M326 266.8h0M327.3 258.9h0M326.4 270h0M318.1 290.6h0M320 292.7h0M322 296.9h0M308.9 308.4h0M307.3 310.3h0M314.6 298.9h0M318.9 295h0M309.8 312.5h0M321.7 297.1h0M309.4 304.9h0M318.8 299.4h0M320 292.1h0M315.4 303.1h0M312.7 308.1h0M310.1 310h0M312.8 304.1h0M307.9 307.1h0M313.4 298.8h0M322.9 294.3h0M317 301h0M318.9 299.8h0M317.1 299.5h0M311.3 308.1h0M315.9 306.9h0M317.1 301.9h0M317.8 295.8h0M318.1 296.3h0M311.6 299.9h0M323.8 296.5h0M310.4 312.4h0M318.1 290.8h0M309.9 305.6h0M320 294.8h0M316.1 303h0M319.1 290.4h0M322.6 295.5h0M309.9 298h0M319.6 300.6h0M310.5 308.5h0M312.8 315.3h0M308.2 313.4h0M311 306.6h0M312.3 301.8h0M312.5 304h0M311.3 301.7h0M318.6 298.9h0M317.8 296.2h0M316.2 298.3h0M313 302.5h0M317.2 298.7h0M323.5 304.7h0M307.9 312.9h0M317.6 290.7h0M312.3 313.2h0M318.1 300.1h0M313.3 304.1h0M309.2 312.1h0M312.3 302.6h0M321.4 300.2h0M309.8 300.2h0M309.4 312.5h0M315.2 299.3h0M322 296.4h0M309.9 314.3h0M316 300.8h0M318.8 291.1h0M316.2 302.9h0M316.4 302.1h0M312.6 306.4h0M310.3 312.1h0M309.8 308.3h0M318.8 296.8h0M319.6 295.2h0M312.2 307.4h0M321.8 298.5h0M322.6 293.2h0M310.2 309.7h0M317.3 299h0M309.7 306.2h0M312.7 303.8h0M309.3 306.9h0M310 313.1h0M314.1 302.5h0M312.5 308.4h0M318.2 303.7h0M317.5 294.6h0M321 293.1h0M312.3 306.1h0M319.7 291h0M320.2 292.7h0M313 304.2h0M319.2 297.5h0M319.3 295h0M319.3 291.4h0M309.8 311.6h0M322.1 294.7h0M312.9 305.5h0M312 309.9h0M316.9 293h0M321.4 297.8h0M308.5 307.4h0M316.8 302.8h0M310.5 308.2h0M318 299.3h0M314.3 288.4h0M310.4 307.7h0M313.5 306.5h0M305.7 311.3h0M314.8 301.7h0M308.1 306.1h0M313 303.8h0M308.2 310.6h0M322.1 295h0M311.7 309.4h0M320.8 291.8h0M312.4 305.3h0M310.2 310.5h0M311.8 305.4h0M319.6 295.3h0M309.7 314.6h0M320.8 303.9h0M318.2 299.5h0M317.2 295.4h0M321.4 298.9h0M318.7 296.5h0M315.6 303.5h0M316.9 295.2h0M313.6 304.1h0M318.5 299h0M304.6 310.4h0M311.7 308.4h0M321.2 294.8h0M319.8 308.1h0M316.7 297h0M318.9 302.7h0M313.1 305.4h0M314.5 302.4h0M317.8 291.6h0M310.3 309.6h0M310.7 311.9h0M310.9 308.2h0M317.3 301.8h0M320 297.6h0M332.8 300.1h0M313.1 305h0M316.2 302.8h0M308.9 307h0M314.5 307.6h0M308.8 306.8h0M318.4 298.9h0M318.1 295.4h0M317.2 302.8h0M315 302.3h0M316.1 294.5h0M312 305.6h0M307 312.5h0M316.8 295.7h0M319.8 298.7h0M321.1 300.9h0M309.3 306.2h0M317.4 295.2h0M316.8 296h0M312.2 313.2h0M306.6 304.8h0M310.5 304.6h0M321.5 299.1h0M312.7 304h0M314.3 301.3h0M319.6 293.9h0M312.5 306.3h0M320.8 294.6h0M314.9 298.1h0M310.6 312.6h0M321.9 294h0M312.1 303.8h0M317.1 289.6h0M317.1 298.2h0M312.3 313.1h0M312.4 309.5h0M317.8 299.2h0M312.6 309h0M320.4 297h0M311.1 306.8h0M321.6 295.1h0M321.4 291.9h0M306.8 306.7h0M322.1 293.4h0M313.9 316.9h0M308.1 306.9h0M307.7 312.8h0M318.5 296.6h0M317 297.3h0M315.2 302.5h0M311.9 305.9h0M310.1 311.3h0M315.6 302.9h0M321.9 296.2h0M308.2 312.5h0M321.8 294h0M308.6 313.5h0M312.8 303.1h0M316.6 301.9h0M311.6 300.6h0M310.9 304h0M310.1 308.7h0M311.1 306h0M316.6 296.6h0M312.6 304.5h0M314.7 296.6h0M311.9 303.7h0M313.3 306h0M319.3 295.9h0M321.4 293.5h0M316 301.6h0M318.1 291.1h0M315.7 296.7h0M317.3 299.6h0M316.3 298h0M320.8 297.1h0M308.6 309.7h0M315.3 300.4h0M318.6 293.1h0M308.9 314.2h0M308.8 304.8h0M319.1 298.8h0M311 300.2h0M312.1 311.3h0M311.6 301h0M308.8 307.1h0M320.8 293.8h0M320.7 291.4h0M314.6 302.7h0M322.8 294.6h0M319.6 300.8h0M322.4 298h0M309.6 305.1h0M311 314.6h0M314.7 297.9h0M322.9 292.2h0M319.3 294.7h0M313.1 303.2h0M318.4 299.2h0M308.3 309.8h0M309.3 311.8h0M308.8 305.9h0M320.5 300.6h0M319.5 292.8h0M311.4 307h0M312.2 313.9h0M314.5 301.4h0M317.1 298.6h0M311 310.8h0M318.1 298.2h0M310.1 305.1h0M309.5 309.7h0M313.8 310.2h0M321.7 295.5h0M306.1 306.3h0M319.1 296.1h0M318.7 296.1h0M319.4 292.1h0M309.3 305.6h0M307.5 312.6h0M318.1 296.8h0M309.1 311.4h0M311.7 306.1h0M321.6 298.6h0M310.7 311.5h0M320.7 297.5h0M319.6 296.4h0M318.2 303h0M310.9 309.5h0M310.9 313.1h0M317.3 296.6h0M321.7 298.6h0M314.2 300.9h0M313.6 304h0M310.4 309.1h0M312.9 315.1h0M307.9 309.4h0M316.1 297.3h0M310 307.2h0M318.6 295.2h0M311.5 305.7h0M320.7 299.8h0M330.3 303.4h0M311.4 314h0M308.4 311.9h0M308.3 313h0M317.6 299.2h0M321 298.6h0M317 300.4h0M306.7 296h0M309.7 310h0M319 295.3h0M315.2 305.2h0M319.8 294.2h0M312.6 307.5h0M320.1 296h0M320.3 300.9h0M312.7 313h0M324.5 293.9h0M314 303.9h0M321 302.9h0M315 298.2h0M319.8 299h0M314.6 308.3h0M320.2 294.7h0M311.5 305.8h0M319 295.6h0M323 294.1h0M311.8 310.5h0M318.3 304.1h0M315.1 300.6h0M320.5 297.2h0M321.1 292.1h0M308.2 313.3h0M319.6 296.9h0M319.8 303.1h0M318.9 300.5h0M322.3 296.4h0M311.5 309.4h0M308.6 310.3h0M313.6 301.2h0M314.1 299.3h0M313.7 300.3h0M320.3 295.5h0M311.4 306.3h0M313.4 301.3h0M311.4 307.1h0M319 295.5h0M319.3 295.2h0M318.1 301.7h0M317.3 301.6h0M310.9 315.4h0M311.7 305.6h0M318.7 301.1h0M312.2 305.9h0M315.6 302h0M320.7 297.5h0M317.4 303h0M308.8 306.8h0M310 305h0M307.6 312.8h0M311.4 308.1h0M312.3 303.1h0M308.2 313.3h0M306.4 311.7h0M309.3 310.5h0M309.4 314.7h0M321.9 294.9h0M317.6 303.4h0M319.3 295.6h0M320.3 291.2h0M315 302.6h0M311.4 299.8h0M310.4 309.5h0M309.8 310.3h0M307.3 313.5h0M319.6 295.1h0M307.3 312.1h0M314.2 304.4h0M320.8 294.3h0M310.7 314.3h0M319.7 291.9h0M312 306.1h0M311.5 303.5h0M318.2 294.7h0M320.3 293.8h0M312.4 302.9h0M312.8 309.5h0M313.2 304h0M301.9 304.1h0M307.9 307.4h0M325 303.1h0M309.2 310.2h0M311.6 313.8h0M318.1 302.2h0M314.8 304.6h0M311.2 310.7h0M316.2 301.5h0M310.7 305.9h0M310.8 310.8h0M320.2 292.9h0M317.6 298.4h0M308.9 307.3h0M309.9 312.1h0M311.5 308h0M322 296.9h0M320.6 293.3h0M315.6 301.7h0M310.9 304.5h0M320.1 292.9h0M314.7 300.6h0M310.7 305.4h0M313.1 302.4h0M318.7 299.3h0M317 298.1h0M319.9 294.3h0M314.5 305h0M322.8 292.6h0M312.2 309.3h0M315.8 299.5h0M319.4 290.6h0M318.9 290.7h0M314.5 301.1h0M319.7 292.3h0M295.5 327.7h0M297.6 325.5h0M288.1 331.6h0M301.8 318.1h0M292.1 328.4h0M298 318.6h0M298.6 321.2h0M295.2 327.1h0M283.5 331.1h0M287.7 334.2h0M298.5 322.2h0M295.7 330.8h0M296.9 326.3h0M294.1 325.2h0M305.1 341.5h0M292.3 329.3h0M301.6 326.6h0M292.2 337.9h0M291.5 324.2h0M302.4 319.5h0M293 329h0M291.1 332.1h0M303 319.4h0M297.6 323.2h0M298 318.3h0M286 333.1h0M298.9 320.3h0M297.5 323.3h0M294.8 324.8h0M289.5 329.1h0M287.9 331.8h0M300 322h0M285.9 332.3h0M286.7 332.8h0M285.2 333.7h0M297.9 324.9h0M294.1 324.7h0M299 319.9h0M294.4 325.8h0M294.3 328.4h0M295.8 327h0M292.7 329.7h0M303.9 320.6h0M285.4 333.6h0M298.4 326.8h0M300.3 324.2h0M301.7 317.5h0M286.6 331.7h0M296.5 321.4h0M296.4 322.5h0M287.2 333.2h0M303.8 321.1h0M297.1 324.5h0M292.1 330.8h0M297.2 329.1h0M294.6 330.1h0M300.4 318.4h0M287.5 329.4h0M294.7 329.1h0M295 332.2h0M291.2 330.1h0M286.1 332.5h0M289.5 332.4h0M295.5 325h0M298.6 321h0M303 319.1h0M292.4 327.1h0M299.9 319.9h0M293.3 326.7h0M293.3 322.5h0M295.9 325.2h0M294.6 326.4h0M284.8 331.8h0M285.4 332.4h0M296.5 321.4h0M297.5 327.4h0M293.3 327.7h0M288.9 331.6h0M284.2 333.7h0M299.3 320.5h0M298.6 324.7h0M289.3 327.5h0M283.5 332.4h0M296.2 322.4h0M293.4 328h0M297 327.5h0M294.9 324h0M287.5 329.5h0M295.7 325h0M284.8 333h0M296.5 326.3h0M301.6 321.5h0M291.9 331.3h0M298.8 322.6h0M296.2 327.1h0M300.2 321.5h0M290 327h0M298.2 323.2h0M284.1 333.8h0M298.6 323.6h0M289.4 328.5h0M288.4 329.4h0M286.3 334.3h0M296.4 327.1h0M287.3 331.5h0M298.6 320h0M292.5 325.5h0M295.4 327.2h0M285.8 333.6h0M283.5 331h0M296.9 324.1h0M294.4 331.1h0M287.2 333.3h0M300.5 320.6h0M291.3 330.6h0M299.3 325.7h0M283.9 331h0M293.3 328.1h0M289.8 334.1h0M284.5 333.2h0M305 321.7h0M287.4 327.5h0M284.7 333.2h0M287.6 330.6h0M298.7 322.9h0M296.3 323.9h0M285.9 335.4h0M287.9 336h0M299.9 322.4h0M295.5 330.6h0M295.7 321.8h0M298.9 323.4h0M304.5 320.3h0M298.7 327.6h0M286.9 330.7h0M294.1 325.4h0M297.2 319.9h0M299.2 320.6h0M302.4 320.7h0M287 331.1h0M297.6 317.3h0M297.4 323.5h0M287.8 333h0M293.7 328.9h0M295.8 330.5h0M291.1 331h0M292 328.9h0M291.5 328.7h0M284.9 329.5h0M296.9 324.6h0M299.2 326.7h0M297.5 324.4h0M294.5 324.5h0M295.3 332h0M287.2 331.5h0M298.4 323h0M287.3 329.7h0M284.4 331.9h0M303.5 321.3h0M296.5 327.6h0M303.5 320.1h0M284 330.6h0M296.2 328.8h0M283 331.9h0M289 328.7h0M292.5 328.2h0M283.6 332.5h0M296.6 328.4h0M294.3 328.6h0M299 330.2h0M293 329.5h0M303 319h0M294.7 326.2h0M304.6 322.3h0M288.2 335h0M296.9 328h0M295.1 328.9h0M284.1 331.7h0M294.7 326.2h0M295.6 331.7h0M300 324.6h0M295.3 329.4h0M282.2 330.5h0M297.1 323.4h0M297.9 328.2h0M303.3 319.3h0M296.1 322.3h0M302.5 321.5h0M287.8 331.5h0M287.2 332.3h0M298.8 320.2h0M301.6 318.5h0M297.7 324.9h0M289.2 332.7h0M298.9 326.1h0M290.7 329.7h0M294.5 328.7h0M300.9 320.7h0M296.1 321.6h0M293.6 329.9h0M289 332.7h0M297.8 321.3h0M292 330.6h0M289.4 329.7h0M287.6 332h0M293.9 329.6h0M299.6 317.9h0M294.1 329.8h0M297.6 324.4h0M285.4 332.4h0M295 324.2h0M286.4 331.4h0M295.3 323h0M294.1 312.8h0M297.3 329.4h0M301.3 322.2h0M290.1 333.5h0M293 331h0M299.8 321.5h0M289.6 329.1h0M295.1 324.6h0M285.9 329h0M297 323.5h0M300 324.8h0M298.6 321.1h0M297.2 318.2h0M294.6 327.1h0M294.4 328.5h0M287.5 329.9h0M298 320h0M285.8 333.1h0M285 331.2h0M294.5 327.8h0M296.3 321.7h0M302.8 321.9h0M295.2 331.1h0M285.9 333.3h0M294.4 325h0M293.7 329.6h0M296 328.6h0M297.8 325.3h0M284.1 329.9h0M297.8 322.3h0M298.9 319.9h0M288.5 329.1h0M300.3 319.6h0M287.4 331.8h0M293.5 328.4h0M286.2 331.7h0M295.3 323.7h0M284.7 334.2h0M294 323.1h0M288.4 329.3h0M300.4 318.4h0M298.3 321.8h0M287.1 329.9h0M293.1 329.6h0M288.3 327.7h0M283.6 330.8h0M289.3 327.7h0M298.2 324.6h0M294.2 331.4h0M295.2 325.4h0M292.7 331.4h0M300.8 318.8h0M288.1 329.5h0M292.5 323.4h0M284.1 332.3h0M296 332.3h0M296.1 321.9h0M294.9 325.6h0M284.9 334.1h0M284.3 331.5h0M293 329.1h0M291.5 328.8h0M301 318.2h0M296.4 331.7h0M291.5 330.9h0M298 323.9h0M287.8 327.6h0M298 332.5h0M300.8 323.4h0M291.4 331h0M279.3 324.2h0M301.9 317.8h0M300.1 318.5h0M291.8 330.9h0M300 320.6h0M298.7 326h0M282.6 329.6h0M294.1 325.8h0M284.9 334.3h0M290.7 332.3h0M294.9 329.7h0M294.9 328.3h0M287.5 331.5h0M286.9 329.8h0M300.7 319.3h0M297.6 322.6h0M303.2 320.6h0M288.1 337.2h0M296.3 325.9h0M298.1 323.4h0M297 325.5h0M284.4 329.9h0M298.1 323.1h0M296.2 320.9h0M289.5 329.4h0M296.2 333.1h0M287.6 331.9h0M298.8 318.6h0M300.2 320.7h0M289.4 330.4h0M294.7 329.7h0M302.6 320.6h0M287.4 328.7h0M300 319.1h0M284.9 334.4h0M298.8 327h0M287.6 331.4h0M293.9 329.3h0M301.9 320.2h0M300.1 325.8h0M287.5 335.7h0M283.9 333.7h0M293.8 324.5h0M301.2 321.4h0M287.7 331.7h0M295.8 328.8h0M294.6 328.4h0M298 324.2h0M286.9 330.3h0M296.5 327.7h0M285.5 330.3h0M305.8 330.9h0M296.5 318.5h0M291.2 334.6h0M284.4 332.9h0M286.5 326.3h0M287.5 332.6h0M295.5 322.2h0M290 333.4h0M290.9 329h0M300.1 318.9h0M293.3 329.1h0M290 331.3h0M295.8 326.2h0M289.5 328.1h0M298.2 321.7h0M299.3 323.2h0M300.7 319.4h0M298.9 322.1h0M299.2 318.2h0M299.9 321.5h0M297 324.2h0M302.8 321.3h0M290.3 330.1h0M289.3 334.1h0M292.6 329.9h0M285.1 329.6h0M303.7 322.9h0M291.2 328.7h0M298.2 323.3h0M289.9 328.7h0M296.7 321.9h0M286.2 330.7h0M286.2 333.2h0M299.5 322h0M299.2 323.1h0M292.6 323.2h0M288.4 330.1h0M296.7 326.6h0M290.3 330.2h0M294.8 324h0M297.3 316.9h0M293.7 326.1h0M287.2 330.8h0M296.4 328h0M290.2 330.3h0M299.7 320.3h0M286.1 332.2h0M295.4 325.6h0M297.7 325.2h0M277.6 340.3h0M278.9 343.8h0M265.1 342.3h0M278.2 339.1h0M266.6 340.6h0M278.7 342h0M260.2 346.1h0M260.1 342.7h0M262.3 344.1h0M263.1 342.1h0M262 340.7h0M272.5 339.2h0M265.7 342.3h0M260.8 344.4h0M272.7 342.8h0M275.6 334.8h0M264.3 347.4h0M272.9 339.6h0M263.1 341.8h0M276.6 340.8h0M264.6 340.7h0M277.5 343.6h0M268.3 343.4h0M275.3 343.1h0M275 342h0M265.2 339.2h0M260.4 345.8h0M271.4 341.8h0M258.7 348h0M276.8 339.3h0M268.4 344.7h0M264.4 343.7h0M276.1 339h0M262.6 345h0M276.6 342.7h0M266.7 341.2h0M257.6 344.3h0M265.9 339.4h0M267.2 341.4h0M275.4 340.5h0M276.3 343.2h0M268.1 338.6h0M260.1 344.7h0M274 340.2h0M276 337.7h0M264.5 344.6h0M262.8 339.4h0M264.6 348.5h0M261.9 346.9h0M273.9 340.4h0M271.4 336.8h0M263.7 344.8h0M265.6 346.6h0M271.7 341.8h0M263.2 344.8h0M275.7 340.2h0M261.2 345.6h0M258.5 348.2h0M260 346.9h0M269 330.2h0M263.6 344.7h0M265.5 335.5h0M270.2 345h0M272 337.8h0M259.3 347h0M260.5 346.3h0M268.6 342.7h0M269 341.6h0M267.7 342.7h0M258.8 346.9h0M276.2 338.7h0M269.3 340.7h0M271.6 345.1h0M264 342.4h0M271.9 338.8h0M270.6 342.1h0M277.3 340.6h0M264.9 343.8h0M258.2 345.2h0M272.4 339.6h0M278.4 338.1h0M275.8 341.3h0M266.6 344.1h0M266 342.2h0M277.8 338.8h0M266.6 349.3h0M260.2 342.5h0M267.3 342.7h0M265.7 341h0M266.6 342.6h0M268.5 341.8h0M275.4 343.6h0M263.3 345.1h0M265.1 346.4h0M269.9 338.5h0M263.5 344.4h0M278.1 340.8h0M276 341.9h0M269.1 341.7h0M263.1 341.1h0M262.2 342.7h0M279.1 340.3h0M275.1 338.2h0M272.6 339.5h0M261.6 341.2h0M261.6 342.7h0M264 345.3h0M271.9 338.6h0M259 345.5h0M265 346.7h0M276.9 342.2h0M272 341.9h0M265.3 346h0M269.7 341h0M272.4 339.6h0M276.3 341.2h0M259.5 346.9h0M269.6 340.9h0M271.3 343.9h0M276.3 343.5h0M263.2 338.7h0M275.3 332.8h0M269.8 340.3h0M274.4 342.3h0M277 340.7h0M261.5 342.5h0M258.1 345.7h0M259.2 347.4h0M264.1 343.9h0M269.6 341.7h0M276.4 339.1h0M260.1 345.3h0M274.4 337.2h0M274.5 340.4h0M275 336.2h0M266.8 342.4h0M266.8 340.4h0M271.4 340.8h0M272.2 338.6h0M267.1 347.3h0M272.7 341.2h0M260.9 343h0M266 342.6h0M276 341.5h0M271 342.3h0M277.8 336.8h0M276.6 342.6h0M260.2 345.6h0M275.8 340.8h0M277.5 342.6h0M273.1 340.6h0M266.1 340.4h0M274.5 344.4h0M260.7 348h0M260.6 344.2h0M268.6 338.7h0M259.7 350.7h0M261.8 348.2h0M271.4 340h0M274.5 341.5h0M276.4 342.5h0M269.6 340.9h0M272.7 343.6h0M264.4 348.8h0M274.1 339.2h0M269.7 345.7h0M264.2 346.1h0M265.8 337.5h0M274.5 342.4h0M269.7 343.9h0M270 341.4h0M266.6 340.9h0M264.9 343.1h0M265.4 342h0M277.3 340.6h0M276.7 338.9h0M274.7 339.3h0M268.3 342.4h0M271.2 342.1h0M264.6 343.6h0M275.5 341.6h0M269 341.7h0M276.1 343.4h0M272.9 345h0M262 347.4h0M273.3 339.6h0M272 343.3h0M269.1 342.8h0M260.7 346.4h0M263.8 344.8h0M277.9 341.2h0M273.7 339.3h0M277.6 342.3h0M271.6 342h0M277.3 340.4h0M261.7 344.8h0M274.5 337.7h0M261 342.6h0M259.9 346.1h0M270.2 342.3h0M258.4 345.8h0M260.8 346.4h0M268.3 349.6h0M277.5 337.7h0M273.8 338.5h0M277.5 337.9h0M265.1 344.7h0M276.4 334.7h0M276.1 335.1h0M265.6 339.3h0M276.6 345.2h0M260.5 346.7h0M273.9 343.3h0M265.2 341h0M275.4 338.2h0M262.3 346.3h0M274.8 342.1h0M268.6 342.1h0M275.4 336.1h0M274.5 342.4h0M266.8 339.3h0M278.4 339.2h0M275.3 335.8h0M266.1 346.6h0M269.6 338.8h0M278.2 343.5h0M266.8 337.7h0M260.2 347.9h0M260 344.4h0M268.7 341.8h0M264.9 345h0M270 339.7h0M271.6 342.5h0M276.6 339.8h0M274.4 339.9h0M260.4 345.2h0M271.1 340.5h0M269.6 341h0M276.5 335.3h0M270.7 341.8h0M258.5 344.6h0M271 345h0M277.6 354.6h0M266 339.9h0M267 340.9h0M265.8 345.1h0M272.6 338.6h0M258.4 346.7h0M276.3 333.8h0M267.9 340.4h0M277.2 335.5h0M276.3 337.7h0M263.3 345.9h0M261 345.3h0M264.5 341.8h0M264.9 344.6h0M275.2 340.3h0M271.8 341.5h0M276.8 338.9h0M261.3 345.4h0M274.5 342.2h0M275.7 338.6h0M266.5 339.5h0M263.9 342.9h0M260.3 344.5h0M263.9 345.2h0M276.2 340.9h0M264.5 342.8h0M265.5 344.6h0M266.2 344.2h0M266.9 341.8h0M260.8 345.8h0M275.4 341.6h0M266.1 343h0M274.4 339.6h0M260.2 345.4h0M261.2 344.9h0M267.8 346.5h0M274.3 340.3h0M260.6 344.9h0M270.1 338.7h0M272.7 338.8h0M264.7 346.2h0M275.3 341.4h0M269.2 344.5h0M258.2 336.1h0M262.8 344.8h0M262.4 346.3h0M276.8 338.2h0M279.1 341.2h0M260.5 345.8h0M277.9 337.5h0M265.6 344.2h0M275.5 338.1h0M265.5 343.3h0M262.3 346.6h0M278.2 337.6h0M277.2 343h0M266.6 342.7h0M259.7 343.8h0M263.6 348.7h0M263.1 344.2h0M271.8 339.1h0M276.5 339.4h0M258.9 346.3h0M264.1 343.9h0M268.3 339.1h0M276 339.1h0M268.9 336.8h0M276.4 336.5h0M272.4 338.1h0M265.9 340.2h0M271 342.6h0M268.3 342.9h0M274 342.1h0M276 342.8h0M267.7 341h0M260.1 347.6h0M277.3 337.5h0M277.3 339.8h0M275.4 341.2h0M276.4 342h0M264.8 343.5h0M260.4 348.1h0M260.5 343.5h0M267.5 337.5h0M264.1 346.7h0M264.5 346.3h0M274.5 336.1h0M262.2 346.1h0M269.5 341.5h0M279.7 345.1h0M259 346.2h0M270.3 341.2h0M271.1 339.8h0M279.6 341.1h0M258.4 346.9h0M260.7 344.3h0M264.7 348h0M275 341.5h0M265.5 344.5h0M270.4 344.3h0M239.8 349.8h0M249 349.6h0M235.2 346.5h0M251.1 348.7h0M238.6 348.3h0M235.3 350h0M245.6 347.1h0M250 348h0M235 352h0M232.8 350.1h0M238.9 349.6h0M237.4 349.5h0M237 352.7h0M232.7 348.5h0M247.2 350.7h0M233.3 348.9h0M237.3 357.5h0M237.2 349.1h0M234.1 347.9h0M246.4 346.9h0M245.3 350.6h0M245.4 348.5h0M233.5 351h0M244.9 348.7h0M232.9 354.9h0M235.4 351.2h0M244.6 349.8h0M251.3 348.7h0M230.7 346.9h0M246 347.9h0M239.5 346h0M232.5 349.5h0M244.8 349.1h0M247.6 345.9h0M248.1 349.7h0M237.5 352h0M238.9 349.6h0M230.6 349.9h0M248.2 350.1h0M234.9 349.8h0M232.1 352.6h0M233.2 348.4h0M248.7 350.1h0M236 348.5h0M234.7 349.2h0M251 350.9h0M234.5 350.5h0M246.5 348.9h0M235.3 349.4h0M246 344.7h0M246.2 350.6h0M247.4 348.5h0M231.4 353.4h0M234.5 350h0M249.8 349h0M240.7 348.4h0M251 348.7h0M238.2 344.7h0M251.1 348.9h0M251.1 347.3h0M236.4 349.9h0M234.9 355h0M250.2 347.9h0M249.9 349.2h0M235.8 347.6h0M248.1 356.2h0M240.3 348.5h0M236.9 345.2h0M245 348.6h0M247.7 347.9h0M234.6 348.8h0M230.3 347.7h0M249.6 341.1h0M248.7 350.4h0M238.9 347.4h0M239.7 350h0M230.4 349.2h0M230.4 349.8h0M235.4 351.5h0M233.4 347.8h0M239.7 347.6h0M234.9 349.6h0M234.7 348.4h0M234.9 348.8h0M236.6 346.9h0M230.8 347h0M230.7 351.3h0M233.1 354.6h0M236 353.1h0M235 353.8h0M233 349.8h0M234 348.1h0M244.5 348.4h0M248.3 350h0M231.6 351.5h0M250.3 348.8h0M233.5 347.6h0M233.2 352.2h0M240.7 349.2h0M238.8 348h0M231.4 351.9h0M249.7 346.3h0M247.4 347.8h0M249.4 349.8h0M232.2 351.3h0M246.6 348.8h0M244.9 346.7h0M249.4 348.8h0M246.8 348.5h0M250.2 347.5h0M233.2 350h0M237.7 345.5h0M247 352.7h0M238.8 348.8h0M240 349.5h0M245.7 350.5h0M232.9 349.6h0M239.9 346.4h0M248.1 352.2h0M247.5 348.7h0M236.7 351.1h0M240.3 348.3h0M239.9 346.4h0M247.6 349.2h0M245.4 350.3h0M246.5 351.6h0M247.3 353.7h0M230.6 348.9h0M231.4 348.8h0M234.6 353.5h0M240.3 346h0M232.9 354.4h0M250.6 349.7h0M232.6 353.1h0M238.5 346.3h0M245.5 346.1h0M247.3 348.6h0M230.9 349h0M245.7 347.4h0M236.7 347.9h0M235.9 348.9h0M234.1 347.9h0M235.1 351.8h0M235.8 350.1h0M246.2 346.5h0M231.4 351.3h0M249.1 340.2h0M236.6 350.6h0M237.6 353.6h0M237.9 352.4h0M232.1 350.9h0M251.8 352h0M233.5 349.4h0M245.6 349.5h0M231.3 347.5h0M251.2 349.4h0M232.5 350.2h0M230.8 352.7h0M238 348h0M234.2 349.6h0M231.2 349.7h0M250.3 354.4h0M236.9 353.3h0M232.3 349.5h0M233.3 349.4h0M231.3 352.2h0M251 351.8h0M246.7 348h0M235.2 346.4h0M237.8 346.6h0M238.8 350.6h0M236.9 350.3h0M239.7 348.7h0M248.5 349.7h0M249.4 352.4h0M248.8 346.4h0M240.6 348.8h0M236.2 351.3h0M235 346.7h0M250.3 350.3h0M251.2 347.3h0M245.8 351.4h0M235.5 348.8h0M250.8 348.8h0M234.5 349.7h0M249.2 352.9h0M231.6 353.4h0M236.7 353h0M231 349.7h0M249.3 349.2h0M234.5 350.3h0M238.8 349h0M232.7 349.6h0M248.7 347.7h0M250.7 348.6h0M234.6 351.9h0M236.7 349.7h0M245.7 347.6h0M238.4 352.2h0M245 349.7h0M237.3 351.1h0M235.5 347.9h0M235.2 350.8h0M249 349.7h0M236.4 350.4h0M244.7 347.5h0M233.6 348.5h0M233.4 345.3h0M247.9 348.1h0M247.7 350h0M234.9 347.2h0M246.3 352.2h0M244.7 348.2h0M240.5 347.6h0M235 349.4h0M234.5 350.9h0M248.5 345h0M235.6 350.8h0M251.2 351.7h0M239 346.2h0M235.8 348.6h0M232.7 349.1h0M250.1 346.8h0M231.5 344.7h0M237.5 349.5h0M236.3 350.2h0M237.5 348h0M247.7 348.2h0M234.2 354.7h0M237.1 352.9h0M250.5 348.4h0M249.8 349.6h0M238.1 345.4h0M232.3 353.1h0M235.2 350.6h0M238.6 347.9h0M236.4 350.6h0M235.1 348.9h0M231 348.3h0M236.1 349.1h0M250.3 347.5h0M233.8 353.9h0M236.9 346.7h0M235.2 347.4h0M230.6 351.4h0M237.6 348.7h0M249.9 346.1h0M238.9 346h0M238 350h0M249.6 345.6h0M236.6 347.4h0M236.6 355.5h0M237.5 351.8h0M232.3 352.9h0M249.1 350.7h0M232.6 349.4h0M234.8 350.8h0M230.3 349.3h0M238.2 346.8h0M248.9 350.5h0M250.3 348.6h0M231.5 350.3h0M246.6 348.2h0M240 346h0M246.3 347.8h0M246.2 348h0M240.1 345.8h0M238.7 349.4h0M249.3 349.9h0M240.1 349.8h0M234.3 348.4h0M237.9 351.6h0M244.5 349.3h0M249.9 348.9h0M235.3 354.4h0M244.6 346.6h0M246.8 351.1h0M231.4 350.9h0M240 348h0M237.1 348.1h0M246.8 351.1h0M204.9 348h0M210.9 348.4h0M222.2 346.6h0M211.8 346.3h0M207.2 348.9h0M204.9 346.1h0M222 348h0M220 352.2h0M210.4 344.6h0M205 348h0M210.7 345.9h0M209.5 344h0M216.8 347.5h0M214.4 349.9h0M221.6 351.9h0M215.5 347.7h0M212.8 351.7h0M223 346.7h0M205.9 349h0M214.7 346h0M223.5 349.2h0M217.2 352.9h0M215.7 349.1h0M205 344.8h0M212 349.3h0M218.3 349.3h0M205.7 347.9h0M212.6 348.8h0M221.2 349.6h0M223 346.4h0M223 348.3h0M221.2 350.9h0M209.9 344h0M214.7 347.5h0M208.3 344.8h0M203.7 350h0M215.6 350.2h0M223.6 347.8h0M218.6 349.5h0M206.7 348h0M223.5 349h0M217.8 352.7h0M205.5 346.3h0M219.4 351.1h0M211.1 343h0M210.9 345.8h0M214 348.7h0M223.3 349.5h0M210.7 346.5h0M216.4 349.8h0M207.4 348.7h0M221 349.9h0M221.7 347.7h0M212.2 348.6h0M221.6 344.4h0M218.7 351.7h0M220.9 349h0M223.6 348h0M207.9 348h0M213.5 348h0M218.5 350h0M219.7 348.5h0M203.8 351h0M211.6 349.1h0M206.6 346.6h0M211.1 348.9h0M207.3 345.8h0M205 347.2h0M209.8 345.6h0M210.4 349.9h0M209.8 347.1h0M213.5 350.4h0M221.9 348.9h0M221.9 348.1h0M214.9 346.2h0M222.3 353.8h0M218.9 346.7h0M210.3 350.6h0M218.7 349.8h0M211.9 348h0M220.6 349.7h0M221.5 351.2h0M223.1 349.4h0M221.1 346.6h0M216.1 348.1h0M214.3 346.6h0M221.3 345.8h0M218.3 350h0M223.8 345.4h0M218.3 349.6h0M204.4 346.4h0M213 347.8h0M217.8 351.2h0M213.4 347.7h0M222.6 347.1h0M223.4 349.2h0M207.6 343.3h0M221.3 347h0M206.4 347.8h0M218.3 349.5h0M216.1 350.2h0M209.7 345.1h0M207.6 346.6h0M216.3 351h0M214.1 349h0M203.8 347h0M215.7 346.8h0M204.8 348h0M215.5 353.8h0M214.5 348.5h0M221.5 346h0M215.8 345.4h0M206.1 349.1h0M203.3 349.1h0M213.4 346.5h0M205.7 349.9h0M205.4 347.1h0M222.4 351h0M218.6 348.6h0M212.2 348.8h0M220.4 353.2h0M207.6 347.5h0M212.7 348.9h0M219.9 347.5h0M214.5 345.9h0M219.5 347.1h0M215.3 348.2h0M207.1 341.9h0M218.8 351.7h0M215.3 347.5h0M216.4 349h0M209.7 345.3h0M216 349.2h0M212.4 350.1h0M214.7 352.3h0M213.9 347.1h0M212.7 349.6h0M222.3 346.8h0M207.4 345h0M214.9 346.8h0M217.9 349h0M220.9 349.2h0M209.7 348.8h0M204.4 344.4h0M219.8 348.7h0M213.3 348.8h0M206.9 348.3h0M216.4 352.8h0M223.5 350h0M214.6 351.1h0M206.6 352h0M219.1 350.9h0M222.7 348.2h0M211.7 343.6h0M217 355h0M222.9 347.9h0M205.4 348.3h0M214.8 349h0M214.1 349.4h0M218.3 349.8h0M215.1 348.7h0M214.6 349.5h0M211.8 346.4h0M207.5 348.3h0M211.9 348.6h0M223 344.9h0M212.6 344.8h0M222.2 350.2h0M222.9 344.6h0M223.1 348.4h0M221.3 349h0M218.1 352h0M222.6 352.4h0M215.8 351.4h0M212.1 346.9h0M220.1 349h0M205.4 343.9h0M209 346.5h0M221.5 345.6h0M210.5 347.9h0M213.8 348.2h0M217 349.7h0M206.5 344.3h0M214.7 347.4h0M213.4 349.5h0M204.2 344.1h0M211.3 346.1h0M211.4 348.6h0M207.8 345.5h0M207.6 346.7h0M209.1 346.9h0M204.5 348h0M215 350.8h0M209.4 344.1h0M205 347.1h0M212.4 346.2h0M207.6 345.4h0M222.7 348.3h0M203.4 350.3h0M214.4 349h0M212 349.4h0M215.2 347.9h0M215.4 349.6h0M203.9 346.2h0M203.4 346.4h0M223 347.7h0M209 347.8h0M212 350.6h0M215.5 350.6h0M215.9 347.9h0M203.5 346.8h0M209 348.3h0M221.9 350.3h0M204.9 347h0M207.1 347.7h0M212.3 348.8h0M210.4 342.1h0M210.9 345.3h0M211.5 347.2h0M204.3 349.7h0M207.3 345.3h0M223 354.5h0M213.8 353h0M215.7 349.6h0M223 350.6h0M223.2 350.2h0M222.7 348.5h0M222.1 348.5h0M204.8 353.9h0M214.6 345.6h0M210.9 347.7h0M211.9 351.2h0M214.2 345.7h0M218.2 349.4h0M219.6 350.7h0M218 350.6h0M214.3 348.8h0M218.1 349.2h0M213.6 348.6h0M221.4 347.7h0M206.9 345.8h0M220.1 350.9h0M206.9 345.7h0M207 345.4h0M217.9 353h0M214.6 350.5h0M216.1 350.3h0M210.4 346.3h0M223.2 349.7h0M205.8 348.3h0M222.9 345.6h0M213.8 350.2h0M220.2 348.2h0M211.8 347h0M219.1 343.1h0M208.5 349.5h0M215.6 347.6h0M210.7 347.7h0M222 351.2h0M216.1 345.8h0M220 349h0M219.1 353h0M211.3 345.2h0M211 348.9h0M216.2 352.2h0M218.6 352.7h0M223.7 333.6h0M223.2 347.8h0M216.6 350.2h0M206.4 347.7h0M218.2 352.1h0M218.8 350.8h0M212.7 347.8h0M215.6 351.3h0M219.1 348.6h0M220.1 350.7h0M207.1 343.2h0M213.7 347.7h0M213.8 349.5h0M206.2 345.8h0M211.2 342.9h0M210.2 346h0M213.8 348.3h0M221.6 347.5h0M213.4 353.1h0M212.9 347.7h0M216.5 350h0M204.3 346.2h0M210.4 347.2h0M206.8 345h0M215.8 349.3h0M209.2 346.4h0M213.4 348.3h0M213.3 349.1h0M219.9 351.3h0M221.5 349.8h0M203.2 346.9h0M219.5 351h0M219.6 349.5h0M211.4 347.8h0M213.1 347.3h0M219 348.6h0M219.5 349.2h0M209.8 345.7h0M212.2 345.8h0M203.9 344.6h0M222.2 349.9h0M206.6 348.4h0M218.6 349.6h0M216.9 351.4h0M214.3 349.1h0M203.7 345.8h0M202 351.6h0M211.9 347.5h0M213.7 344.4h0M213.2 349.7h0M220 349.9h0M204.5 345.8h0M219.3 347.1h0M188.1 344.3h0M193.2 344h0M191.5 344.3h0M193.4 343.1h0M179.2 336.2h0M197.2 338.7h0M181.7 340.2h0M188 340h0M179.2 336.3h0M194.1 343.7h0M181.2 338.3h0M177 337.2h0M197 343.1h0M196.7 340.5h0M189.8 344.4h0M190.9 343.6h0M187.9 337.8h0M189 344.9h0M190.5 340.5h0M185.7 335.8h0M179.1 335.8h0M185.7 337.8h0M186.5 334.8h0M179.2 339.8h0M190.4 336.9h0M194.1 325.2h0M191.6 345.3h0M187.7 337h0M192.9 339h0M186.6 340h0M184 337h0M183.7 337.6h0M184.1 348.7h0M190.4 341.5h0M191.8 343.4h0M195.2 343.8h0M191.6 336.9h0M192.7 345.6h0M194.6 341.1h0M186.1 335.5h0M186.5 333.4h0M193 341.2h0M185.6 337.6h0M193.2 344.4h0M195.7 341.6h0M195.1 341.3h0M182.7 339.5h0M189.6 338h0M190.6 339.3h0M191.3 342.7h0M180.8 337.9h0M194.2 342h0M189.1 339.5h0M191.2 343.4h0M179.6 333.5h0M190.6 337.2h0M188.1 341.2h0M192.3 345.9h0M186.3 342h0M194.9 343.7h0M182.5 339.6h0M179.6 338.1h0M190.1 341.2h0M184.4 338.7h0M184.5 336.1h0M190.6 338.7h0M191.7 345.6h0M190.7 340.7h0M190.4 330.7h0M196.2 343.1h0M188.4 341.1h0M194.6 342.1h0M184.8 340.6h0M178.2 337.5h0M189.8 342h0M179.5 334.2h0M180.9 336.6h0M190.5 346.8h0M194 345.5h0M186.8 342.6h0M191.9 342.3h0M191.9 339h0M184.1 338.3h0M190.3 343.3h0M193.9 340.5h0M182.7 337.8h0M180.4 336.4h0M184.4 338h0M191.9 342.2h0M185.2 334.5h0M193.6 344.7h0M181.4 336.1h0M186.1 340h0M194.2 327.7h0M188.5 336.3h0M180.4 339h0M181.1 336.9h0M179.4 336.4h0M196.3 344.8h0M190.2 338.2h0M183.9 337.8h0M190.8 345.3h0M195.3 345.6h0M186.3 343.9h0M189.1 339.2h0M179.4 336.2h0M183.6 336.8h0M182.5 337.4h0M187 335.9h0M180.8 334h0M183.2 340.2h0M192.2 341.3h0M188.6 340h0M193.3 344.2h0M191.2 344.3h0M197.9 340.1h0M186.9 333.4h0M191.8 338.4h0M195.9 344.9h0M179.1 336.8h0M193.3 345h0M184.6 329.9h0M179.6 337.1h0M185 338.3h0M182.1 338.2h0M186.5 339.7h0M195.5 345.3h0M187.5 340.3h0M181 336.7h0M183.5 338.5h0M191.2 343.7h0M194.9 349.3h0M192 345.7h0M190.6 342.5h0M183.7 344.2h0M191.8 335.1h0M190.4 341.6h0M195 346h0M188.7 338.3h0M186.3 335.1h0M188.7 339.8h0M189.7 338h0M197.1 343.7h0M190.5 342.3h0M183.2 337.7h0M190.1 341.7h0M189.2 339.7h0M187.7 340h0M184.9 341.4h0M189.3 347.4h0M186 337.2h0M180.3 333.8h0M181 340.3h0M196 340.4h0M186.3 338.3h0M180.3 338h0M179.7 338.4h0M188.1 339.2h0M184.3 337.9h0M181.6 336.7h0M189.5 335.9h0M186.3 339.6h0M191.2 342.1h0M180.5 339.2h0M195.6 343.7h0M187.7 338.7h0M195.3 342.6h0M196.1 342.6h0M193.2 341.6h0M195.1 344.9h0M194.2 344h0M191.6 343.9h0M188.1 338.2h0M191.4 345.5h0M189.8 338.2h0M194.1 342.9h0M181.6 335.9h0M188.3 339h0M180 334.2h0M178.2 337.7h0M176.9 337.5h0M181.4 334h0M181.3 338h0M179.8 335.5h0M192.7 343.4h0M191.5 339.8h0M192.2 345.3h0M193.2 340.5h0M190.2 336.8h0M192.8 345.6h0M187.6 340.4h0M187 340.2h0M192 343.3h0M190.4 337.7h0M183.8 338.2h0M186 336.6h0M194.9 341.4h0M191.9 339.9h0M193.6 342.3h0M196.4 345.5h0M196.8 343.2h0M190.2 343.8h0M181.8 334h0M197.8 341.6h0M187.3 339.3h0M190.4 340.7h0M189.1 339.5h0M191.8 345.8h0M188.9 333.2h0M187.9 337.5h0M194 342h0M189.4 341.5h0M190.7 339h0M193.2 345.1h0M177.9 336.6h0M186.7 336.4h0M194.9 340.7h0M185.1 335.5h0M185.9 335.9h0M188.9 341.3h0M182.6 335.5h0M179.7 336h0M196.6 344.2h0M189.1 338.6h0M195.3 342h0M180.2 337.3h0M194.6 344.6h0M196.8 343.8h0M195.2 345.6h0M191.1 343.4h0M185.4 340.7h0M180.3 335.4h0M185.6 338h0M192.7 347.6h0M190.9 344.9h0M193.2 345.9h0M185 336.6h0M181 336.9h0M186.2 338.3h0M182.2 340.7h0M180.4 336.8h0M186.6 341.8h0M191.1 342.3h0M183.4 328h0M196.3 343.4h0M190.9 343.8h0M184.3 336.2h0M194.3 346.2h0M195.1 345.8h0M189.6 353.1h0M194 342h0M181.5 340.4h0M180.5 335.8h0M180.8 336.7h0M191.3 343.9h0M184.9 338.8h0M194.3 344.1h0M183.6 334.5h0M194.4 343.5h0M185.9 338.8h0M197.3 343h0M184.8 337.2h0M186.7 336.6h0M181.8 336.2h0M186.6 337.4h0M191.1 344.7h0M187.7 334.4h0M188 340.4h0M179.1 339.5h0M180.4 337.8h0M190.9 344.6h0M188.6 340.8h0M196.1 341.3h0M185.6 339.2h0M189.5 338.9h0M179.5 334.9h0M191.9 339.8h0M190.8 343.7h0M187.5 341.1h0M193.7 342.3h0M192.8 342.7h0M186 332.8h0M196.2 344.2h0M196.9 343.8h0M189.8 342.7h0M193.5 347.2h0M180.4 334.8h0M193.9 345.3h0M189.5 342.8h0M187 337.1h0M187.6 341.3h0M181.8 339.8h0M184.2 340.5h0M193.3 346h0M178.9 335.2h0M188.2 338.8h0M180.1 340.4h0M183.6 336.4h0M177.5 337.9h0M189.6 337.2h0M192.2 343.4h0M181.9 334.1h0M195.9 344.6h0M194.7 343h0M188.5 339.5h0M195.2 340.7h0M180.7 337.9h0M193.3 349.9h0M189.2 334.2h0M191.4 345.4h0M193.8 343h0M189.1 342.3h0M192.6 341.9h0M187.6 338.2h0M190.8 344h0M196.8 342.1h0M182.9 340.8h0M188.4 338.8h0M181.1 335.2h0M181 334.7h0M170.9 333.5h0M164.2 323.3h0M162.5 319.4h0M161.5 321.3h0M165.2 328.2h0M168.1 324.1h0M160.8 317.9h0M167.5 330.2h0M157.9 319.7h0M161.4 317.3h0M167.6 322.2h0M159.8 321.9h0M163.9 320.4h0M173.7 327h0M167.7 331.8h0M168.1 325.1h0M170 325.7h0M169 325h0M169.7 327.5h0M169.1 325.3h0M159.6 320.7h0M161.5 319.7h0M164.2 325.1h0M159.2 324.2h0M163.1 318.1h0M167.4 332h0M173.6 329.5h0M159.1 318.9h0M156.8 319.4h0M172.4 331h0M167.4 330.9h0M162.7 327.1h0M163.3 321.4h0M164.2 324.4h0M164.8 322.8h0M162.8 324.4h0M159.4 323.5h0M177.9 316h0M161.7 318.4h0M164.8 326.6h0M156.5 318.7h0M160.3 318.1h0M161.3 321.6h0M161.9 325.8h0M167.8 328.2h0M163.3 327.3h0M161.1 319.9h0M170.6 329.5h0M163.5 325.8h0M165.6 322.3h0M173.9 326.9h0M165.2 325h0M173.9 326h0M165 326.9h0M160.3 327.1h0M162.5 327.4h0M169.6 325h0M160.5 319h0M170.5 327.3h0M169.5 328.8h0M172.1 330.7h0M161.9 322.6h0M164.1 325.5h0M166.8 325.9h0M171.1 326.9h0M169 328.7h0M161.1 322.4h0M170.5 326.5h0M160 323.8h0M158.6 318.8h0M163.5 325.3h0M161 337.8h0M170.3 328h0M163.4 321.4h0M173.7 329.3h0M160.3 317.8h0M159 316.2h0M162.8 324.8h0M160.2 322.9h0M163.4 323.5h0M160.4 324.3h0M169.9 324.2h0M158.6 319h0M164.6 325.4h0M165.1 326.2h0M170 325.4h0M171 329.3h0M172.4 329.5h0M164 322.3h0M171.2 329.5h0M165.6 326.7h0M170.8 328.8h0M171.4 330.2h0M166.5 325h0M164 322.3h0M161.5 323.5h0M161.8 320.4h0M171.6 326.6h0M168.7 318.2h0M157.6 317.8h0M167.2 326.3h0M168.1 326.9h0M165.9 322h0M163.4 325.2h0M163.8 324.2h0M171.5 331.3h0M163.7 327.6h0M172.1 329.6h0M159.8 319.4h0M157.7 319.2h0M160.7 320.1h0M171.2 330.7h0M169.7 327h0M158 319.1h0M163.9 321.5h0M168.4 330.9h0M169.9 325.1h0M171.7 332.3h0M170.9 329.8h0M170.6 328.7h0M171.5 331.4h0M167.6 326.9h0M159.1 316.3h0M162.1 323.5h0M172.4 328.1h0M162.4 319.9h0M165.9 327.2h0M173.1 330.5h0M163.2 321.1h0M159.3 317.2h0M172.3 331.8h0M163.6 323.1h0M174.6 327.4h0M168 330.5h0M157.4 319.6h0M161.4 324h0M163.8 324.3h0M156.6 318.7h0M168.1 324.4h0M158.6 324.1h0M158.6 322.2h0M166.4 326.2h0M163.8 326.2h0M157.9 319h0M159.7 317.6h0M172.3 324.3h0M164 325.2h0M167.6 329.5h0M165.8 325.6h0M170.7 322h0M162.1 321h0M162.3 321.7h0M159.2 323.9h0M168.3 334.1h0M172.3 328.9h0M173.1 329.6h0M170.2 333.1h0M159.5 316.6h0M160 322.1h0M158.6 316.7h0M159.6 320.2h0M165.4 323.2h0M173.9 328.3h0M156.1 327.6h0M169.2 324.7h0M164.2 324.6h0M162.3 317.2h0M172.7 329.8h0M161.6 322.4h0M158.3 322.1h0M155.4 321.1h0M163.2 317.7h0M161.9 322.8h0M164 322.7h0M159.3 322.7h0M164.6 325.6h0M161.4 317.2h0M160.3 324.1h0M166.1 327h0M169 330.1h0M164.7 326.7h0M162.2 323.8h0M156.7 318.8h0M165.5 328.8h0M165.3 326.5h0M159.8 317.7h0M164.9 325.3h0M160.8 323.7h0M166 327.6h0M158.4 323.7h0M162.2 319.2h0M160.1 317.4h0M167 317.7h0M170 328.4h0M160.5 325.6h0M172.4 329.8h0M164.7 324h0M163.5 321.6h0M164.4 325.4h0M163.8 330h0M172.6 329.3h0M160.6 322h0M172.8 329.6h0M162.6 321h0M161.1 320.6h0M162.8 322.5h0M163.5 321.2h0M161.5 322.3h0M160.6 316.9h0M164.4 327.8h0M157.3 319.4h0M171.3 327h0M167.1 327.8h0M160.2 324.6h0M159.6 315.9h0M172.3 330h0M171.1 316.8h0M168.6 325.9h0M158.9 316.4h0M167.6 326.7h0M161.8 323.1h0M171 328.4h0M180.3 317.2h0M161.6 318.7h0M162.5 321.5h0M165.6 318.9h0M161.5 318h0M166.1 326.5h0M169.4 324.1h0M168.8 330.4h0M161 322.9h0M171.4 328.3h0M169.6 330.2h0M160.6 317.3h0M174.6 328.2h0M155.4 320.2h0M161.7 322.1h0M154.2 328h0M159.8 316.4h0M158.7 317.4h0M166.8 327.1h0M169.3 325.6h0M161.2 317.2h0M165.4 319.7h0M166.9 324.3h0M165.5 324.7h0M163.3 321.6h0M160.3 319.4h0M165.8 326.7h0M168.7 324.3h0M170.2 330.1h0M168 331.4h0M160.7 322.3h0M171.4 329.5h0M160.2 321.6h0M166.8 322.4h0M160.2 315.5h0M159.8 324.2h0M160.4 328.8h0M164.8 321.9h0M165 325.5h0M164.6 319h0M158.7 318.6h0M160 321.2h0M160.2 318.7h0M158.3 317.6h0M158.7 316.9h0M171.2 323.7h0M173.7 328h0M159.4 318.1h0M163.7 325.5h0M158.9 317.5h0M160.3 316.6h0M161.2 324.7h0M168.4 330.2h0M162.2 316.9h0M170.8 333.8h0M168.7 325.3h0M160.4 321.3h0M164.8 326.6h0M160.4 325.6h0M158.7 317.3h0M158.5 320.1h0M168 325.7h0M169.1 329.2h0M167.7 326.7h0M172.5 331.6h0M156.4 327.3h0M158.8 318.3h0M163.1 327.1h0M164.1 325.6h0M160.3 325.2h0M163.8 328.6h0M166.2 326.6h0M164.7 317.3h0M172.5 329.8h0M167 324.5h0M164.9 324.2h0M161.6 323.8h0M162.9 324.4h0M164.2 327.2h0M170.9 322.7h0M166.6 326.7h0M161.2 321.1h0M160.7 320.9h0M165.8 324.5h0M166.5 325.8h0M173 328.8h0M161.8 318.2h0M164.7 327.9h0M163.5 325.1h0M163.5 320.4h0M156.2 319.6h0M161.5 320h0M162.8 324.4h0M140.3 299.4h0M147.4 303.9h0M146.3 306.1h0M145.4 302.7h0M146.2 301.6h0M150 308.2h0M145.8 301.3h0M149.8 310.3h0M150.9 301.1h0M146.5 301.8h0M148.4 304.3h0M146.8 305.6h0M145 312.1h0M145 302.2h0M146.8 302.6h0M147.9 303.9h0M148.1 304.5h0M144.1 298.6h0M145.8 304.2h0M149.4 302.4h0M145 302.8h0M152.8 309.2h0M144.8 300.2h0M148.1 305.4h0M148.6 303.6h0M153.5 303.6h0M147.4 302.7h0M147.7 305.4h0M147.9 298h0M146.5 307.6h0M142.2 298.8h0M148.7 307.1h0M150.2 305.4h0M148.6 308.3h0M150.5 306.1h0M152.7 308.3h0M144.3 303.3h0M143.4 302.1h0M146 299.2h0M151.2 307.7h0M147.6 298.8h0M146.4 305h0M149.5 302.1h0M151 304.1h0M149.5 309.4h0M144.5 299.4h0M145 299.7h0M147.6 306.2h0M143.2 302.6h0M149.4 304.9h0M145.9 302.1h0M149.8 307.7h0M154.1 306.7h0M143.1 301.8h0M142.3 303.6h0M151.2 306.3h0M151.6 305.1h0M141.6 303.1h0M149 303.8h0M147.5 305h0M145.9 301.3h0M151.7 309.6h0M147.4 303.9h0M145.8 301.9h0M144 298.4h0M147.3 300.3h0M149.8 307h0M145.2 302.6h0M147.2 304.6h0M153.1 307.2h0M149.4 303.7h0M147.4 305.8h0M152.7 305.5h0M144.2 300.5h0M147.4 309h0M150.4 306.8h0M146.6 296.9h0M143.3 304.1h0M145.7 298.5h0M142.4 304h0M145.7 299.8h0M145.5 301.8h0M141.2 301.6h0M146.6 298.3h0M148.9 301.7h0M146.5 305.1h0M149.4 311h0M151.6 308.7h0M148.9 302.1h0M147.5 303.7h0M151 308.7h0M145.2 304h0M150.6 310.4h0M148.7 306.7h0M149.2 304.6h0M149.8 308.2h0M149.8 306.3h0M152 304.9h0M151 306h0M144.1 298.3h0M155.1 306.3h0M151.1 309.2h0M149.8 304.2h0M151.1 305.3h0M149.2 304h0M151.6 308.3h0M149.6 304h0M148.9 304.2h0M150.1 306.4h0M145.3 301.8h0M144 301.1h0M148.3 300.4h0M154.4 305.1h0M149.3 310.7h0M145.5 299.7h0M150.8 308.2h0M152.5 308.4h0M150.7 308.7h0M145 300.5h0M144.4 300.8h0M143.9 301.6h0M149.6 307.9h0M147.3 305h0M148.5 305.7h0M145.3 302.4h0M149.1 307.4h0M145.4 301.6h0M145.7 299.1h0M143.7 303.3h0M143.3 300.2h0M147.6 308.1h0M149.4 302.4h0M146.7 303.7h0M148.4 301.3h0M148.5 299.6h0M143.7 303.2h0M146.8 302.5h0M161.8 298.4h0M145.5 298.6h0M145.5 303h0M151.9 300.9h0M149.5 305.6h0M148.7 310h0M148.5 297.4h0M148.6 308.2h0M144.2 299.6h0M143.2 309.1h0M146.9 299.2h0M142.5 301.4h0M145.5 303.3h0M140.5 300h0M147.3 303h0M148.6 303.5h0M145.6 296.5h0M147.6 303.1h0M150.2 308.8h0M143.6 304.3h0M146.1 304.7h0M151.2 310.2h0M145.4 301.9h0M144.1 297.6h0M152.5 309.1h0M145.8 302.1h0M141 305.4h0M150 309.4h0M145.6 298.7h0M149.8 310.4h0M150.7 305.5h0M148.1 307.3h0M152.8 306.1h0M150.3 302.3h0M146.9 297.2h0M146 308.3h0M151.1 306.5h0M150.5 305.4h0M149.6 304.3h0M150.4 308.5h0M146 299.2h0M145.7 300.4h0M152 305.9h0M153.3 295.9h0M154.3 307.6h0M146.8 304.1h0M147.6 297.3h0M145.7 303.6h0M148.6 305h0M149.2 304h0M144.7 304.1h0M150.8 309.2h0M151.2 309.3h0M150.5 299h0M149 304.8h0M142.5 308.6h0M146.2 304.4h0M151.2 306.7h0M151.1 310.2h0M151.4 307.1h0M142.2 302.5h0M146.9 303.1h0M150.1 297h0M142.6 301.6h0M149.7 306.4h0M148.7 307.1h0M147.7 305.1h0M146.2 304.2h0M140.3 303.8h0M145.5 297.1h0M144.8 298.2h0M147.7 304.3h0M149.7 308.6h0M145.4 298.5h0M148.7 306.7h0M147.6 304.6h0M144.8 304.9h0M152.2 304h0M145 304h0M153.4 306.2h0M150.1 306.7h0M149.3 305.6h0M147.7 296.4h0M144.9 300.8h0M145.3 302.7h0M147.8 296.5h0M145.4 300.2h0M148.4 304.7h0M147.5 302.6h0M161.3 298.7h0M149.7 309.2h0M152.2 309.1h0M154.2 292.9h0M139.6 279.7h0M136.5 276.1h0M141.3 285h0M135.3 277.8h0M140.3 279.4h0M139.2 288.8h0M140.8 285h0M134.8 276.4h0M136.5 279.7h0M139.7 287.7h0M136.5 281.4h0M141.1 286.8h0M138.2 284.7h0M137 278h0M138.7 279.1h0M137 287.6h0M137.4 276.2h0M136.2 282.1h0M145.5 284.3h0M136.2 283.5h0M137 283.3h0M137.5 278.7h0M135.5 278.5h0M139.2 279.1h0M137 278.4h0M136.5 281.9h0M139 289h0M136 277.1h0M138.5 285.9h0M140.8 280.4h0M140.8 288.1h0M138.3 275.9h0M132.3 281.7h0M139.6 284.3h0M142.1 274.7h0M140.2 284.3h0M142.2 282.7h0M140 285.4h0M132.7 286.7h0M139.7 285.7h0M138.4 281.5h0M136.9 284.4h0M141.2 285.5h0M138.6 275.8h0M135.5 281.6h0M137.3 275.8h0M133.2 284.7h0M138.5 282.7h0M136 276.7h0M141.1 285.3h0M139.9 287.1h0M135.8 278.1h0M137.7 284.4h0M135.6 280.1h0M135.9 281.8h0M149.2 282.9h0M134.4 279.6h0M136.8 283.7h0M136 276h0M136.6 279.9h0M139.8 288h0M135.7 285.3h0M133.6 278.9h0M134.3 281.4h0M137.7 278h0M136.6 282.2h0M138.1 282h0M135.1 282.8h0M132.4 282.7h0M140.5 287.6h0M139.5 284.1h0M139.3 285.6h0M136.2 282.6h0M134 282.7h0M133.1 279.8h0M136.4 277.1h0M134.8 280.1h0M135.7 280.4h0M135.9 281.9h0M140.9 285.1h0M137.2 282.8h0M138 283.1h0M137 280.4h0M139.3 282.5h0M140.3 287.2h0M137.7 283.6h0M141.8 277.3h0M133.2 283.8h0M140.2 288.5h0M139.1 282.8h0M139.3 282.6h0M138.7 275.8h0M134 279.6h0M136.3 286.5h0M136.6 279.4h0M136.8 283.3h0M142.4 286.3h0M137.8 285.1h0M135.5 278.9h0M140.8 283.2h0M138.3 275.2h0M139.1 275h0M141.4 284.3h0M134.4 283.9h0M136.5 289.4h0M137.5 278h0M139.3 282.9h0M135.4 277.4h0M140.8 278.7h0M134.8 283.6h0M134 282.5h0M134.6 283h0M137.9 283.3h0M135.4 281.6h0M141.8 286.9h0M137 287.1h0M137.7 280.9h0M139.5 287.2h0M137 279.3h0M140.2 282.3h0M137.8 283.9h0M137.3 287.9h0M138.6 285.1h0M136.9 279h0M141.7 287h0M132.9 279.6h0M137.4 275.8h0M138.7 278.6h0M135.8 279.5h0M138.7 285.7h0M138.7 288.2h0M133.8 282.2h0M134.8 281.1h0M135.2 280.8h0M137.3 288.5h0M135 282.3h0M140.9 288.4h0M136.5 275.9h0M137.4 279.3h0M136.4 279.6h0M146.7 283.6h0M136.2 282.3h0M141.5 279h0M137.5 287.3h0M135.2 278.3h0M138.1 288h0M139.9 275.2h0M135.7 282.8h0M135.5 277.1h0M134.8 277.9h0M137.9 285.1h0M137.9 281h0M142.1 281.7h0M139.2 281.1h0M137.1 279.3h0M140.1 285.8h0M137.8 275.7h0M141.8 286.2h0M137.4 280.7h0M135.2 280.7h0M137.2 288.6h0M138.8 282.8h0M131 292.2h0M136.7 283h0M138.7 276.3h0M136.1 282.7h0M137.3 276.6h0M136.4 277.2h0M137.8 284.5h0M136.5 277h0M138.8 287.2h0M137.2 286.9h0M141.9 287.1h0M139.9 278.6h0M135 277.7h0M138.6 287.1h0M136.4 281.5h0M133 280.5h0M137.5 276.7h0M136.6 283.4h0M137 276.6h0M133.1 279.8h0M138.3 281.5h0M141.1 287.4h0M138.6 279.3h0M137.8 280.9h0M133.9 278.6h0M141.4 286h0M138.4 277.4h0M139 284.4h0M138.8 279.6h0M136.4 281.3h0M134.3 276.7h0M138.5 282.2h0M136.1 276.5h0M142.7 282.9h0M135.8 278.2h0M133.6 280.2h0M134.3 278.2h0M138.5 282.2h0M136.8 283.4h0M139.7 285.1h0M143.7 281.8h0M135.4 280.4h0M135 277.9h0M139.4 278.2h0M137 284.5h0M138.4 286.8h0M143.2 286.6h0M138.9 285.9h0M135.9 282.9h0M135.1 278.6h0M136.4 277.4h0M133.6 280.1h0M131.1 256.9h0M135.6 265.2h0M131.6 255.9h0M127.7 262.5h0M132.7 259.7h0M133.5 266.2h0M134.4 254.9h0M132.4 258.7h0M133.7 261.3h0M131.4 261.2h0M132.5 258.7h0M128.8 257.6h0M132.4 260.1h0M133.4 263.1h0M132 256.4h0M132.9 255h0M137.8 260.9h0M131.2 254.5h0M132.6 261.6h0M134.8 263h0M133.2 259.8h0M133.6 258.5h0M134.8 254h0M130.1 257.6h0M127.4 259.1h0M131.9 255.6h0M132.2 258.9h0M129.2 257.6h0M132.6 258.3h0M131.5 264.7h0M132.4 262.3h0M134 258.1h0M134.6 265.6h0M136.9 262h0M133.3 262h0M131.9 259.2h0M135.5 256h0M134.1 260.4h0M135.3 261.1h0M133.8 260.7h0M119 260.9h0M134.1 263.5h0M133.5 266.3h0M137 265h0M137.4 257.7h0M133 263.8h0M134.2 258.9h0M131.1 260.4h0M130.3 257.9h0M130.8 260h0M135.7 263h0M131.5 265.4h0M133.6 264.7h0M138.5 264.6h0M133.8 259.9h0M134.9 265.8h0M130.8 263.8h0M131.3 256.3h0M134.9 264.7h0M132.8 262.2h0M134.9 259.4h0M132 257.4h0M132.3 257.1h0M133.9 257.5h0M129.8 258.7h0M129.7 259.8h0M131.2 261.5h0M132.8 261.1h0M134.1 257.4h0M134.5 260.8h0M137 253.9h0M130.9 264.6h0M132.2 260.3h0M133.3 264.2h0M130.6 257.1h0M135.9 255.8h0M134.2 264.7h0M125.5 263h0M132.6 254.8h0M129.9 259.7h0M129.6 260.3h0M132 261h0M132.9 265.5h0M133.6 262.3h0M128.9 260.9h0M131.4 264.1h0M130.1 258.5h0M135.5 261.4h0M132.3 257.4h0M130.8 255.1h0M131.7 265.3h0M131 257.8h0M132.3 264.9h0M131.3 254.7h0M132.6 255.1h0M131.2 255.6h0M137.4 259.5h0M136.2 264.5h0M132.5 263.3h0M132.5 265.2h0M136 255.5h0M132.8 266.6h0M134.6 258.1h0M133.1 265.9h0M136.7 262h0M132.5 257.6h0M135.5 262.6h0M132.9 257.1h0M133.9 260.8h0M132.1 264.4h0M134 260h0M132.6 265.3h0M135 265.4h0M135.9 257.8h0M133.4 264.1h0M131.7 261.7h0M133 257.3h0M129.9 256.6h0M131.2 259.9h0M134.7 265.1h0M123.3 261.4h0M132.1 266.5h0M132.8 261.1h0M131.6 257.7h0M135.9 265.4h0M134.4 261.2h0M134.8 263.5h0M132.4 264.9h0M133.5 255.3h0M129.2 255h0M132.5 265.4h0M130.3 255h0M131.5 260.2h0M132.6 265.3h0M132.3 260.1h0M134.2 255.1h0M135.4 258.1h0M131.3 258.4h0M132.5 255.7h0M134.6 255.2h0M132 259.7h0M131.4 260.7h0M131 260h0M134.8 256.2h0M136.4 259.9h0M132.5 263.1h0M131.3 259.9h0M134.4 265.7h0M134.5 261.5h0M129.9 265.5h0M133.3 265.8h0M132.8 261.8h0M132.8 260.8h0M133.8 261.6h0M135.2 263h0M132.7 257h0M135.2 255h0M131.9 259.6h0M129.9 258.9h0M133.7 264.5h0M130.5 256.3h0M130 256.3h0M132.8 257.5h0M134 262.1h0M131.8 254.2h0M134.1 263.1h0M133.2 262.1h0M129.2 259.4h0M133.3 264.3h0M133.9 254.8h0M133.9 265h0M137.5 262.3h0M131.4 258.6h0M134.4 258h0M130.9 259.2h0M132 258.2h0M130.8 264.5h0M130.4 265.1h0M133.1 260h0M135.3 264.9h0M136.7 261h0M131.2 257.2h0M132.5 256.5h0M133.4 262.4h0M132.1 254.5h0M129.5 256.9h0M131.4 260.8h0M133.7 257.6h0M135.1 234h0M134.9 234.8h0M121 242.1h0M137.5 235.5h0M132.9 238.2h0M135.2 235.1h0M134.1 246.2h0M133.2 242.5h0M135.4 239.3h0M137.1 235.7h0M135.5 235.2h0M134.1 234.4h0M134.3 246.1h0M134.9 238.7h0M133.9 234.1h0M134.8 242.5h0M137.7 246.3h0M134.2 244.6h0M129.9 241.6h0M132.3 239.2h0M133 236.3h0M133 245.9h0M133.6 233.9h0M131.9 233.4h0M132.9 244.2h0M133.5 242.1h0M136.3 237.3h0M132.8 239.5h0M132.9 247.1h0M131.5 244.8h0M131.1 244.7h0M132.9 238.8h0M131.9 244.4h0M132.2 242.1h0M134.4 237h0M134.9 246.1h0M132.3 233.9h0M132.9 242.4h0M131.1 236.9h0M134.1 235.8h0M132.2 246.3h0M134.2 233.6h0M131.2 242.1h0M135.5 235.6h0M133 246.7h0M134.2 236.5h0M136.7 244h0M135.6 237.7h0M132.1 242.2h0M135 238.4h0M132.2 244.7h0M135.4 245.1h0M135 236.3h0M133.5 238.1h0M132.1 233.1h0M137.7 235.9h0M135.1 243.2h0M135 234.3h0M132.1 245h0M134.4 236.6h0M133 246.4h0M135.4 238.5h0M133.4 233.8h0M130.6 244.2h0M134.2 243h0M134.8 238.7h0M136 238.8h0M132.9 245.5h0M137.5 238.9h0M136.4 245.1h0M134.8 237.4h0M132.4 235.5h0M133.8 238.4h0M136.4 234.9h0M134.4 243.5h0M132.9 234h0M133.5 242.4h0M132 241.8h0M136 238.3h0M132.6 241.4h0M135.5 234.9h0M133.9 246.2h0M135.8 239.5h0M135.7 246.6h0M132.9 242.3h0M122 235.3h0M137 234.2h0M131.8 236.5h0M131.9 239.4h0M132.1 237.9h0M134.3 245.6h0M132.1 243h0M131.4 244h0M129.1 241.3h0M131.4 244.4h0M135.2 237.6h0M134.1 234.1h0M128.3 243.7h0M133.5 237.7h0M135.7 236.1h0M135.5 237.4h0M135.8 239h0M137 245.9h0M132.4 243.7h0M137.3 234.4h0M136.8 236.7h0M130.6 242.8h0M132.9 237.8h0M134 238.1h0M124.7 243.6h0M134.1 234.4h0M135.6 235.9h0M131.3 239.5h0M130.6 238.9h0M134.1 246h0M129.8 243.2h0M131.9 235.7h0M135.4 240.3h0M134.7 246.2h0M133.3 238.3h0M138.1 238.6h0M133.5 239.2h0M133 233.7h0M131.6 244.9h0M132.1 236.5h0M135.8 238.5h0M133.4 233.6h0M130.8 245.8h0M133.3 236.2h0M132.3 242.9h0M132.3 235.1h0M132.4 237.2h0M134.3 242.9h0M136.3 243.6h0M133.7 243.7h0M130.7 241.4h0M134.5 236h0M136.4 237.5h0M133.6 236.3h0M132.8 238.1h0M134.1 236.2h0M131.8 246.8h0M133.2 237.9h0M138.7 236.4h0M130.2 241.2h0M134.2 243.7h0M131.8 241.6h0M136.6 236.3h0M135.7 238.8h0M131.4 233.5h0M133.6 234.8h0M133.8 238.1h0M134.8 238.8h0M133.3 243h0M132.6 245.2h0M132.6 245.7h0M133.7 243.9h0M126.9 240.8h0M139.1 246.7h0M135.7 235.6h0M131.8 244.9h0M132.8 246.3h0M137.2 239.1h0M136.6 238.1h0M131.9 244.6h0M134.2 236.9h0M132.2 234.1h0M135.9 236.6h0M131.8 243.3h0M134.6 245.3h0M136.1 234h0M134 245.2h0M132.7 241.7h0M133.5 233.7h0M129.5 245.3h0M134.4 234.1h0M131.6 233.5h0M131.6 233.1h0M135 238h0M136 246.8h0M130.2 241.3h0M134.1 238.3h0M134.4 236.1h0M132.5 242.9h0M132.8 237.1h0M134.1 244.8h0M130.9 245.4h0M132.9 238.7h0M132.9 244h0M131.2 236.9h0M130.7 244.6h0M136.7 238.8h0M131.9 242.4h0M130.6 239.2h0M133.6 234.9h0M136.2 235.8h0M133.6 239.3h0M144.6 247.4h0M134.9 235.4h0M130.1 244.7h0M140.1 215.5h0M138.1 227.2h0M139.8 223h0M137.3 214.6h0M139.1 218.7h0M133.6 219.8h0M139.6 218.1h0M136.9 223.7h0M137.8 222.8h0M139.3 217.4h0M135.8 221.2h0M138.3 223.5h0M136.4 225.6h0M134.9 223.9h0M135.8 224.4h0M138.8 222h0M132.7 221.8h0M140.3 226.4h0M134.1 222h0M146.2 221.3h0M138.7 225h0M139.1 214.7h0M134.5 220.4h0M129.3 220.3h0M140.5 216.3h0M140 217.4h0M136 225.7h0M139.9 220.3h0M140.7 217.6h0M135 224.8h0M136.9 217.5h0M140 215.3h0M136.7 220.7h0M137.3 215.6h0M135.7 226.5h0M137.8 221h0M136 225.3h0M141 218.4h0M138.9 214.6h0M137.3 225.1h0M140.9 217.2h0M136.9 214.1h0M140.9 215.5h0M138.2 221.9h0M140 222.1h0M136 222.7h0M137.4 217.9h0M134.5 221.6h0M135.3 218.6h0M136.1 220.3h0M134.8 222.1h0M141.8 216.1h0M137.3 227.1h0M135 221.5h0M138 220.5h0M137 215.2h0M135.8 223.2h0M134.5 218.8h0M136.7 224.7h0M138.5 222h0M142.8 218.9h0M139.4 225.1h0M140.7 220.6h0M136.4 222.8h0M131.6 212.2h0M134.5 215h0M138.6 218.7h0M147.5 223h0M137 225.9h0M135.8 214.4h0M143 218.5h0M140.5 217.9h0M139.3 225.8h0M138.7 225.8h0M138.8 216.5h0M137.4 214.2h0M137.1 225.9h0M132.7 221.3h0M137.7 214.3h0M138.3 219h0M137.4 222.4h0M141.5 216.4h0M135.9 220h0M136.2 219.7h0M137.7 218.1h0M134.5 225.9h0M135.1 221.2h0M134.8 225.9h0M137.1 220.9h0M140.6 215.8h0M138.3 217.1h0M134.5 222.8h0M135.6 218.5h0M135.5 223.9h0M138.3 217.6h0M148.4 228.3h0M127.7 217.3h0M138.1 225.5h0M136.7 223.7h0M136.4 220h0M138.9 221.3h0M137.2 223.6h0M136.1 220.8h0M141.8 216.5h0M137.1 215.9h0M135.2 224.2h0M141.1 218.6h0M133.2 222.7h0M134 224.9h0M136.9 216.1h0M134.3 222.8h0M136.8 224.6h0M138.5 218.9h0M135 220.5h0M140.2 226.1h0M133.7 221h0M137.8 220.8h0M135.1 222.2h0M136.5 221.4h0M140.5 215.7h0M138.6 215.1h0M133.9 221.9h0M133.7 223.7h0M139.6 218h0M135.3 223.8h0M138.4 215.9h0M134.7 217.7h0M136 219.3h0M139.7 217.3h0M138.8 218.7h0M138.6 221.2h0M137 221.6h0M134.9 221.8h0M139.3 214.8h0M138.9 226h0M140.5 216.2h0M135.4 225.1h0M137.6 218.4h0M136.4 219.5h0M140.7 217.7h0M138 220.6h0M136.6 221.9h0M139.3 214.8h0M138.1 219.2h0M139.2 222.8h0M138.1 223.1h0M133.9 225.9h0M131.3 218.1h0M142.3 219.7h0M137.7 221.4h0M137.2 219.4h0M135.5 224h0M138.6 216.2h0M135.8 218.9h0M138.8 225.2h0M140.2 216.6h0M138.9 217.5h0M140.9 217h0M138.9 217.3h0M138.8 221.6h0M135.2 219.6h0M130.6 225h0M139.4 220.9h0M134.8 218.6h0M140.1 227h0M135.8 219h0M136.2 222.2h0M136.4 220.6h0M135.7 226.7h0M137.5 219.4h0M143.4 219.6h0M138.9 221.6h0M134.4 224.5h0M142.4 216h0M140 215h0M133.8 222.1h0M140 226.6h0M137.3 224.8h0M141.9 218.8h0M138.6 216.1h0M138.6 224.8h0M135.9 221.5h0M140.2 221.5h0M136.9 219.7h0M134.1 221.5h0M136.5 223.9h0M134.5 221.6h0M134.1 222.9h0M139.4 221.1h0M136.6 215h0M133.5 225.9h0M136 223.7h0M139.1 219.9h0M138.7 215.9h0M139.4 215.5h0M136.4 219.1h0M136.3 224.8h0M143.5 208.9h0M145.9 204.6h0M146.2 198.9h0M145.3 204.6h0M141 204.4h0M144.6 203.4h0M143.3 208.2h0M146.1 205.9h0M144.8 199h0M143.2 208.2h0M139.9 206.6h0M146.4 206.6h0M146.9 207.7h0M141.1 207h0M148.2 198.9h0M146.8 205.4h0M146.5 200.6h0M143.6 204.9h0M141.8 201.1h0M143.1 204h0M145 209.8h0M143.8 208h0M142.6 200.1h0M140.7 205.9h0M145.9 199.4h0M143.2 206.9h0M143.2 207.3h0M144.6 199.6h0M143.4 206.6h0M150.3 200.2h0M141.1 207.6h0M145.5 203.1h0M147.9 198.1h0M147.6 207.7h0M148.3 198.6h0M146.4 198.7h0M149.2 199.2h0M147.5 199.8h0M146.4 199.8h0M142.4 208h0M148.9 199.7h0M150.6 201.1h0M142.8 206.7h0M145.8 202.8h0M149.7 198.9h0M143.5 203.8h0M147.7 205.2h0M144 206h0M146.1 205.9h0M144.3 206.4h0M143.7 205.4h0M145.7 203h0M148.3 199h0M142.1 206h0M144.8 206.8h0M149.6 199.2h0M146.4 209.5h0M144.2 201h0M144 208.1h0M145.1 205.9h0M149.7 200.9h0M146.9 203h0M148.8 203.2h0M150.6 201.6h0M143.6 204.8h0M144.6 204.1h0M148 200.3h0M157.1 203.9h0M150.2 200.2h0M148.4 200.9h0M145.8 200.7h0M147.2 203.1h0M141.4 208.1h0M145.3 203.2h0M143.8 198.5h0M144.9 205.8h0M152.8 210.5h0M144.8 200.2h0M144.3 208.8h0M145 209h0M148.8 204.2h0M142.5 206.1h0M149.6 201h0M158.7 211.8h0M142.1 206.4h0M145 201.5h0M150.1 201.6h0M143.9 203.7h0M139.4 205.5h0M150.1 199.9h0M148.7 200h0M146 203.5h0M142.2 205.4h0M148.4 200h0M148.4 201.1h0M142.4 199.6h0M146.1 200.5h0M142.9 204h0M144.5 199.6h0M146.1 203.1h0M144.2 204.9h0M142 208h0M146.8 209.7h0M146.3 202.9h0M148.9 201.4h0M146.7 203.7h0M143.2 208.9h0M143.3 206h0M145.8 200.4h0M141.5 205.7h0M147.9 198.7h0M146.5 199.8h0M145.2 204h0M142.3 198h0M145.7 208.1h0M153.2 201.6h0M143.2 207.2h0M146.6 206.3h0M143.7 205h0M144.9 203.7h0M145.9 199.4h0M151.6 200.8h0M143.8 202.6h0M137.1 200.8h0M147.4 199.2h0M150.2 200.9h0M146.1 205.9h0M143.4 207.2h0M145.8 203.1h0M143.9 208.4h0M147 201.1h0M142.1 202.1h0M148.6 202.5h0M143.4 207.1h0M139.9 207.2h0M145 202.5h0M146.8 200.5h0M144.5 198.4h0M148.3 198.7h0M146.4 200.3h0M146.5 207.1h0M143.6 207h0M147.9 198.7h0M142.9 204.6h0M142.7 206.8h0M145.9 202.9h0M149.6 199.6h0M142.9 207.2h0M136.8 202.3h0M145.4 202.2h0M146.5 203.7h0M145.8 201.2h0M146.6 199.2h0M147.7 200.3h0M145.4 207h0M146 205.1h0M148.6 198.6h0M144.1 205.2h0M143.7 201.7h0M143.9 199.7h0M144.3 204.1h0M144.6 201.4h0M145.1 202.6h0M148.3 200.3h0M146.3 198.1h0M143.9 201.2h0M145.6 201.5h0M144.9 203.5h0M144.2 197.3h0M146.9 206.4h0M143.9 198.8h0M143.4 203h0M148.5 206.3h0M142.4 208.6h0M144.9 200.3h0M143 203.2h0M146.2 201.1h0M147.1 197h0M146.7 202.3h0M148.4 200.3h0M143.4 198.8h0M148.4 200.7h0M144.9 198.6h0M147.5 198.7h0M146.8 206.9h0M149.5 199.4h0M146.8 203h0M147.9 207.6h0M151.9 189.4h0M156.2 184h0M151.7 191.1h0M158.9 191.4h0M154.3 192.8h0M154.3 191h0M150.1 189.9h0M156.2 185.1h0M154.1 190.4h0M152.6 190.8h0M155.1 191.7h0M155.5 184.2h0M156.2 189.5h0M153 190.4h0M153 185.5h0M153.1 185.5h0M157.3 185.2h0M152.1 188.3h0M158.1 188.6h0M153.4 186.7h0M153.1 188.7h0M154.6 191.4h0M155.7 185h0M155.3 189.4h0M155.4 183.5h0M156.1 189h0M154.3 187.3h0M151.6 190.8h0M158.7 188.7h0M157.8 187.2h0M155.1 184.2h0M149 181.4h0M156.1 187.7h0M150.2 187h0M155.2 192.8h0M154.7 188.3h0M151.5 188.3h0M154.2 191.6h0M155.7 184.1h0M157.7 186.7h0M154.2 187h0M154.1 189.5h0M151.7 191.7h0M150.7 184.6h0M152.9 192.2h0M157 187.8h0M154.6 188.4h0M154.9 188.4h0M153.8 184.7h0M153 187.1h0M155 184.8h0M154.6 191.3h0M156 189.4h0M158.1 187.7h0M154.2 185.5h0M155.1 189.9h0M154.8 190.9h0M153.6 187.8h0M155.9 195h0M151.9 191.3h0M158.3 189.1h0M159.1 188.5h0M154 192.6h0M151.9 191h0M157 185.5h0M157.8 186.8h0M157.3 187.5h0M153.3 187.4h0M153.2 186.2h0M151.9 191h0M154.3 193.5h0M158.7 187.4h0M156.5 185.3h0M157.5 190.7h0M150.4 189.5h0M158.7 189.9h0M156.9 188.4h0M155.9 184.7h0M154 189.7h0M151.2 190.1h0M152.4 188.3h0M153.7 190.4h0M156.4 189.4h0M157.3 191h0M155.1 191h0M159.5 188.9h0M146.8 187.1h0M156.6 189.3h0M155.4 188.7h0M153.7 192.6h0M153.9 189.7h0M158.2 188.2h0M157.6 187.2h0M157 187.5h0M158.5 187.9h0M157 185.9h0M153.4 193.3h0M157.8 186.1h0M151.7 187.7h0M157 188.9h0M157.1 187.5h0M153.7 183.6h0M154.3 189.9h0M154.2 192.7h0M155.9 194.1h0M157 188.4h0M155.2 190.4h0M155.1 191.3h0M152.9 189.4h0M156.2 185.2h0M157.7 187.6h0M151.7 190.2h0M154.4 182.7h0M156.2 185.1h0M155.9 189.8h0M151.8 189.6h0M157.1 187.1h0M155 188.6h0M159.5 189.1h0M154.3 189.3h0M155.2 193.4h0M152.2 191.8h0M155.1 191.7h0M152.7 191h0M153.1 190.3h0M150.6 187.1h0M151.4 190.1h0M156.3 189h0M155.1 183.1h0M154.2 191h0M153 191.2h0M156.9 185h0M154.2 186.8h0M151.8 191.1h0M158.4 187.1h0M166.8 176.4h0M167.3 177.7h0M164.5 178.3h0M166.4 177.1h0M175.2 182.9h0M164.6 179.2h0M162.4 180.2h0M170.8 175.5h0M166.6 176.5h0M160.6 178.6h0M166.1 178.7h0M167.1 177.2h0M163.5 174.4h0M168.2 176.6h0M163.4 178.7h0M169.8 174.6h0M163.8 176.8h0M165.3 176.4h0M165.4 178.1h0M166.7 175.4h0M171.5 182.3h0M167 173.3h0M165.3 179.9h0M164.8 177.7h0M170.4 176.3h0M166.1 174.5h0M166.7 180.2h0M169.2 177.2h0M162.9 175.8h0M167.6 182h0M162.5 179.5h0M169.4 173.6h0M165.3 182.2h0M169.9 176.6h0M169.8 176.2h0M167.5 177.8h0M163.6 176.4h0M169.8 177.1h0M169.9 176.2h0M162.9 179.5h0M166.5 176.2h0M160.1 176h0M162.1 178.1h0M162.2 176.1h0M165.5 179.9h0M163.3 176.4h0M162.5 179.8h0M164.2 182.4h0M163.6 178.6h0M165.5 179.1h0M163.6 180.9h0M167.2 173.3h0M170.3 177h0M166.4 173.2h0M168.1 175.4h0M166 175.2h0M163.2 181h0M167.6 176.8h0M167 177.9h0M167.1 178.4h0M168.6 176.3h0M166.3 179.5h0M167.3 173.1h0M170.8 175.8h0M167.2 177.9h0M169.1 173.4h0M169.9 177.4h0M169.5 174.6h0M161.5 179.4h0M163.5 174.6h0M163.9 178.7h0M164.1 174.9h0M168.8 180.3h0M162.5 178.1h0M162.4 174.3h0M164.3 178.3h0M163.9 177.2h0M169.9 175.4h0M170.8 179.5h0M169.1 179.6h0M169.7 175.8h0M166.9 178h0M162.6 180h0M166.6 176.6h0M167.1 178.5h0M162.9 178h0M163.9 180.2h0M163.5 177.6h0M168.7 176.9h0M168.4 174.7h0M169.6 176.7h0M162.6 165.9h0M169.5 176.2h0M166.5 181.3h0M163.2 180.6h0M166.7 176.7h0M170.3 175.6h0M165.7 176.7h0M165.4 183.3h0M161.5 178.8h0M169.7 176.5h0M163.8 176.2h0M164.4 179.6h0M170.8 176h0M168.2 178.6h0M167.2 182.2h0M165.2 176.5h0M161.6 179.5h0M167.2 176.1h0M163.9 179.2h0M163.2 176.2h0M168.9 174.8h0M166.6 182.5h0M167.3 176.8h0M168.6 178.9h0M169.5 177.1h0M163.4 178.6h0M165 181.5h0M167.9 177.2h0M164.9 180.9h0M162.6 180.3h0M170.2 177.2h0M163.1 181.2h0M164.3 179.1h0M164.7 182.7h0M164.4 176.8h0M169 176.5h0M170.1 178h0M164.2 180.9h0M170.5 179.7h0M168.2 176.3h0M164.8 181.1h0M168.9 173.4h0M170.3 176.2h0M164 180.3h0M167.9 179h0M163.2 176h0M163.6 181.4h0M164.2 172.9h0M170 178.1h0M167.5 183.3h0M168.5 177.8h0M170.1 178.5h0M169.2 177h0M164.7 178.8h0M168.5 174.3h0M164 176.8h0M171.1 178.2h0M170 177.9h0M167 177.6h0M168.2 176.2h0M178.2 168h0M179 164.9h0M178.1 165.3h0M181.1 167.4h0M180.3 166.8h0M180.4 168.5h0M180.7 169.4h0M178.2 165.5h0M184.4 175.3h0M180 166.7h0M177 165.9h0M178.9 168.4h0M178.7 169.7h0M178.5 170h0M175.7 165.4h0M180.2 168h0M176.2 166.7h0M177.1 166.4h0M178.9 168.7h0M181.9 167.7h0M180.7 165.3h0M182.8 172.4h0M179.3 165.3h0M180.1 168.7h0M180.5 168h0M179.6 168.4h0M181.4 168.8h0M179 167h0M176.4 167.5h0M179.7 167.4h0M178 166.7h0M176.4 165.2h0M180.8 165.5h0M179.8 168.1h0M182.2 167.8h0M178.7 165.6h0M182 168.6h0M179.4 170.1h0M180 167.6h0M176.9 165.2h0M180.4 170.1h0M176.4 167.7h0M177.2 169.1h0M178.6 165.7h0M176 167.8h0M177.2 167.1h0M178.7 172.5h0M180.9 165.7h0M176.8 166.4h0M179.8 164.5h0M177.1 165.4h0M177.6 163.9h0M181 167.5h0M178 171.4h0M177 169.6h0M181.2 168.9h0M178.9 169h0M178.8 169.9h0M178.7 167.7h0M179.1 170.5h0M179.9 170.8h0M178.1 166.9h0M181.4 168.9h0M178.7 169.4h0M182.6 168.8h0M177.9 166.7h0M178.8 169.9h0M178.7 167.1h0M176.7 169.3h0M181.6 168.4h0M177.4 165.9h0M176.4 165.5h0M179.4 170.1h0M182 168.1h0M181.3 168.8h0M170.4 157.6h0M178.7 167.1h0M179 169.4h0M182 169.4h0M180.1 168.4h0M176.4 168.1h0M181 165.9h0M178.6 166.6h0M180.8 168.4h0M177.9 170.3h0M178.7 171h0M181 168.8h0M182.6 170.4h0M180.7 166.3h0M181.3 166.5h0M175.9 166.5h0M178.4 166.7h0M179.3 166.5h0M192.8 157.6h0M190.8 158.7h0M193.7 161.2h0M190.9 159.8h0M190.3 163.7h0M195.1 162.7h0M189.8 157.7h0M190.6 161.5h0M192.5 164.5h0M195.3 163.1h0M191.9 163.1h0M190.8 164.1h0M190.6 159.4h0M191.9 160.4h0M193.1 162.1h0M190.7 163.1h0M192.6 165.1h0M192.2 164.8h0M192.6 157.6h0M192.3 165.2h0M190.6 163.5h0M190.6 162.2h0M192.1 162h0M190.8 160.6h0M192.3 161.8h0M191.4 163.4h0M194.2 160.1h0M193.4 160.3h0M190.6 160.3h0M195.8 164.5h0M193.1 162.6h0M193 166.1h0M190.9 159.9h0M191.4 159.9h0M191.8 164.3h0M190.7 163.9h0M191.2 164.1h0M189.6 154.9h0M192.5 160.8h0M189.7 162.3h0M191.3 160.7h0M194 159.6h0M191.7 160.4h0M193.7 160.9h0M191.4 160h0M193.6 159.2h0M190.4 158.2h0M190.5 158.3h0M193 161h0M192.2 161.7h0M191.4 163.6h0M192.1 162.4h0M189.5 161.5h0M191.9 164h0M190.3 162h0M191.5 159.9h0M193.9 159.4h0M190.2 163.5h0M190.7 163.2h0M191 160.8h0M193.2 161.5h0M193.2 158.9h0M193.3 160.1h0M191.6 163.2h0M194.1 159.5h0M191.4 162.8h0M189.6 161.1h0M190.8 162.3h0M192.3 161.2h0M189.8 161.8h0M193.6 159.9h0M189.2 160.8h0M190.9 160.7h0M190.1 162.6h0M190.7 160.2h0M190.4 163.9h0M193.8 163.4h0M192.8 163h0M192.3 158.5h0M201.1 154.7h0M201 153.8h0M216.1 152.7h0M206.7 156.2h0M217.9 155.7h0M207.5 157.7h0M214.9 152.1h0M222.6 156.4h0M208.5 160.5h0M204.2 156.7h0M207.7 156.8h0M220.8 152.7h0M209.8 153.9h0M207.1 157.7h0M220.9 151.8h0M222.8 152.1h0M216.4 152.7h0M204.6 155.9h0M212.2 157.9h0M215.6 155.2h0M211.6 154.7h0M204.7 157.1h0M203.5 151.6h0M215.9 154.9h0M220.8 153.6h0M206.5 156.6h0M216.6 152.5h0M210.6 153.4h0M208.2 157.4h0M210.8 154.9h0M218.7 149.8h0M219 153.9h0M201.6 157.1h0M212.3 156.6h0M208.6 157.2h0M213.7 151.4h0M209.3 155.9h0M205.4 158.2h0M219.2 150.9h0M204.4 156.6h0M212.3 157.3h0M205.9 157.3h0M216.8 150.4h0M223.4 150.5h0M213.5 152.4h0M210.5 155.5h0M218.6 159.2h0M217.7 155.3h0M214.5 171.1h0M214.5 152.2h0M202.3 153.9h0M222.8 152h0M201.2 155.1h0M202.6 158.4h0M213.6 155.9h0M220.3 151.2h0M213.3 154.1h0M210.7 153.6h0M207.6 159.5h0M200.2 155.8h0M208.9 153.9h0M222.6 151.8h0M206.4 156.2h0M217 153.3h0M208 156.5h0M210.2 154.2h0M215.4 153.7h0M207.1 158.1h0M212.9 157.1h0M201.7 155.1h0M206.7 154.4h0M206 157.3h0M211.9 153.2h0M201.3 159.6h0M206.1 155.5h0M221.8 154h0M224 154h0M222.4 151h0M221.7 154.8h0M206 157.8h0M207.6 158.9h0M205 155.2h0M217.4 151.7h0M213.5 150.8h0M204.3 155.7h0M201.1 158.3h0M203.1 158.9h0M204.4 155.3h0M217.5 153.9h0M217.8 152h0M214.7 155.2h0M201.4 157.7h0M219 152h0M205.4 159.6h0M210.3 156.3h0M222.4 152.8h0M209.1 157.9h0M211.8 155.1h0M221.4 152h0M203.7 161.1h0M210.5 155.9h0M208.8 154.9h0M211.8 156.4h0M218.1 151.7h0M214 158.4h0M221.1 151.7h0M214.8 153.9h0M213.9 152.6h0M205.1 159.9h0M222 158.3h0M212.4 156.7h0M216.1 152.6h0M216.9 154.4h0M223.2 155.2h0M206.1 156.8h0M212.3 154.5h0M203.5 156.4h0M220.5 149.7h0M207.2 154.9h0M216.9 153.8h0M207.5 156.2h0M203.8 155.8h0M205.9 155.1h0M202.1 155.1h0M221.3 150.6h0M213.7 154.4h0M218.9 154.8h0M217.4 146.8h0M206.9 156.9h0M223.7 148.5h0M208.5 154.7h0M207.6 155.9h0M206.1 152.9h0M220.6 153.6h0M214.5 159.1h0M224.1 152.7h0M213.5 157.2h0M205.5 160.8h0M213.5 152.9h0M205.7 157.9h0M221.1 152.2h0M213.2 154.6h0M219.9 152.6h0M219.8 152.9h0M205.6 157.8h0M208.8 159.1h0M214.5 154.1h0M215.7 148.6h0M209 154.5h0M216.3 155.2h0M220.6 151h0M207.9 152.8h0M222.8 153.7h0M214.6 154.4h0M218.8 152.9h0M207.2 154.4h0M214.6 149.8h0M214.6 151.3h0M205.9 155.1h0M206.5 156.7h0M208 157.6h0M215.3 155.7h0M212 153.7h0M218.5 151h0M217.3 153.1h0M220.9 152.6h0M212 157.4h0M216.4 164.3h0M214.2 156.2h0M201.7 154.7h0M220.2 150.4h0M223.5 152.8h0M217.3 154.5h0M217.9 154.1h0M208.4 159.6h0M213.3 153h0M222.6 156.1h0M204.9 162.5h0M212 153.7h0M220.7 156.6h0M212.9 155.6h0M209 158.9h0M204.9 155.7h0M203.8 156.9h0M213.8 164.3h0M221.2 151.3h0M222.1 152.4h0M205.3 156.5h0M215.8 154.4h0M209.9 151h0M208.5 152.7h0M214.4 151.1h0M216.5 151.9h0M212.6 155.8h0M200.8 157.8h0M201.3 156.3h0M212.7 155.7h0M218.9 155h0M217.2 153.8h0M214.1 151.9h0M215.3 153.8h0M217 151.6h0M202 161.2h0M212 155.1h0M221.2 151.3h0M214.3 153.2h0M222.3 151.8h0M214.3 155.5h0M203.4 157.9h0M200.8 157.6h0M222.5 151h0M205.3 157.9h0M211.3 156.9h0M210 154.6h0M209.8 157.4h0M213 157.7h0M204.4 156.1h0M212.6 151.9h0M211.7 158.9h0M202.9 157.5h0M207.5 157.8h0M213.9 152.7h0M222.4 150.8h0M209.8 157.1h0M207.3 155.5h0M204.9 153h0M218 152.8h0M204.1 160.1h0M219.9 151.5h0M212.3 153.7h0M213.4 151h0M210.6 147h0M217.3 150.4h0M204.5 156.7h0M222.4 152.7h0M215.8 146.1h0M207.7 158.6h0M221.6 151.9h0M220.7 151h0M217.7 154.4h0M218.3 155.5h0M204.3 158.9h0M211.5 154.2h0M213.8 153.9h0M205.8 155.9h0M219.7 152.5h0M210.3 156h0M221.7 153.9h0M208.1 161.3h0M221.6 155h0M218.4 154.1h0M210.1 154.3h0M212.6 153.3h0M216.2 154.2h0M211.1 153.2h0M213.7 158.7h0M211.9 157h0M210.8 158.7h0M211.9 153.7h0M208.6 155.4h0M218.9 151.5h0M223.3 152.8h0M212 156.4h0M205.3 157.2h0M207.8 152.8h0M208.1 157.5h0M217.3 154h0M203.6 162h0M214.6 153.8h0M206.4 157.1h0M205.5 158.1h0M216.9 154.7h0M215.5 153.6h0M214.3 151.2h0M218.7 156.2h0M221.4 150.8h0M208.5 160.1h0M211.1 156h0M218.2 155.1h0M218.9 155.3h0M202.4 152.9h0M210.8 156h0M217.4 156.2h0M211.6 155.8h0M200.9 153.4h0M201.1 158.3h0M204.3 155.9h0M208.2 157.2h0M219.1 153.1h0M205.4 154.4h0M212.4 154.6h0M216.2 154.5h0M203.9 157.1h0M217.8 155.1h0M201.1 155.3h0M209.1 159.1h0M201.4 155.1h0M210.4 156.4h0M224.1 152h0M221.3 152.7h0M202 156.4h0M220 161.9h0M210.6 156.2h0M200.5 156.8h0M222.3 155.1h0M206.9 158.4h0M212.7 156.6h0M209 156.5h0M214.8 156.8h0M210.5 164.1h0M200.1 155.5h0M212.9 152.2h0M223.4 156.5h0M213.9 154.2h0M223.7 153.1h0M211 158.6h0M215.6 149.6h0M206.1 157.1h0M206.5 152.6h0M224 150.8h0M222.8 155.7h0M206.3 156.6h0M222.4 155.2h0M201.5 158.5h0M201 157.7h0M224.1 153.6h0M207 155.1h0M223.7 153.6h0M206.3 158.5h0M202 153.9h0M216.4 152.6h0M216.5 150.6h0M220.8 148h0M219.6 152.1h0M216.2 155.5h0M219.9 155h0M208.2 152h0M203.4 154.2h0M218.6 152.5h0M218.5 152.9h0M219.9 153.2h0M210.8 158.3h0M213.8 155.4h0M223 155.4h0M210.2 155.1h0M208.5 156.7h0M223.9 157.5h0M202 154.6h0M202.6 154.4h0M208.3 153h0M213.7 155.2h0M201.9 155h0M209.6 151.7h0M224 154h0M214.6 156.3h0M212.9 158.2h0M222.6 153.1h0M207.4 155.6h0M214.2 153.5h0M222.9 152.7h0M210.2 153.1h0M215.9 152.6h0M223.6 152.9h0M216.6 152.4h0M209.8 154.1h0M217.4 150.7h0M223.9 153h0M220.9 152h0M204.6 153.9h0M219 153.4h0M203.5 153.5h0M200.3 154.8h0"/><path fill="none" stroke="#6a3030" stroke-width="1" stroke-linecap="round" d="M251 140.9h0M247.2 148.3h0M271.7 148.4h0M273.1 145.7h0M245.1 165.8h0M244.9 150.4h0M259.9 170.4h0M253.8 160.1h0M289.5 188.1h0M272.9 174.2h0M287.9 155.8h0M281.3 181h0M286.7 160.8h0M280.6 158.9h0M276.7 173.5h0M291 174.2h0M300.2 199.2h0M309 211.1h0M305.2 201.1h0M331.9 195.9h0M309.6 216.2h0M315.6 198.1h0M346.1 248.9h0M316.4 231.1h0M333.8 223.2h0M323.2 232.6h0M317.1 243.7h0M322.2 266h0M323.8 273.1h0M324.9 281.5h0M327 268.2h0M334.3 271.5h0M324 264.4h0M325.7 299h0M305.9 299.3h0M311.5 306.9h0M324.8 295.7h0M310.7 299.8h0M286.4 326.6h0M302.8 333.6h0M295.2 330.4h0M281 321.1h0M290.5 332.5h0M275.6 350.3h0M262.1 332.9h0M258.3 333.3h0M260.7 333.9h0M270.2 341.1h0M237 338.3h0M235.3 345.7h0M233.6 340.4h0M247.8 358.3h0M207.4 351h0M213.7 355.3h0M213.2 359.8h0M207.2 337.8h0M196.3 331.7h0M189.1 336.6h0M192.8 334.8h0M176.7 345.4h0M164.8 338.7h0M158.6 338.5h0M150.5 324.6h0M160.5 340.1h0M137.4 302.2h0M146.2 306.3h0M148.4 298.8h0M147.2 308.3h0M145.3 286.5h0M125.7 280.7h0M122 285.6h0M138.9 279.1h0M134.9 256h0M138.5 257.5h0M116.3 256h0M143 246.8h0M135.6 235.5h0M145.8 243.6h0M140.9 222.8h0M119.1 219.8h0M133.9 215.3h0M137.1 205.4h0M151.6 207.4h0M143.3 204.9h0M151 179.7h0M165.8 197h0M160.9 169.6h0M166.9 179.7h0M181.7 167.9h0M183.9 145.6h0M212.4 163.1h0M221 142h0M208.7 153.5h0M215.8 155.4h0M211.6 146.8h0"/>
<text transform="translate(205.6 37.2) rotate(-6.5)" text-anchor="middle" font-size="4.6" fill="#555">miR-106a-363</text>
<text transform="translate(68.6 108.2) rotate(-48)" text-anchor="middle" font-size="4.6" fill="#555">RPL28</text>
<path fill="#e8e8e8" d="M429.81 15.28A185.2 185.2 0 0 1 467.84 13.49L466.04 45.64A153 153 0 0 0 434.62 47.12ZM435.79 54.83A145.2 145.2 0 0 1 465.61 53.43L463.98 82.58A116 116 0 0 0 440.15 83.7ZM441.5 92.6A107 107 0 0 1 463.47 91.57L461.74 122.52A76 76 0 0 0 446.14 123.25Z"/>
<path fill="none" stroke="#fbfbfb" stroke-width="1" d="M434.02 43.14A157.03 157.03 0 0 1 466.27 41.62M433.42 39.16A161.05 161.05 0 0 1 466.49 37.6M432.82 35.18A165.07 165.07 0 0 1 466.71 33.58M432.21 31.2A169.1 169.1 0 0 1 466.94 29.56M431.61 27.22A173.12 173.12 0 0 1 467.16 25.54M431.01 23.24A177.15 177.15 0 0 1 467.39 21.53M430.41 19.26A181.17 181.17 0 0 1 467.61 17.51M439.61 80.1A119.65 119.65 0 0 1 464.18 78.94M439.06 76.49A123.3 123.3 0 0 1 464.38 75.29M438.52 72.88A126.95 126.95 0 0 1 464.59 71.65M437.97 69.27A130.6 130.6 0 0 1 464.79 68M437.42 65.66A134.25 134.25 0 0 1 464.99 64.36M436.88 62.05A137.9 137.9 0 0 1 465.2 60.72M436.33 58.44A141.55 141.55 0 0 1 465.4 57.07M445.56 119.42A79.88 79.88 0 0 1 461.96 118.65M444.98 115.59A83.75 83.75 0 0 1 462.18 114.78M444.4 111.76A87.62 87.62 0 0 1 462.39 110.91M443.82 107.93A91.5 91.5 0 0 1 462.61 107.04M443.24 104.1A95.38 95.38 0 0 1 462.82 103.17M442.66 100.27A99.25 99.25 0 0 1 463.04 99.3M442.08 96.43A103.12 103.12 0 0 1 463.26 95.44"/>
<path fill="#000" d="M447.7 124.95A74.1 74.1 0 0 1 460.86 124.38L460.69 128.07A70.4 70.4 0 0 0 448.19 128.62Z"/>
<path fill="#006e60" d="M466 45.6A153 153 0 0 0 434.6 47.1L433.2 37.8 433.9 37.7L432.4 27.4 433.1 27.3L433.2 28.1 434 28L435.1 36.5 435.8 36.4L436 37.7 436.7 37.6L436.4 35.3 437.1 35.2L437.7 39.6 438.3 39.5L437.7 34.2 438.4 34.2L438.6 35.9 439.3 35.8L439 33.3 439.7 33.2L439.3 29.3 440 29.2L440.8 36.9 441.5 36.9L441.5 36.4 442.2 36.4L442.2 36.5 442.9 36.4L441.3 18.8 442.1 18.7L443.3 33.5 444 33.4L443.9 31.3 444.6 31.2L443.9 23 444.7 22.9L445.7 36.7 446.4 36.7L446.4 36.8 447.1 36.7L446.7 30.8 447.4 30.7L446.7 18.7 447.5 18.6L447.8 25.1 448.6 25L449 32.9 449.7 32.9L449.9 36.9 450.6 36.9L450.3 30.4 451 30.4L450.7 22.2 451.5 22.2L452 37.7 452.7 37.7L452.2 22.9 453 22.9L453.4 37.9 454.1 37.9L454 33.8 454.7 33.7L454.7 37.1 455.4 37.1L455.2 19.9 456 19.9L456 20.9 456.8 20.9L456.7 18.2 457.5 18.2L457.5 22.4 458.3 22.4L458.2 35.4 458.9 35.4L458.9 38.1 459.6 38.1L459.6 37.2 460.3 37.3L460.6 18.8 461.4 18.8L461 35.9 461.7 35.9L461.8 31.3 462.5 31.3L462.5 33.4 463.2 33.5L463.5 23.1 464.3 23.2L464.4 18.9 465.2 19L464.6 33.7 465.3 33.7L465.2 35.7 465.9 35.7L466.6 22.7 467.3 22.7Z"/>
<path fill="none" stroke="#f28a1a" stroke-width="1.3" stroke-linecap="square" d="M445.2 66h0M443.3 68.1h0M440.5 66.9h0M454.1 64.7h0M461.7 66.1h0M449.9 66.1h0M443.3 67.8h0M447.8 65.4h0M463.2 67.1h0M442.8 71.1h0M439.1 65.9h0M439.5 68.2h0M450.8 66.3h0M440.8 68.1h0M457.2 64.6h0M458.6 67.1h0M447.6 67.4h0M449.3 68.5h0M460.3 67.5h0M453.3 66.8h0M441.1 69.3h0M457 68.7h0M457.1 67.1h0M441 67.7h0M439.7 68.3h0M456.2 66.8h0M454.1 63.9h0M446.3 66.9h0M443.7 65.6h0M449.7 64.2h0M447 66.8h0M458.9 66.7h0M460.7 67.2h0M442.1 66h0M459.7 65.1h0M445.8 68h0M450 66.4h0M454.4 65.3h0M446.5 64.8h0M441.7 74.9h0M460.6 64.4h0M446.5 66.1h0M439 64.9h0M459.5 65.2h0M442.2 65.5h0M454.5 65.6h0M458.9 64.4h0M450.7 66.7h0M439.4 69h0M445.6 66.3h0M456.2 67.6h0M448.6 66.5h0M461.5 63.9h0M441.9 65.6h0M454.4 65.2h0M460.7 66.7h0M462.3 67.7h0M456.8 65.7h0M454.8 66.2h0M463.2 66.9h0M452.2 65.9h0M460.1 67h0M441.1 68.4h0M450.9 64.7h0M459 64.2h0M447.1 65.7h0M442.2 66.1h0M459.8 65h0M462.3 68.8h0M444.3 66.6h0M446.1 66.8h0M459.8 67.6h0M446.7 68h0M443.9 65.3h0M462.9 67.6h0M452.2 66.4h0M453.8 63.3h0M448.8 65.8h0M452.9 67.8h0M452.2 66.1h0M462.7 65.4h0M442 67.4h0M459.2 65h0M443.7 67.5h0M462 62.2h0M443.5 65.4h0M455.9 66.5h0M441.3 66.1h0M442 67.8h0M452 66.2h0M448.3 67.5h0M443.8 66.1h0M454.8 68.2h0M460.2 66.5h0M457.3 65.2h0M446.8 68.7h0M444 64.4h0M444.8 66.7h0M445.1 64.9h0M458.5 64.9h0M448.8 66.4h0M455.8 66.2h0M463 65.2h0M451.3 65.3h0M443.4 65.4h0M452.5 65.9h0M453 65.7h0M459.8 65.5h0M461.9 65.8h0M450.3 66h0M447.1 67.8h0M453.8 65.3h0M456.3 65.7h0M457.2 66.6h0M443.5 64.8h0M461.1 65h0M456.4 65.1h0M453.8 67.3h0M463.3 65.9h0M457.4 66.8h0M459.1 68h0M456.1 64.8h0M457.9 67.5h0M447.2 65.5h0M439.2 68.3h0M444.5 65.5h0M455.4 66.9h0M452 64.8h0M463.7 67.3h0M463.1 70.1h0M454.1 66.1h0M440.2 68h0M448.1 65.7h0M452.5 65.7h0M462.8 69.4h0M459 67.5h0M453.7 66.1h0M442.8 67.2h0M443.5 71.3h0M462.4 66.1h0M452 67h0M455.1 66.7h0M445.9 67.1h0M445.2 69.3h0M442.7 66.8h0M457.5 69.3h0M463.5 65.8h0M449.5 66.4h0M463.1 66.1h0M456.8 64.7h0M463.2 65.6h0M454.4 67.4h0M443.8 65.5h0M449.8 65.8h0M450.2 66.4h0M458.2 64.6h0M463.8 64.5h0M441.7 67.5h0M458.4 66.8h0M455.9 66.8h0M453.6 67.3h0M445.1 68h0M461.6 65.9h0M445.6 66.8h0M454.3 65h0M440.9 66.3h0M452.6 66.9h0M444.1 67.5h0M457.4 65.8h0M459 66.4h0M458 65.8h0M459 64.9h0M455.1 65.1h0M457.4 66.1h0M449.5 66.6h0M440.7 66.7h0M452.9 67.8h0M458.1 65.9h0M444.2 67h0M456.9 66.4h0M445.8 65.9h0M447.9 65.6h0M456.5 68.3h0M461.5 67.1h0M458.8 66.4h0M462.1 65.2h0M445.1 67.3h0M448.6 65.5h0M443.9 68.6h0M459.6 66.8h0M443.2 66.7h0M439.7 69.5h0M452.5 68.7h0M458.8 67.2h0M452.4 66h0M457.2 66.5h0M441 67.5h0M455 66.5h0M444.3 66.6h0M448.7 67.7h0M462.9 66.8h0M456.8 67.2h0M461.6 67.8h0M460.1 65h0M459.6 64h0M451.9 67.9h0M458.8 67.1h0M457.3 65.5h0M448.1 66h0M446 65.9h0M440.3 67.4h0M458.1 65.5h0M440.6 68.5h0M439.7 66.9h0M443.4 66.6h0M453.6 65.3h0M443.4 66.9h0M446.5 65.8h0M459.2 66.9h0M461.6 66h0M452.4 64.9h0M440.1 67.5h0M458.8 67.1h0M445.6 65.7h0M455.2 66.1h0M448.1 66.2h0M456.6 66.6h0M446.9 66.9h0M460.4 67.6h0M445.5 66.8h0M442.6 66.9h0M459.9 66.1h0M440.9 67.3h0M450.7 64.5h0M462.6 68h0M458.5 67.2h0M461.7 64.4h0M452.3 65h0M442.7 66.4h0M440.8 67.9h0"/>
<path fill="none" stroke="#e31a1f" stroke-width="1.3" stroke-linecap="square" d="M452.7 108.2h0M446.6 109.4h0M452.5 106.1h0M445 109.1h0M456.8 107.7h0M444.7 107.4h0M458.3 107.5h0M451 106.7h0M449.8 108.7h0M449 107.4h0M457.2 109h0M457 105.7h0M458.8 107.4h0M456.3 107.5h0M448 109.9h0M446.1 107.4h0M447.3 107.7h0M460.4 107.2h0M453.5 109h0M451.4 109.4h0M451.7 107h0M461.5 107.8h0M456 108h0M450.6 108.2h0M446.6 109.4h0M458.8 107h0M447.4 108.2h0M450.9 110.2h0M447.2 109.1h0M456.9 110.7h0M447.9 107h0M446.2 109h0M454.5 108.2h0M450.9 108.9h0M446.8 107.9h0M454 108h0M454.3 108.1h0M458.7 105.6h0M446.8 108.1h0M448.9 109h0M458.9 107.3h0M445.1 107.5h0M461.6 106.6h0M456.2 108.4h0M451.5 112.6h0M448.2 109.3h0M447.3 109.4h0M453.5 107.1h0M454.5 110h0M456.1 106.6h0M461 108.8h0M455.4 108.5h0M457.6 107.8h0M459 109h0M451.8 109.2h0M453.7 107.4h0M451.9 105.8h0M457.1 108.3h0M457.2 109.2h0M454.9 108.8h0M447 109.6h0M445.6 108.2h0M453.7 107.9h0M448.7 107.4h0M460.3 106.4h0M451.9 108.3h0M448.5 108.3h0M446.6 109.8h0M447.7 115.6h0M448.9 108.8h0M450.1 106.2h0M451.4 107.2h0M454.7 107.6h0M450 108.1h0M460.7 106.8h0M449.8 108.3h0M460 107.2h0M452.7 106.1h0M459.7 107.2h0M448 108.4h0M445.4 107.4h0M460.1 106.9h0M456.9 106.8h0M452.2 106.8h0M448.6 108.8h0M447.6 106.9h0M456 107.6h0M459.8 108.8h0M448.7 109h0M449.2 106h0M446.1 107.5h0M453.8 108.3h0M454.9 108h0M446.1 107.8h0M457.6 107.8h0M447.8 107.5h0M461.6 106.8h0M451.3 107.8h0M453.2 107.4h0M450.8 106.9h0M458.1 109h0M456.4 108h0M461 107.1h0M455 106.3h0M452.2 107.7h0M448.9 110h0M448.8 111.4h0M454.9 108.4h0M454.5 107.4h0M445.1 109.1h0M452.2 108.7h0M445.9 108.3h0M454.5 109.6h0M447.3 108.9h0M445.5 109.2h0M449.1 106.9h0M446.2 108.3h0M447.5 108.9h0M458.9 107.8h0M450.9 108.4h0M461.3 106.8h0M461.5 107.6h0M452.5 108h0M459.9 108.1h0M451.4 108.3h0M445.2 107.7h0M457.7 107.9h0M454.1 108.6h0M452.5 107.1h0M461.4 108.3h0M445.9 112.2h0M450.5 107.3h0M459.4 109.6h0M451.5 109.2h0M451.2 107.9h0M447.9 109h0M447.5 108.2h0M449.9 107.5h0M461.6 108.8h0M451.4 109.9h0M456.5 109.4h0M447.8 107.7h0M451.3 106.6h0M450.9 108.8h0M460.6 109h0M460.3 103.9h0M450.2 108.4h0M450.2 107.8h0M453.5 107h0M445.4 108.3h0M454.8 107h0M454 107.7h0M456.8 107.9h0M447 106.8h0M449.5 108.4h0M459.5 108.9h0M449.8 109.3h0M445.1 108.1h0M454.3 106.9h0M456.2 110.4h0M448.5 108.8h0M459.5 109.2h0M455.5 107h0M445.7 108h0M450.4 108.9h0M451.6 108h0M447.6 108.8h0M450.6 108.7h0M447.4 109.8h0M456.7 110.2h0M451.4 108.3h0M445.6 108.3h0M454.7 108.8h0M445.1 108.5h0M459.9 108.6h0M447.9 108.7h0M455.2 106.9h0M460.8 108.2h0M455.4 108.6h0M449.5 108.9h0M459.6 112.7h0M446.9 107h0M450.1 109.9h0M447.8 106.2h0M456.3 107.8h0M451.4 108h0M453.2 108.7h0M454.3 108.9h0M461.2 108.4h0M450 107.3h0M456.6 108.8h0M447.7 110.8h0M453.1 108.8h0M457.5 108.2h0M448.8 108.2h0M453.4 107h0M445.8 108.2h0M446.6 108.3h0M457.9 108.4h0M459.6 107.6h0M449.2 110h0M456.9 107.9h0M456.9 108.3h0M459.1 107h0M454.4 109.3h0M458.9 107.1h0M447 109.5h0M447.5 105.2h0M454.6 105.4h0M456.4 108.8h0M455.5 109.7h0M445.4 107.2h0M446.6 107.7h0M461.7 107.7h0M450.2 106.9h0M451.1 107.8h0M458.4 107.4h0M455.3 108.6h0M461.4 109.1h0M458.4 106.8h0"/>
<g opacity="0.99"><text transform="translate(471.4 5.3) scale(0.94 1.08)" font-size="7.9" font-weight="bold" text-anchor="middle">Legend</text><text transform="translate(469.5 15.9) scale(0.94 1.08)" font-size="6.1">16</text><text transform="translate(468.6 33.8) scale(0.94 1.08)" font-size="6.1">6.4</text><text transform="translate(468 44.4) scale(0.94 1.08)" font-size="6.1">0</text><text transform="translate(500.5 21.3) scale(0.94 1.08)" font-size="6.1" font-weight="bold" text-anchor="middle">miRNA/mRNA</text><text transform="translate(500.5 28.6) scale(0.94 1.08)" font-size="6.1" font-weight="bold" text-anchor="middle">Expression</text><text transform="translate(500.5 35.9) scale(0.94 1.08)" font-size="6.1" text-anchor="middle" fill="#333">(log2 RPM/</text><text transform="translate(500.5 43) scale(0.94 1.08)" font-size="6.1" text-anchor="middle" fill="#333">FPKM)</text><text transform="translate(467 56.9) scale(0.94 1.08)" font-size="6.1">2.17</text><text transform="translate(466.2 68) scale(0.94 1.08)" font-size="6.1">0</text><text transform="translate(464.3 84.3) scale(0.94 1.08)" font-size="6.1">-2.64</text><text transform="translate(493.1 60.5) scale(0.94 1.08)" font-size="6.1" font-weight="bold" text-anchor="middle">log2 fold</text><text transform="translate(493.1 67.7) scale(0.94 1.08)" font-size="6.1" font-weight="bold" text-anchor="middle">change</text><text transform="translate(493.1 75) scale(0.94 1.08)" font-size="6.1" font-weight="bold" text-anchor="middle">Relapse/</text><text transform="translate(493.1 82.3) scale(0.94 1.08)" font-size="6.1" font-weight="bold" text-anchor="middle">Primary</text><text transform="translate(464.3 95.6) scale(0.94 1.08)" font-size="6.1">3.34</text><text transform="translate(464.3 109.7) scale(0.94 1.08)" font-size="6.1">0</text><text transform="translate(462.5 123.8) scale(0.94 1.08)" font-size="6.1">-3.32</text><text transform="translate(494.4 100.5) scale(0.94 1.08)" font-size="6.1" font-weight="bold" text-anchor="middle">log2 fold</text><text transform="translate(494.4 107.7) scale(0.94 1.08)" font-size="6.1" font-weight="bold" text-anchor="middle">change</text><text transform="translate(494.4 114.9) scale(0.94 1.08)" font-size="6.1" font-weight="bold" text-anchor="middle">Refractory/</text><text transform="translate(494.4 122.1) scale(0.94 1.08)" font-size="6.1" font-weight="bold" text-anchor="middle">Primary</text></g>
</svg></body></html>
